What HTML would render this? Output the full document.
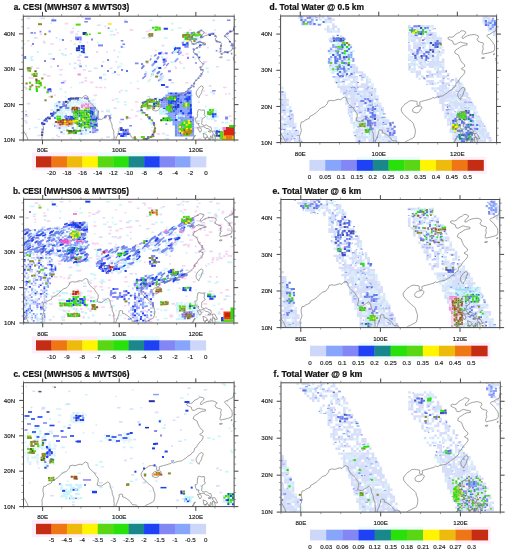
<!DOCTYPE html>
<html><head><meta charset="utf-8"><style>
html,body{margin:0;padding:0;background:#fff;}
svg{display:block;}
.lb{font-family:"Liberation Sans",sans-serif;font-size:6.2px;fill:#1a1a1a;stroke:#1a1a1a;stroke-width:0.15px;}
.tt{font-family:"Liberation Sans",sans-serif;font-size:8.6px;font-weight:bold;fill:#111;}
</style></head><body>
<svg width="509" height="550" viewBox="0 0 509 550">
<defs><filter id="bl" x="-5%" y="-5%" width="110%" height="110%"><feGaussianBlur stdDeviation="0.75"/></filter><filter id="tb" x="-1%" y="-1%" width="102%" height="102%"><feGaussianBlur stdDeviation="0.2"/></filter></defs>
<rect width="509" height="550" fill="#fff"/>
<clipPath id="clipa"><rect x="23.3" y="16.2" width="210.9" height="123.8"/></clipPath>
<g clip-path="url(#clipa)">
<g filter="url(#bl)">
<path d="M77.4 16.2h1.8v1.6h-1.8zM64.7 22.8h3.6v1.6h-3.6zM129.6 29.1h3.6v1.6h-3.6zM188.9 29.2h2.7v1.6h-2.7zM70.3 30.8h3.6v1.6h-3.6zM145.8 30.7h3.6v1.6h-3.6zM228.4 30.6h1.8v1.6h-1.8zM116.8 32.1h1.8v1.6h-1.8zM203.2 32.3h3.6v1.6h-3.6zM39.6 33.6h2.7v1.6h-2.7zM226.9 35.3h1.8v1.6h-1.8zM26.9 40.0h2.7v1.6h-2.7zM43.1 40.4h1.8v1.6h-1.8zM50.3 43.2h3.6v1.6h-3.6zM30.5 44.8h1.8v1.6h-1.8zM185.3 53.2h3.6v1.6h-3.6zM181.5 54.5h2.7v1.6h-2.7zM186.9 56.2h1.8v1.6h-1.8zM203.2 61.1h3.6v1.6h-3.6zM79.3 62.6h1.8v1.6h-1.8zM179.8 62.7h2.7v1.6h-2.7zM30.3 65.9h2.7v1.6h-2.7zM116.9 66.0h2.7v1.6h-2.7zM59.3 69.0h3.6v1.6h-3.6zM82.9 69.1h2.7v1.6h-2.7zM77.1 73.6h1.8v1.6h-1.8zM143.7 73.9h3.6v1.6h-3.6zM46.9 75.3h3.6v1.6h-3.6zM28.6 76.8h2.7v1.6h-2.7zM30.6 77.2h3.6v1.6h-3.6zM84.4 77.1h2.7v1.6h-2.7zM84.5 80.1h2.7v1.6h-2.7zM89.9 81.6h3.6v1.6h-3.6zM185.1 82.0h3.6v1.6h-3.6zM95.3 86.4h2.7v1.6h-2.7zM98.8 86.7h3.6v1.6h-3.6zM223.0 86.7h3.6v1.6h-3.6zM25.0 88.1h2.7v1.6h-2.7zM136.8 88.0h2.7v1.6h-2.7zM120.6 89.6h1.8v1.6h-1.8zM225.0 93.2h1.8v1.6h-1.8zM93.5 94.6h3.6v1.6h-3.6zM205.2 94.4h2.7v1.6h-2.7zM48.3 96.0h2.7v1.6h-2.7zM111.7 99.5h2.7v1.6h-2.7zM162.1 99.3h1.8v1.6h-1.8zM66.3 100.9h3.6v1.6h-3.6zM134.8 101.2h3.6v1.6h-3.6zM131.3 109.2h1.8v1.6h-1.8zM145.5 108.8h3.6v1.6h-3.6zM61.2 112.1h3.6v1.6h-3.6zM25.0 115.6h3.6v1.6h-3.6zM66.5 115.6h1.8v1.6h-1.8zM135.0 115.3h2.7v1.6h-2.7zM228.7 115.3h2.7v1.6h-2.7zM127.7 117.1h3.6v1.6h-3.6zM185.1 117.2h3.6v1.6h-3.6zM140.3 118.5h1.8v1.6h-1.8zM178.2 120.2h1.8v1.6h-1.8zM230.2 120.0h1.8v1.6h-1.8zM91.5 121.6h3.6v1.6h-3.6zM86.3 126.6h1.8v1.6h-1.8zM188.9 126.7h2.7v1.6h-2.7zM151.0 130.0h1.8v1.6h-1.8zM214.2 131.5h3.6v1.6h-3.6zM25.3 132.8h1.8v1.6h-1.8zM73.7 133.2h2.7v1.6h-2.7zM156.5 133.1h3.6v1.6h-3.6zM162.1 132.8h2.7v1.6h-2.7zM57.6 136.0h2.7v1.6h-2.7zM113.1 136.4h3.6v1.6h-3.6zM69.9 137.6h1.8v1.6h-1.8zM100.5 137.7h2.7v1.6h-2.7z" fill="#fad2f0"/>
<path d="M81.1 16.3h2.7v1.6h-2.7zM26.7 17.6h3.6v1.6h-3.6zM41.5 17.6h3.6v1.6h-3.6zM52.2 17.8h1.8v1.6h-1.8zM124.0 19.4h2.7v1.6h-2.7zM212.4 19.6h2.7v1.6h-2.7zM107.7 22.8h3.6v1.6h-3.6zM96.9 24.4h3.6v1.6h-3.6zM104.4 25.6h1.8v1.6h-1.8zM26.9 27.4h2.7v1.6h-2.7zM115.0 29.0h1.8v1.6h-1.8zM149.5 29.2h1.8v1.6h-1.8zM77.4 30.7h1.8v1.6h-1.8zM70.2 32.1h2.7v1.6h-2.7zM212.3 32.1h2.7v1.6h-2.7zM75.4 33.6h2.7v1.6h-2.7zM113.1 34.0h2.7v1.6h-2.7zM34.0 37.1h3.6v1.6h-3.6zM55.7 37.1h1.8v1.6h-1.8zM147.6 36.9h3.6v1.6h-3.6zM69.9 40.2h1.8v1.6h-1.8zM43.0 41.9h2.7v1.6h-2.7zM78.9 41.6h2.7v1.6h-2.7zM86.5 41.7h1.8v1.6h-1.8zM161.7 44.8h2.7v1.6h-2.7zM207.0 46.8h1.8v1.6h-1.8zM64.8 48.1h1.8v1.6h-1.8zM113.5 49.6h1.8v1.6h-1.8zM154.8 49.7h1.8v1.6h-1.8zM106.0 51.2h1.8v1.6h-1.8zM61.0 52.9h2.7v1.6h-2.7zM70.1 52.9h1.8v1.6h-1.8zM160.3 53.0h3.6v1.6h-3.6zM78.9 54.6h2.7v1.6h-2.7zM77.1 56.4h2.7v1.6h-2.7zM198.0 56.0h2.7v1.6h-2.7zM50.1 57.9h3.6v1.6h-3.6zM77.2 59.6h3.6v1.6h-3.6zM107.7 59.6h1.8v1.6h-1.8zM226.6 59.5h3.6v1.6h-3.6zM102.5 61.0h1.8v1.6h-1.8zM115.3 61.2h1.8v1.6h-1.8zM73.7 62.4h2.7v1.6h-2.7zM145.8 62.4h2.7v1.6h-2.7zM163.5 62.6h1.8v1.6h-1.8zM142.3 64.2h1.8v1.6h-1.8zM50.3 66.0h1.8v1.6h-1.8zM216.0 66.0h2.7v1.6h-2.7zM35.9 67.5h3.6v1.6h-3.6zM73.5 67.4h2.7v1.6h-2.7zM93.7 67.4h2.7v1.6h-2.7zM109.6 67.5h2.7v1.6h-2.7zM88.0 70.4h3.6v1.6h-3.6zM43.0 73.7h3.6v1.6h-3.6zM59.4 73.9h2.7v1.6h-2.7zM158.5 75.4h3.6v1.6h-3.6zM161.7 75.2h2.7v1.6h-2.7zM162.0 76.8h1.8v1.6h-1.8zM104.4 78.7h1.8v1.6h-1.8zM62.7 80.3h3.6v1.6h-3.6zM81.1 81.6h2.7v1.6h-2.7zM170.7 81.9h3.6v1.6h-3.6zM208.8 85.1h2.7v1.6h-2.7zM23.2 86.4h3.6v1.6h-3.6zM104.2 86.7h1.8v1.6h-1.8zM187.2 88.2h3.6v1.6h-3.6zM203.3 90.0h1.8v1.6h-1.8zM118.7 91.3h1.8v1.6h-1.8zM212.4 92.8h2.7v1.6h-2.7zM228.4 93.0h1.8v1.6h-1.8zM53.9 94.6h1.8v1.6h-1.8zM177.9 94.7h1.8v1.6h-1.8zM189.1 94.6h3.6v1.6h-3.6zM147.3 96.0h2.7v1.6h-2.7zM232.0 98.0h2.7v1.6h-2.7zM198.0 101.2h1.8v1.6h-1.8zM26.7 102.8h3.6v1.6h-3.6zM172.9 104.1h1.8v1.6h-1.8zM113.4 107.4h3.6v1.6h-3.6zM50.3 109.2h2.7v1.6h-2.7zM24.9 110.6h1.8v1.6h-1.8zM100.9 110.6h2.7v1.6h-2.7zM106.3 110.7h3.6v1.6h-3.6zM136.5 110.6h3.6v1.6h-3.6zM167.2 110.4h1.8v1.6h-1.8zM57.3 112.4h3.6v1.6h-3.6zM226.6 117.0h1.8v1.6h-1.8zM108.0 118.7h2.7v1.6h-2.7zM89.9 120.3h3.6v1.6h-3.6zM196.2 120.2h3.6v1.6h-3.6zM214.0 120.0h2.7v1.6h-2.7zM25.0 121.9h2.7v1.6h-2.7zM118.9 121.6h2.7v1.6h-2.7zM221.3 121.7h2.7v1.6h-2.7zM150.9 123.4h1.8v1.6h-1.8zM57.6 125.1h3.6v1.6h-3.6zM181.9 126.4h2.7v1.6h-2.7zM194.5 126.8h3.6v1.6h-3.6zM28.7 128.1h1.8v1.6h-1.8zM214.2 129.8h1.8v1.6h-1.8zM118.5 132.8h3.6v1.6h-3.6zM37.5 134.7h2.7v1.6h-2.7zM55.9 134.6h1.8v1.6h-1.8zM106.3 136.3h3.6v1.6h-3.6zM165.4 137.9h3.6v1.6h-3.6zM197.8 138.0h3.6v1.6h-3.6z" fill="#dcdcfa"/>
<path d="M158.1 16.2h3.6v1.6h-3.6zM39.5 17.7h2.7v1.6h-2.7zM149.1 19.5h3.6v1.6h-3.6zM50.3 22.6h1.8v1.6h-1.8zM171.0 22.8h2.7v1.6h-2.7zM99.0 24.3h1.8v1.6h-1.8zM72.0 27.5h2.7v1.6h-2.7zM178.0 27.2h3.6v1.6h-3.6zM171.0 29.1h2.7v1.6h-2.7zM214.0 29.1h1.8v1.6h-1.8zM109.8 30.5h3.6v1.6h-3.6zM183.5 32.0h3.6v1.6h-3.6zM109.9 34.0h2.7v1.6h-2.7zM142.0 37.1h3.6v1.6h-3.6zM163.9 37.2h3.6v1.6h-3.6zM198.0 37.2h2.7v1.6h-2.7zM59.1 38.7h2.7v1.6h-2.7zM97.1 41.9h1.8v1.6h-1.8zM23.1 43.2h2.7v1.6h-2.7zM73.6 43.6h2.7v1.6h-2.7zM122.4 46.5h2.7v1.6h-2.7zM77.4 49.6h3.6v1.6h-3.6zM118.6 51.4h1.8v1.6h-1.8zM48.3 53.2h3.6v1.6h-3.6zM84.5 53.2h1.8v1.6h-1.8zM62.7 54.4h3.6v1.6h-3.6zM30.5 56.1h2.7v1.6h-2.7zM30.3 57.8h1.8v1.6h-1.8zM194.4 57.8h1.8v1.6h-1.8zM30.4 59.5h3.6v1.6h-3.6zM156.3 60.8h1.8v1.6h-1.8zM120.6 62.8h1.8v1.6h-1.8zM77.5 64.2h3.6v1.6h-3.6zM118.6 65.6h2.7v1.6h-2.7zM174.3 65.8h1.8v1.6h-1.8zM95.5 67.6h2.7v1.6h-2.7zM117.1 67.2h1.8v1.6h-1.8zM205.2 67.6h3.6v1.6h-3.6zM151.3 70.5h3.6v1.6h-3.6zM111.7 72.4h2.7v1.6h-2.7zM102.7 73.8h3.6v1.6h-3.6zM116.7 74.0h3.6v1.6h-3.6zM100.5 78.8h1.8v1.6h-1.8zM136.7 80.4h1.8v1.6h-1.8zM79.0 82.0h1.8v1.6h-1.8zM129.7 82.0h1.8v1.6h-1.8zM70.2 86.7h1.8v1.6h-1.8zM59.3 88.3h2.7v1.6h-2.7zM124.3 89.9h3.6v1.6h-3.6zM167.1 89.8h1.8v1.6h-1.8zM64.6 91.3h1.8v1.6h-1.8zM210.3 91.5h3.6v1.6h-3.6zM64.8 96.2h1.8v1.6h-1.8zM81.0 97.7h1.8v1.6h-1.8zM114.9 97.9h3.6v1.6h-3.6zM156.7 97.6h2.7v1.6h-2.7zM91.5 99.5h3.6v1.6h-3.6zM116.7 101.2h2.7v1.6h-2.7zM123.9 101.2h2.7v1.6h-2.7zM149.1 101.1h2.7v1.6h-2.7zM55.5 102.7h1.8v1.6h-1.8zM62.9 102.8h1.8v1.6h-1.8zM177.9 102.5h2.7v1.6h-2.7zM124.0 104.0h2.7v1.6h-2.7zM185.5 105.8h2.7v1.6h-2.7zM205.0 106.0h1.8v1.6h-1.8zM106.0 109.2h3.6v1.6h-3.6zM163.6 109.2h2.7v1.6h-2.7zM187.0 109.0h3.6v1.6h-3.6zM73.5 112.3h1.8v1.6h-1.8zM90.0 112.0h2.7v1.6h-2.7zM176.3 112.4h1.8v1.6h-1.8zM50.4 114.0h2.7v1.6h-2.7zM89.8 114.0h3.6v1.6h-3.6zM109.7 113.8h2.7v1.6h-2.7zM167.2 113.6h3.6v1.6h-3.6zM53.7 115.5h3.6v1.6h-3.6zM199.7 117.1h2.7v1.6h-2.7zM37.7 118.4h2.7v1.6h-2.7zM126.0 118.5h1.8v1.6h-1.8zM23.4 120.1h3.6v1.6h-3.6zM149.5 122.0h2.7v1.6h-2.7zM224.9 121.8h3.6v1.6h-3.6zM51.9 123.4h3.6v1.6h-3.6zM61.1 123.4h2.7v1.6h-2.7zM187.3 125.0h1.8v1.6h-1.8zM34.1 126.7h3.6v1.6h-3.6zM151.3 126.4h1.8v1.6h-1.8zM232.0 126.5h3.6v1.6h-3.6zM93.4 128.3h3.6v1.6h-3.6zM203.4 131.6h3.6v1.6h-3.6zM165.5 134.5h3.6v1.6h-3.6zM187.0 134.5h3.6v1.6h-3.6zM147.6 136.3h3.6v1.6h-3.6zM212.1 136.4h3.6v1.6h-3.6zM52.2 137.6h1.8v1.6h-1.8zM78.9 137.8h1.8v1.6h-1.8zM111.3 138.0h1.8v1.6h-1.8z" fill="#c8f5fa"/>
<path d="M226.9 19.5h3.6v1.6h-3.6zM84.3 20.9h3.6v1.6h-3.6zM124.3 21.1h3.6v1.6h-3.6zM107.7 27.3h1.8v1.6h-1.8zM39.6 30.8h1.8v1.6h-1.8zM30.5 32.1h2.7v1.6h-2.7zM34.0 32.2h1.8v1.6h-1.8zM147.7 33.9h2.7v1.6h-2.7zM120.7 40.0h2.7v1.6h-2.7zM122.4 43.5h2.7v1.6h-2.7zM192.6 48.3h1.8v1.6h-1.8zM215.7 49.9h1.8v1.6h-1.8zM194.3 53.2h1.8v1.6h-1.8zM84.6 56.3h3.6v1.6h-3.6zM192.4 56.4h1.8v1.6h-1.8zM134.9 62.6h3.6v1.6h-3.6zM79.3 65.6h2.7v1.6h-2.7zM26.7 67.2h3.6v1.6h-3.6zM151.2 73.6h2.7v1.6h-2.7zM60.9 81.9h3.6v1.6h-3.6zM48.3 88.0h2.7v1.6h-2.7zM212.1 90.0h3.6v1.6h-3.6zM77.2 99.5h3.6v1.6h-3.6zM181.8 110.8h2.7v1.6h-2.7zM142.1 112.0h3.6v1.6h-3.6zM25.3 114.0h1.8v1.6h-1.8zM88.3 115.4h2.7v1.6h-2.7zM120.4 118.7h3.6v1.6h-3.6zM70.3 121.8h2.7v1.6h-2.7zM165.5 123.2h1.8v1.6h-1.8zM129.3 124.9h2.7v1.6h-2.7zM80.8 129.9h2.7v1.6h-2.7zM127.8 133.1h2.7v1.6h-2.7zM226.6 134.8h2.7v1.6h-2.7zM185.4 137.8h1.8v1.6h-1.8z" fill="#8287f5"/>
<path d="M145.4 100.5h1.8v1.5h-1.8z" fill="#87a5fa"/>
<path d="M146.2 100.5h1.8v1.5h-1.8z" fill="#8287f5"/>
<path d="M148.7 98.4h1.8v1.5h-1.8z" fill="#8287f5"/>
<path d="M151.3 99.2h1.8v1.5h-1.8z" fill="#8287f5"/>
<path d="M158.4 100.4h1.8v1.5h-1.8z" fill="#8287f5"/>
<path d="M158.8 98.9h1.8v1.5h-1.8z" fill="#1e41f5"/>
<path d="M161.6 98.2h1.8v1.5h-1.8z" fill="#1e41f5"/>
<path d="M164.7 97.7h1.8v1.5h-1.8z" fill="#8287f5"/>
<path d="M166.4 98.2h1.8v1.5h-1.8z" fill="#8287f5"/>
<path d="M167.9 96.6h1.8v1.5h-1.8z" fill="#8287f5"/>
<path d="M167.6 97.2h1.8v1.5h-1.8z" fill="#8287f5"/>
<path d="M171.3 95.0h1.8v1.5h-1.8z" fill="#8287f5"/>
<path d="M172.0 96.2h1.8v1.5h-1.8z" fill="#87a5fa"/>
<path d="M172.9 96.6h1.8v1.5h-1.8z" fill="#8287f5"/>
<path d="M174.5 94.8h1.8v1.5h-1.8z" fill="#1e41f5"/>
<path d="M175.4 95.2h1.8v1.5h-1.8z" fill="#8287f5"/>
<path d="M178.5 93.1h1.8v1.5h-1.8z" fill="#8287f5"/>
<path d="M180.8 92.7h1.8v1.5h-1.8z" fill="#8287f5"/>
<path d="M182.2 92.4h1.8v1.5h-1.8z" fill="#8287f5"/>
<path d="M187.9 87.9h1.8v1.5h-1.8z" fill="#8287f5"/>
<path d="M189.7 86.7h1.8v1.5h-1.8z" fill="#8287f5"/>
<path d="M190.8 84.7h1.8v1.5h-1.8z" fill="#8287f5"/>
<path d="M192.9 85.9h1.8v1.5h-1.8z" fill="#8287f5"/>
<path d="M193.4 83.0h1.8v1.5h-1.8z" fill="#8287f5"/>
<path d="M193.2 82.5h1.8v1.5h-1.8z" fill="#8287f5"/>
<path d="M195.1 79.6h1.8v1.5h-1.8z" fill="#8287f5"/>
<path d="M197.8 77.5h1.8v1.5h-1.8z" fill="#8287f5"/>
<path d="M199.6 75.4h1.8v1.5h-1.8z" fill="#8287f5"/>
<path d="M200.6 73.8h1.8v1.5h-1.8z" fill="#87a5fa"/>
<path d="M200.5 73.0h1.8v1.5h-1.8z" fill="#8287f5"/>
<path d="M201.6 69.1h1.8v1.5h-1.8z" fill="#8287f5"/>
<path d="M200.0 69.1h1.8v1.5h-1.8z" fill="#8287f5"/>
<path d="M199.6 66.5h1.8v1.5h-1.8z" fill="#8287f5"/>
<path d="M202.6 62.8h1.8v1.5h-1.8z" fill="#87a5fa"/>
<path d="M198.4 56.8h1.8v1.5h-1.8z" fill="#1e41f5"/>
<path d="M196.0 54.3h1.8v1.5h-1.8z" fill="#87a5fa"/>
<path d="M195.7 53.6h1.8v1.5h-1.8z" fill="#8287f5"/>
<path d="M193.0 49.1h1.8v1.5h-1.8z" fill="#8287f5"/>
<path d="M196.2 47.2h1.8v1.5h-1.8z" fill="#8287f5"/>
<path d="M198.9 46.2h1.8v1.5h-1.8z" fill="#8287f5"/>
<path d="M199.1 44.6h1.8v1.5h-1.8z" fill="#1e41f5"/>
<path d="M199.7 44.5h1.8v1.5h-1.8z" fill="#1e41f5"/>
<path d="M203.7 43.8h1.8v1.5h-1.8z" fill="#8287f5"/>
<path d="M202.3 42.6h1.8v1.5h-1.8z" fill="#8287f5"/>
<path d="M200.3 41.6h1.8v1.5h-1.8z" fill="#87a5fa"/>
<path d="M198.9 40.8h1.8v1.5h-1.8z" fill="#8287f5"/>
<path d="M197.7 41.9h1.8v1.5h-1.8z" fill="#87a5fa"/>
<path d="M196.7 41.6h1.8v1.5h-1.8z" fill="#8287f5"/>
<path d="M194.8 42.9h1.8v1.5h-1.8z" fill="#8287f5"/>
<path d="M192.9 43.5h1.8v1.5h-1.8z" fill="#8287f5"/>
<path d="M191.5 43.1h1.8v1.5h-1.8z" fill="#87a5fa"/>
<path d="M189.2 40.1h1.8v1.5h-1.8z" fill="#8287f5"/>
<path d="M189.2 39.6h1.8v1.5h-1.8z" fill="#8287f5"/>
<path d="M187.5 35.4h1.8v1.5h-1.8z" fill="#1e41f5"/>
<path d="M187.5 35.1h1.8v1.5h-1.8z" fill="#8287f5"/>
<path d="M188.7 36.6h1.8v1.5h-1.8z" fill="#1e41f5"/>
<path d="M191.7 34.6h1.8v1.5h-1.8z" fill="#8287f5"/>
<path d="M192.5 36.1h1.8v1.5h-1.8z" fill="#87a5fa"/>
<path d="M197.2 31.0h1.8v1.5h-1.8z" fill="#87a5fa"/>
<path d="M197.1 31.7h1.8v1.5h-1.8z" fill="#87a5fa"/>
<path d="M198.5 30.7h1.8v1.5h-1.8z" fill="#87a5fa"/>
<path d="M198.5 31.3h1.8v1.5h-1.8z" fill="#8287f5"/>
<path d="M200.4 29.6h1.8v1.5h-1.8z" fill="#8287f5"/>
<path d="M200.5 35.5h1.8v1.5h-1.8z" fill="#8287f5"/>
<path d="M200.5 34.9h1.8v1.5h-1.8z" fill="#8287f5"/>
<path d="M200.1 36.4h1.8v1.5h-1.8z" fill="#1e41f5"/>
<path d="M200.2 36.5h1.8v1.5h-1.8z" fill="#8287f5"/>
<path d="M201.6 36.3h1.8v1.5h-1.8z" fill="#8287f5"/>
<path d="M208.2 33.6h1.8v1.5h-1.8z" fill="#8287f5"/>
<path d="M210.5 32.8h1.8v1.5h-1.8z" fill="#8287f5"/>
<path d="M209.8 33.5h1.8v1.5h-1.8z" fill="#8287f5"/>
<path d="M212.3 33.2h1.8v1.5h-1.8z" fill="#1e41f5"/>
<path d="M214.2 35.4h1.8v1.5h-1.8z" fill="#8287f5"/>
<path d="M215.5 39.9h1.8v1.5h-1.8z" fill="#87a5fa"/>
<path d="M215.8 40.7h1.8v1.5h-1.8z" fill="#8287f5"/>
<path d="M216.8 41.0h1.8v1.5h-1.8z" fill="#8287f5"/>
<path d="M219.0 41.6h1.8v1.5h-1.8z" fill="#87a5fa"/>
<path d="M220.2 44.9h1.8v1.5h-1.8z" fill="#1e41f5"/>
<path d="M220.1 44.8h1.8v1.5h-1.8z" fill="#8287f5"/>
<path d="M219.4 47.9h1.8v1.5h-1.8z" fill="#8287f5"/>
<path d="M219.8 50.5h1.8v1.5h-1.8z" fill="#8287f5"/>
<path d="M220.8 53.5h1.8v1.5h-1.8z" fill="#8287f5"/>
<path d="M224.1 51.0h1.8v1.5h-1.8z" fill="#8287f5"/>
<path d="M225.8 51.3h1.8v1.5h-1.8z" fill="#8287f5"/>
<path d="M226.8 51.8h1.8v1.5h-1.8z" fill="#1e41f5"/>
<path d="M232.2 47.7h1.8v1.5h-1.8z" fill="#87a5fa"/>
<path d="M232.1 45.1h1.8v1.5h-1.8z" fill="#8287f5"/>
<path d="M230.4 44.7h1.8v1.5h-1.8z" fill="#8287f5"/>
<path d="M232.1 43.3h1.8v1.5h-1.8z" fill="#87a5fa"/>
<path d="M231.4 43.7h1.8v1.5h-1.8z" fill="#8287f5"/>
<path d="M228.9 40.9h1.8v1.5h-1.8z" fill="#1e41f5"/>
<path d="M224.5 35.7h1.8v1.5h-1.8z" fill="#8287f5"/>
<path d="M223.9 35.5h1.8v1.5h-1.8z" fill="#87a5fa"/>
<path d="M226.4 32.9h1.8v1.5h-1.8z" fill="#1e41f5"/>
<path d="M227.0 32.6h1.8v1.5h-1.8z" fill="#8287f5"/>
<path d="M229.9 30.5h1.8v1.5h-1.8z" fill="#8287f5"/>
<path d="M229.4 30.7h1.8v1.5h-1.8z" fill="#1e41f5"/>
<path d="M233.2 29.3h1.8v1.5h-1.8z" fill="#1e41f5"/>
<path d="M233.1 28.3h1.8v1.5h-1.8z" fill="#1e41f5"/>
<path d="M233.8 27.4h1.8v1.5h-1.8z" fill="#87a5fa"/>
<path d="M40.9 134.1h2.2v1.8h-2.2z" fill="#2832a0"/>
<path d="M41.2 131.5h2.2v1.8h-2.2z" fill="#2832a0"/>
<path d="M41.4 128.6h2.2v1.8h-2.2z" fill="#8287f5"/>
<path d="M41.4 122.9h2.2v1.8h-2.2z" fill="#1e41f5"/>
<path d="M41.1 122.1h2.2v1.8h-2.2z" fill="#1e41f5"/>
<path d="M44.1 119.5h2.2v1.8h-2.2z" fill="#2832a0"/>
<path d="M45.7 117.3h2.2v1.8h-2.2z" fill="#8287f5"/>
<path d="M45.1 118.1h2.2v1.8h-2.2z" fill="#1e41f5"/>
<path d="M47.0 116.6h2.2v1.8h-2.2z" fill="#1e41f5"/>
<path d="M51.1 113.4h2.2v1.8h-2.2z" fill="#8287f5"/>
<path d="M53.0 112.8h2.2v1.8h-2.2z" fill="#1e41f5"/>
<path d="M53.4 110.9h2.2v1.8h-2.2z" fill="#1e41f5"/>
<path d="M56.1 109.2h2.2v1.8h-2.2z" fill="#2832a0"/>
<path d="M60.2 107.3h2.2v1.8h-2.2z" fill="#8287f5"/>
<path d="M61.8 106.0h2.2v1.8h-2.2z" fill="#1e41f5"/>
<path d="M64.2 104.8h2.2v1.8h-2.2z" fill="#8287f5"/>
<path d="M65.1 104.6h2.2v1.8h-2.2z" fill="#2832a0"/>
<path d="M65.7 103.4h2.2v1.8h-2.2z" fill="#1e41f5"/>
<path d="M67.2 102.4h2.2v1.8h-2.2z" fill="#8287f5"/>
<path d="M67.8 101.2h2.2v1.8h-2.2z" fill="#1e41f5"/>
<path d="M68.7 100.0h2.2v1.8h-2.2z" fill="#2832a0"/>
<path d="M69.1 98.8h2.2v1.8h-2.2z" fill="#8287f5"/>
<path d="M70.2 98.0h2.2v1.8h-2.2z" fill="#8287f5"/>
<path d="M86.4 97.8h2.2v1.8h-2.2z" fill="#8287f5"/>
<path d="M88.2 100.5h2.2v1.8h-2.2z" fill="#8287f5"/>
<path d="M90.3 103.8h2.2v1.8h-2.2z" fill="#8287f5"/>
<path d="M93.5 106.0h2.2v1.8h-2.2z" fill="#8287f5"/>
<path d="M96.8 110.6h2.2v1.8h-2.2z" fill="#8287f5"/>
<path d="M96.6 111.7h2.2v1.8h-2.2z" fill="#8287f5"/>
<path d="M96.5 114.3h2.2v1.8h-2.2z" fill="#87a5fa"/>
<path d="M96.6 115.9h2.2v1.8h-2.2z" fill="#8287f5"/>
<path d="M97.0 118.3h2.2v1.8h-2.2z" fill="#8287f5"/>
<path d="M104.0 116.6h2.2v1.8h-2.2z" fill="#8287f5"/>
<path d="M104.2 115.8h2.2v1.8h-2.2z" fill="#8287f5"/>
<path d="M104.8 115.0h2.2v1.8h-2.2z" fill="#87a5fa"/>
<path d="M108.6 115.1h2.2v1.8h-2.2z" fill="#8287f5"/>
<path d="M108.9 116.9h2.2v1.8h-2.2z" fill="#87a5fa"/>
<path d="M109.1 117.1h2.2v1.8h-2.2z" fill="#8287f5"/>
<path d="M142.8 138.3h2.2v1.8h-2.2z" fill="#8c8c28"/>
<path d="M143.7 139.5h2.2v1.8h-2.2z" fill="#8c8c28"/>
<path d="M145.3 138.0h2.2v1.8h-2.2z" fill="#1e41f5"/>
<path d="M145.5 137.9h2.2v1.8h-2.2z" fill="#1e41f5"/>
<path d="M147.0 137.1h2.2v1.8h-2.2z" fill="#1e41f5"/>
<path d="M147.1 136.3h2.2v1.8h-2.2z" fill="#1e41f5"/>
<path d="M147.1 136.9h2.2v1.8h-2.2z" fill="#8c8c28"/>
<path d="M149.8 136.1h2.2v1.8h-2.2z" fill="#8c8c28"/>
<path d="M150.8 135.5h2.2v1.8h-2.2z" fill="#8c8c28"/>
<path d="M152.3 135.3h2.2v1.8h-2.2z" fill="#8c8c28"/>
<path d="M151.7 133.6h2.2v1.8h-2.2z" fill="#1e41f5"/>
<path d="M152.8 131.4h2.2v1.8h-2.2z" fill="#8c8c28"/>
<path d="M153.6 130.8h2.2v1.8h-2.2z" fill="#8c8c28"/>
<path d="M153.5 129.2h2.2v1.8h-2.2z" fill="#8c8c28"/>
<path d="M153.9 127.3h2.2v1.8h-2.2z" fill="#8c8c28"/>
<path d="M153.0 124.1h2.2v1.8h-2.2z" fill="#8c8c28"/>
<path d="M152.7 122.3h2.2v1.8h-2.2z" fill="#1e41f5"/>
<path d="M150.8 119.4h2.2v1.8h-2.2z" fill="#5ad714"/>
<path d="M148.4 117.6h2.2v1.8h-2.2z" fill="#1e41f5"/>
<path d="M148.4 116.4h2.2v1.8h-2.2z" fill="#1e41f5"/>
<path d="M147.1 116.1h2.2v1.8h-2.2z" fill="#5ad714"/>
<path d="M146.0 114.0h2.2v1.8h-2.2z" fill="#8c8c28"/>
<path d="M145.0 114.0h2.2v1.8h-2.2z" fill="#8c8c28"/>
<path d="M141.4 111.8h2.2v1.8h-2.2z" fill="#5ad714"/>
<path d="M140.4 109.4h2.2v1.8h-2.2z" fill="#1e41f5"/>
<path d="M140.7 106.2h2.2v1.8h-2.2z" fill="#8c8c28"/>
<path d="M141.0 105.1h2.2v1.8h-2.2z" fill="#8c8c28"/>
<path d="M142.4 104.2h2.2v1.8h-2.2z" fill="#5ad714"/>
<path d="M141.8 101.9h2.2v1.8h-2.2z" fill="#1e41f5"/>
<path d="M142.8 101.4h2.2v1.8h-2.2z" fill="#8c8c28"/>
<path d="M144.5 100.9h2.2v1.8h-2.2z" fill="#1e41f5"/>
<path d="M146.7 100.0h2.2v1.8h-2.2z" fill="#8c8c28"/>
<path d="M146.7 99.3h2.2v1.8h-2.2z" fill="#8c8c28"/>
<path d="M148.2 99.3h2.2v1.8h-2.2z" fill="#5ad714"/>
<path d="M154.3 97.9h2.2v1.8h-2.2z" fill="#8c8c28"/>
<path d="M154.4 98.1h2.2v1.8h-2.2z" fill="#1e41f5"/>
<path d="M156.4 101.0h2.2v1.8h-2.2z" fill="#8c8c28"/>
<path d="M155.2 102.3h2.2v1.8h-2.2z" fill="#1e41f5"/>
<path d="M156.4 101.7h2.2v1.8h-2.2z" fill="#1e41f5"/>
<path d="M51.3 19.4h5.0v2.0h-5.0z" fill="#5a78e6"/>
<path d="M84.8 17.7h6.0v2.0h-6.0z" fill="#8287f5"/>
<path d="M38.0 23.2h4.0v2.0h-4.0z" fill="#8c8c28"/>
<path d="M75.7 23.6h5.0v2.0h-5.0z" fill="#5ad714"/>
<path d="M48.6 30.4h2.0v2.0h-2.0z" fill="#8287f5"/>
<path d="M44.3 33.2h2.0v2.0h-2.0z" fill="#8c8c28"/>
<path d="M82.6 32.0h4.0v3.0h-4.0z" fill="#2832a0"/>
<path d="M85.0 33.5h3.0v2.0h-3.0z" fill="#28e10a"/>
<path d="M88.9 33.5h2.0v1.5h-2.0z" fill="#5ad714"/>
<path d="M97.9 32.4h3.0v1.5h-3.0z" fill="#5ad714"/>
<path d="M91.0 38.5h2.0v2.0h-2.0z" fill="#8287f5"/>
<path d="M98.0 44.4h5.0v2.0h-5.0z" fill="#8287f5"/>
<path d="M120.7 45.9h2.0v2.0h-2.0z" fill="#8287f5"/>
<path d="M24.2 56.0h2.0v3.0h-2.0z" fill="#5a78e6"/>
<path d="M52.8 58.0h2.0v2.0h-2.0z" fill="#8287f5"/>
<path d="M77.8 73.5h3.0v2.0h-3.0z" fill="#f08cd2"/>
<path d="M99.0 76.7h3.0v2.0h-3.0z" fill="#8287f5"/>
<path d="M107.0 70.0h2.0v2.0h-2.0z" fill="#8287f5"/>
<path d="M114.0 71.0h2.0v2.0h-2.0z" fill="#8287f5"/>
<path d="M121.0 69.0h2.0v2.0h-2.0z" fill="#8287f5"/>
<path d="M126.0 70.0h2.0v2.0h-2.0z" fill="#5a78e6"/>
<path d="M59.0 49.2h2.0v1.5h-2.0z" fill="#c8f5fa"/>
<path d="M65.0 54.0h2.0v2.0h-2.0z" fill="#c8f5fa"/>
<path d="M69.0 63.0h2.0v2.0h-2.0z" fill="#c8f5fa"/>
<path d="M85.0 65.0h2.0v2.0h-2.0z" fill="#c8f5fa"/>
<path d="M44.0 60.0h2.0v2.0h-2.0z" fill="#8287f5"/>
<path d="M57.0 65.2h2.0v1.5h-2.0z" fill="#8287f5"/>
<path d="M37.0 51.0h2.0v2.0h-2.0z" fill="#c8f5fa"/>
<path d="M108.5 23.0h3.0v2.0h-3.0z" fill="#fff500"/>
<path d="M96.0 51.0h2.0v2.0h-2.0z" fill="#fad2f0"/>
<path d="M62.0 39.0h2.0v2.0h-2.0z" fill="#8287f5"/>
<path d="M32.0 43.0h2.0v2.0h-2.0z" fill="#8287f5"/>
<path d="M107.0 59.0h2.0v2.0h-2.0z" fill="#8287f5"/>
<path d="M117.0 56.0h2.0v2.0h-2.0z" fill="#c8f5fa"/>
<path d="M101.0 65.0h2.0v2.0h-2.0z" fill="#8287f5"/>
<path d="M75.0 36.6h2.2v2.0h-2.2zM77.2 36.5h2.2v2.0h-2.2zM79.4 36.6h2.2v2.0h-2.2zM75.2 38.3h2.2v2.0h-2.2zM79.5 38.5h2.2v2.0h-2.2z" fill="#8287f5"/>
<path d="M76.9 38.2h2.2v2.0h-2.2z" fill="#1e41f5"/>
<path d="M77.9 45.2h2.2v2.0h-2.2zM82.5 44.9h2.2v2.0h-2.2zM78.0 46.9h2.2v2.0h-2.2zM75.9 49.2h2.2v2.0h-2.2zM78.0 49.2h2.2v2.0h-2.2zM82.7 51.2h2.2v2.0h-2.2z" fill="#2832a0"/>
<path d="M80.6 45.1h2.2v2.0h-2.2zM75.9 47.2h2.2v2.0h-2.2zM80.7 47.2h2.2v2.0h-2.2zM82.6 47.3h2.2v2.0h-2.2zM82.5 49.1h2.2v2.0h-2.2zM80.7 50.8h2.2v2.0h-2.2z" fill="#1e41f5"/>
<path d="M80.1 49.0h2.2v2.0h-2.2zM78.3 50.9h2.2v2.0h-2.2z" fill="#c8f5fa"/>
<path d="M26.9 67.5h2.2v2.0h-2.2zM28.8 69.8h2.2v2.0h-2.2z" fill="#8c8c28"/>
<path d="M29.4 67.4h2.2v2.0h-2.2zM27.2 69.5h2.2v2.0h-2.2z" fill="#5ad714"/>
<path d="M33.3 73.1h2.2v2.0h-2.2zM33.0 75.0h2.2v2.0h-2.2zM35.2 75.1h2.2v2.0h-2.2z" fill="#8c8c28"/>
<path d="M35.6 72.8h2.2v2.0h-2.2z" fill="#5ad714"/>
<path d="M152.0 26.8h2.2v2.0h-2.2zM156.2 26.4h2.2v2.0h-2.2zM154.5 28.9h2.2v2.0h-2.2z" fill="#28e10a"/>
<path d="M154.4 26.4h2.2v2.0h-2.2zM158.4 26.7h2.2v2.0h-2.2zM156.3 28.4h2.2v2.0h-2.2zM158.7 28.6h2.2v2.0h-2.2z" fill="#5ad714"/>
<path d="M163.7 27.8h2.2v2.0h-2.2zM165.7 27.7h2.2v2.0h-2.2z" fill="#1e41f5"/>
<path d="M148.7 32.9h2.2v2.0h-2.2zM151.1 33.1h2.2v2.0h-2.2zM148.6 34.9h2.2v2.0h-2.2zM151.0 34.8h2.2v2.0h-2.2z" fill="#8c8c28"/>
<path d="M185.3 32.0h2.2v2.0h-2.2zM187.8 32.1h2.2v2.0h-2.2zM189.8 32.0h2.2v2.0h-2.2zM187.4 33.7h2.2v2.0h-2.2zM194.1 33.9h2.2v2.0h-2.2zM183.0 35.9h2.2v2.0h-2.2zM187.5 35.9h2.2v2.0h-2.2zM192.1 35.9h2.2v2.0h-2.2zM194.2 36.0h2.2v2.0h-2.2zM196.2 36.1h2.2v2.0h-2.2zM191.8 38.0h2.2v2.0h-2.2zM196.4 38.3h2.2v2.0h-2.2zM183.3 40.2h2.2v2.0h-2.2zM187.4 40.1h2.2v2.0h-2.2zM194.1 39.9h2.2v2.0h-2.2zM185.4 42.1h2.2v2.0h-2.2zM194.0 42.0h2.2v2.0h-2.2z" fill="#c8f5fa"/>
<path d="M185.3 34.1h2.2v2.0h-2.2zM185.4 35.9h2.2v2.0h-2.2zM189.5 37.7h2.2v2.0h-2.2zM194.0 38.2h2.2v2.0h-2.2zM198.7 38.1h2.2v2.0h-2.2zM189.7 39.8h2.2v2.0h-2.2zM196.6 40.0h2.2v2.0h-2.2z" fill="#e6f5fc"/>
<path d="M186.6 31.8h2.2v2.0h-2.2zM190.9 33.8h2.2v2.0h-2.2zM193.1 34.1h2.2v2.0h-2.2zM195.2 34.3h2.2v2.0h-2.2zM186.5 36.1h2.2v2.0h-2.2zM188.8 37.9h2.2v2.0h-2.2zM193.0 37.9h2.2v2.0h-2.2z" fill="#5ad714"/>
<path d="M190.8 32.0h2.2v2.0h-2.2zM190.8 37.9h2.2v2.0h-2.2zM195.0 38.3h2.2v2.0h-2.2z" fill="#8287f5"/>
<path d="M192.8 31.7h2.2v2.0h-2.2zM184.4 35.9h2.2v2.0h-2.2zM184.5 37.9h2.2v2.0h-2.2z" fill="#28e10a"/>
<path d="M182.2 34.0h2.2v2.0h-2.2zM184.4 33.9h2.2v2.0h-2.2zM186.1 33.7h2.2v2.0h-2.2zM188.4 33.9h2.2v2.0h-2.2zM182.1 35.7h2.2v2.0h-2.2zM188.3 35.8h2.2v2.0h-2.2zM190.9 36.1h2.2v2.0h-2.2zM186.3 37.8h2.2v2.0h-2.2zM193.3 40.1h2.2v2.0h-2.2z" fill="#8c8c28"/>
<path d="M186.5 40.2h2.2v2.0h-2.2z" fill="#fff500"/>
<path d="M197.5 31.9h2.2v2.0h-2.2z" fill="#8c8c28"/>
<path d="M194.9 34.2h2.2v2.0h-2.2zM197.2 34.2h2.2v2.0h-2.2zM199.2 33.7h2.2v2.0h-2.2z" fill="#5ad714"/>
<path d="M181.7 41.7h2.2v2.0h-2.2zM186.6 44.0h2.2v2.0h-2.2zM184.3 45.7h2.2v2.0h-2.2zM186.4 45.8h2.2v2.0h-2.2z" fill="#8287f5"/>
<path d="M186.3 42.2h2.2v2.0h-2.2zM182.3 43.8h2.2v2.0h-2.2zM184.2 43.8h2.2v2.0h-2.2z" fill="#1e41f5"/>
<path d="M173.8 47.0h2.2v2.0h-2.2zM176.2 47.3h2.2v2.0h-2.2zM178.5 47.3h2.2v2.0h-2.2zM174.0 48.9h2.2v2.0h-2.2zM176.5 50.9h2.2v2.0h-2.2z" fill="#1e41f5"/>
<path d="M178.1 49.3h2.2v2.0h-2.2z" fill="#8287f5"/>
<path d="M208.7 34.0h2.2v2.0h-2.2z" fill="#1e41f5"/>
<path d="M156.7 68.1L157.5 66.6" stroke="#c8f5fa" stroke-width="2.1" stroke-linecap="round" fill="none"/>
<path d="M175.2 61.4L177.6 58.8" stroke="#87a5fa" stroke-width="1.9" stroke-linecap="round" fill="none"/>
<path d="M172.3 53.0L174.1 51.7" stroke="#8287f5" stroke-width="1.7" stroke-linecap="round" fill="none"/>
<path d="M163.6 65.3L165.0 64.0" stroke="#8287f5" stroke-width="1.4" stroke-linecap="round" fill="none"/>
<path d="M163.7 62.4L166.2 61.0" stroke="#8287f5" stroke-width="1.8" stroke-linecap="round" fill="none"/>
<path d="M144.8 74.5L146.4 72.3" stroke="#87a5fa" stroke-width="1.6" stroke-linecap="round" fill="none"/>
<path d="M165.6 59.7L167.0 57.9" stroke="#fad2f0" stroke-width="1.4" stroke-linecap="round" fill="none"/>
<path d="M148.2 81.5L150.2 79.5" stroke="#c8f5fa" stroke-width="1.8" stroke-linecap="round" fill="none"/>
<path d="M159.3 54.1L161.6 52.4M160.8 74.7L162.0 73.6" stroke="#87a5fa" stroke-width="1.8" stroke-linecap="round" fill="none"/>
<path d="M173.9 53.0L175.8 50.8M160.6 80.7L162.2 79.1" stroke="#c8f5fa" stroke-width="2.0" stroke-linecap="round" fill="none"/>
<path d="M150.2 60.0L151.0 58.7" stroke="#6e82e6" stroke-width="1.3" stroke-linecap="round" fill="none"/>
<path d="M141.9 68.2L143.8 65.9" stroke="#6e82e6" stroke-width="1.9" stroke-linecap="round" fill="none"/>
<path d="M163.4 62.2L164.8 59.9M154.6 55.9L156.0 54.8" stroke="#8287f5" stroke-width="1.5" stroke-linecap="round" fill="none"/>
<path d="M173.8 47.7L175.2 45.9" stroke="#c8f5fa" stroke-width="1.4" stroke-linecap="round" fill="none"/>
<path d="M164.2 68.4L166.3 67.4" stroke="#fad2f0" stroke-width="1.6" stroke-linecap="round" fill="none"/>
<path d="M142.8 78.3L145.4 76.0M158.6 80.6L160.9 77.9" stroke="#8287f5" stroke-width="1.6" stroke-linecap="round" fill="none"/>
<path d="M150.8 76.4L153.0 74.1M152.5 73.1L155.3 71.0" stroke="#c8f5fa" stroke-width="1.6" stroke-linecap="round" fill="none"/>
<path d="M152.8 71.3L155.3 69.1M166.5 65.5L168.4 63.5" stroke="#8287f5" stroke-width="1.3" stroke-linecap="round" fill="none"/>
<path d="M152.3 65.3L154.4 63.0" stroke="#87a5fa" stroke-width="2.1" stroke-linecap="round" fill="none"/>
<path d="M159.3 79.0L160.9 77.9M175.0 52.7L177.1 51.5" stroke="#c8f5fa" stroke-width="1.5" stroke-linecap="round" fill="none"/>
<path d="M157.4 73.3L159.3 71.9" stroke="#6e82e6" stroke-width="2.1" stroke-linecap="round" fill="none"/>
<path d="M178.8 54.1L181.0 52.4" stroke="#87a5fa" stroke-width="2.0" stroke-linecap="round" fill="none"/>
<path d="M157.4 58.8L158.5 57.1" stroke="#8287f5" stroke-width="2.0" stroke-linecap="round" fill="none"/>
<path d="M158.3 52.3h3.0v2.0h-3.0z" fill="#1e41f5"/>
<path d="M164.7 52.3h3.0v2.0h-3.0z" fill="#8287f5"/>
<path d="M154.1 60.7h3.0v2.0h-3.0z" fill="#1e41f5"/>
<path d="M162.5 58.6h3.0v2.0h-3.0z" fill="#1e41f5"/>
<path d="M145.5 60.7h3.0v2.0h-3.0z" fill="#8c8c28"/>
<path d="M158.3 67.0h3.0v2.0h-3.0z" fill="#1e41f5"/>
<path d="M155.1 75.6h3.0v2.0h-3.0z" fill="#8c8c28"/>
<path d="M167.9 70.3h3.0v2.0h-3.0z" fill="#8287f5"/>
<path d="M150.0 55.0h2.0v2.0h-2.0z" fill="#c8f5fa"/>
<path d="M161.0 56.0h2.0v2.0h-2.0z" fill="#c8f5fa"/>
<path d="M170.5 61.0h3.0v2.0h-3.0z" fill="#c8f5fa"/>
<path d="M175.0 67.0h2.0v2.0h-2.0z" fill="#fad2f0"/>
<path d="M141.0 63.0h2.0v2.0h-2.0z" fill="#8287f5"/>
<path d="M145.0 71.0h2.0v2.0h-2.0z" fill="#c8f5fa"/>
<path d="M183.0 67.0h2.0v2.0h-2.0z" fill="#c8f5fa"/>
<path d="M179.0 61.0h2.0v2.0h-2.0z" fill="#fad2f0"/>
<path d="M187.0 57.0h2.0v2.0h-2.0z" fill="#8287f5"/>
<path d="M198.0 51.0h2.0v2.0h-2.0z" fill="#c8f5fa"/>
<path d="M195.0 62.2h2.0v1.5h-2.0z" fill="#8287f5"/>
<path d="M207.0 71.0h2.0v2.0h-2.0z" fill="#c8f5fa"/>
<path d="M168.5 79.0h3.0v2.0h-3.0z" fill="#8287f5"/>
<path d="M161.0 84.0h4.0v2.0h-4.0z" fill="#1e41f5"/>
<path d="M165.5 86.0h3.0v2.0h-3.0z" fill="#8287f5"/>
<path d="M73.9 97.2h2.2v2.0h-2.2zM78.0 97.1h2.2v2.0h-2.2zM67.2 99.1h2.2v2.0h-2.2zM78.4 98.8h2.2v2.0h-2.2zM80.6 99.2h2.2v2.0h-2.2zM93.4 98.9h2.2v2.0h-2.2zM56.1 100.9h2.2v2.0h-2.2zM60.5 101.1h2.2v2.0h-2.2zM71.8 100.9h2.2v2.0h-2.2zM73.6 101.0h2.2v2.0h-2.2zM78.1 101.0h2.2v2.0h-2.2zM91.5 100.9h2.2v2.0h-2.2zM60.4 103.0h2.2v2.0h-2.2zM65.1 102.8h2.2v2.0h-2.2zM67.0 103.2h2.2v2.0h-2.2zM69.3 102.9h2.2v2.0h-2.2zM71.6 103.0h2.2v2.0h-2.2zM75.8 103.2h2.2v2.0h-2.2zM80.2 103.0h2.2v2.0h-2.2zM84.7 102.9h2.2v2.0h-2.2zM93.5 102.8h2.2v2.0h-2.2zM58.6 105.2h2.2v2.0h-2.2zM93.6 105.1h2.2v2.0h-2.2zM54.2 106.9h2.2v2.0h-2.2zM58.5 107.0h2.2v2.0h-2.2zM62.9 107.1h2.2v2.0h-2.2zM69.3 107.0h2.2v2.0h-2.2zM73.7 106.8h2.2v2.0h-2.2zM85.0 107.0h2.2v2.0h-2.2zM95.6 106.9h2.2v2.0h-2.2zM54.1 109.2h2.2v2.0h-2.2zM56.0 108.9h2.2v2.0h-2.2zM62.7 108.9h2.2v2.0h-2.2zM86.8 109.2h2.2v2.0h-2.2zM91.4 109.2h2.2v2.0h-2.2zM63.0 111.0h2.2v2.0h-2.2zM67.3 111.1h2.2v2.0h-2.2zM78.4 111.2h2.2v2.0h-2.2zM91.4 111.2h2.2v2.0h-2.2zM56.4 113.0h2.2v2.0h-2.2zM58.3 113.0h2.2v2.0h-2.2zM69.2 112.9h2.2v2.0h-2.2zM76.2 113.2h2.2v2.0h-2.2zM78.4 112.8h2.2v2.0h-2.2zM87.0 112.8h2.2v2.0h-2.2zM89.4 112.9h2.2v2.0h-2.2zM67.4 115.1h2.2v2.0h-2.2zM71.5 115.1h2.2v2.0h-2.2zM75.9 115.1h2.2v2.0h-2.2zM89.3 115.2h2.2v2.0h-2.2zM56.2 117.2h2.2v2.0h-2.2zM73.6 116.8h2.2v2.0h-2.2zM80.2 116.8h2.2v2.0h-2.2zM93.4 117.0h2.2v2.0h-2.2zM56.3 118.9h2.2v2.0h-2.2zM60.5 119.1h2.2v2.0h-2.2zM62.8 119.2h2.2v2.0h-2.2zM69.2 121.2h2.2v2.0h-2.2zM71.7 121.1h2.2v2.0h-2.2zM84.6 121.2h2.2v2.0h-2.2zM95.7 121.0h2.2v2.0h-2.2zM53.8 123.1h2.2v2.0h-2.2zM73.9 123.0h2.2v2.0h-2.2zM80.5 124.8h2.2v2.0h-2.2zM82.7 124.9h2.2v2.0h-2.2zM89.0 125.0h2.2v2.0h-2.2zM93.8 124.8h2.2v2.0h-2.2zM60.4 127.1h2.2v2.0h-2.2zM62.9 126.8h2.2v2.0h-2.2zM73.6 126.9h2.2v2.0h-2.2zM89.1 126.9h2.2v2.0h-2.2zM95.8 127.2h2.2v2.0h-2.2zM58.5 129.0h2.2v2.0h-2.2zM67.2 129.0h2.2v2.0h-2.2zM71.7 129.0h2.2v2.0h-2.2zM74.0 129.1h2.2v2.0h-2.2zM76.2 129.1h2.2v2.0h-2.2zM89.1 128.8h2.2v2.0h-2.2zM67.4 131.0h2.2v2.0h-2.2zM69.3 131.0h2.2v2.0h-2.2zM76.0 131.2h2.2v2.0h-2.2zM80.5 131.1h2.2v2.0h-2.2zM82.8 131.1h2.2v2.0h-2.2zM69.2 132.8h2.2v2.0h-2.2zM71.6 132.8h2.2v2.0h-2.2zM76.1 132.9h2.2v2.0h-2.2zM82.8 133.2h2.2v2.0h-2.2zM87.0 132.8h2.2v2.0h-2.2z" fill="#e6f5fc"/>
<path d="M75.9 97.2h2.2v2.0h-2.2zM58.2 100.9h2.2v2.0h-2.2zM62.7 101.1h2.2v2.0h-2.2zM62.7 103.1h2.2v2.0h-2.2zM82.7 102.8h2.2v2.0h-2.2zM56.0 104.8h2.2v2.0h-2.2zM62.7 105.0h2.2v2.0h-2.2zM65.1 105.2h2.2v2.0h-2.2zM65.1 107.1h2.2v2.0h-2.2zM67.2 106.9h2.2v2.0h-2.2zM78.0 107.2h2.2v2.0h-2.2zM93.8 106.9h2.2v2.0h-2.2zM58.3 108.9h2.2v2.0h-2.2zM73.7 109.1h2.2v2.0h-2.2zM75.8 109.1h2.2v2.0h-2.2zM71.4 110.8h2.2v2.0h-2.2zM73.7 111.0h2.2v2.0h-2.2zM75.9 111.0h2.2v2.0h-2.2zM82.4 111.2h2.2v2.0h-2.2zM64.9 115.0h2.2v2.0h-2.2zM78.3 115.2h2.2v2.0h-2.2zM53.9 117.1h2.2v2.0h-2.2zM64.8 117.2h2.2v2.0h-2.2zM82.6 116.9h2.2v2.0h-2.2zM91.4 116.9h2.2v2.0h-2.2zM95.7 117.1h2.2v2.0h-2.2zM58.5 118.9h2.2v2.0h-2.2zM67.1 119.2h2.2v2.0h-2.2zM89.4 119.1h2.2v2.0h-2.2zM62.9 120.8h2.2v2.0h-2.2zM65.2 121.1h2.2v2.0h-2.2zM76.2 121.2h2.2v2.0h-2.2zM82.7 121.2h2.2v2.0h-2.2zM87.2 121.0h2.2v2.0h-2.2zM60.5 122.9h2.2v2.0h-2.2zM65.2 122.9h2.2v2.0h-2.2zM80.5 122.8h2.2v2.0h-2.2zM91.6 123.0h2.2v2.0h-2.2zM95.6 123.0h2.2v2.0h-2.2zM54.2 125.1h2.2v2.0h-2.2zM67.3 124.8h2.2v2.0h-2.2zM78.3 125.1h2.2v2.0h-2.2zM95.8 125.0h2.2v2.0h-2.2zM58.4 126.9h2.2v2.0h-2.2zM71.7 126.9h2.2v2.0h-2.2zM93.8 126.8h2.2v2.0h-2.2zM84.9 129.2h2.2v2.0h-2.2zM96.0 129.2h2.2v2.0h-2.2zM60.4 131.2h2.2v2.0h-2.2zM71.8 130.9h2.2v2.0h-2.2zM73.7 131.2h2.2v2.0h-2.2zM89.3 131.1h2.2v2.0h-2.2zM80.2 132.8h2.2v2.0h-2.2z" fill="#8287f5"/>
<path d="M71.7 98.8h2.2v2.0h-2.2zM73.9 99.2h2.2v2.0h-2.2zM87.0 98.9h2.2v2.0h-2.2zM64.9 100.9h2.2v2.0h-2.2zM67.4 100.9h2.2v2.0h-2.2zM69.3 101.2h2.2v2.0h-2.2zM76.0 101.1h2.2v2.0h-2.2zM80.2 101.2h2.2v2.0h-2.2zM82.4 100.9h2.2v2.0h-2.2zM84.9 100.9h2.2v2.0h-2.2zM89.0 101.0h2.2v2.0h-2.2zM54.2 102.8h2.2v2.0h-2.2zM56.2 103.1h2.2v2.0h-2.2zM58.3 103.0h2.2v2.0h-2.2zM78.2 102.8h2.2v2.0h-2.2zM89.3 103.2h2.2v2.0h-2.2zM91.6 102.9h2.2v2.0h-2.2zM53.8 105.0h2.2v2.0h-2.2zM67.4 105.1h2.2v2.0h-2.2zM69.3 104.9h2.2v2.0h-2.2zM74.0 104.8h2.2v2.0h-2.2zM80.2 105.0h2.2v2.0h-2.2zM85.0 104.9h2.2v2.0h-2.2zM56.3 106.9h2.2v2.0h-2.2zM60.4 107.1h2.2v2.0h-2.2zM76.1 107.2h2.2v2.0h-2.2zM82.4 106.9h2.2v2.0h-2.2zM86.9 107.1h2.2v2.0h-2.2zM60.8 109.0h2.2v2.0h-2.2zM65.0 109.1h2.2v2.0h-2.2zM67.1 109.0h2.2v2.0h-2.2zM69.5 109.2h2.2v2.0h-2.2zM71.6 109.2h2.2v2.0h-2.2zM78.0 109.1h2.2v2.0h-2.2zM82.4 109.2h2.2v2.0h-2.2zM89.1 109.0h2.2v2.0h-2.2zM95.7 109.1h2.2v2.0h-2.2zM54.2 110.9h2.2v2.0h-2.2zM56.0 110.8h2.2v2.0h-2.2zM58.6 111.2h2.2v2.0h-2.2zM60.4 111.0h2.2v2.0h-2.2zM80.5 110.9h2.2v2.0h-2.2zM87.0 110.9h2.2v2.0h-2.2zM89.0 111.0h2.2v2.0h-2.2zM95.7 111.0h2.2v2.0h-2.2zM54.2 112.8h2.2v2.0h-2.2zM60.7 113.1h2.2v2.0h-2.2zM64.9 112.8h2.2v2.0h-2.2zM71.7 113.0h2.2v2.0h-2.2zM73.9 113.1h2.2v2.0h-2.2zM80.6 112.9h2.2v2.0h-2.2zM82.6 113.0h2.2v2.0h-2.2zM93.4 113.2h2.2v2.0h-2.2zM56.1 115.1h2.2v2.0h-2.2zM58.4 115.1h2.2v2.0h-2.2zM60.8 115.2h2.2v2.0h-2.2zM62.6 115.1h2.2v2.0h-2.2zM80.4 114.9h2.2v2.0h-2.2zM82.4 114.8h2.2v2.0h-2.2zM91.5 114.9h2.2v2.0h-2.2zM93.4 114.8h2.2v2.0h-2.2zM95.9 115.1h2.2v2.0h-2.2zM58.4 116.9h2.2v2.0h-2.2zM60.5 117.0h2.2v2.0h-2.2zM62.8 117.2h2.2v2.0h-2.2zM69.4 117.0h2.2v2.0h-2.2zM71.4 117.0h2.2v2.0h-2.2zM84.7 117.2h2.2v2.0h-2.2zM86.9 116.9h2.2v2.0h-2.2zM89.2 116.9h2.2v2.0h-2.2zM64.9 119.1h2.2v2.0h-2.2zM69.6 119.0h2.2v2.0h-2.2zM71.6 118.8h2.2v2.0h-2.2zM73.9 119.0h2.2v2.0h-2.2zM78.0 119.1h2.2v2.0h-2.2zM82.4 119.1h2.2v2.0h-2.2zM84.8 119.2h2.2v2.0h-2.2zM91.2 119.2h2.2v2.0h-2.2zM95.7 119.0h2.2v2.0h-2.2zM54.1 121.1h2.2v2.0h-2.2zM60.6 121.0h2.2v2.0h-2.2zM67.4 121.1h2.2v2.0h-2.2zM80.4 121.0h2.2v2.0h-2.2zM89.3 120.8h2.2v2.0h-2.2zM93.5 120.9h2.2v2.0h-2.2zM58.6 122.9h2.2v2.0h-2.2zM67.0 122.9h2.2v2.0h-2.2zM69.6 122.8h2.2v2.0h-2.2zM71.8 123.2h2.2v2.0h-2.2zM75.8 123.2h2.2v2.0h-2.2zM78.0 122.9h2.2v2.0h-2.2zM82.4 122.9h2.2v2.0h-2.2zM84.8 122.9h2.2v2.0h-2.2zM93.4 122.9h2.2v2.0h-2.2zM56.2 125.0h2.2v2.0h-2.2zM63.0 125.2h2.2v2.0h-2.2zM65.1 124.8h2.2v2.0h-2.2zM69.6 125.0h2.2v2.0h-2.2zM71.5 125.0h2.2v2.0h-2.2zM56.3 126.9h2.2v2.0h-2.2zM65.2 126.8h2.2v2.0h-2.2zM75.9 127.2h2.2v2.0h-2.2zM82.5 127.2h2.2v2.0h-2.2zM86.8 127.2h2.2v2.0h-2.2zM62.8 128.9h2.2v2.0h-2.2zM80.2 129.1h2.2v2.0h-2.2zM86.8 128.8h2.2v2.0h-2.2zM91.3 129.0h2.2v2.0h-2.2zM93.7 128.8h2.2v2.0h-2.2zM85.0 131.2h2.2v2.0h-2.2zM91.2 130.9h2.2v2.0h-2.2zM96.0 130.9h2.2v2.0h-2.2zM62.7 132.8h2.2v2.0h-2.2zM67.0 133.0h2.2v2.0h-2.2zM78.3 133.2h2.2v2.0h-2.2zM84.6 132.8h2.2v2.0h-2.2z" fill="#c8f5fa"/>
<path d="M81.1 103.1h2.0v1.8h-2.0zM83.0 103.0h2.0v1.8h-2.0zM89.0 102.8h2.0v1.8h-2.0zM85.1 104.9h2.0v1.8h-2.0zM91.2 104.7h2.0v1.8h-2.0zM82.8 106.4h2.0v1.8h-2.0z" fill="#fad2f0"/>
<path d="M85.0 103.2h2.0v1.8h-2.0zM87.2 103.2h2.0v1.8h-2.0zM81.0 104.6h2.0v1.8h-2.0zM83.0 104.8h2.0v1.8h-2.0zM87.2 104.8h2.0v1.8h-2.0zM81.0 106.4h2.0v1.8h-2.0zM85.0 106.7h2.0v1.8h-2.0zM87.1 106.5h2.0v1.8h-2.0zM89.0 106.4h2.0v1.8h-2.0zM91.2 106.8h2.0v1.8h-2.0z" fill="#f08cd2"/>
<path d="M91.2 103.0h2.0v1.8h-2.0z" fill="#c8f5fa"/>
<path d="M55.0 120.8h2.2v2.0h-2.2zM57.4 121.2h2.2v2.0h-2.2zM61.4 121.0h2.2v2.0h-2.2zM66.2 121.1h2.2v2.0h-2.2zM57.0 123.2h2.2v2.0h-2.2zM59.6 123.1h2.2v2.0h-2.2zM63.6 122.9h2.2v2.0h-2.2zM66.1 122.9h2.2v2.0h-2.2zM68.2 123.2h2.2v2.0h-2.2zM70.2 122.9h2.2v2.0h-2.2zM55.1 125.2h2.2v2.0h-2.2zM59.6 125.2h2.2v2.0h-2.2zM61.5 124.9h2.2v2.0h-2.2zM65.9 125.1h2.2v2.0h-2.2z" fill="#fad2f0"/>
<path d="M71.7 106.8h2.2v2.0h-2.2zM73.4 106.7h2.2v2.0h-2.2zM76.0 106.7h2.2v2.0h-2.2zM71.3 108.5h2.2v2.0h-2.2zM76.0 108.3h2.2v2.0h-2.2z" fill="#a0501e"/>
<path d="M74.0 108.7h2.2v2.0h-2.2z" fill="#c8230a"/>
<path d="M57.3 119.5h2.2v2.0h-2.2zM68.3 121.0h2.2v2.0h-2.2zM65.8 123.4h2.2v2.0h-2.2zM70.4 123.3h2.2v2.0h-2.2z" fill="#f0730a"/>
<path d="M59.6 119.5h2.2v2.0h-2.2zM61.9 119.1h2.2v2.0h-2.2zM63.8 119.3h2.2v2.0h-2.2zM70.3 119.0h2.2v2.0h-2.2zM57.5 121.4h2.2v2.0h-2.2zM66.3 120.9h2.2v2.0h-2.2zM72.6 121.2h2.2v2.0h-2.2zM75.0 121.5h2.2v2.0h-2.2z" fill="#a05014"/>
<path d="M65.7 118.9h2.2v2.0h-2.2zM68.2 119.0h2.2v2.0h-2.2zM55.1 121.1h2.2v2.0h-2.2zM59.6 121.1h2.2v2.0h-2.2zM61.4 121.2h2.2v2.0h-2.2zM63.5 121.4h2.2v2.0h-2.2zM70.3 121.4h2.2v2.0h-2.2zM59.2 123.5h2.2v2.0h-2.2zM61.7 123.0h2.2v2.0h-2.2zM68.2 123.0h2.2v2.0h-2.2z" fill="#a0501e"/>
<path d="M72.7 119.0h2.2v2.0h-2.2zM63.6 122.9h2.2v2.0h-2.2z" fill="#f0b900"/>
<path d="M64.0 120.4h2.2v2.0h-2.2zM72.6 120.7h2.2v2.0h-2.2z" fill="#fff500"/>
<path d="M66.2 120.8h2.2v2.0h-2.2z" fill="#f0730a"/>
<path d="M68.6 120.5h2.2v2.0h-2.2zM70.6 120.7h2.2v2.0h-2.2z" fill="#f0b900"/>
<path d="M83.9 108.0h1.8v1.7h-1.8zM87.3 113.0h1.8v1.7h-1.8zM89.0 114.8h1.8v1.7h-1.8zM81.9 118.0h1.8v1.7h-1.8zM75.0 120.1h1.8v1.7h-1.8zM76.5 119.7h1.8v1.7h-1.8zM84.0 119.7h1.8v1.7h-1.8zM90.8 121.7h1.8v1.7h-1.8zM76.6 125.2h1.8v1.7h-1.8zM85.7 124.9h1.8v1.7h-1.8z" fill="#fff500"/>
<path d="M85.5 107.9h1.8v1.7h-1.8zM74.8 109.5h1.8v1.7h-1.8zM76.6 111.5h1.8v1.7h-1.8zM80.2 111.5h1.8v1.7h-1.8zM82.0 111.5h1.8v1.7h-1.8zM90.9 111.2h1.8v1.7h-1.8zM73.1 112.9h1.8v1.7h-1.8zM80.2 113.2h1.8v1.7h-1.8zM92.9 113.2h1.8v1.7h-1.8zM87.2 114.6h1.8v1.7h-1.8zM91.0 114.8h1.8v1.7h-1.8zM76.7 116.7h1.8v1.7h-1.8zM80.3 116.5h1.8v1.7h-1.8zM82.2 116.3h1.8v1.7h-1.8zM87.4 116.3h1.8v1.7h-1.8zM89.0 116.6h1.8v1.7h-1.8zM73.2 118.2h1.8v1.7h-1.8zM87.2 120.0h1.8v1.7h-1.8zM89.0 119.7h1.8v1.7h-1.8zM92.8 119.9h1.8v1.7h-1.8zM76.5 121.8h1.8v1.7h-1.8zM82.2 121.7h1.8v1.7h-1.8zM85.8 123.3h1.8v1.7h-1.8zM91.1 123.1h1.8v1.7h-1.8zM92.6 123.2h1.8v1.7h-1.8zM92.6 125.0h1.8v1.7h-1.8zM94.4 125.1h1.8v1.7h-1.8z" fill="#28e10a"/>
<path d="M87.6 107.8h1.8v1.7h-1.8zM80.4 109.7h1.8v1.7h-1.8zM81.9 109.9h1.8v1.7h-1.8zM87.4 109.9h1.8v1.7h-1.8zM72.9 111.2h1.8v1.7h-1.8zM83.7 111.5h1.8v1.7h-1.8zM93.0 111.4h1.8v1.7h-1.8zM74.7 113.1h1.8v1.7h-1.8zM82.1 112.9h1.8v1.7h-1.8zM83.6 113.0h1.8v1.7h-1.8zM89.4 113.3h1.8v1.7h-1.8zM91.1 112.9h1.8v1.7h-1.8zM72.9 114.9h1.8v1.7h-1.8zM75.0 114.9h1.8v1.7h-1.8zM76.4 114.8h1.8v1.7h-1.8zM81.9 114.8h1.8v1.7h-1.8zM83.9 114.8h1.8v1.7h-1.8zM85.8 114.8h1.8v1.7h-1.8zM93.0 114.8h1.8v1.7h-1.8zM73.2 116.4h1.8v1.7h-1.8zM74.6 118.2h1.8v1.7h-1.8zM76.5 118.4h1.8v1.7h-1.8zM83.7 118.0h1.8v1.7h-1.8zM85.5 118.4h1.8v1.7h-1.8zM87.4 118.4h1.8v1.7h-1.8zM89.2 118.3h1.8v1.7h-1.8zM94.5 118.0h1.8v1.7h-1.8zM80.1 120.1h1.8v1.7h-1.8zM81.8 120.1h1.8v1.7h-1.8zM85.5 120.0h1.8v1.7h-1.8zM91.1 119.7h1.8v1.7h-1.8zM94.7 120.1h1.8v1.7h-1.8zM74.9 121.8h1.8v1.7h-1.8zM78.2 121.5h1.8v1.7h-1.8zM85.7 121.5h1.8v1.7h-1.8zM89.0 121.6h1.8v1.7h-1.8zM92.7 121.4h1.8v1.7h-1.8zM94.4 121.8h1.8v1.7h-1.8zM81.9 123.4h1.8v1.7h-1.8zM89.1 123.4h1.8v1.7h-1.8zM81.9 124.9h1.8v1.7h-1.8zM83.9 125.2h1.8v1.7h-1.8zM87.4 125.1h1.8v1.7h-1.8zM90.8 125.2h1.8v1.7h-1.8zM80.4 126.9h1.8v1.7h-1.8zM85.4 126.6h1.8v1.7h-1.8zM87.6 126.5h1.8v1.7h-1.8zM89.0 126.9h1.8v1.7h-1.8z" fill="#5ad714"/>
<path d="M76.7 109.9h1.8v1.7h-1.8zM78.6 109.6h1.8v1.7h-1.8zM83.9 109.6h1.8v1.7h-1.8zM89.2 109.6h1.8v1.7h-1.8zM75.0 111.2h1.8v1.7h-1.8zM78.5 111.5h1.8v1.7h-1.8zM85.7 111.5h1.8v1.7h-1.8zM78.6 112.9h1.8v1.7h-1.8zM85.8 113.3h1.8v1.7h-1.8zM80.4 114.9h1.8v1.7h-1.8zM74.8 116.7h1.8v1.7h-1.8zM83.9 116.6h1.8v1.7h-1.8zM80.4 118.3h1.8v1.7h-1.8zM91.2 118.0h1.8v1.7h-1.8zM93.0 118.2h1.8v1.7h-1.8zM78.6 119.9h1.8v1.7h-1.8zM87.4 121.6h1.8v1.7h-1.8zM76.6 123.2h1.8v1.7h-1.8zM80.0 123.5h1.8v1.7h-1.8zM83.9 123.2h1.8v1.7h-1.8zM94.5 123.2h1.8v1.7h-1.8zM80.4 125.1h1.8v1.7h-1.8z" fill="#3ca01e"/>
<path d="M85.5 109.9h1.8v1.7h-1.8zM87.5 111.3h1.8v1.7h-1.8zM89.2 111.6h1.8v1.7h-1.8zM76.6 113.0h1.8v1.7h-1.8zM78.6 114.7h1.8v1.7h-1.8zM85.6 116.7h1.8v1.7h-1.8zM91.0 116.4h1.8v1.7h-1.8zM92.7 116.6h1.8v1.7h-1.8zM83.9 121.8h1.8v1.7h-1.8zM78.2 123.1h1.8v1.7h-1.8zM87.2 123.4h1.8v1.7h-1.8zM78.6 125.2h1.8v1.7h-1.8zM89.4 125.1h1.8v1.7h-1.8zM83.9 126.9h1.8v1.7h-1.8z" fill="#19878c"/>
<path d="M64.2 116.0h1.8v1.7h-1.8zM67.6 117.9h1.8v1.7h-1.8z" fill="#8287f5"/>
<path d="M67.4 116.0h1.8v1.7h-1.8zM69.5 115.8h1.8v1.7h-1.8zM71.1 116.1h1.8v1.7h-1.8zM66.0 117.7h1.8v1.7h-1.8zM69.3 117.8h1.8v1.7h-1.8zM71.3 117.8h1.8v1.7h-1.8zM72.8 117.7h1.8v1.7h-1.8z" fill="#1e41f5"/>
<path d="M56.5 115.8h2.2v2.0h-2.2zM56.6 118.1h2.2v2.0h-2.2zM58.9 117.9h2.2v2.0h-2.2z" fill="#28e10a"/>
<path d="M58.8 115.7h2.2v2.0h-2.2z" fill="#5ad714"/>
<path d="M66.2 129.4h2.2v2.0h-2.2zM75.0 129.7h2.2v2.0h-2.2zM68.2 131.9h2.2v2.0h-2.2zM70.2 131.4h2.2v2.0h-2.2z" fill="#8c8c28"/>
<path d="M68.1 129.9h2.2v2.0h-2.2zM70.2 130.0h2.2v2.0h-2.2zM72.9 129.4h2.2v2.0h-2.2zM79.1 129.8h2.2v2.0h-2.2zM74.7 131.7h2.2v2.0h-2.2z" fill="#3c7814"/>
<path d="M77.0 129.9h2.2v2.0h-2.2zM72.7 132.0h2.2v2.0h-2.2z" fill="#28e10a"/>
<path d="M90.1 107.2h1.8v1.7h-1.8zM90.1 110.2h1.8v1.7h-1.8zM91.9 110.4h1.8v1.7h-1.8zM89.8 112.3h1.8v1.7h-1.8zM91.8 112.0h1.8v1.7h-1.8zM91.8 113.7h1.8v1.7h-1.8zM90.2 115.3h1.8v1.7h-1.8zM95.6 117.2h1.8v1.7h-1.8zM89.8 118.9h1.8v1.7h-1.8zM92.0 118.8h1.8v1.7h-1.8zM93.5 118.7h1.8v1.7h-1.8zM95.4 119.1h1.8v1.7h-1.8zM90.0 122.3h1.8v1.7h-1.8zM93.5 123.9h1.8v1.7h-1.8zM95.3 124.1h1.8v1.7h-1.8zM91.7 125.9h1.8v1.7h-1.8z" fill="#1e41f5"/>
<path d="M91.8 106.8h1.8v1.7h-1.8zM93.7 107.0h1.8v1.7h-1.8zM90.2 108.5h1.8v1.7h-1.8zM91.8 108.5h1.8v1.7h-1.8zM93.5 108.5h1.8v1.7h-1.8zM89.9 114.0h1.8v1.7h-1.8zM93.5 115.7h1.8v1.7h-1.8zM91.6 117.4h1.8v1.7h-1.8zM93.4 117.1h1.8v1.7h-1.8zM95.4 120.8h1.8v1.7h-1.8zM89.9 123.8h1.8v1.7h-1.8z" fill="#8287f5"/>
<path d="M93.5 110.3h1.8v1.7h-1.8zM93.5 113.8h1.8v1.7h-1.8zM91.8 115.7h1.8v1.7h-1.8zM95.3 115.4h1.8v1.7h-1.8zM90.0 120.7h1.8v1.7h-1.8zM92.0 122.5h1.8v1.7h-1.8zM93.6 122.3h1.8v1.7h-1.8zM95.5 122.4h1.8v1.7h-1.8zM91.8 123.9h1.8v1.7h-1.8z" fill="#87a5fa"/>
<path d="M92.0 127.1h2.2v2.0h-2.2zM93.9 126.9h2.2v2.0h-2.2zM94.3 129.3h2.2v2.0h-2.2zM96.1 129.0h2.2v2.0h-2.2zM92.1 131.2h2.2v2.0h-2.2z" fill="#8287f5"/>
<path d="M92.1 128.8h2.2v2.0h-2.2zM94.0 131.1h2.2v2.0h-2.2z" fill="#b4a0f0"/>
<path d="M50.0 112.8h2.2v2.0h-2.2zM52.2 112.6h2.2v2.0h-2.2z" fill="#1e41f5"/>
<path d="M69.8 97.5h2.2v2.0h-2.2zM72.1 97.4h2.2v2.0h-2.2zM74.7 97.4h2.2v2.0h-2.2z" fill="#2832a0"/>
<path d="M76.8 97.5h2.2v2.0h-2.2z" fill="#1e41f5"/>
<path d="M83.9 97.2h2.2v2.0h-2.2zM86.0 97.5h2.2v2.0h-2.2z" fill="#8287f5"/>
<path d="M42.8 123.0h2.5v2.0h-2.5z" fill="#1e41f5"/>
<path d="M45.5 120.2h2.5v2.0h-2.5z" fill="#8287f5"/>
<path d="M48.3 117.4h2.5v2.0h-2.5z" fill="#2832a0"/>
<path d="M51.1 114.7h2.5v2.0h-2.5z" fill="#1e41f5"/>
<path d="M53.9 111.9h2.5v2.0h-2.5z" fill="#8287f5"/>
<path d="M56.6 109.1h2.5v2.0h-2.5z" fill="#2832a0"/>
<path d="M59.4 106.3h2.5v2.0h-2.5z" fill="#1e41f5"/>
<path d="M62.2 103.6h2.5v2.0h-2.5z" fill="#8287f5"/>
<path d="M65.0 100.8h2.5v2.0h-2.5z" fill="#2832a0"/>
<path d="M67.8 98.0h2.5v2.0h-2.5z" fill="#1e41f5"/>
<path d="M35.6 80.1h2.2v2.0h-2.2zM31.2 84.2h2.2v2.0h-2.2zM35.5 85.8h2.2v2.0h-2.2z" fill="#8c8c28"/>
<path d="M38.0 80.0h2.2v2.0h-2.2zM28.8 81.8h2.2v2.0h-2.2zM39.7 81.7h2.2v2.0h-2.2zM40.0 84.3h2.2v2.0h-2.2zM38.0 85.8h2.2v2.0h-2.2z" fill="#5ad714"/>
<path d="M35.5 82.1h2.2v2.0h-2.2zM37.9 82.3h2.2v2.0h-2.2zM28.8 88.2h2.2v2.0h-2.2zM35.6 87.9h2.2v2.0h-2.2zM35.8 90.1h2.2v2.0h-2.2z" fill="#28e10a"/>
<path d="M47.3 88.7h2.2v2.0h-2.2zM49.2 88.6h2.2v2.0h-2.2z" fill="#1e41f5"/>
<path d="M46.7 90.7h2.2v2.0h-2.2zM49.5 90.3h2.2v2.0h-2.2z" fill="#8287f5"/>
<path d="M28.1 67.3h2.2v2.0h-2.2z" fill="#8c8c28"/>
<path d="M31.4 73.6h2.2v2.0h-2.2z" fill="#5ad714"/>
<path d="M35.3 78.6h2.2v2.0h-2.2z" fill="#50641e"/>
<path d="M39.1 82.5h2.2v2.0h-2.2z" fill="#8c8c28"/>
<path d="M43.7 86.5h2.2v2.0h-2.2z" fill="#5ad714"/>
<path d="M46.4 91.4h2.2v2.0h-2.2z" fill="#5ad714"/>
<path d="M50.6 95.7h2.2v2.0h-2.2z" fill="#8c8c28"/>
<path d="M34.4 70.3h2.2v2.0h-2.2z" fill="#50641e"/>
<path d="M41.2 77.4h2.2v2.0h-2.2z" fill="#8c8c28"/>
<path d="M25.4 82.5h2.2v2.0h-2.2z" fill="#8c8c28"/>
<path d="M29.3 85.7h2.2v2.0h-2.2z" fill="#8c8c28"/>
<path d="M44.4 99.3h2.2v2.0h-2.2z" fill="#8c8c28"/>
<path d="M120.1 127.1h2.2v2.0h-2.2zM120.1 128.9h2.2v2.0h-2.2zM122.1 129.1h2.2v2.0h-2.2zM124.8 129.2h2.2v2.0h-2.2zM118.3 133.0h2.2v2.0h-2.2zM122.6 133.1h2.2v2.0h-2.2zM124.4 133.1h2.2v2.0h-2.2zM126.8 133.0h2.2v2.0h-2.2zM120.2 135.0h2.2v2.0h-2.2zM122.3 135.1h2.2v2.0h-2.2z" fill="#1e41f5"/>
<path d="M126.6 128.8h2.2v2.0h-2.2zM122.5 130.9h2.2v2.0h-2.2zM124.6 131.2h2.2v2.0h-2.2zM126.9 131.2h2.2v2.0h-2.2zM120.3 133.0h2.2v2.0h-2.2z" fill="#8287f5"/>
<path d="M124.7 134.8h2.2v2.0h-2.2z" fill="#87a5fa"/>
<path d="M125.8 116.2h2.5v2.5h-2.5z" fill="#8c8c28"/>
<path d="M186.9 90.2h2.4v2.2h-2.4zM167.7 92.4h2.4v2.2h-2.4zM172.5 92.4h2.4v2.2h-2.4zM179.7 92.4h2.4v2.2h-2.4zM184.5 92.4h2.4v2.2h-2.4zM172.5 94.6h2.4v2.2h-2.4zM179.7 94.6h2.4v2.2h-2.4zM184.5 94.6h2.4v2.2h-2.4zM189.3 94.6h2.4v2.2h-2.4zM162.9 96.8h2.4v2.2h-2.4zM165.3 96.8h2.4v2.2h-2.4zM170.1 96.8h2.4v2.2h-2.4zM174.9 96.8h2.4v2.2h-2.4zM184.5 96.8h2.4v2.2h-2.4zM177.3 99.0h2.4v2.2h-2.4zM186.9 99.0h2.4v2.2h-2.4zM189.3 99.0h2.4v2.2h-2.4zM162.9 101.2h2.4v2.2h-2.4zM170.1 101.2h2.4v2.2h-2.4zM177.3 101.2h2.4v2.2h-2.4zM182.1 101.2h2.4v2.2h-2.4zM186.9 101.2h2.4v2.2h-2.4zM189.3 101.2h2.4v2.2h-2.4zM165.3 103.4h2.4v2.2h-2.4zM172.5 103.4h2.4v2.2h-2.4zM186.9 103.4h2.4v2.2h-2.4zM189.3 103.4h2.4v2.2h-2.4zM167.7 105.6h2.4v2.2h-2.4zM174.9 105.6h2.4v2.2h-2.4zM165.3 107.8h2.4v2.2h-2.4zM186.9 107.8h2.4v2.2h-2.4zM162.9 110.0h2.4v2.2h-2.4zM174.9 110.0h2.4v2.2h-2.4zM189.3 110.0h2.4v2.2h-2.4zM165.3 112.2h2.4v2.2h-2.4zM167.7 112.2h2.4v2.2h-2.4zM174.9 112.2h2.4v2.2h-2.4zM186.9 112.2h2.4v2.2h-2.4zM179.7 114.4h2.4v2.2h-2.4zM182.1 114.4h2.4v2.2h-2.4zM186.9 114.4h2.4v2.2h-2.4zM179.7 116.6h2.4v2.2h-2.4zM182.1 116.6h2.4v2.2h-2.4zM170.1 118.8h2.4v2.2h-2.4zM172.5 118.8h2.4v2.2h-2.4zM179.7 118.8h2.4v2.2h-2.4zM191.7 118.8h2.4v2.2h-2.4zM174.9 123.2h2.4v2.2h-2.4zM179.7 123.2h2.4v2.2h-2.4zM182.1 123.2h2.4v2.2h-2.4zM174.9 125.4h2.4v2.2h-2.4zM179.7 125.4h2.4v2.2h-2.4zM191.7 125.4h2.4v2.2h-2.4zM174.9 127.6h2.4v2.2h-2.4zM179.7 127.6h2.4v2.2h-2.4zM179.7 129.8h2.4v2.2h-2.4zM184.5 129.8h2.4v2.2h-2.4zM174.9 132.0h2.4v2.2h-2.4zM174.9 134.2h2.4v2.2h-2.4zM182.1 134.2h2.4v2.2h-2.4z" fill="#6e96f0"/>
<path d="M189.3 90.2h2.4v2.2h-2.4zM177.3 92.4h2.4v2.2h-2.4zM182.1 92.4h2.4v2.2h-2.4zM189.3 92.4h2.4v2.2h-2.4zM165.3 94.6h2.4v2.2h-2.4zM167.7 94.6h2.4v2.2h-2.4zM170.1 94.6h2.4v2.2h-2.4zM186.9 94.6h2.4v2.2h-2.4zM172.5 96.8h2.4v2.2h-2.4zM177.3 96.8h2.4v2.2h-2.4zM179.7 96.8h2.4v2.2h-2.4zM182.1 96.8h2.4v2.2h-2.4zM189.3 96.8h2.4v2.2h-2.4zM170.1 99.0h2.4v2.2h-2.4zM172.5 99.0h2.4v2.2h-2.4zM182.1 99.0h2.4v2.2h-2.4zM184.5 99.0h2.4v2.2h-2.4zM167.7 101.2h2.4v2.2h-2.4zM172.5 101.2h2.4v2.2h-2.4zM174.9 101.2h2.4v2.2h-2.4zM184.5 101.2h2.4v2.2h-2.4zM160.5 103.4h2.4v2.2h-2.4zM162.9 103.4h2.4v2.2h-2.4zM170.1 103.4h2.4v2.2h-2.4zM174.9 103.4h2.4v2.2h-2.4zM179.7 103.4h2.4v2.2h-2.4zM184.5 103.4h2.4v2.2h-2.4zM160.5 105.6h2.4v2.2h-2.4zM162.9 105.6h2.4v2.2h-2.4zM165.3 105.6h2.4v2.2h-2.4zM170.1 105.6h2.4v2.2h-2.4zM172.5 105.6h2.4v2.2h-2.4zM179.7 105.6h2.4v2.2h-2.4zM184.5 105.6h2.4v2.2h-2.4zM167.7 107.8h2.4v2.2h-2.4zM172.5 107.8h2.4v2.2h-2.4zM177.3 107.8h2.4v2.2h-2.4zM179.7 107.8h2.4v2.2h-2.4zM182.1 107.8h2.4v2.2h-2.4zM184.5 107.8h2.4v2.2h-2.4zM189.3 107.8h2.4v2.2h-2.4zM165.3 110.0h2.4v2.2h-2.4zM167.7 110.0h2.4v2.2h-2.4zM170.1 110.0h2.4v2.2h-2.4zM182.1 110.0h2.4v2.2h-2.4zM184.5 110.0h2.4v2.2h-2.4zM186.9 110.0h2.4v2.2h-2.4zM170.1 112.2h2.4v2.2h-2.4zM172.5 112.2h2.4v2.2h-2.4zM179.7 112.2h2.4v2.2h-2.4zM167.7 114.4h2.4v2.2h-2.4zM170.1 114.4h2.4v2.2h-2.4zM177.3 114.4h2.4v2.2h-2.4zM184.5 114.4h2.4v2.2h-2.4zM189.3 114.4h2.4v2.2h-2.4zM167.7 116.6h2.4v2.2h-2.4zM170.1 116.6h2.4v2.2h-2.4zM172.5 116.6h2.4v2.2h-2.4zM177.3 116.6h2.4v2.2h-2.4zM184.5 116.6h2.4v2.2h-2.4zM186.9 116.6h2.4v2.2h-2.4zM189.3 116.6h2.4v2.2h-2.4zM177.3 118.8h2.4v2.2h-2.4zM184.5 118.8h2.4v2.2h-2.4zM186.9 118.8h2.4v2.2h-2.4zM189.3 118.8h2.4v2.2h-2.4zM172.5 121.0h2.4v2.2h-2.4zM174.9 121.0h2.4v2.2h-2.4zM177.3 121.0h2.4v2.2h-2.4zM179.7 121.0h2.4v2.2h-2.4zM182.1 121.0h2.4v2.2h-2.4zM184.5 121.0h2.4v2.2h-2.4zM186.9 121.0h2.4v2.2h-2.4zM191.7 121.0h2.4v2.2h-2.4zM172.5 123.2h2.4v2.2h-2.4zM177.3 123.2h2.4v2.2h-2.4zM189.3 123.2h2.4v2.2h-2.4zM182.1 125.4h2.4v2.2h-2.4zM184.5 125.4h2.4v2.2h-2.4zM186.9 125.4h2.4v2.2h-2.4zM189.3 125.4h2.4v2.2h-2.4zM177.3 127.6h2.4v2.2h-2.4zM189.3 127.6h2.4v2.2h-2.4zM177.3 129.8h2.4v2.2h-2.4zM182.1 129.8h2.4v2.2h-2.4zM186.9 129.8h2.4v2.2h-2.4zM189.3 129.8h2.4v2.2h-2.4zM184.5 132.0h2.4v2.2h-2.4zM186.9 132.0h2.4v2.2h-2.4zM189.3 132.0h2.4v2.2h-2.4zM191.7 132.0h2.4v2.2h-2.4zM177.3 134.2h2.4v2.2h-2.4zM184.5 134.2h2.4v2.2h-2.4zM186.9 134.2h2.4v2.2h-2.4zM189.3 134.2h2.4v2.2h-2.4zM191.7 134.2h2.4v2.2h-2.4z" fill="#87a5fa"/>
<path d="M170.1 92.4h2.4v2.2h-2.4zM174.9 92.4h2.4v2.2h-2.4zM177.3 94.6h2.4v2.2h-2.4zM160.5 99.0h2.4v2.2h-2.4zM174.9 99.0h2.4v2.2h-2.4zM179.7 101.2h2.4v2.2h-2.4zM177.3 105.6h2.4v2.2h-2.4zM189.3 105.6h2.4v2.2h-2.4zM162.9 107.8h2.4v2.2h-2.4zM174.9 107.8h2.4v2.2h-2.4zM172.5 110.0h2.4v2.2h-2.4zM179.7 110.0h2.4v2.2h-2.4zM182.1 112.2h2.4v2.2h-2.4zM174.9 114.4h2.4v2.2h-2.4zM174.9 118.8h2.4v2.2h-2.4zM189.3 121.0h2.4v2.2h-2.4zM179.7 132.0h2.4v2.2h-2.4z" fill="#1e41f5"/>
<path d="M186.9 92.4h2.4v2.2h-2.4zM174.9 94.6h2.4v2.2h-2.4zM182.1 94.6h2.4v2.2h-2.4zM167.7 96.8h2.4v2.2h-2.4zM186.9 96.8h2.4v2.2h-2.4zM162.9 99.0h2.4v2.2h-2.4zM165.3 99.0h2.4v2.2h-2.4zM167.7 99.0h2.4v2.2h-2.4zM179.7 99.0h2.4v2.2h-2.4zM160.5 101.2h2.4v2.2h-2.4zM165.3 101.2h2.4v2.2h-2.4zM167.7 103.4h2.4v2.2h-2.4zM177.3 103.4h2.4v2.2h-2.4zM182.1 103.4h2.4v2.2h-2.4zM182.1 105.6h2.4v2.2h-2.4zM186.9 105.6h2.4v2.2h-2.4zM170.1 107.8h2.4v2.2h-2.4zM177.3 110.0h2.4v2.2h-2.4zM177.3 112.2h2.4v2.2h-2.4zM184.5 112.2h2.4v2.2h-2.4zM189.3 112.2h2.4v2.2h-2.4zM172.5 114.4h2.4v2.2h-2.4zM174.9 116.6h2.4v2.2h-2.4zM191.7 116.6h2.4v2.2h-2.4zM182.1 118.8h2.4v2.2h-2.4zM184.5 123.2h2.4v2.2h-2.4zM186.9 123.2h2.4v2.2h-2.4zM191.7 123.2h2.4v2.2h-2.4zM177.3 125.4h2.4v2.2h-2.4zM182.1 127.6h2.4v2.2h-2.4zM184.5 127.6h2.4v2.2h-2.4zM186.9 127.6h2.4v2.2h-2.4zM191.7 127.6h2.4v2.2h-2.4zM174.9 129.8h2.4v2.2h-2.4zM191.7 129.8h2.4v2.2h-2.4zM177.3 132.0h2.4v2.2h-2.4zM182.1 132.0h2.4v2.2h-2.4zM179.7 134.2h2.4v2.2h-2.4z" fill="#8287f5"/>
<path d="M172.2 96.1h2.2v2.0h-2.2zM174.5 95.7h2.2v2.0h-2.2zM172.6 98.2h2.2v2.0h-2.2zM177.1 97.7h2.2v2.0h-2.2zM168.0 99.8h2.2v2.0h-2.2zM170.5 100.1h2.2v2.0h-2.2zM172.3 100.3h2.2v2.0h-2.2zM174.3 99.9h2.2v2.0h-2.2zM170.1 102.0h2.2v2.0h-2.2zM172.3 106.2h2.2v2.0h-2.2zM176.8 106.1h2.2v2.0h-2.2zM169.9 110.2h2.2v2.0h-2.2z" fill="#1e41f5"/>
<path d="M170.4 97.8h2.2v2.0h-2.2zM174.7 97.8h2.2v2.0h-2.2zM177.0 100.3h2.2v2.0h-2.2zM167.8 102.1h2.2v2.0h-2.2zM172.2 102.0h2.2v2.0h-2.2zM174.9 102.1h2.2v2.0h-2.2zM168.2 104.3h2.2v2.0h-2.2zM174.6 103.9h2.2v2.0h-2.2zM170.2 106.0h2.2v2.0h-2.2zM174.6 108.0h2.2v2.0h-2.2zM172.6 110.2h2.2v2.0h-2.2z" fill="#3c64f0"/>
<path d="M177.1 104.0h2.2v2.0h-2.2zM174.5 106.0h2.2v2.0h-2.2zM170.5 107.9h2.2v2.0h-2.2z" fill="#2832a0"/>
<path d="M186.2 91.8h2.2v2.0h-2.2zM184.0 93.8h2.2v2.0h-2.2zM186.4 96.2h2.2v2.0h-2.2zM184.2 98.1h2.2v2.0h-2.2z" fill="#3c64f0"/>
<path d="M188.4 92.1h2.2v2.0h-2.2zM188.3 96.0h2.2v2.0h-2.2zM185.9 98.1h2.2v2.0h-2.2zM188.4 98.0h2.2v2.0h-2.2zM186.5 99.8h2.2v2.0h-2.2z" fill="#1e41f5"/>
<path d="M178.4 112.8h2.2v2.0h-2.2z" fill="#b4c8fa"/>
<path d="M175.8 115.0h2.2v2.0h-2.2zM178.3 114.7h2.2v2.0h-2.2zM180.3 114.7h2.2v2.0h-2.2zM182.8 115.3h2.2v2.0h-2.2zM176.2 116.9h2.2v2.0h-2.2zM178.2 119.1h2.2v2.0h-2.2z" fill="#c8f5fa"/>
<path d="M178.2 117.0h2.2v2.0h-2.2zM180.3 116.7h2.2v2.0h-2.2zM182.7 117.3h2.2v2.0h-2.2zM182.8 119.3h2.2v2.0h-2.2z" fill="#87a5fa"/>
<path d="M187.7 103.9h2.2v2.0h-2.2zM187.5 105.8h2.2v2.0h-2.2zM187.2 113.8h2.2v2.0h-2.2zM189.8 113.9h2.2v2.0h-2.2z" fill="#8287f5"/>
<path d="M189.4 103.9h2.2v2.0h-2.2zM189.7 108.2h2.2v2.0h-2.2zM189.7 109.9h2.2v2.0h-2.2zM187.8 112.3h2.2v2.0h-2.2zM189.9 112.0h2.2v2.0h-2.2zM189.6 116.3h2.2v2.0h-2.2z" fill="#1e41f5"/>
<path d="M167.1 96.5h2.2v2.0h-2.2zM173.8 98.6h2.2v2.0h-2.2z" fill="#fff500"/>
<path d="M169.0 96.0h2.2v2.0h-2.2zM173.7 96.4h2.2v2.0h-2.2zM166.9 98.3h2.2v2.0h-2.2zM169.0 98.5h2.2v2.0h-2.2zM171.4 98.2h2.2v2.0h-2.2z" fill="#28e10a"/>
<path d="M171.2 96.1h2.2v2.0h-2.2z" fill="#5ad714"/>
<path d="M183.1 102.9h2.2v2.0h-2.2zM187.5 104.7h2.2v2.0h-2.2z" fill="#5ad714"/>
<path d="M185.3 102.8h2.2v2.0h-2.2zM184.9 104.8h2.2v2.0h-2.2z" fill="#fff500"/>
<path d="M187.6 103.1h2.2v2.0h-2.2zM183.1 105.2h2.2v2.0h-2.2z" fill="#28e10a"/>
<path d="M168.3 104.0h2.2v2.0h-2.2zM170.4 105.9h2.2v2.0h-2.2z" fill="#8c8c28"/>
<path d="M170.2 104.2h2.2v2.0h-2.2zM166.0 105.8h2.2v2.0h-2.2zM168.3 108.2h2.2v2.0h-2.2z" fill="#28e10a"/>
<path d="M167.9 106.1h2.2v2.0h-2.2zM165.8 108.1h2.2v2.0h-2.2zM170.2 107.9h2.2v2.0h-2.2zM168.0 110.0h2.2v2.0h-2.2zM170.4 109.8h2.2v2.0h-2.2z" fill="#5ad714"/>
<path d="M162.5 117.4h2.2v2.0h-2.2zM160.2 119.3h2.2v2.0h-2.2zM166.4 119.2h2.2v2.0h-2.2z" fill="#285a14"/>
<path d="M164.5 117.4h2.2v2.0h-2.2zM166.4 117.1h2.2v2.0h-2.2zM168.5 117.5h2.2v2.0h-2.2zM162.1 119.0h2.2v2.0h-2.2zM164.5 119.3h2.2v2.0h-2.2zM169.1 119.5h2.2v2.0h-2.2z" fill="#28e10a"/>
<path d="M183.4 120.3h2.2v2.0h-2.2zM185.3 119.8h2.2v2.0h-2.2zM190.1 121.7h2.2v2.0h-2.2zM178.8 124.1h2.2v2.0h-2.2zM187.7 123.9h2.2v2.0h-2.2zM183.7 126.1h2.2v2.0h-2.2zM185.8 126.0h2.2v2.0h-2.2zM190.0 126.0h2.2v2.0h-2.2zM179.2 128.1h2.2v2.0h-2.2zM181.5 128.3h2.2v2.0h-2.2zM180.9 130.2h2.2v2.0h-2.2zM185.4 129.9h2.2v2.0h-2.2zM187.8 132.3h2.2v2.0h-2.2zM190.1 132.0h2.2v2.0h-2.2zM183.4 134.1h2.2v2.0h-2.2zM187.6 134.1h2.2v2.0h-2.2z" fill="#5ad714"/>
<path d="M187.8 119.7h2.2v2.0h-2.2zM183.2 121.7h2.2v2.0h-2.2zM188.1 122.1h2.2v2.0h-2.2zM185.4 123.8h2.2v2.0h-2.2zM178.8 126.1h2.2v2.0h-2.2zM185.9 127.9h2.2v2.0h-2.2zM189.9 128.3h2.2v2.0h-2.2zM178.8 130.2h2.2v2.0h-2.2zM183.2 130.2h2.2v2.0h-2.2zM188.0 130.1h2.2v2.0h-2.2zM181.0 131.8h2.2v2.0h-2.2zM183.3 131.7h2.2v2.0h-2.2zM185.4 131.8h2.2v2.0h-2.2z" fill="#fff500"/>
<path d="M181.3 122.1h2.2v2.0h-2.2zM185.5 121.7h2.2v2.0h-2.2zM181.3 124.2h2.2v2.0h-2.2zM183.5 124.1h2.2v2.0h-2.2zM189.8 124.2h2.2v2.0h-2.2zM188.1 125.9h2.2v2.0h-2.2zM183.1 128.1h2.2v2.0h-2.2zM188.0 127.8h2.2v2.0h-2.2zM185.6 133.9h2.2v2.0h-2.2z" fill="#28e10a"/>
<path d="M189.8 129.7h2.2v2.0h-2.2z" fill="#8c8c28"/>
<path d="M183.4 129.3h2.2v2.0h-2.2zM185.9 132.8h2.2v2.0h-2.2z" fill="#a0501e"/>
<path d="M185.5 129.1h2.2v2.0h-2.2z" fill="#f0b900"/>
<path d="M187.7 129.0h2.2v2.0h-2.2zM183.5 130.9h2.2v2.0h-2.2zM185.4 131.0h2.2v2.0h-2.2zM187.9 130.9h2.2v2.0h-2.2zM190.2 131.1h2.2v2.0h-2.2zM183.2 133.1h2.2v2.0h-2.2zM188.0 133.0h2.2v2.0h-2.2z" fill="#be8214"/>
<path d="M185.0 91.0h2.0v2.0h-2.0z" fill="#f08cd2"/>
<path d="M146.7 99.0h2.2v2.0h-2.2zM148.9 99.1h2.2v2.0h-2.2zM152.7 99.2h2.2v2.0h-2.2zM150.8 100.9h2.2v2.0h-2.2zM152.8 100.9h2.2v2.0h-2.2zM144.2 103.2h2.2v2.0h-2.2zM142.1 105.3h2.2v2.0h-2.2zM144.1 105.2h2.2v2.0h-2.2zM150.8 105.3h2.2v2.0h-2.2zM155.1 105.0h2.2v2.0h-2.2zM146.7 106.9h2.2v2.0h-2.2zM148.4 106.9h2.2v2.0h-2.2z" fill="#5ad714"/>
<path d="M150.6 99.2h2.2v2.0h-2.2zM148.6 101.0h2.2v2.0h-2.2zM155.4 101.0h2.2v2.0h-2.2zM146.1 103.1h2.2v2.0h-2.2zM146.4 105.1h2.2v2.0h-2.2zM148.7 104.8h2.2v2.0h-2.2zM157.5 105.2h2.2v2.0h-2.2zM152.9 107.3h2.2v2.0h-2.2z" fill="#8c8c28"/>
<path d="M146.3 101.2h2.2v2.0h-2.2zM157.3 100.9h2.2v2.0h-2.2zM157.3 102.9h2.2v2.0h-2.2z" fill="#28e10a"/>
<path d="M152.9 102.9h2.2v2.0h-2.2zM153.2 105.3h2.2v2.0h-2.2z" fill="#1e41f5"/>
<path d="M159.0 109.2h2.2v2.0h-2.2zM161.2 108.8h2.2v2.0h-2.2zM163.2 109.0h2.2v2.0h-2.2zM159.0 111.2h2.2v2.0h-2.2zM161.2 111.1h2.2v2.0h-2.2zM163.7 111.1h2.2v2.0h-2.2zM165.7 111.2h2.2v2.0h-2.2zM159.2 112.7h2.2v2.0h-2.2zM161.0 112.9h2.2v2.0h-2.2zM163.4 112.8h2.2v2.0h-2.2z" fill="#c8f5fa"/>
<path d="M212.6 108.1h2.2v2.0h-2.2zM210.5 110.2h2.2v2.0h-2.2zM214.7 109.8h2.2v2.0h-2.2zM212.6 111.9h2.2v2.0h-2.2zM214.7 112.2h2.2v2.0h-2.2zM208.3 113.9h2.2v2.0h-2.2zM210.4 114.2h2.2v2.0h-2.2zM212.8 114.1h2.2v2.0h-2.2zM206.1 116.0h2.2v2.0h-2.2zM210.2 115.9h2.2v2.0h-2.2zM212.5 116.1h2.2v2.0h-2.2zM214.9 116.0h2.2v2.0h-2.2zM210.4 118.2h2.2v2.0h-2.2zM212.7 118.1h2.2v2.0h-2.2z" fill="#c8f5fa"/>
<path d="M206.2 110.2h2.2v2.0h-2.2zM208.2 109.9h2.2v2.0h-2.2zM212.6 110.0h2.2v2.0h-2.2zM210.4 112.2h2.2v2.0h-2.2zM215.0 114.1h2.2v2.0h-2.2zM205.9 117.8h2.2v2.0h-2.2zM208.0 118.1h2.2v2.0h-2.2z" fill="#e6f5fc"/>
<path d="M209.1 109.1h2.2v2.0h-2.2zM207.0 111.2h2.2v2.0h-2.2zM209.3 111.3h2.2v2.0h-2.2zM207.2 113.1h2.2v2.0h-2.2z" fill="#28e10a"/>
<path d="M211.6 109.0h2.2v2.0h-2.2zM211.3 111.1h2.2v2.0h-2.2zM211.2 113.1h2.2v2.0h-2.2z" fill="#5ad714"/>
<path d="M209.1 113.2h2.2v2.0h-2.2z" fill="#8c8c28"/>
<path d="M211.8 113.3h2.2v2.0h-2.2zM214.2 113.2h2.2v2.0h-2.2zM212.1 115.5h2.2v2.0h-2.2z" fill="#1e41f5"/>
<path d="M214.5 115.2h2.2v2.0h-2.2z" fill="#87a5fa"/>
<path d="M216.6 115.6h2.2v2.0h-2.2z" fill="#c8f5fa"/>
<path d="M225.0 116.5h3.0v3.0h-3.0z" fill="#8287f5"/>
<path d="M214.1 127.2h2.2v2.0h-2.2zM218.4 129.0h2.2v2.0h-2.2zM222.8 128.8h2.2v2.0h-2.2zM216.1 131.1h2.2v2.0h-2.2zM220.6 131.0h2.2v2.0h-2.2zM222.9 133.2h2.2v2.0h-2.2zM214.2 135.0h2.2v2.0h-2.2zM216.1 135.1h2.2v2.0h-2.2zM214.0 137.0h2.2v2.0h-2.2zM216.4 136.9h2.2v2.0h-2.2zM220.4 136.9h2.2v2.0h-2.2z" fill="#c8f5fa"/>
<path d="M216.0 127.0h2.2v2.0h-2.2zM220.4 127.2h2.2v2.0h-2.2zM216.1 128.8h2.2v2.0h-2.2zM220.6 129.1h2.2v2.0h-2.2zM213.8 131.2h2.2v2.0h-2.2zM223.0 130.9h2.2v2.0h-2.2zM218.5 133.2h2.2v2.0h-2.2zM222.9 136.9h2.2v2.0h-2.2z" fill="#e6f5fc"/>
<path d="M223.5 127.0h10.5v9.0h-10.5z" fill="#dc2814"/>
<path d="M222.5 127.0h3.5v3.0h-3.5z" fill="#f08cd2"/>
<path d="M229.0 125.0h5.0v2.5h-5.0z" fill="#28e10a"/>
<path d="M222.0 135.5h12.0v4.5h-12.0z" fill="#f0b900"/>
<path d="M226.0 136.0h6.0v3.0h-6.0z" fill="#f0730a"/>
<path d="M219.5 131.0h3.5v8.0h-3.5z" fill="#5ad714"/>
<path d="M215.8 130.3h2.2v2.0h-2.2zM217.9 130.7h2.2v2.0h-2.2z" fill="#1e41f5"/>
<path d="M215.5 132.2h2.2v2.0h-2.2zM215.7 134.5h2.2v2.0h-2.2zM217.9 134.7h2.2v2.0h-2.2z" fill="#2832a0"/>
<path d="M133.7 136.2h2.2v2.0h-2.2zM142.8 137.8h2.2v2.0h-2.2z" fill="#8c8c28"/>
<path d="M140.8 135.9h2.2v2.0h-2.2zM142.7 136.1h2.2v2.0h-2.2zM133.8 137.9h2.2v2.0h-2.2z" fill="#5ad714"/>
</g>
<path d="M28.28 141.41 L28.09 140 L26.75 136.46 L25.22 133.63 L23.3 130.8 L22.53 129.39 M41.9 141.41 L41.9 138.94 L42.09 136.46 L41.71 133.63 L42.86 130.8 L43.62 127.97 L42.86 125.14 L42.86 122.31 L43.62 119.84 L45.92 119.48 L47.07 118.07 L48.99 117.36 L51.29 116.3 L51.68 114.53 L55.13 112.76 L58.19 110.64 L61.26 107.46 L63.56 105.69 L66.25 104.98 L67.4 103.57 L68.93 101.8 L69.7 99.32 L72.38 98.62 L73.92 98.97 L75.83 98.97 L77.37 98.26 L80.05 97.55 L81.97 98.26 L83.5 96.49 L85.42 95.43 L87.72 96.49 L88.1 99.32 L89.64 102.15 L91.94 104.27 L94.62 106.75 L95.77 108.87 L98.07 111.7 L98.07 114.53 L96.92 118.42 L98.84 119.13 L101.52 119.48 L103.83 117.72 L105.74 116.65 L107.66 115.24 L109.19 116.3 L109.96 118.07 L110.34 120.9 L111.88 124.08 L112.26 127.62 L113.8 131.16 L113.8 134.34 L114.18 137.17 L113.8 140 L113.41 141.41 M115.33 141.41 L115.71 140 L116.1 138.23 L116.86 136.46 L117.63 134.69 L118.4 132.22 L119.16 130.45 L118.97 128.33 L119.93 127.62 L121.46 127.62 L122.61 127.97 L122.61 130.45 L124.53 130.8 L126.83 132.22 L129.13 133.99 L130.67 135.4 L131.43 137.17 L132.97 138.23 L135.27 138.23 L136.42 138.59 L137.57 139.65 L137.76 141.41 M143.7 141.41 L144.47 140 L146.01 138.59 L147.92 137.88 L149.84 136.82 L152.14 135.76 L153.67 134.69 L154.44 132.22 L154.82 130.1 L154.82 127.27 L153.67 124.08 L152.91 121.25 L150.99 119.13 L149.07 117.72 L146.77 115.59 L144.47 113.47 L142.94 111.7 L141.4 109.58 L141.02 107.46 L141.79 105.69 L143.32 103.92 L144.86 102.15 L146.77 101.09 L149.07 99.32 L151.76 98.97 L153.67 99.32 L156.36 99.68 L156.74 101.09 L156.36 102.86 L157.13 103.57 L158.66 103.57 L159.43 102.51 L159.04 100.38 L160.96 99.68 L163.64 98.97 L166.33 98.26 L168.63 97.55 L170.93 96.85 L172.08 95.79 L173.61 96.49 L175.91 95.43 L178.6 94.72 L181.67 94.37 L183.58 92.96 L186.27 91.19 L188.19 89.42 L190.49 88.36 L191.64 86.59 L193.55 85.53 L194.32 83.76 L194.7 81.64 L196.62 80.58 L197.39 78.81 L198.92 76.69 L200.46 74.92 L201.99 73.5 L203.14 71.38 L203.14 69.61 L201.22 68.9 L199.69 67.84 L201.99 66.43 L203.14 65.37 L202.76 63.6 L200.84 62.18 L199.31 60.06 L198.16 57.58 L197 54.4 L195.09 53.34 L193.17 52.28 L193.94 49.8 L195.85 48.39 L197.77 47.33 L199.69 45.91 L202.37 44.85 L205.44 44.5 L205.44 43.08 L203.52 42.73 L201.22 42.37 L198.92 41.67 L197 42.37 L194.7 43.79 L192.4 43.79 L191.64 42.37 L191.64 40.96 L189.34 39.9 L187.04 38.84 L186.65 37.42 L188.19 36.72 L190.49 37.07 L192.79 36.01 L193.94 34.24 L195.85 33.18 L198.16 32.12 L199.69 30.7 L201.99 30.7 L204.29 32.12 L203.14 33.89 L201.99 35.3 L200.84 36.01 L200.46 37.78 L201.99 38.13 L202.76 37.07 L204.67 36.01 L207.36 34.95 L209.66 34.59 L212.34 34.24 L214.64 34.95 L216.18 35.65 L216.56 37.42 L215.03 38.84 L216.18 40.96 L218.86 42.02 L220.78 42.37 L221.55 43.79 L220.78 45.2 L220.78 46.62 L221.16 48.39 L220.4 50.51 L220.01 52.63 L220.78 53.69 L222.7 52.99 L225 52.63 L227.68 51.93 L229.98 51.22 L231.52 50.51 L232.28 48.74 L232.28 46.27 L231.9 44.14 L230.37 42.02 L228.83 39.9 L227.3 38.13 L225.76 37.07 L224.61 35.65 L225.38 34.59 L227.68 33.89 L230.37 32.12 L233.05 31.06 L233.43 29.29 L233.82 27.52 L234.2 25.75 L235.73 24.69 M152.14 107.81 L152.52 109.93 L154.44 110.64 L155.98 111 L157.89 110.29 L159.43 108.87 L160.96 106.04 L161.34 105.34 L159.81 104.27 L158.28 104.27 L156.36 104.63 L154.82 104.98 L153.29 106.04 L152.14 107.81 M196.24 94.02 L197 95.79 L198.54 97.55 L199.31 97.55 L199.31 96.14 L200.46 94.72 L201.61 92.6 L201.99 90.48 L203.14 88.36 L203.14 86.94 L201.61 85.88 L199.69 86.94 L198.54 88.36 L197 90.48 L196.24 92.25 L196.24 94.02 M198.16 109.93 L199.69 109.58 L201.61 110.29 L204.29 109.93 L204.67 112.06 L204.29 114.53 L205.44 116.65 L203.52 118.07 L201.99 119.13 L201.99 121.25 L201.61 123.73 L202.76 125.14 L204.67 125.5 L206.21 124.79 L207.74 125.85 L209.28 126.91 L210.81 126.91 L211.58 129.39 L210.81 130.8 L209.28 129.39 L208.13 128.68 L205.82 128.33 L205.06 127.27 L203.14 126.56 L201.61 126.91 L199.69 126.91 L198.54 125.14 L198.16 124.08 L199.31 123.73 L197.77 123.02 L197 123.73 L196.24 122.31 L195.47 120.55 L195.09 118.07 L196.62 118.07 L197.39 116.65 L197.39 113.47 L198.16 109.93 M197.39 127.62 L200.46 127.97 L201.61 129.74 L200.84 131.86 L199.69 132.22 L198.92 130.45 L197.39 127.62 M203.14 133.28 L205.82 134.34 L207.74 136.11 L206.21 138.23 L203.91 137.88 L203.52 135.4 L203.14 133.28 M206.97 136.82 L208.89 138.23 L208.51 141.41 L205.44 141.41 L205.06 138.59 L206.97 136.82 M212.34 131.16 L215.03 131.16 L217.71 136.11 L215.79 136.46 L214.64 135.05 L212.73 132.93 L212.34 131.16 M212.34 134.69 L214.64 135.4 L215.41 138.59 L214.26 141.41 L213.11 140 L212.34 134.69 M210.81 135.76 L211.58 137.17 L209.66 141.41 L208.51 141.41 L210.81 135.76 M208.13 131.51 L210.43 132.22 L211.58 131.16 L209.66 130.8 L208.13 131.51 M190.49 141.41 L193.17 138.23 L194.32 135.76 L195.47 135.4 L193.94 137.88 L192.02 141.41 M219.63 57.23 L221.16 56.7 L222.5 57.05 L221.16 57.94 L219.63 57.58 L219.63 57.23 M235.73 56.17 L234.2 56.52 L233.05 57.58 L233.82 59 L233.43 60.06 L234.97 60.77 L234.58 62.18 L235.35 64.66 L236.12 65.72 M231.52 52.99 L232.09 52.99 L231.71 54.4 L231.13 54.05 L231.52 52.99" fill="none" stroke="#7a7a7a" stroke-width="0.7" stroke-linejoin="round"/>
</g>
<path d="M42.47 140 V144.3 M42.47 16.2 V11.9 M119.16 140 V144.3 M119.16 16.2 V11.9 M195.85 140 V144.3 M195.85 16.2 V11.9 M23.3 140 H19 M234.2 140 H238.5 M23.3 104.63 H19 M234.2 104.63 H238.5 M23.3 69.26 H19 M234.2 69.26 H238.5 M23.3 33.89 H19 M234.2 33.89 H238.5" stroke="#444" stroke-width="1" fill="none"/>
<path d="M23.3 140 V142 M23.3 16.2 V14.2 M61.65 140 V142 M61.65 16.2 V14.2 M80.82 140 V142 M80.82 16.2 V14.2 M99.99 140 V142 M99.99 16.2 V14.2 M138.34 140 V142 M138.34 16.2 V14.2 M157.51 140 V142 M157.51 16.2 V14.2 M176.68 140 V142 M176.68 16.2 V14.2 M215.03 140 V142 M215.03 16.2 V14.2 M234.2 140 V142 M234.2 16.2 V14.2 M23.3 132.93 H21.3 M234.2 132.93 H236.2 M23.3 125.85 H21.3 M234.2 125.85 H236.2 M23.3 118.78 H21.3 M234.2 118.78 H236.2 M23.3 111.7 H21.3 M234.2 111.7 H236.2 M23.3 97.55 H21.3 M234.2 97.55 H236.2 M23.3 90.48 H21.3 M234.2 90.48 H236.2 M23.3 83.41 H21.3 M234.2 83.41 H236.2 M23.3 76.33 H21.3 M234.2 76.33 H236.2 M23.3 62.18 H21.3 M234.2 62.18 H236.2 M23.3 55.11 H21.3 M234.2 55.11 H236.2 M23.3 48.03 H21.3 M234.2 48.03 H236.2 M23.3 40.96 H21.3 M234.2 40.96 H236.2 M23.3 26.81 H21.3 M234.2 26.81 H236.2 M23.3 19.74 H21.3 M234.2 19.74 H236.2" stroke="#8a8a8a" stroke-width="0.8" fill="none"/>
<rect x="23.3" y="16.2" width="210.9" height="123.8" fill="none" stroke="#4a4a4a" stroke-width="1"/>
<rect x="32" y="152.3" width="65.82" height="18.1" fill="#fdeefa"/>
<rect x="97.82" y="152.3" width="61.82" height="18.1" fill="#ecfcfc"/>
<rect x="36" y="156.3" width="15.75" height="11.1" fill="#c42c14"/>
<rect x="51.45" y="156.3" width="15.75" height="11.1" fill="#ee7614"/>
<rect x="66.91" y="156.3" width="15.75" height="11.1" fill="#eebb0c"/>
<rect x="82.36" y="156.3" width="15.75" height="11.1" fill="#fff500"/>
<rect x="97.82" y="156.3" width="15.75" height="11.1" fill="#5ad714"/>
<rect x="113.27" y="156.3" width="15.75" height="11.1" fill="#28e10a"/>
<rect x="128.73" y="156.3" width="15.75" height="11.1" fill="#19878c"/>
<rect x="144.18" y="156.3" width="15.75" height="11.1" fill="#1e41f5"/>
<rect x="159.64" y="156.3" width="15.75" height="11.1" fill="#8287f5"/>
<rect x="175.09" y="156.3" width="15.75" height="11.1" fill="#87a5fa"/>
<rect x="190.55" y="156.3" width="15.75" height="11.1" fill="#cdd7fa"/>
<clipPath id="clipb"><rect x="23.6" y="199.3" width="210.3" height="123.7"/></clipPath>
<g clip-path="url(#clipb)">
<g filter="url(#bl)">
<path d="M84.8 199.2h1.8v1.6h-1.8zM196.5 199.4h1.8v1.6h-1.8zM128.1 201.1h3.6v1.6h-3.6zM209.2 201.1h2.7v1.6h-2.7zM34.5 202.3h3.6v1.6h-3.6zM38.0 204.3h2.7v1.6h-2.7zM144.0 204.1h1.8v1.6h-1.8zM147.9 207.3h3.6v1.6h-3.6zM115.2 209.0h1.8v1.6h-1.8zM153.3 209.0h3.6v1.6h-3.6zM183.8 209.0h2.7v1.6h-2.7zM97.2 210.5h3.6v1.6h-3.6zM194.6 210.6h2.7v1.6h-2.7zM221.6 210.7h2.7v1.6h-2.7zM43.5 212.3h1.8v1.6h-1.8zM88.4 212.0h2.7v1.6h-2.7zM124.5 212.0h1.8v1.6h-1.8zM230.6 212.1h1.8v1.6h-1.8zM92.0 213.5h3.6v1.6h-3.6zM32.8 215.5h2.7v1.6h-2.7zM146.0 215.5h2.7v1.6h-2.7zM187.3 217.1h2.7v1.6h-2.7zM210.8 217.1h1.8v1.6h-1.8zM34.3 218.6h1.8v1.6h-1.8zM46.8 220.3h3.6v1.6h-3.6zM68.7 220.2h2.7v1.6h-2.7zM119.2 220.2h2.7v1.6h-2.7zM210.7 220.0h2.7v1.6h-2.7zM34.6 221.5h1.8v1.6h-1.8zM201.7 221.7h3.6v1.6h-3.6zM151.3 223.4h3.6v1.6h-3.6zM129.6 226.3h2.7v1.6h-2.7zM67.0 228.3h3.6v1.6h-3.6zM119.2 227.9h3.6v1.6h-3.6zM190.8 228.0h2.7v1.6h-2.7zM226.9 228.2h2.7v1.6h-2.7zM45.3 229.7h3.6v1.6h-3.6zM75.8 229.8h2.7v1.6h-2.7zM79.6 229.9h1.8v1.6h-1.8zM109.8 229.6h1.8v1.6h-1.8zM115.3 229.8h3.6v1.6h-3.6zM167.8 229.9h1.8v1.6h-1.8zM203.8 229.5h1.8v1.6h-1.8zM129.7 231.5h1.8v1.6h-1.8zM180.0 231.4h3.6v1.6h-3.6zM208.9 231.3h3.6v1.6h-3.6zM30.7 233.0h2.7v1.6h-2.7zM165.7 234.6h3.6v1.6h-3.6zM169.6 234.3h1.8v1.6h-1.8zM205.2 234.5h3.6v1.6h-3.6zM117.1 237.5h3.6v1.6h-3.6zM189.3 239.2h3.6v1.6h-3.6zM174.8 240.7h1.8v1.6h-1.8zM23.8 242.6h3.6v1.6h-3.6zM68.5 242.6h2.7v1.6h-2.7zM91.8 242.4h1.8v1.6h-1.8zM171.0 242.5h2.7v1.6h-2.7zM50.7 244.2h2.7v1.6h-2.7zM115.3 243.9h1.8v1.6h-1.8zM135.0 243.9h3.6v1.6h-3.6zM149.5 244.1h3.6v1.6h-3.6zM45.3 245.5h2.7v1.6h-2.7zM55.8 245.8h2.7v1.6h-2.7zM136.9 245.9h2.7v1.6h-2.7zM154.9 245.7h2.7v1.6h-2.7zM230.5 245.7h2.7v1.6h-2.7zM70.2 247.2h3.6v1.6h-3.6zM43.2 248.7h1.8v1.6h-1.8zM112.0 250.4h1.8v1.6h-1.8zM225.1 250.7h2.7v1.6h-2.7zM54.1 251.9h3.6v1.6h-3.6zM113.6 252.2h2.7v1.6h-2.7zM122.7 252.3h1.8v1.6h-1.8zM81.0 253.5h1.8v1.6h-1.8zM36.0 255.4h3.6v1.6h-3.6zM70.3 255.3h3.6v1.6h-3.6zM95.8 255.5h3.6v1.6h-3.6zM109.8 255.3h3.6v1.6h-3.6zM169.2 255.4h1.8v1.6h-1.8zM200.2 255.2h2.7v1.6h-2.7zM32.8 257.0h2.7v1.6h-2.7zM59.5 256.9h3.6v1.6h-3.6zM70.6 256.9h1.8v1.6h-1.8zM153.0 256.7h1.8v1.6h-1.8zM63.1 258.7h1.8v1.6h-1.8zM102.7 258.6h3.6v1.6h-3.6zM57.9 260.3h3.6v1.6h-3.6zM70.5 260.0h2.7v1.6h-2.7zM109.8 259.9h1.8v1.6h-1.8zM95.4 261.6h2.7v1.6h-2.7zM111.7 261.5h1.8v1.6h-1.8zM144.0 261.5h1.8v1.6h-1.8zM210.9 261.7h2.7v1.6h-2.7zM57.6 263.2h3.6v1.6h-3.6zM108.2 263.5h1.8v1.6h-1.8zM169.2 263.1h1.8v1.6h-1.8zM41.5 264.8h2.7v1.6h-2.7zM102.7 265.1h1.8v1.6h-1.8zM181.9 264.9h3.6v1.6h-3.6zM205.3 265.1h1.8v1.6h-1.8zM27.0 266.3h2.7v1.6h-2.7zM70.6 266.4h1.8v1.6h-1.8zM23.4 268.1h3.6v1.6h-3.6zM106.5 268.1h2.7v1.6h-2.7zM77.7 269.8h3.6v1.6h-3.6zM194.4 271.4h1.8v1.6h-1.8zM174.7 272.7h3.6v1.6h-3.6zM54.1 276.2h3.6v1.6h-3.6zM59.6 276.0h2.7v1.6h-2.7zM68.4 276.1h1.8v1.6h-1.8zM124.4 276.3h2.7v1.6h-2.7zM165.6 276.3h1.8v1.6h-1.8zM209.1 275.9h2.7v1.6h-2.7zM216.0 276.1h1.8v1.6h-1.8zM63.3 277.5h1.8v1.6h-1.8zM66.9 277.6h3.6v1.6h-3.6zM183.6 277.7h2.7v1.6h-2.7zM28.8 279.4h1.8v1.6h-1.8zM38.2 279.2h2.7v1.6h-2.7zM108.1 279.3h2.7v1.6h-2.7zM147.6 279.1h2.7v1.6h-2.7zM77.4 281.1h1.8v1.6h-1.8zM88.6 281.1h1.8v1.6h-1.8zM124.2 281.0h3.6v1.6h-3.6zM192.7 281.0h2.7v1.6h-2.7zM151.5 284.1h3.6v1.6h-3.6zM158.8 284.2h2.7v1.6h-2.7zM93.6 285.7h2.7v1.6h-2.7zM95.6 285.5h1.8v1.6h-1.8zM99.4 285.9h3.6v1.6h-3.6zM189.3 285.7h1.8v1.6h-1.8zM93.8 287.3h1.8v1.6h-1.8zM108.0 287.1h1.8v1.6h-1.8zM140.6 287.4h2.7v1.6h-2.7zM178.5 287.5h2.7v1.6h-2.7zM182.2 288.9h1.8v1.6h-1.8zM225.3 289.1h3.6v1.6h-3.6zM155.0 290.5h1.8v1.6h-1.8zM144.1 292.3h3.6v1.6h-3.6zM219.9 291.9h2.7v1.6h-2.7zM124.6 293.5h3.6v1.6h-3.6zM185.6 295.5h1.8v1.6h-1.8zM27.0 296.8h3.6v1.6h-3.6zM209.1 298.6h2.7v1.6h-2.7zM74.2 301.5h1.8v1.6h-1.8zM133.6 301.8h3.6v1.6h-3.6zM203.6 303.1h3.6v1.6h-3.6zM25.6 305.1h1.8v1.6h-1.8zM124.3 304.9h1.8v1.6h-1.8zM174.9 304.7h3.6v1.6h-3.6zM101.2 306.4h3.6v1.6h-3.6zM131.4 306.7h1.8v1.6h-1.8zM136.9 308.1h1.8v1.6h-1.8zM219.9 308.3h3.6v1.6h-3.6zM142.5 309.8h3.6v1.6h-3.6zM201.9 311.3h1.8v1.6h-1.8zM232.2 311.2h2.7v1.6h-2.7zM111.8 314.7h3.6v1.6h-3.6zM169.3 314.5h3.6v1.6h-3.6zM205.3 314.5h3.6v1.6h-3.6zM169.6 315.9h3.6v1.6h-3.6zM115.2 317.9h3.6v1.6h-3.6zM124.2 317.7h1.8v1.6h-1.8zM147.8 317.5h3.6v1.6h-3.6zM61.6 319.3h3.6v1.6h-3.6zM131.5 321.0h3.6v1.6h-3.6zM149.7 320.8h2.7v1.6h-2.7z" fill="#fad2f0"/>
<path d="M50.8 201.0h2.7v1.6h-2.7zM106.4 201.0h3.6v1.6h-3.6zM210.6 200.7h2.7v1.6h-2.7zM180.2 202.7h1.8v1.6h-1.8zM198.0 202.5h2.7v1.6h-2.7zM119.1 204.0h2.7v1.6h-2.7zM182.1 204.2h1.8v1.6h-1.8zM28.9 205.7h1.8v1.6h-1.8zM30.9 205.6h3.6v1.6h-3.6zM56.1 205.5h1.8v1.6h-1.8zM79.3 207.4h1.8v1.6h-1.8zM160.5 207.1h1.8v1.6h-1.8zM218.0 208.8h1.8v1.6h-1.8zM59.5 210.6h1.8v1.6h-1.8zM75.6 210.4h1.8v1.6h-1.8zM79.2 211.9h3.6v1.6h-3.6zM181.8 212.2h2.7v1.6h-2.7zM207.4 211.9h3.6v1.6h-3.6zM32.8 213.5h3.6v1.6h-3.6zM158.5 213.7h2.7v1.6h-2.7zM232.6 213.8h2.7v1.6h-2.7zM88.5 215.3h1.8v1.6h-1.8zM183.9 215.4h1.8v1.6h-1.8zM111.6 216.8h1.8v1.6h-1.8zM216.0 216.7h1.8v1.6h-1.8zM191.2 218.3h3.6v1.6h-3.6zM128.2 219.9h3.6v1.6h-3.6zM209.0 220.1h3.6v1.6h-3.6zM93.8 221.5h1.8v1.6h-1.8zM106.6 221.5h1.8v1.6h-1.8zM111.7 221.7h1.8v1.6h-1.8zM155.0 221.7h2.7v1.6h-2.7zM160.5 221.6h2.7v1.6h-2.7zM102.9 223.5h3.6v1.6h-3.6zM113.7 223.5h3.6v1.6h-3.6zM201.7 223.3h3.6v1.6h-3.6zM56.1 226.3h3.6v1.6h-3.6zM165.9 226.7h1.8v1.6h-1.8zM48.7 228.3h3.6v1.6h-3.6zM65.1 228.3h2.7v1.6h-2.7zM218.1 229.5h3.6v1.6h-3.6zM151.5 231.4h2.7v1.6h-2.7zM160.4 231.3h3.6v1.6h-3.6zM93.7 232.9h1.8v1.6h-1.8zM126.0 234.7h2.7v1.6h-2.7zM176.4 234.6h3.6v1.6h-3.6zM180.4 234.6h1.8v1.6h-1.8zM27.3 236.1h2.7v1.6h-2.7zM36.4 236.2h2.7v1.6h-2.7zM75.8 235.9h2.7v1.6h-2.7zM48.6 237.6h3.6v1.6h-3.6zM118.9 237.7h1.8v1.6h-1.8zM145.8 237.7h2.7v1.6h-2.7zM162.4 239.2h1.8v1.6h-1.8zM47.1 241.1h2.7v1.6h-2.7zM180.2 241.0h3.6v1.6h-3.6zM32.6 244.0h2.7v1.6h-2.7zM82.9 245.9h3.6v1.6h-3.6zM86.8 245.6h1.8v1.6h-1.8zM85.0 247.3h3.6v1.6h-3.6zM34.2 248.9h1.8v1.6h-1.8zM63.4 249.0h1.8v1.6h-1.8zM41.6 250.3h3.6v1.6h-3.6zM153.0 250.7h3.6v1.6h-3.6zM154.9 250.6h3.6v1.6h-3.6zM200.2 250.4h3.6v1.6h-3.6zM210.8 250.5h1.8v1.6h-1.8zM30.6 251.9h3.6v1.6h-3.6zM163.8 252.3h2.7v1.6h-2.7zM185.6 252.1h1.8v1.6h-1.8zM194.7 251.9h2.7v1.6h-2.7zM25.3 253.6h1.8v1.6h-1.8zM75.8 253.5h3.6v1.6h-3.6zM115.6 253.9h2.7v1.6h-2.7zM133.4 253.9h3.6v1.6h-3.6zM108.0 255.1h3.6v1.6h-3.6zM36.3 256.8h1.8v1.6h-1.8zM63.3 256.9h3.6v1.6h-3.6zM148.0 257.0h3.6v1.6h-3.6zM216.0 257.0h1.8v1.6h-1.8zM100.9 258.7h2.7v1.6h-2.7zM86.5 260.3h3.6v1.6h-3.6zM138.8 260.1h2.7v1.6h-2.7zM154.8 261.6h2.7v1.6h-2.7zM228.9 261.6h3.6v1.6h-3.6zM124.2 263.1h3.6v1.6h-3.6zM207.4 263.1h2.7v1.6h-2.7zM75.8 264.8h3.6v1.6h-3.6zM119.0 265.1h3.6v1.6h-3.6zM104.7 268.0h3.6v1.6h-3.6zM124.6 268.1h1.8v1.6h-1.8zM164.2 267.9h3.6v1.6h-3.6zM25.5 269.6h3.6v1.6h-3.6zM52.2 269.5h1.8v1.6h-1.8zM75.8 269.9h3.6v1.6h-3.6zM162.4 269.7h2.7v1.6h-2.7zM108.3 271.2h2.7v1.6h-2.7zM174.8 271.5h2.7v1.6h-2.7zM47.1 273.0h3.6v1.6h-3.6zM90.1 273.1h3.6v1.6h-3.6zM160.5 272.9h2.7v1.6h-2.7zM184.0 273.0h3.6v1.6h-3.6zM68.7 274.3h3.6v1.6h-3.6zM93.6 274.3h2.7v1.6h-2.7zM146.1 274.3h3.6v1.6h-3.6zM198.4 274.3h3.6v1.6h-3.6zM93.6 277.7h2.7v1.6h-2.7zM172.8 277.5h3.6v1.6h-3.6zM90.4 279.4h1.8v1.6h-1.8zM101.0 279.3h2.7v1.6h-2.7zM163.9 279.3h1.8v1.6h-1.8zM99.4 281.1h3.6v1.6h-3.6zM102.8 281.0h2.7v1.6h-2.7zM133.5 280.8h2.7v1.6h-2.7zM207.4 280.8h3.6v1.6h-3.6zM216.2 281.0h2.7v1.6h-2.7zM83.1 282.5h2.7v1.6h-2.7zM176.8 282.3h1.8v1.6h-1.8zM214.4 282.4h2.7v1.6h-2.7zM127.8 285.6h1.8v1.6h-1.8zM182.1 287.4h2.7v1.6h-2.7zM167.4 289.1h2.7v1.6h-2.7zM194.7 289.0h1.8v1.6h-1.8zM31.0 290.7h2.7v1.6h-2.7zM45.3 290.3h2.7v1.6h-2.7zM113.5 292.3h3.6v1.6h-3.6zM153.0 292.2h1.8v1.6h-1.8zM46.8 293.7h2.7v1.6h-2.7zM54.1 295.1h3.6v1.6h-3.6zM70.3 295.4h3.6v1.6h-3.6zM210.6 295.4h3.6v1.6h-3.6zM227.0 295.4h3.6v1.6h-3.6zM92.1 296.7h2.7v1.6h-2.7zM140.4 296.9h1.8v1.6h-1.8zM23.7 298.3h2.7v1.6h-2.7zM225.0 298.5h1.8v1.6h-1.8zM92.2 300.0h2.7v1.6h-2.7zM106.3 299.9h2.7v1.6h-2.7zM165.9 300.3h1.8v1.6h-1.8zM25.4 301.9h2.7v1.6h-2.7zM90.1 301.9h1.8v1.6h-1.8zM99.4 301.6h3.6v1.6h-3.6zM104.4 301.7h2.7v1.6h-2.7zM160.2 301.5h1.8v1.6h-1.8zM86.8 303.3h1.8v1.6h-1.8zM142.5 303.3h2.7v1.6h-2.7zM165.8 303.2h1.8v1.6h-1.8zM218.2 303.1h1.8v1.6h-1.8zM65.0 305.1h3.6v1.6h-3.6zM112.0 305.1h2.7v1.6h-2.7zM133.3 305.1h3.6v1.6h-3.6zM212.7 304.7h2.7v1.6h-2.7zM156.7 308.2h2.7v1.6h-2.7zM39.6 309.7h2.7v1.6h-2.7zM61.4 309.5h2.7v1.6h-2.7zM115.2 309.9h1.8v1.6h-1.8zM160.5 309.6h1.8v1.6h-1.8zM163.8 309.6h3.6v1.6h-3.6zM189.0 309.5h1.8v1.6h-1.8zM64.8 311.1h2.7v1.6h-2.7zM153.1 311.1h2.7v1.6h-2.7zM199.8 311.4h2.7v1.6h-2.7zM217.8 311.3h2.7v1.6h-2.7zM39.9 312.7h1.8v1.6h-1.8zM189.2 312.9h3.6v1.6h-3.6zM194.4 312.9h1.8v1.6h-1.8zM118.8 314.7h3.6v1.6h-3.6zM131.7 314.6h1.8v1.6h-1.8zM190.8 316.3h2.7v1.6h-2.7zM117.4 317.7h1.8v1.6h-1.8zM164.0 317.7h3.6v1.6h-3.6zM37.9 319.5h1.8v1.6h-1.8zM216.0 320.9h3.6v1.6h-3.6z" fill="#c8f5fa"/>
<path d="M59.8 201.0h1.8v1.6h-1.8zM61.5 201.0h1.8v1.6h-1.8zM68.7 200.7h1.8v1.6h-1.8zM181.9 200.7h2.7v1.6h-2.7zM185.4 200.9h3.6v1.6h-3.6zM142.2 202.4h3.6v1.6h-3.6zM216.1 202.7h3.6v1.6h-3.6zM176.7 204.0h3.6v1.6h-3.6zM162.3 205.9h2.7v1.6h-2.7zM196.2 205.9h2.7v1.6h-2.7zM136.8 207.4h2.7v1.6h-2.7zM232.3 207.5h2.7v1.6h-2.7zM47.0 208.8h1.8v1.6h-1.8zM180.3 210.3h1.8v1.6h-1.8zM230.7 210.3h1.8v1.6h-1.8zM95.5 211.9h3.6v1.6h-3.6zM221.8 212.3h1.8v1.6h-1.8zM160.3 213.6h1.8v1.6h-1.8zM201.7 213.7h2.7v1.6h-2.7zM214.3 213.6h2.7v1.6h-2.7zM43.2 215.1h3.6v1.6h-3.6zM214.3 215.1h3.6v1.6h-3.6zM25.3 217.1h3.6v1.6h-3.6zM102.6 217.0h2.7v1.6h-2.7zM189.0 218.7h3.6v1.6h-3.6zM192.7 218.3h1.8v1.6h-1.8zM135.3 220.1h3.6v1.6h-3.6zM196.3 219.9h3.6v1.6h-3.6zM126.1 221.6h3.6v1.6h-3.6zM229.0 221.8h3.6v1.6h-3.6zM138.9 225.0h1.8v1.6h-1.8zM41.6 226.5h3.6v1.6h-3.6zM108.1 226.3h3.6v1.6h-3.6zM126.1 226.5h3.6v1.6h-3.6zM82.9 228.2h2.7v1.6h-2.7zM146.0 227.9h3.6v1.6h-3.6zM227.2 229.6h3.6v1.6h-3.6zM25.5 233.0h1.8v1.6h-1.8zM108.4 232.8h2.7v1.6h-2.7zM72.4 234.7h3.6v1.6h-3.6zM187.4 234.3h2.7v1.6h-2.7zM99.0 236.3h3.6v1.6h-3.6zM111.7 235.9h1.8v1.6h-1.8zM113.6 236.2h3.6v1.6h-3.6zM118.8 236.1h2.7v1.6h-2.7zM130.0 237.8h1.8v1.6h-1.8zM153.1 241.1h3.6v1.6h-3.6zM108.2 242.7h3.6v1.6h-3.6zM73.9 245.5h2.7v1.6h-2.7zM194.7 245.6h1.8v1.6h-1.8zM48.6 248.7h3.6v1.6h-3.6zM93.8 248.7h2.7v1.6h-2.7zM203.8 250.6h1.8v1.6h-1.8zM209.1 250.7h3.6v1.6h-3.6zM232.6 253.5h3.6v1.6h-3.6zM23.6 255.1h1.8v1.6h-1.8zM117.2 255.5h2.7v1.6h-2.7zM88.6 257.0h3.6v1.6h-3.6zM119.2 256.7h3.6v1.6h-3.6zM120.8 260.0h2.7v1.6h-2.7zM47.1 261.8h3.6v1.6h-3.6zM75.8 263.1h2.7v1.6h-2.7zM95.4 263.1h2.7v1.6h-2.7zM25.6 266.6h1.8v1.6h-1.8zM68.7 266.7h2.7v1.6h-2.7zM126.2 266.6h3.6v1.6h-3.6zM113.6 268.2h3.6v1.6h-3.6zM101.1 269.8h2.7v1.6h-2.7zM185.5 269.5h3.6v1.6h-3.6zM118.9 271.3h2.7v1.6h-2.7zM129.6 272.9h3.6v1.6h-3.6zM135.1 273.1h1.8v1.6h-1.8zM201.7 272.7h2.7v1.6h-2.7zM25.6 277.6h2.7v1.6h-2.7zM43.4 279.3h3.6v1.6h-3.6zM142.3 280.8h3.6v1.6h-3.6zM68.5 282.6h1.8v1.6h-1.8zM90.1 282.3h1.8v1.6h-1.8zM101.1 282.7h1.8v1.6h-1.8zM83.0 285.5h3.6v1.6h-3.6zM100.8 289.0h2.7v1.6h-2.7zM189.4 290.3h2.7v1.6h-2.7zM208.8 290.6h3.6v1.6h-3.6zM52.6 291.9h2.7v1.6h-2.7zM203.7 292.1h2.7v1.6h-2.7zM79.3 293.9h1.8v1.6h-1.8zM211.0 293.8h3.6v1.6h-3.6zM50.7 295.4h2.7v1.6h-2.7zM109.8 295.5h1.8v1.6h-1.8zM225.1 295.3h2.7v1.6h-2.7zM36.4 298.6h3.6v1.6h-3.6zM102.6 298.3h3.6v1.6h-3.6zM212.4 298.5h2.7v1.6h-2.7zM223.5 298.6h2.7v1.6h-2.7zM30.9 299.9h1.8v1.6h-1.8zM34.4 300.1h3.6v1.6h-3.6zM109.8 299.9h3.6v1.6h-3.6zM49.0 303.2h3.6v1.6h-3.6zM171.4 303.1h3.6v1.6h-3.6zM183.9 303.5h3.6v1.6h-3.6zM36.2 305.1h2.7v1.6h-2.7zM75.9 305.1h2.7v1.6h-2.7zM110.0 306.3h2.7v1.6h-2.7zM90.2 308.2h2.7v1.6h-2.7zM81.1 311.2h2.7v1.6h-2.7zM130.0 312.8h3.6v1.6h-3.6zM153.0 312.7h1.8v1.6h-1.8zM217.9 313.0h2.7v1.6h-2.7zM108.4 314.3h2.7v1.6h-2.7zM194.5 314.7h1.8v1.6h-1.8zM52.6 315.9h1.8v1.6h-1.8zM63.4 316.3h1.8v1.6h-1.8zM155.2 316.2h1.8v1.6h-1.8zM48.9 319.1h2.7v1.6h-2.7zM156.6 319.1h2.7v1.6h-2.7zM225.3 319.3h2.7v1.6h-2.7zM43.4 321.0h1.8v1.6h-1.8zM93.7 320.8h2.7v1.6h-2.7z" fill="#dcdcfa"/>
<path d="M150.3 281.4h1.8v1.5h-1.8z" fill="#fad2f0"/>
<path d="M160.8 281.0h1.8v1.5h-1.8z" fill="#fad2f0"/>
<path d="M168.5 280.0h1.8v1.5h-1.8z" fill="#c8f5fa"/>
<path d="M170.4 277.3h1.8v1.5h-1.8z" fill="#c8f5fa"/>
<path d="M173.9 278.3h1.8v1.5h-1.8z" fill="#f08cd2"/>
<path d="M176.9 276.6h1.8v1.5h-1.8z" fill="#fad2f0"/>
<path d="M177.7 276.2h1.8v1.5h-1.8z" fill="#f08cd2"/>
<path d="M181.5 277.2h1.8v1.5h-1.8z" fill="#f08cd2"/>
<path d="M181.2 276.5h1.8v1.5h-1.8z" fill="#fad2f0"/>
<path d="M190.7 269.9h1.8v1.5h-1.8z" fill="#fad2f0"/>
<path d="M193.3 265.4h1.8v1.5h-1.8z" fill="#fad2f0"/>
<path d="M194.1 265.5h1.8v1.5h-1.8z" fill="#f08cd2"/>
<path d="M193.7 264.7h1.8v1.5h-1.8z" fill="#f08cd2"/>
<path d="M194.7 262.4h1.8v1.5h-1.8z" fill="#fad2f0"/>
<path d="M196.6 262.1h1.8v1.5h-1.8z" fill="#fad2f0"/>
<path d="M197.8 258.8h1.8v1.5h-1.8z" fill="#c8f5fa"/>
<path d="M200.1 257.8h1.8v1.5h-1.8z" fill="#fad2f0"/>
<path d="M201.1 256.3h1.8v1.5h-1.8z" fill="#f08cd2"/>
<path d="M201.1 255.6h1.8v1.5h-1.8z" fill="#c8f5fa"/>
<path d="M201.9 253.7h1.8v1.5h-1.8z" fill="#fad2f0"/>
<path d="M202.1 251.9h1.8v1.5h-1.8z" fill="#fad2f0"/>
<path d="M201.9 252.1h1.8v1.5h-1.8z" fill="#c8f5fa"/>
<path d="M198.3 251.1h1.8v1.5h-1.8z" fill="#f08cd2"/>
<path d="M200.5 249.4h1.8v1.5h-1.8z" fill="#c8f5fa"/>
<path d="M201.5 247.5h1.8v1.5h-1.8z" fill="#c8f5fa"/>
<path d="M202.6 248.5h1.8v1.5h-1.8z" fill="#f08cd2"/>
<path d="M200.9 246.7h1.8v1.5h-1.8z" fill="#f08cd2"/>
<path d="M200.8 245.0h1.8v1.5h-1.8z" fill="#c8f5fa"/>
<path d="M201.3 245.0h1.8v1.5h-1.8z" fill="#f08cd2"/>
<path d="M198.8 242.1h1.8v1.5h-1.8z" fill="#f08cd2"/>
<path d="M197.5 241.2h1.8v1.5h-1.8z" fill="#fad2f0"/>
<path d="M196.5 236.4h1.8v1.5h-1.8z" fill="#fad2f0"/>
<path d="M195.0 236.9h1.8v1.5h-1.8z" fill="#fad2f0"/>
<path d="M191.1 234.8h1.8v1.5h-1.8z" fill="#c8f5fa"/>
<path d="M192.1 233.5h1.8v1.5h-1.8z" fill="#fad2f0"/>
<path d="M192.2 232.0h1.8v1.5h-1.8z" fill="#fad2f0"/>
<path d="M193.5 230.7h1.8v1.5h-1.8z" fill="#f08cd2"/>
<path d="M199.6 228.7h1.8v1.5h-1.8z" fill="#f08cd2"/>
<path d="M198.7 228.3h1.8v1.5h-1.8z" fill="#fad2f0"/>
<path d="M204.7 226.2h1.8v1.5h-1.8z" fill="#f08cd2"/>
<path d="M203.0 226.1h1.8v1.5h-1.8z" fill="#c8f5fa"/>
<path d="M200.7 224.0h1.8v1.5h-1.8z" fill="#fad2f0"/>
<path d="M200.8 224.3h1.8v1.5h-1.8z" fill="#fad2f0"/>
<path d="M198.9 224.8h1.8v1.5h-1.8z" fill="#fad2f0"/>
<path d="M197.0 224.9h1.8v1.5h-1.8z" fill="#fad2f0"/>
<path d="M197.8 224.2h1.8v1.5h-1.8z" fill="#fad2f0"/>
<path d="M197.4 225.1h1.8v1.5h-1.8z" fill="#c8f5fa"/>
<path d="M193.3 226.7h1.8v1.5h-1.8z" fill="#f08cd2"/>
<path d="M192.0 226.9h1.8v1.5h-1.8z" fill="#f08cd2"/>
<path d="M191.0 224.8h1.8v1.5h-1.8z" fill="#fad2f0"/>
<path d="M190.6 225.2h1.8v1.5h-1.8z" fill="#fad2f0"/>
<path d="M191.2 224.8h1.8v1.5h-1.8z" fill="#fad2f0"/>
<path d="M187.3 222.6h1.8v1.5h-1.8z" fill="#fad2f0"/>
<path d="M186.0 220.1h1.8v1.5h-1.8z" fill="#f08cd2"/>
<path d="M186.5 219.1h1.8v1.5h-1.8z" fill="#fad2f0"/>
<path d="M186.7 218.5h1.8v1.5h-1.8z" fill="#f08cd2"/>
<path d="M187.2 218.3h1.8v1.5h-1.8z" fill="#c8f5fa"/>
<path d="M188.6 219.1h1.8v1.5h-1.8z" fill="#f08cd2"/>
<path d="M190.5 218.9h1.8v1.5h-1.8z" fill="#fad2f0"/>
<path d="M190.7 218.5h1.8v1.5h-1.8z" fill="#fad2f0"/>
<path d="M193.9 215.4h1.8v1.5h-1.8z" fill="#fad2f0"/>
<path d="M196.8 214.5h1.8v1.5h-1.8z" fill="#f08cd2"/>
<path d="M199.3 220.8h1.8v1.5h-1.8z" fill="#fad2f0"/>
<path d="M199.6 220.6h1.8v1.5h-1.8z" fill="#fad2f0"/>
<path d="M200.2 221.1h1.8v1.5h-1.8z" fill="#fad2f0"/>
<path d="M204.2 218.8h1.8v1.5h-1.8z" fill="#fad2f0"/>
<path d="M204.6 218.2h1.8v1.5h-1.8z" fill="#fad2f0"/>
<path d="M207.9 216.7h1.8v1.5h-1.8z" fill="#f08cd2"/>
<path d="M212.3 216.8h1.8v1.5h-1.8z" fill="#fad2f0"/>
<path d="M214.9 216.9h1.8v1.5h-1.8z" fill="#fad2f0"/>
<path d="M213.9 222.6h1.8v1.5h-1.8z" fill="#fad2f0"/>
<path d="M214.0 221.8h1.8v1.5h-1.8z" fill="#fad2f0"/>
<path d="M218.4 224.8h1.8v1.5h-1.8z" fill="#f08cd2"/>
<path d="M220.5 223.8h1.8v1.5h-1.8z" fill="#fad2f0"/>
<path d="M219.5 224.4h1.8v1.5h-1.8z" fill="#fad2f0"/>
<path d="M220.4 227.0h1.8v1.5h-1.8z" fill="#fad2f0"/>
<path d="M219.6 227.9h1.8v1.5h-1.8z" fill="#f08cd2"/>
<path d="M220.7 230.6h1.8v1.5h-1.8z" fill="#fad2f0"/>
<path d="M219.0 232.3h1.8v1.5h-1.8z" fill="#fad2f0"/>
<path d="M223.7 235.3h1.8v1.5h-1.8z" fill="#fad2f0"/>
<path d="M225.4 235.4h1.8v1.5h-1.8z" fill="#fad2f0"/>
<path d="M225.8 234.3h1.8v1.5h-1.8z" fill="#fad2f0"/>
<path d="M227.2 233.7h1.8v1.5h-1.8z" fill="#fad2f0"/>
<path d="M228.8 233.1h1.8v1.5h-1.8z" fill="#c8f5fa"/>
<path d="M229.1 233.2h1.8v1.5h-1.8z" fill="#fad2f0"/>
<path d="M229.0 233.1h1.8v1.5h-1.8z" fill="#fad2f0"/>
<path d="M230.5 230.7h1.8v1.5h-1.8z" fill="#fad2f0"/>
<path d="M228.4 224.4h1.8v1.5h-1.8z" fill="#f08cd2"/>
<path d="M228.8 222.8h1.8v1.5h-1.8z" fill="#f08cd2"/>
<path d="M227.0 222.7h1.8v1.5h-1.8z" fill="#c8f5fa"/>
<path d="M224.4 219.1h1.8v1.5h-1.8z" fill="#c8f5fa"/>
<path d="M229.1 213.8h1.8v1.5h-1.8z" fill="#fad2f0"/>
<path d="M230.7 214.5h1.8v1.5h-1.8z" fill="#fad2f0"/>
<path d="M231.5 212.9h1.8v1.5h-1.8z" fill="#f08cd2"/>
<path d="M232.9 211.9h1.8v1.5h-1.8z" fill="#f08cd2"/>
<path d="M66.2 222.0h2.0v1.8h-2.0zM75.8 221.8h2.0v1.8h-2.0zM68.1 224.0h2.0v1.8h-2.0zM80.0 223.9h2.0v1.8h-2.0zM85.9 223.9h2.0v1.8h-2.0zM80.1 225.7h2.0v1.8h-2.0zM81.9 225.6h2.0v1.8h-2.0zM51.9 227.6h2.0v1.8h-2.0zM58.0 227.4h2.0v1.8h-2.0zM74.0 227.3h2.0v1.8h-2.0zM76.2 227.6h2.0v1.8h-2.0zM47.9 229.4h2.0v1.8h-2.0zM58.1 229.1h2.0v1.8h-2.0zM64.1 229.1h2.0v1.8h-2.0zM70.0 229.2h2.0v1.8h-2.0zM76.1 229.2h2.0v1.8h-2.0zM82.1 229.4h2.0v1.8h-2.0zM24.1 230.9h2.0v1.8h-2.0zM68.0 230.8h2.0v1.8h-2.0zM27.9 232.7h2.0v1.8h-2.0zM28.1 234.7h2.0v1.8h-2.0zM24.0 236.2h2.0v1.8h-2.0zM36.0 236.5h2.0v1.8h-2.0zM50.1 236.5h2.0v1.8h-2.0zM52.1 236.6h2.0v1.8h-2.0zM65.9 236.4h2.0v1.8h-2.0zM67.9 236.6h2.0v1.8h-2.0zM70.1 236.4h2.0v1.8h-2.0zM80.0 236.5h2.0v1.8h-2.0zM23.9 238.3h2.0v1.8h-2.0zM27.8 238.1h2.0v1.8h-2.0zM33.8 238.1h2.0v1.8h-2.0zM38.0 238.0h2.0v1.8h-2.0zM51.9 238.1h2.0v1.8h-2.0zM26.2 240.1h2.0v1.8h-2.0zM27.8 239.9h2.0v1.8h-2.0zM80.1 240.2h2.0v1.8h-2.0zM27.9 241.7h2.0v1.8h-2.0zM30.0 241.6h2.0v1.8h-2.0zM34.2 241.6h2.0v1.8h-2.0zM47.9 241.7h2.0v1.8h-2.0zM58.0 241.9h2.0v1.8h-2.0zM85.9 241.9h2.0v1.8h-2.0zM28.1 243.6h2.0v1.8h-2.0zM45.9 243.6h2.0v1.8h-2.0zM66.1 243.7h2.0v1.8h-2.0zM29.9 245.5h2.0v1.8h-2.0zM51.8 245.4h2.0v1.8h-2.0zM56.1 245.4h2.0v1.8h-2.0zM58.0 245.3h2.0v1.8h-2.0zM82.2 245.4h2.0v1.8h-2.0zM83.9 245.5h2.0v1.8h-2.0zM21.8 247.1h2.0v1.8h-2.0zM24.0 247.3h2.0v1.8h-2.0zM31.9 247.2h2.0v1.8h-2.0zM40.1 249.1h2.0v1.8h-2.0zM61.9 248.8h2.0v1.8h-2.0zM70.1 248.8h2.0v1.8h-2.0zM81.9 248.8h2.0v1.8h-2.0zM37.9 250.7h2.0v1.8h-2.0zM42.1 250.7h2.0v1.8h-2.0zM48.0 250.9h2.0v1.8h-2.0zM68.2 250.9h2.0v1.8h-2.0zM78.0 250.8h2.0v1.8h-2.0zM82.0 250.8h2.0v1.8h-2.0zM51.9 252.7h2.0v1.8h-2.0zM54.0 252.7h2.0v1.8h-2.0zM55.9 252.5h2.0v1.8h-2.0zM64.0 252.8h2.0v1.8h-2.0zM68.0 252.7h2.0v1.8h-2.0zM77.8 252.7h2.0v1.8h-2.0zM55.9 254.4h2.0v1.8h-2.0zM76.0 254.6h2.0v1.8h-2.0zM84.0 256.0h2.0v1.8h-2.0zM64.1 258.2h2.0v1.8h-2.0zM83.9 258.0h2.0v1.8h-2.0zM67.9 259.7h2.0v1.8h-2.0zM70.2 259.9h2.0v1.8h-2.0z" fill="#c8d2fa"/>
<path d="M71.9 221.9h2.0v1.8h-2.0zM86.2 222.2h2.0v1.8h-2.0zM70.1 223.8h2.0v1.8h-2.0zM84.1 223.9h2.0v1.8h-2.0zM64.0 225.5h2.0v1.8h-2.0zM71.9 225.7h2.0v1.8h-2.0zM64.0 227.5h2.0v1.8h-2.0zM81.9 227.4h2.0v1.8h-2.0zM83.9 227.5h2.0v1.8h-2.0zM32.0 229.3h2.0v1.8h-2.0zM42.1 229.1h2.0v1.8h-2.0zM55.9 229.2h2.0v1.8h-2.0zM73.9 229.3h2.0v1.8h-2.0zM22.1 230.9h2.0v1.8h-2.0zM34.1 230.9h2.0v1.8h-2.0zM36.1 231.1h2.0v1.8h-2.0zM38.0 231.1h2.0v1.8h-2.0zM45.9 231.2h2.0v1.8h-2.0zM42.0 232.7h2.0v1.8h-2.0zM56.2 232.9h2.0v1.8h-2.0zM59.9 232.9h2.0v1.8h-2.0zM62.0 232.9h2.0v1.8h-2.0zM84.2 232.7h2.0v1.8h-2.0zM40.1 234.4h2.0v1.8h-2.0zM44.1 234.5h2.0v1.8h-2.0zM47.9 234.7h2.0v1.8h-2.0zM57.8 234.5h2.0v1.8h-2.0zM66.0 234.5h2.0v1.8h-2.0zM21.8 236.5h2.0v1.8h-2.0zM55.8 236.5h2.0v1.8h-2.0zM58.0 236.2h2.0v1.8h-2.0zM78.0 236.3h2.0v1.8h-2.0zM84.1 236.5h2.0v1.8h-2.0zM21.8 238.1h2.0v1.8h-2.0zM26.0 238.4h2.0v1.8h-2.0zM53.8 238.1h2.0v1.8h-2.0zM74.0 238.2h2.0v1.8h-2.0zM84.0 238.0h2.0v1.8h-2.0zM23.9 239.9h2.0v1.8h-2.0zM47.9 240.1h2.0v1.8h-2.0zM49.9 240.0h2.0v1.8h-2.0zM85.8 239.9h2.0v1.8h-2.0zM25.8 241.7h2.0v1.8h-2.0zM37.8 241.7h2.0v1.8h-2.0zM52.2 241.9h2.0v1.8h-2.0zM62.1 241.7h2.0v1.8h-2.0zM63.9 241.6h2.0v1.8h-2.0zM68.0 241.6h2.0v1.8h-2.0zM38.1 243.5h2.0v1.8h-2.0zM44.1 243.5h2.0v1.8h-2.0zM60.0 243.5h2.0v1.8h-2.0zM64.1 243.6h2.0v1.8h-2.0zM43.9 245.3h2.0v1.8h-2.0zM65.9 245.5h2.0v1.8h-2.0zM46.1 247.2h2.0v1.8h-2.0zM56.1 247.2h2.0v1.8h-2.0zM63.8 247.2h2.0v1.8h-2.0zM78.1 247.1h2.0v1.8h-2.0zM82.1 247.2h2.0v1.8h-2.0zM30.1 249.0h2.0v1.8h-2.0zM31.8 249.2h2.0v1.8h-2.0zM37.9 248.9h2.0v1.8h-2.0zM47.8 249.1h2.0v1.8h-2.0zM58.1 249.0h2.0v1.8h-2.0zM66.2 249.2h2.0v1.8h-2.0zM67.8 249.0h2.0v1.8h-2.0zM27.9 250.7h2.0v1.8h-2.0zM43.9 250.7h2.0v1.8h-2.0zM60.0 250.9h2.0v1.8h-2.0zM73.9 250.7h2.0v1.8h-2.0zM76.0 250.9h2.0v1.8h-2.0zM76.0 252.6h2.0v1.8h-2.0zM54.1 254.3h2.0v1.8h-2.0zM58.0 254.5h2.0v1.8h-2.0zM66.2 254.5h2.0v1.8h-2.0zM81.9 254.4h2.0v1.8h-2.0zM59.8 256.2h2.0v1.8h-2.0zM64.0 256.2h2.0v1.8h-2.0zM69.9 258.1h2.0v1.8h-2.0zM72.0 258.2h2.0v1.8h-2.0zM75.8 257.8h2.0v1.8h-2.0zM81.8 257.9h2.0v1.8h-2.0zM86.2 258.0h2.0v1.8h-2.0zM66.0 259.6h2.0v1.8h-2.0zM86.2 259.9h2.0v1.8h-2.0z" fill="#c8f5fa"/>
<path d="M76.0 223.8h2.0v1.8h-2.0zM78.0 225.7h2.0v1.8h-2.0zM84.0 225.8h2.0v1.8h-2.0zM86.1 225.7h2.0v1.8h-2.0zM54.1 227.5h2.0v1.8h-2.0zM68.0 227.6h2.0v1.8h-2.0zM78.0 227.6h2.0v1.8h-2.0zM43.8 229.3h2.0v1.8h-2.0zM83.9 229.1h2.0v1.8h-2.0zM41.9 230.9h2.0v1.8h-2.0zM49.8 231.0h2.0v1.8h-2.0zM56.1 231.1h2.0v1.8h-2.0zM66.0 231.0h2.0v1.8h-2.0zM74.1 231.0h2.0v1.8h-2.0zM86.2 231.0h2.0v1.8h-2.0zM30.0 232.7h2.0v1.8h-2.0zM44.0 232.6h2.0v1.8h-2.0zM75.9 232.8h2.0v1.8h-2.0zM34.2 234.5h2.0v1.8h-2.0zM52.0 234.6h2.0v1.8h-2.0zM54.0 234.6h2.0v1.8h-2.0zM59.8 234.5h2.0v1.8h-2.0zM70.0 234.8h2.0v1.8h-2.0zM78.0 234.6h2.0v1.8h-2.0zM44.1 236.5h2.0v1.8h-2.0zM61.9 236.5h2.0v1.8h-2.0zM76.0 236.3h2.0v1.8h-2.0zM57.8 238.1h2.0v1.8h-2.0zM80.0 238.4h2.0v1.8h-2.0zM30.0 239.8h2.0v1.8h-2.0zM40.2 240.1h2.0v1.8h-2.0zM61.9 240.2h2.0v1.8h-2.0zM70.1 240.0h2.0v1.8h-2.0zM83.9 240.1h2.0v1.8h-2.0zM23.8 241.6h2.0v1.8h-2.0zM39.9 241.6h2.0v1.8h-2.0zM56.2 241.9h2.0v1.8h-2.0zM65.9 241.9h2.0v1.8h-2.0zM80.2 241.7h2.0v1.8h-2.0zM82.1 241.7h2.0v1.8h-2.0zM41.9 243.7h2.0v1.8h-2.0zM50.0 243.5h2.0v1.8h-2.0zM56.0 243.6h2.0v1.8h-2.0zM73.9 243.7h2.0v1.8h-2.0zM78.0 243.6h2.0v1.8h-2.0zM21.9 245.2h2.0v1.8h-2.0zM26.0 245.2h2.0v1.8h-2.0zM47.8 245.5h2.0v1.8h-2.0zM53.9 245.3h2.0v1.8h-2.0zM74.0 245.2h2.0v1.8h-2.0zM77.9 245.5h2.0v1.8h-2.0zM26.2 247.4h2.0v1.8h-2.0zM70.0 247.3h2.0v1.8h-2.0zM76.1 247.0h2.0v1.8h-2.0zM33.8 248.9h2.0v1.8h-2.0zM36.1 249.1h2.0v1.8h-2.0zM49.9 248.9h2.0v1.8h-2.0zM56.2 248.9h2.0v1.8h-2.0zM33.9 250.6h2.0v1.8h-2.0zM51.9 250.7h2.0v1.8h-2.0zM79.8 250.7h2.0v1.8h-2.0zM50.1 252.8h2.0v1.8h-2.0zM81.8 252.5h2.0v1.8h-2.0zM65.9 256.3h2.0v1.8h-2.0zM72.2 256.4h2.0v1.8h-2.0zM79.8 260.0h2.0v1.8h-2.0zM82.1 259.7h2.0v1.8h-2.0z" fill="#87a5fa"/>
<path d="M66.2 225.5h2.0v1.8h-2.0zM56.1 227.6h2.0v1.8h-2.0zM85.9 227.3h2.0v1.8h-2.0zM24.1 229.1h2.0v1.8h-2.0zM27.9 229.2h2.0v1.8h-2.0zM34.0 229.1h2.0v1.8h-2.0zM77.8 229.2h2.0v1.8h-2.0zM80.0 229.3h2.0v1.8h-2.0zM26.1 230.9h2.0v1.8h-2.0zM36.0 232.9h2.0v1.8h-2.0zM58.2 232.9h2.0v1.8h-2.0zM78.0 232.8h2.0v1.8h-2.0zM80.1 232.6h2.0v1.8h-2.0zM37.9 234.7h2.0v1.8h-2.0zM80.1 234.7h2.0v1.8h-2.0zM81.9 234.5h2.0v1.8h-2.0zM32.1 236.3h2.0v1.8h-2.0zM81.9 236.6h2.0v1.8h-2.0zM30.2 238.4h2.0v1.8h-2.0zM64.1 238.3h2.0v1.8h-2.0zM65.8 238.3h2.0v1.8h-2.0zM60.1 240.0h2.0v1.8h-2.0zM60.0 241.6h2.0v1.8h-2.0zM74.2 241.8h2.0v1.8h-2.0zM48.2 243.8h2.0v1.8h-2.0zM31.8 245.5h2.0v1.8h-2.0zM40.0 245.5h2.0v1.8h-2.0zM41.9 245.5h2.0v1.8h-2.0zM51.8 247.3h2.0v1.8h-2.0zM61.9 247.0h2.0v1.8h-2.0zM80.0 247.3h2.0v1.8h-2.0zM42.1 249.0h2.0v1.8h-2.0zM44.1 248.9h2.0v1.8h-2.0zM52.2 249.1h2.0v1.8h-2.0zM71.9 249.0h2.0v1.8h-2.0zM29.9 251.0h2.0v1.8h-2.0zM39.9 250.7h2.0v1.8h-2.0zM66.1 250.9h2.0v1.8h-2.0zM48.1 252.8h2.0v1.8h-2.0zM72.0 252.7h2.0v1.8h-2.0zM74.0 252.6h2.0v1.8h-2.0zM80.1 252.5h2.0v1.8h-2.0zM69.9 254.6h2.0v1.8h-2.0zM84.0 254.3h2.0v1.8h-2.0zM69.8 256.0h2.0v1.8h-2.0zM80.0 256.3h2.0v1.8h-2.0zM86.0 256.1h2.0v1.8h-2.0zM74.0 258.1h2.0v1.8h-2.0z" fill="#8287f5"/>
<path d="M67.9 225.6h2.0v1.8h-2.0zM61.8 227.2h2.0v1.8h-2.0zM37.9 229.1h2.0v1.8h-2.0zM54.1 230.9h2.0v1.8h-2.0zM22.1 232.7h2.0v1.8h-2.0zM24.1 233.0h2.0v1.8h-2.0zM26.0 232.9h2.0v1.8h-2.0zM32.0 232.9h2.0v1.8h-2.0zM34.0 232.9h2.0v1.8h-2.0zM39.9 232.8h2.0v1.8h-2.0zM63.9 232.7h2.0v1.8h-2.0zM29.9 234.6h2.0v1.8h-2.0zM31.9 234.7h2.0v1.8h-2.0zM36.1 234.6h2.0v1.8h-2.0zM42.1 234.4h2.0v1.8h-2.0zM72.1 234.8h2.0v1.8h-2.0zM28.1 236.2h2.0v1.8h-2.0zM34.1 236.2h2.0v1.8h-2.0zM86.2 236.4h2.0v1.8h-2.0zM31.9 238.3h2.0v1.8h-2.0zM44.1 238.3h2.0v1.8h-2.0zM22.0 240.2h2.0v1.8h-2.0zM53.8 239.9h2.0v1.8h-2.0zM65.8 239.9h2.0v1.8h-2.0zM21.9 243.6h2.0v1.8h-2.0zM32.1 243.6h2.0v1.8h-2.0zM33.8 243.6h2.0v1.8h-2.0zM75.9 243.7h2.0v1.8h-2.0zM36.2 245.4h2.0v1.8h-2.0zM63.9 245.4h2.0v1.8h-2.0zM69.8 245.5h2.0v1.8h-2.0zM72.2 245.3h2.0v1.8h-2.0zM34.1 247.2h2.0v1.8h-2.0zM40.0 247.4h2.0v1.8h-2.0zM73.9 247.3h2.0v1.8h-2.0zM85.9 247.3h2.0v1.8h-2.0zM21.9 249.1h2.0v1.8h-2.0zM79.9 249.1h2.0v1.8h-2.0zM22.1 250.8h2.0v1.8h-2.0zM45.8 250.8h2.0v1.8h-2.0zM71.9 250.8h2.0v1.8h-2.0zM62.0 254.4h2.0v1.8h-2.0zM78.0 256.4h2.0v1.8h-2.0zM81.9 256.3h2.0v1.8h-2.0zM68.0 258.1h2.0v1.8h-2.0zM72.2 259.9h2.0v1.8h-2.0z" fill="#dce6fa"/>
<path d="M72.5 239.8L74.2 238.5M37.7 252.1L40.5 249.7M43.5 250.4L46.0 248.8M29.0 241.3L32.2 239.7M81.3 222.9L84.1 222.2M58.9 233.3L61.7 231.0" stroke="#6e82e6" stroke-width="1.7" stroke-linecap="round" fill="none"/>
<path d="M31.3 239.0L33.1 237.8M78.8 227.4L80.6 226.4" stroke="#8287f5" stroke-width="1.4" stroke-linecap="round" fill="none"/>
<path d="M75.0 244.1L77.2 242.4M60.9 229.0L62.8 228.0M69.5 237.9L71.5 237.7" stroke="#87a5fa" stroke-width="1.4" stroke-linecap="round" fill="none"/>
<path d="M77.2 245.3L80.0 243.9M41.1 253.3L43.2 251.4" stroke="#3c5ad2" stroke-width="1.7" stroke-linecap="round" fill="none"/>
<path d="M64.8 224.3L67.1 223.8M59.5 240.8L61.2 239.4M46.9 241.4L49.8 239.9M75.5 236.9L76.8 235.9M77.0 239.7L79.7 239.2" stroke="#1e41f5" stroke-width="1.6" stroke-linecap="round" fill="none"/>
<path d="M78.1 237.4L80.2 235.5M68.7 253.2L72.1 252.7M61.8 260.4L64.2 258.4M73.7 240.3L77.2 238.6" stroke="#87a5fa" stroke-width="1.9" stroke-linecap="round" fill="none"/>
<path d="M61.8 233.5L63.5 232.2M28.3 235.7L29.9 234.3M83.1 224.1L85.0 222.5M64.6 261.2L67.0 259.3" stroke="#6e82e6" stroke-width="1.8" stroke-linecap="round" fill="none"/>
<path d="M80.5 249.7L82.3 249.1M84.1 249.6L86.6 247.5M59.5 256.1L60.9 255.6" stroke="#6e82e6" stroke-width="2.1" stroke-linecap="round" fill="none"/>
<path d="M25.1 247.1L27.7 245.6M85.0 231.3L87.2 230.6M86.1 247.1L89.0 244.6" stroke="#87a5fa" stroke-width="1.7" stroke-linecap="round" fill="none"/>
<path d="M76.4 262.5L80.2 261.4M81.2 234.5L83.4 233.5M52.0 232.2L53.6 230.6M76.7 254.8L78.4 254.1" stroke="#1e41f5" stroke-width="1.3" stroke-linecap="round" fill="none"/>
<path d="M67.5 254.2L69.8 252.8M24.9 234.5L27.6 232.5M36.8 235.4L39.6 235.1M32.0 241.0L33.2 239.9M69.0 236.7L71.0 235.6" stroke="#1e41f5" stroke-width="1.8" stroke-linecap="round" fill="none"/>
<path d="M41.6 240.8L43.1 240.2M76.8 231.6L79.0 230.3" stroke="#8287f5" stroke-width="1.8" stroke-linecap="round" fill="none"/>
<path d="M23.9 230.3L25.9 229.4M47.3 229.2L50.5 228.4M71.2 254.5L73.5 253.5M73.6 251.4L77.1 250.9M70.4 223.6L73.5 221.4" stroke="#8287f5" stroke-width="1.9" stroke-linecap="round" fill="none"/>
<path d="M38.3 231.5L41.5 230.9M86.2 255.4L88.4 254.7M31.3 249.9L34.5 249.3M77.9 230.9L79.9 230.6M29.8 249.9L32.6 249.2M66.7 258.7L68.9 257.1M55.7 233.5L59.2 232.9M37.5 244.1L40.1 241.9" stroke="#6e82e6" stroke-width="1.4" stroke-linecap="round" fill="none"/>
<path d="M78.5 226.0L81.8 224.7" stroke="#1e41f5" stroke-width="2.1" stroke-linecap="round" fill="none"/>
<path d="M40.4 249.4L44.2 248.0M74.5 227.8L76.3 226.7M35.4 248.7L39.1 247.2M51.7 240.5L54.3 239.7M50.3 235.5L52.2 234.4M29.3 237.9L31.0 236.4M64.6 254.4L66.7 253.8M23.0 243.8L24.6 243.0M68.2 237.2L70.2 235.6M70.7 258.2L73.3 255.9" stroke="#6e82e6" stroke-width="1.9" stroke-linecap="round" fill="none"/>
<path d="M85.4 261.4L87.7 259.7M35.6 241.7L37.7 240.7M22.4 250.4L25.7 250.0M41.1 229.7L42.5 229.0M57.2 243.3L60.3 241.2M71.7 224.0L73.3 223.2M62.4 230.9L63.8 230.1" stroke="#87a5fa" stroke-width="1.8" stroke-linecap="round" fill="none"/>
<path d="M67.9 248.5L70.5 247.0M71.0 259.7L73.7 257.9M57.0 237.8L59.2 237.5M48.8 239.3L50.8 237.6" stroke="#87a5fa" stroke-width="1.5" stroke-linecap="round" fill="none"/>
<path d="M74.8 235.3L77.7 233.3M80.0 250.8L81.7 249.6M40.2 234.9L43.1 232.9M70.4 252.0L73.2 249.2" stroke="#3c5ad2" stroke-width="1.9" stroke-linecap="round" fill="none"/>
<path d="M65.4 246.0L68.9 245.0M73.5 252.3L76.1 250.5M46.9 241.7L48.2 240.8M79.6 224.6L82.2 224.1" stroke="#8287f5" stroke-width="1.6" stroke-linecap="round" fill="none"/>
<path d="M71.5 237.3L73.9 236.7M78.3 259.1L80.0 258.4" stroke="#3c5ad2" stroke-width="2.0" stroke-linecap="round" fill="none"/>
<path d="M42.8 235.7L45.8 234.9M72.5 250.7L74.3 249.6M83.1 239.5L85.2 238.2M81.2 253.6L85.0 252.3" stroke="#1e41f5" stroke-width="1.5" stroke-linecap="round" fill="none"/>
<path d="M55.8 245.3L57.3 243.8M64.6 236.1L66.2 235.8" stroke="#87a5fa" stroke-width="1.3" stroke-linecap="round" fill="none"/>
<path d="M35.5 252.2L37.3 251.1M66.2 241.6L68.0 241.2M51.7 241.0L54.1 238.6M26.3 229.6L28.3 229.0" stroke="#8287f5" stroke-width="1.7" stroke-linecap="round" fill="none"/>
<path d="M73.9 262.5L76.4 261.4M83.7 260.3L86.0 258.8" stroke="#1e41f5" stroke-width="1.9" stroke-linecap="round" fill="none"/>
<path d="M28.3 231.0L30.8 230.5M78.4 249.0L81.5 247.9M82.3 261.0L83.6 260.2M37.4 242.2L40.5 241.5M27.6 247.5L30.4 245.1M85.8 242.5L87.6 241.3M22.0 250.5L24.4 249.5M84.3 235.8L85.9 234.9" stroke="#6e82e6" stroke-width="1.5" stroke-linecap="round" fill="none"/>
<path d="M27.8 249.5L30.3 247.2M24.0 245.1L26.6 243.0" stroke="#1e41f5" stroke-width="1.4" stroke-linecap="round" fill="none"/>
<path d="M38.8 245.1L40.7 243.8M63.9 227.1L67.3 225.9M36.3 237.9L38.1 237.7" stroke="#8287f5" stroke-width="2.1" stroke-linecap="round" fill="none"/>
<path d="M82.0 229.2L84.0 228.2M49.8 233.3L51.9 231.4M43.5 246.9L45.2 245.8M47.6 253.4L49.5 251.6" stroke="#1e41f5" stroke-width="1.7" stroke-linecap="round" fill="none"/>
<path d="M83.4 230.2L87.1 229.5M58.0 251.3L60.2 250.6M60.4 245.0L62.8 244.3M20.4 245.1L23.8 243.7" stroke="#1e41f5" stroke-width="2.0" stroke-linecap="round" fill="none"/>
<path d="M78.2 238.3L80.4 237.4M77.9 248.0L81.5 247.2M31.7 238.7L34.3 237.2" stroke="#3c5ad2" stroke-width="1.4" stroke-linecap="round" fill="none"/>
<path d="M52.5 245.6L54.4 245.1M42.1 249.7L43.7 248.7" stroke="#3c5ad2" stroke-width="1.5" stroke-linecap="round" fill="none"/>
<path d="M55.3 232.5L58.6 231.7M69.8 233.9L71.8 233.4M71.2 235.0L74.9 234.0" stroke="#6e82e6" stroke-width="1.3" stroke-linecap="round" fill="none"/>
<path d="M79.9 261.9L82.1 260.5M83.0 228.5L84.7 227.5M53.7 234.7L56.2 232.4M83.7 234.6L85.2 233.3M48.2 238.2L49.8 237.3" stroke="#6e82e6" stroke-width="2.0" stroke-linecap="round" fill="none"/>
<path d="M70.4 245.4L71.8 244.6M78.5 229.3L80.9 227.6" stroke="#87a5fa" stroke-width="2.0" stroke-linecap="round" fill="none"/>
<path d="M23.0 250.1L26.2 249.6M84.8 255.3L88.0 254.9M71.3 233.3L73.9 232.2M63.3 256.6L67.1 256.2" stroke="#8287f5" stroke-width="1.5" stroke-linecap="round" fill="none"/>
<path d="M76.5 229.7L79.8 228.5M63.1 251.4L65.6 250.9M67.8 261.1L71.2 259.6M71.4 227.1L74.1 225.9M45.8 252.1L48.1 251.8" stroke="#8287f5" stroke-width="2.0" stroke-linecap="round" fill="none"/>
<path d="M76.8 243.1L78.4 242.6" stroke="#3c5ad2" stroke-width="2.1" stroke-linecap="round" fill="none"/>
<path d="M71.6 258.0L74.9 257.4M50.4 251.2L52.1 250.7M25.5 242.8L28.7 240.4" stroke="#3c5ad2" stroke-width="1.8" stroke-linecap="round" fill="none"/>
<path d="M25.7 244.2L29.6 243.7M59.2 255.6L61.9 254.6" stroke="#87a5fa" stroke-width="2.1" stroke-linecap="round" fill="none"/>
<path d="M78.9 246.7L81.7 244.4M63.1 256.9L65.3 255.5M27.5 251.8L30.1 251.4M81.5 252.4L84.9 251.7" stroke="#87a5fa" stroke-width="1.6" stroke-linecap="round" fill="none"/>
<path d="M37.0 233.1L38.8 232.3M75.4 237.4L78.1 236.6M55.5 241.4L57.0 240.8" stroke="#8287f5" stroke-width="1.3" stroke-linecap="round" fill="none"/>
<path d="M35.3 242.6L36.7 241.6M85.4 254.7L87.0 253.6" stroke="#3c5ad2" stroke-width="1.6" stroke-linecap="round" fill="none"/>
<path d="M23.6 252.2h1.8v1.7h-1.8zM29.4 252.1h1.8v1.7h-1.8zM29.2 255.4h1.8v1.7h-1.8zM38.0 257.3h1.8v1.7h-1.8zM45.2 257.0h1.8v1.7h-1.8zM49.1 257.0h1.8v1.7h-1.8zM27.3 258.7h1.8v1.7h-1.8zM50.9 258.8h1.8v1.7h-1.8zM22.0 260.6h1.8v1.7h-1.8zM29.0 260.4h1.8v1.7h-1.8zM32.9 262.1h1.8v1.7h-1.8zM23.7 263.9h1.8v1.7h-1.8zM25.5 265.5h1.8v1.7h-1.8zM41.7 265.6h1.8v1.7h-1.8zM54.4 265.4h1.8v1.7h-1.8zM22.1 267.2h1.8v1.7h-1.8zM29.1 269.1h1.8v1.7h-1.8zM31.1 268.9h1.8v1.7h-1.8zM49.1 268.8h1.8v1.7h-1.8zM38.4 270.9h1.8v1.7h-1.8zM50.7 270.8h1.8v1.7h-1.8zM52.4 270.9h1.8v1.7h-1.8zM43.7 272.4h1.8v1.7h-1.8zM49.0 274.2h1.8v1.7h-1.8zM21.8 277.5h1.8v1.7h-1.8zM47.1 277.7h1.8v1.7h-1.8zM22.0 279.2h1.8v1.7h-1.8zM33.0 280.8h1.8v1.7h-1.8zM34.6 282.4h1.8v1.7h-1.8zM41.9 282.5h1.8v1.7h-1.8zM25.4 284.2h1.8v1.7h-1.8zM47.0 284.5h1.8v1.7h-1.8zM43.4 286.1h1.8v1.7h-1.8zM47.3 286.2h1.8v1.7h-1.8zM23.8 287.7h1.8v1.7h-1.8zM25.6 287.9h1.8v1.7h-1.8zM31.2 287.7h1.8v1.7h-1.8zM31.1 289.3h1.8v1.7h-1.8zM45.4 289.4h1.8v1.7h-1.8zM36.2 291.1h1.8v1.7h-1.8zM42.0 292.9h1.8v1.7h-1.8zM29.1 294.3h1.8v1.7h-1.8zM45.4 296.1h1.8v1.7h-1.8zM23.9 298.0h1.8v1.7h-1.8zM38.2 297.9h1.8v1.7h-1.8zM31.1 299.6h1.8v1.7h-1.8zM34.5 301.2h1.8v1.7h-1.8zM25.6 303.1h1.8v1.7h-1.8zM36.2 302.8h1.8v1.7h-1.8zM22.1 304.8h1.8v1.7h-1.8zM29.2 304.5h1.8v1.7h-1.8zM29.1 306.3h1.8v1.7h-1.8zM41.7 308.1h1.8v1.7h-1.8zM27.5 309.7h1.8v1.7h-1.8zM43.6 309.6h1.8v1.7h-1.8zM25.6 311.6h1.8v1.7h-1.8zM29.1 311.5h1.8v1.7h-1.8zM43.5 313.1h1.8v1.7h-1.8zM34.7 314.8h1.8v1.7h-1.8zM31.2 316.7h1.8v1.7h-1.8zM34.6 316.8h1.8v1.7h-1.8zM43.8 316.5h1.8v1.7h-1.8zM25.7 321.9h1.8v1.7h-1.8zM40.1 321.7h1.8v1.7h-1.8z" fill="#87a5fa"/>
<path d="M25.5 252.0h1.8v1.7h-1.8zM29.4 253.6h1.8v1.7h-1.8zM45.3 253.7h1.8v1.7h-1.8zM48.9 253.8h1.8v1.7h-1.8zM23.6 255.3h1.8v1.7h-1.8zM36.5 256.9h1.8v1.7h-1.8zM41.8 257.2h1.8v1.7h-1.8zM23.9 260.4h1.8v1.7h-1.8zM48.9 260.6h1.8v1.7h-1.8zM27.5 263.8h1.8v1.7h-1.8zM31.1 263.8h1.8v1.7h-1.8zM47.1 263.9h1.8v1.7h-1.8zM38.3 265.6h1.8v1.7h-1.8zM29.4 267.2h1.8v1.7h-1.8zM38.1 267.1h1.8v1.7h-1.8zM43.8 267.2h1.8v1.7h-1.8zM45.5 267.3h1.8v1.7h-1.8zM50.6 267.4h1.8v1.7h-1.8zM22.0 269.0h1.8v1.7h-1.8zM52.5 268.8h1.8v1.7h-1.8zM36.5 270.6h1.8v1.7h-1.8zM25.6 272.4h1.8v1.7h-1.8zM38.1 272.3h1.8v1.7h-1.8zM49.1 272.4h1.8v1.7h-1.8zM43.7 274.2h1.8v1.7h-1.8zM23.8 275.9h1.8v1.7h-1.8zM38.1 275.7h1.8v1.7h-1.8zM39.9 275.9h1.8v1.7h-1.8zM40.2 277.6h1.8v1.7h-1.8zM48.9 277.5h1.8v1.7h-1.8zM34.8 279.2h1.8v1.7h-1.8zM36.3 279.0h1.8v1.7h-1.8zM39.8 279.1h1.8v1.7h-1.8zM47.0 279.2h1.8v1.7h-1.8zM47.2 281.1h1.8v1.7h-1.8zM25.8 282.8h1.8v1.7h-1.8zM30.9 282.8h1.8v1.7h-1.8zM49.2 282.6h1.8v1.7h-1.8zM38.1 286.1h1.8v1.7h-1.8zM21.8 287.6h1.8v1.7h-1.8zM43.4 291.2h1.8v1.7h-1.8zM45.6 292.9h1.8v1.7h-1.8zM23.7 296.3h1.8v1.7h-1.8zM30.8 296.3h1.8v1.7h-1.8zM25.6 299.5h1.8v1.7h-1.8zM32.7 301.2h1.8v1.7h-1.8zM41.6 301.4h1.8v1.7h-1.8zM38.3 303.1h1.8v1.7h-1.8zM23.6 304.6h1.8v1.7h-1.8zM36.3 304.6h1.8v1.7h-1.8zM36.5 306.6h1.8v1.7h-1.8zM41.6 306.6h1.8v1.7h-1.8zM27.3 308.2h1.8v1.7h-1.8zM29.2 308.0h1.8v1.7h-1.8zM40.2 308.1h1.8v1.7h-1.8zM22.0 309.9h1.8v1.7h-1.8zM25.8 313.0h1.8v1.7h-1.8zM32.9 313.0h1.8v1.7h-1.8zM40.1 313.1h1.8v1.7h-1.8zM25.8 315.0h1.8v1.7h-1.8zM43.5 315.1h1.8v1.7h-1.8zM23.9 316.8h1.8v1.7h-1.8zM22.0 318.2h1.8v1.7h-1.8zM23.7 318.3h1.8v1.7h-1.8zM32.8 320.0h1.8v1.7h-1.8zM23.6 321.7h1.8v1.7h-1.8z" fill="#8287f5"/>
<path d="M30.8 252.0h1.8v1.7h-1.8zM23.9 253.8h1.8v1.7h-1.8zM27.5 253.7h1.8v1.7h-1.8zM32.7 253.7h1.8v1.7h-1.8zM36.3 253.5h1.8v1.7h-1.8zM40.2 253.5h1.8v1.7h-1.8zM47.0 253.7h1.8v1.7h-1.8zM41.8 255.3h1.8v1.7h-1.8zM30.9 257.0h1.8v1.7h-1.8zM32.9 257.1h1.8v1.7h-1.8zM47.3 257.0h1.8v1.7h-1.8zM21.9 258.9h1.8v1.7h-1.8zM34.5 258.9h1.8v1.7h-1.8zM40.1 258.9h1.8v1.7h-1.8zM30.9 260.5h1.8v1.7h-1.8zM50.9 260.6h1.8v1.7h-1.8zM29.1 262.3h1.8v1.7h-1.8zM36.5 262.3h1.8v1.7h-1.8zM39.8 262.1h1.8v1.7h-1.8zM49.1 262.1h1.8v1.7h-1.8zM29.3 263.9h1.8v1.7h-1.8zM34.6 263.9h1.8v1.7h-1.8zM36.5 264.0h1.8v1.7h-1.8zM52.6 263.7h1.8v1.7h-1.8zM24.0 267.5h1.8v1.7h-1.8zM27.3 268.8h1.8v1.7h-1.8zM23.9 270.7h1.8v1.7h-1.8zM29.3 270.8h1.8v1.7h-1.8zM31.1 270.8h1.8v1.7h-1.8zM34.6 272.6h1.8v1.7h-1.8zM41.7 272.4h1.8v1.7h-1.8zM50.8 272.4h1.8v1.7h-1.8zM52.6 272.4h1.8v1.7h-1.8zM23.9 274.3h1.8v1.7h-1.8zM36.5 274.2h1.8v1.7h-1.8zM50.9 274.1h1.8v1.7h-1.8zM27.6 275.7h1.8v1.7h-1.8zM43.7 275.7h1.8v1.7h-1.8zM27.3 277.6h1.8v1.7h-1.8zM32.8 277.4h1.8v1.7h-1.8zM34.5 277.3h1.8v1.7h-1.8zM32.6 279.3h1.8v1.7h-1.8zM23.7 281.0h1.8v1.7h-1.8zM45.3 280.7h1.8v1.7h-1.8zM22.2 282.8h1.8v1.7h-1.8zM29.1 282.6h1.8v1.7h-1.8zM47.0 282.6h1.8v1.7h-1.8zM32.6 284.5h1.8v1.7h-1.8zM34.7 284.4h1.8v1.7h-1.8zM38.2 284.1h1.8v1.7h-1.8zM27.5 286.1h1.8v1.7h-1.8zM45.4 285.8h1.8v1.7h-1.8zM25.5 289.3h1.8v1.7h-1.8zM34.5 289.2h1.8v1.7h-1.8zM40.2 289.2h1.8v1.7h-1.8zM41.9 289.5h1.8v1.7h-1.8zM43.5 289.4h1.8v1.7h-1.8zM24.0 291.1h1.8v1.7h-1.8zM27.6 291.2h1.8v1.7h-1.8zM32.8 291.1h1.8v1.7h-1.8zM41.8 291.0h1.8v1.7h-1.8zM23.7 292.8h1.8v1.7h-1.8zM30.9 292.7h1.8v1.7h-1.8zM36.2 292.6h1.8v1.7h-1.8zM38.4 292.9h1.8v1.7h-1.8zM23.8 294.6h1.8v1.7h-1.8zM34.6 294.3h1.8v1.7h-1.8zM39.8 294.6h1.8v1.7h-1.8zM43.6 294.3h1.8v1.7h-1.8zM45.5 294.4h1.8v1.7h-1.8zM25.6 296.0h1.8v1.7h-1.8zM39.9 296.2h1.8v1.7h-1.8zM43.4 296.1h1.8v1.7h-1.8zM27.4 298.1h1.8v1.7h-1.8zM43.5 298.0h1.8v1.7h-1.8zM29.1 299.6h1.8v1.7h-1.8zM32.9 299.7h1.8v1.7h-1.8zM36.5 299.5h1.8v1.7h-1.8zM43.8 299.6h1.8v1.7h-1.8zM45.4 299.7h1.8v1.7h-1.8zM21.9 301.4h1.8v1.7h-1.8zM25.6 301.1h1.8v1.7h-1.8zM43.8 301.2h1.8v1.7h-1.8zM23.7 303.0h1.8v1.7h-1.8zM27.4 302.8h1.8v1.7h-1.8zM30.9 302.9h1.8v1.7h-1.8zM32.9 303.1h1.8v1.7h-1.8zM34.8 303.1h1.8v1.7h-1.8zM39.8 302.9h1.8v1.7h-1.8zM41.6 302.8h1.8v1.7h-1.8zM45.4 302.9h1.8v1.7h-1.8zM39.9 304.8h1.8v1.7h-1.8zM43.5 304.7h1.8v1.7h-1.8zM22.0 306.3h1.8v1.7h-1.8zM24.0 306.2h1.8v1.7h-1.8zM45.3 306.6h1.8v1.7h-1.8zM43.7 308.2h1.8v1.7h-1.8zM23.9 313.0h1.8v1.7h-1.8zM27.5 313.1h1.8v1.7h-1.8zM36.2 313.3h1.8v1.7h-1.8zM31.1 314.9h1.8v1.7h-1.8zM25.6 316.8h1.8v1.7h-1.8zM27.3 316.5h1.8v1.7h-1.8zM41.9 316.7h1.8v1.7h-1.8zM31.0 318.5h1.8v1.7h-1.8zM36.3 318.2h1.8v1.7h-1.8zM39.8 318.2h1.8v1.7h-1.8zM41.8 318.4h1.8v1.7h-1.8zM43.6 318.3h1.8v1.7h-1.8zM43.5 319.9h1.8v1.7h-1.8zM22.1 321.7h1.8v1.7h-1.8zM27.3 321.8h1.8v1.7h-1.8zM36.4 321.8h1.8v1.7h-1.8z" fill="#c8d2fa"/>
<path d="M22.1 253.7h1.8v1.7h-1.8zM40.1 257.1h1.8v1.7h-1.8zM23.9 258.9h1.8v1.7h-1.8zM38.1 262.3h1.8v1.7h-1.8zM40.1 263.9h1.8v1.7h-1.8zM49.1 263.9h1.8v1.7h-1.8zM50.7 263.9h1.8v1.7h-1.8zM29.4 265.8h1.8v1.7h-1.8zM50.9 265.5h1.8v1.7h-1.8zM54.5 267.3h1.8v1.7h-1.8zM23.8 269.1h1.8v1.7h-1.8zM50.7 268.8h1.8v1.7h-1.8zM54.5 269.1h1.8v1.7h-1.8zM45.4 274.2h1.8v1.7h-1.8zM51.0 275.6h1.8v1.7h-1.8zM25.5 280.8h1.8v1.7h-1.8zM27.3 281.0h1.8v1.7h-1.8zM45.4 282.8h1.8v1.7h-1.8zM39.9 284.4h1.8v1.7h-1.8zM29.1 286.0h1.8v1.7h-1.8zM43.5 287.5h1.8v1.7h-1.8zM34.6 292.6h1.8v1.7h-1.8zM40.1 293.0h1.8v1.7h-1.8zM39.9 306.6h1.8v1.7h-1.8zM25.6 309.8h1.8v1.7h-1.8zM30.8 309.7h1.8v1.7h-1.8zM23.7 311.4h1.8v1.7h-1.8zM22.2 314.8h1.8v1.7h-1.8zM22.1 316.5h1.8v1.7h-1.8z" fill="#1e41f5"/>
<path d="M45.3 255.5h1.8v1.7h-1.8zM38.2 258.9h1.8v1.7h-1.8zM47.1 258.9h1.8v1.7h-1.8zM41.9 260.4h1.8v1.7h-1.8zM23.6 262.1h1.8v1.7h-1.8zM27.5 267.2h1.8v1.7h-1.8zM34.7 268.9h1.8v1.7h-1.8zM41.9 270.8h1.8v1.7h-1.8zM27.3 274.1h1.8v1.7h-1.8zM34.4 274.3h1.8v1.7h-1.8zM30.9 275.7h1.8v1.7h-1.8zM34.8 276.0h1.8v1.7h-1.8zM45.4 275.9h1.8v1.7h-1.8zM38.2 277.4h1.8v1.7h-1.8zM42.0 277.4h1.8v1.7h-1.8zM34.4 280.7h1.8v1.7h-1.8zM22.0 285.8h1.8v1.7h-1.8zM32.7 287.7h1.8v1.7h-1.8zM32.8 289.6h1.8v1.7h-1.8zM27.5 294.5h1.8v1.7h-1.8zM32.9 294.4h1.8v1.7h-1.8zM34.6 297.8h1.8v1.7h-1.8zM27.4 299.5h1.8v1.7h-1.8zM29.2 301.5h1.8v1.7h-1.8zM27.6 306.4h1.8v1.7h-1.8zM32.8 306.6h1.8v1.7h-1.8zM25.5 308.0h1.8v1.7h-1.8zM36.3 308.1h1.8v1.7h-1.8zM23.7 309.6h1.8v1.7h-1.8zM29.1 310.0h1.8v1.7h-1.8zM31.2 313.1h1.8v1.7h-1.8zM34.6 313.3h1.8v1.7h-1.8zM41.9 314.9h1.8v1.7h-1.8zM29.4 316.7h1.8v1.7h-1.8zM36.5 316.5h1.8v1.7h-1.8zM38.1 318.1h1.8v1.7h-1.8zM27.4 320.0h1.8v1.7h-1.8zM36.4 319.8h1.8v1.7h-1.8zM38.3 321.5h1.8v1.7h-1.8zM41.8 321.6h1.8v1.7h-1.8z" fill="#c8f5fa"/>
<path d="M72.0 230.6h2.2v2.0h-2.2zM74.3 230.7h2.2v2.0h-2.2zM69.8 232.8h2.2v2.0h-2.2zM76.8 232.6h2.2v2.0h-2.2zM74.4 234.5h2.2v2.0h-2.2zM76.4 234.6h2.2v2.0h-2.2zM76.8 236.5h2.2v2.0h-2.2z" fill="#5ad714"/>
<path d="M76.4 230.4h2.2v2.0h-2.2zM74.2 232.6h2.2v2.0h-2.2zM72.1 234.7h2.2v2.0h-2.2zM78.7 234.3h2.2v2.0h-2.2z" fill="#c8f028"/>
<path d="M72.2 232.5h2.2v2.0h-2.2zM78.5 232.5h2.2v2.0h-2.2zM70.2 234.2h2.2v2.0h-2.2zM72.0 236.8h2.2v2.0h-2.2zM74.7 236.6h2.2v2.0h-2.2z" fill="#fff500"/>
<path d="M60.0 239.5h2.2v2.0h-2.2zM62.2 239.6h2.2v2.0h-2.2zM64.2 239.6h2.2v2.0h-2.2zM66.8 239.6h2.2v2.0h-2.2zM62.3 241.8h2.2v2.0h-2.2zM64.5 241.6h2.2v2.0h-2.2zM66.7 241.7h2.2v2.0h-2.2z" fill="#f050c8"/>
<path d="M68.6 239.6h2.2v2.0h-2.2zM68.7 241.8h2.2v2.0h-2.2z" fill="#f08cd2"/>
<path d="M76.0 240.6h2.2v2.0h-2.2zM78.3 240.4h2.2v2.0h-2.2zM80.1 240.5h2.2v2.0h-2.2zM78.0 242.5h2.2v2.0h-2.2zM80.3 242.4h2.2v2.0h-2.2z" fill="#f050c8"/>
<path d="M82.5 240.7h2.2v2.0h-2.2z" fill="#f08cd2"/>
<path d="M75.4 241.9h2.2v2.0h-2.2zM77.9 241.9h2.2v2.0h-2.2zM73.2 244.0h2.2v2.0h-2.2zM79.9 245.9h2.2v2.0h-2.2z" fill="#87a5fa"/>
<path d="M79.5 242.2h2.2v2.0h-2.2zM77.4 244.0h2.2v2.0h-2.2zM79.9 243.8h2.2v2.0h-2.2zM73.3 246.1h2.2v2.0h-2.2zM77.5 245.9h2.2v2.0h-2.2z" fill="#c8f5fa"/>
<path d="M70.5 222.2h2.2v2.0h-2.2zM76.6 222.0h2.2v2.0h-2.2zM79.1 223.9h2.2v2.0h-2.2zM72.2 225.8h2.2v2.0h-2.2z" fill="#8287f5"/>
<path d="M72.5 222.3h2.2v2.0h-2.2zM77.1 226.0h2.2v2.0h-2.2zM79.0 226.3h2.2v2.0h-2.2z" fill="#2832a0"/>
<path d="M74.4 222.2h2.2v2.0h-2.2zM78.8 222.0h2.2v2.0h-2.2zM67.9 224.1h2.2v2.0h-2.2zM70.2 223.9h2.2v2.0h-2.2zM72.5 223.9h2.2v2.0h-2.2zM74.4 223.8h2.2v2.0h-2.2zM76.6 224.3h2.2v2.0h-2.2zM81.3 223.8h2.2v2.0h-2.2zM74.8 225.8h2.2v2.0h-2.2z" fill="#1e41f5"/>
<path d="M74.9 256.7h2.2v2.0h-2.2zM79.1 256.3h2.2v2.0h-2.2zM77.2 258.7h2.2v2.0h-2.2z" fill="#28e10a"/>
<path d="M77.2 256.6h2.2v2.0h-2.2zM79.5 258.4h2.2v2.0h-2.2z" fill="#f08cd2"/>
<path d="M75.0 258.2h2.2v2.0h-2.2z" fill="#c8230a"/>
<path d="M71.3 246.8h2.2v2.0h-2.2zM66.8 249.2h2.2v2.0h-2.2zM69.0 248.9h2.2v2.0h-2.2zM69.2 251.1h2.2v2.0h-2.2z" fill="#19878c"/>
<path d="M73.3 246.9h2.2v2.0h-2.2zM71.3 248.9h2.2v2.0h-2.2zM71.2 251.2h2.2v2.0h-2.2z" fill="#1e41f5"/>
<path d="M75.7 248.7h2.2v2.0h-2.2z" fill="#28e10a"/>
<path d="M26.2 254.2h2.2v2.0h-2.2z" fill="#5ad714"/>
<path d="M28.6 254.8h2.2v2.0h-2.2z" fill="#28e10a"/>
<path d="M29.4 260.2h2.2v2.0h-2.2zM31.7 260.3h2.2v2.0h-2.2z" fill="#8c8c28"/>
<path d="M34.0 264.6h2.2v2.0h-2.2z" fill="#8c8c28"/>
<path d="M38.4 270.7h2.2v2.0h-2.2z" fill="#8c8c28"/>
<path d="M40.3 268.8h2.2v2.0h-2.2z" fill="#28e10a"/>
<path d="M42.1 268.7h2.2v2.0h-2.2z" fill="#5ad714"/>
<path d="M42.5 276.7h2.2v2.0h-2.2zM44.2 276.7h2.2v2.0h-2.2z" fill="#8c8c28"/>
<path d="M45.2 282.3h2.2v2.0h-2.2z" fill="#5ad714"/>
<path d="M31.1 274.7h2.2v2.0h-2.2zM33.5 274.5h2.2v2.0h-2.2z" fill="#8c8c28"/>
<path d="M27.3 268.8h2.2v2.0h-2.2z" fill="#8c8c28"/>
<path d="M38.2 259.6h2.2v2.0h-2.2z" fill="#8c8c28"/>
<path d="M50.3 273.4h2.2v2.0h-2.2zM52.5 273.5h2.2v2.0h-2.2z" fill="#8c8c28"/>
<path d="M28.4 280.5h2.2v2.0h-2.2z" fill="#5ad714"/>
<path d="M38.5 206.6h3.0v2.0h-3.0z" fill="#5ad714"/>
<path d="M51.8 203.4h4.0v2.0h-4.0z" fill="#1e41f5"/>
<path d="M85.3 200.7h5.0v2.0h-5.0z" fill="#1e41f5"/>
<path d="M73.0 213.0h4.0v2.0h-4.0z" fill="#f08cd2"/>
<path d="M29.0 211.0h2.0v2.0h-2.0z" fill="#8287f5"/>
<path d="M59.0 217.0h2.0v2.0h-2.0z" fill="#c8f5fa"/>
<path d="M44.0 219.0h2.0v2.0h-2.0z" fill="#c8f5fa"/>
<path d="M93.5 225.0h3.0v2.0h-3.0z" fill="#fad2f0"/>
<path d="M23.0 235.0h2.0v2.0h-2.0z" fill="#fad2f0"/>
<path d="M113.8 246.1h2.2v2.0h-2.2zM122.4 246.1h2.2v2.0h-2.2zM129.2 247.9h2.2v2.0h-2.2zM96.0 249.8h2.2v2.0h-2.2zM122.2 250.2h2.2v2.0h-2.2zM133.5 250.2h2.2v2.0h-2.2zM137.8 250.2h2.2v2.0h-2.2zM109.0 252.1h2.2v2.0h-2.2zM111.4 252.1h2.2v2.0h-2.2zM133.4 251.9h2.2v2.0h-2.2zM137.9 252.0h2.2v2.0h-2.2zM133.4 254.2h2.2v2.0h-2.2zM98.4 255.8h2.2v2.0h-2.2zM107.2 256.2h2.2v2.0h-2.2zM133.4 256.1h2.2v2.0h-2.2zM96.1 258.0h2.2v2.0h-2.2zM98.1 257.9h2.2v2.0h-2.2zM106.8 257.9h2.2v2.0h-2.2zM122.6 259.8h2.2v2.0h-2.2zM124.6 259.8h2.2v2.0h-2.2zM102.6 262.0h2.2v2.0h-2.2zM120.2 262.0h2.2v2.0h-2.2zM124.8 262.2h2.2v2.0h-2.2zM128.9 262.0h2.2v2.0h-2.2zM98.1 264.0h2.2v2.0h-2.2zM102.8 264.1h2.2v2.0h-2.2zM113.8 263.9h2.2v2.0h-2.2zM127.0 263.9h2.2v2.0h-2.2zM126.9 266.2h2.2v2.0h-2.2zM111.2 269.8h2.2v2.0h-2.2zM120.0 270.0h2.2v2.0h-2.2z" fill="#dce6fa"/>
<path d="M118.1 246.2h2.2v2.0h-2.2zM113.8 248.1h2.2v2.0h-2.2zM120.0 247.8h2.2v2.0h-2.2zM122.2 248.1h2.2v2.0h-2.2zM124.6 247.9h2.2v2.0h-2.2zM126.6 248.0h2.2v2.0h-2.2zM100.2 250.2h2.2v2.0h-2.2zM111.2 249.9h2.2v2.0h-2.2zM113.4 250.2h2.2v2.0h-2.2zM124.6 250.0h2.2v2.0h-2.2zM96.2 252.0h2.2v2.0h-2.2zM100.6 252.2h2.2v2.0h-2.2zM95.8 253.9h2.2v2.0h-2.2zM100.4 254.2h2.2v2.0h-2.2zM118.1 253.9h2.2v2.0h-2.2zM120.0 254.0h2.2v2.0h-2.2zM131.3 254.2h2.2v2.0h-2.2zM137.9 254.0h2.2v2.0h-2.2zM109.4 255.8h2.2v2.0h-2.2zM118.0 256.0h2.2v2.0h-2.2zM120.0 256.1h2.2v2.0h-2.2zM118.0 257.8h2.2v2.0h-2.2zM124.6 258.1h2.2v2.0h-2.2zM127.0 258.0h2.2v2.0h-2.2zM135.8 258.1h2.2v2.0h-2.2zM98.1 260.1h2.2v2.0h-2.2zM111.4 260.1h2.2v2.0h-2.2zM117.9 260.2h2.2v2.0h-2.2zM135.6 260.2h2.2v2.0h-2.2zM100.2 262.0h2.2v2.0h-2.2zM122.4 262.2h2.2v2.0h-2.2zM127.0 262.2h2.2v2.0h-2.2zM129.2 263.9h2.2v2.0h-2.2zM131.4 264.2h2.2v2.0h-2.2zM100.3 266.1h2.2v2.0h-2.2zM102.4 266.1h2.2v2.0h-2.2zM111.6 265.8h2.2v2.0h-2.2zM100.2 268.1h2.2v2.0h-2.2zM118.0 268.2h2.2v2.0h-2.2zM107.1 270.0h2.2v2.0h-2.2zM115.7 269.9h2.2v2.0h-2.2z" fill="#c8f5fa"/>
<path d="M133.0 249.5L135.1 248.8M133.1 259.5L136.1 258.8M101.0 261.0L102.2 259.7M98.0 250.0L100.8 249.5" stroke="#6e82e6" stroke-width="1.8" stroke-linecap="round" fill="none"/>
<path d="M122.1 247.2L123.9 246.1" stroke="#6e82e6" stroke-width="2.1" stroke-linecap="round" fill="none"/>
<path d="M114.9 267.1L118.8 266.3" stroke="#c8f5fa" stroke-width="1.5" stroke-linecap="round" fill="none"/>
<path d="M104.2 268.8L106.9 268.2M114.0 268.8L116.8 268.1M119.4 256.4L121.1 254.7M97.9 262.2L101.3 260.6" stroke="#1e41f5" stroke-width="1.7" stroke-linecap="round" fill="none"/>
<path d="M118.9 268.1L122.5 267.1" stroke="#87a5fa" stroke-width="2.0" stroke-linecap="round" fill="none"/>
<path d="M117.0 262.4L118.8 260.8M116.4 248.1L118.6 247.3" stroke="#8287f5" stroke-width="1.5" stroke-linecap="round" fill="none"/>
<path d="M96.7 263.9L98.7 262.0M131.7 251.2L134.9 250.2M130.6 264.2L133.6 262.5" stroke="#6e82e6" stroke-width="1.6" stroke-linecap="round" fill="none"/>
<path d="M122.4 263.5L124.5 261.2M132.5 260.1L136.2 258.7" stroke="#c8f5fa" stroke-width="1.3" stroke-linecap="round" fill="none"/>
<path d="M101.7 258.3L105.0 256.8M96.7 266.2L100.5 265.2" stroke="#87a5fa" stroke-width="1.7" stroke-linecap="round" fill="none"/>
<path d="M120.9 260.0L124.2 259.1" stroke="#87a5fa" stroke-width="1.8" stroke-linecap="round" fill="none"/>
<path d="M126.6 254.1L128.9 252.8" stroke="#87a5fa" stroke-width="1.5" stroke-linecap="round" fill="none"/>
<path d="M137.1 259.0L139.7 256.4M103.3 263.8L104.9 263.2" stroke="#1e41f5" stroke-width="2.1" stroke-linecap="round" fill="none"/>
<path d="M104.9 266.5L108.3 265.9M128.5 249.7L130.9 249.0M107.3 268.2L109.2 267.0M104.1 252.3L105.9 251.7M108.3 268.9L111.7 267.1" stroke="#8287f5" stroke-width="1.7" stroke-linecap="round" fill="none"/>
<path d="M115.3 251.9L117.8 249.4M122.1 249.3L124.7 246.9M133.1 255.5L136.3 253.7" stroke="#6e82e6" stroke-width="1.7" stroke-linecap="round" fill="none"/>
<path d="M123.3 249.6L125.9 247.7M135.7 258.7L137.9 257.1M99.1 265.4L100.7 264.4" stroke="#c8f5fa" stroke-width="1.6" stroke-linecap="round" fill="none"/>
<path d="M99.7 266.9L103.5 265.9" stroke="#6e82e6" stroke-width="1.4" stroke-linecap="round" fill="none"/>
<path d="M131.3 263.4L133.2 262.4M98.4 262.0L102.2 261.2" stroke="#6e82e6" stroke-width="1.5" stroke-linecap="round" fill="none"/>
<path d="M123.6 266.2L125.0 265.4M124.1 255.5L127.3 253.7M99.2 268.3L101.5 266.5M125.8 259.6L129.7 258.8" stroke="#1e41f5" stroke-width="1.6" stroke-linecap="round" fill="none"/>
<path d="M125.1 252.2L127.7 251.4M136.0 252.9L139.5 251.9M99.6 267.3L101.2 266.0" stroke="#1e41f5" stroke-width="1.8" stroke-linecap="round" fill="none"/>
<path d="M107.3 266.5L109.4 265.4" stroke="#6e82e6" stroke-width="1.9" stroke-linecap="round" fill="none"/>
<path d="M99.1 263.8L101.2 263.1M107.4 259.1L109.9 257.6M108.5 252.2L111.5 249.8" stroke="#8287f5" stroke-width="2.0" stroke-linecap="round" fill="none"/>
<path d="M104.7 253.0L107.2 250.3M125.0 260.1L126.9 258.5" stroke="#8287f5" stroke-width="1.8" stroke-linecap="round" fill="none"/>
<path d="M111.9 252.9L114.3 251.4M102.8 251.6L106.3 249.8M115.0 266.2L117.4 264.4M136.6 256.7L137.8 255.4" stroke="#8287f5" stroke-width="1.3" stroke-linecap="round" fill="none"/>
<path d="M126.6 249.9L129.1 248.9M102.0 271.1L103.6 269.5" stroke="#87a5fa" stroke-width="1.9" stroke-linecap="round" fill="none"/>
<path d="M137.0 255.4L139.2 253.5M116.3 257.5L119.0 255.3" stroke="#8287f5" stroke-width="1.4" stroke-linecap="round" fill="none"/>
<path d="M106.2 273.1L109.0 270.4M113.5 270.1L116.8 268.8" stroke="#1e41f5" stroke-width="1.5" stroke-linecap="round" fill="none"/>
<path d="M130.5 251.7L133.1 248.8" stroke="#87a5fa" stroke-width="1.4" stroke-linecap="round" fill="none"/>
<path d="M124.0 248.6L126.9 247.2M109.6 251.4L112.5 249.2M128.3 263.9L130.6 263.4" stroke="#8287f5" stroke-width="1.9" stroke-linecap="round" fill="none"/>
<path d="M118.6 254.3L119.8 253.1" stroke="#c8f5fa" stroke-width="2.1" stroke-linecap="round" fill="none"/>
<path d="M127.3 258.1L130.1 255.8M106.1 256.4L108.3 255.1" stroke="#1e41f5" stroke-width="2.0" stroke-linecap="round" fill="none"/>
<path d="M114.6 263.6L116.9 262.4" stroke="#6e82e6" stroke-width="1.3" stroke-linecap="round" fill="none"/>
<path d="M99.1 261.5L101.4 260.9" stroke="#8287f5" stroke-width="2.1" stroke-linecap="round" fill="none"/>
<path d="M115.2 262.5L117.7 260.1" stroke="#c8f5fa" stroke-width="1.9" stroke-linecap="round" fill="none"/>
<path d="M101.3 264.0L103.7 263.5" stroke="#1e41f5" stroke-width="1.9" stroke-linecap="round" fill="none"/>
<path d="M135.6 251.9L138.2 250.0" stroke="#87a5fa" stroke-width="1.6" stroke-linecap="round" fill="none"/>
<path d="M101.7 254.2L104.0 252.0" stroke="#f08cd2" stroke-width="1.7" stroke-linecap="round" fill="none"/>
<path d="M124.9 262.7L126.6 261.3" stroke="#c8f5fa" stroke-width="1.7" stroke-linecap="round" fill="none"/>
<path d="M102.9 251.1h2.2v2.0h-2.2z" fill="#c8230a"/>
<path d="M105.3 251.0h2.2v2.0h-2.2z" fill="#f08cd2"/>
<path d="M117.4 252.5h2.2v2.0h-2.2zM119.8 252.5h2.2v2.0h-2.2z" fill="#19878c"/>
<path d="M122.1 252.6h2.2v2.0h-2.2zM117.4 254.0h2.2v2.0h-2.2z" fill="#5ad714"/>
<path d="M124.1 252.4h2.2v2.0h-2.2zM119.6 254.0h2.2v2.0h-2.2z" fill="#28e10a"/>
<path d="M100.8 265.3h2.2v2.0h-2.2zM103.4 265.4h2.2v2.0h-2.2zM105.6 265.6h2.2v2.0h-2.2zM107.8 265.5h2.2v2.0h-2.2zM100.9 267.6h2.2v2.0h-2.2z" fill="#2832a0"/>
<path d="M105.2 267.5h2.2v2.0h-2.2z" fill="#1e41f5"/>
<path d="M109.3 266.1h2.2v2.0h-2.2zM111.9 266.2h2.2v2.0h-2.2zM109.7 268.5h2.2v2.0h-2.2z" fill="#c8230a"/>
<path d="M189.8 217.9h2.2v2.0h-2.2zM180.9 222.0h2.2v2.0h-2.2zM170.0 228.2h2.2v2.0h-2.2zM178.6 230.1h2.2v2.0h-2.2zM167.6 231.8h2.2v2.0h-2.2zM174.2 231.8h2.2v2.0h-2.2zM180.8 231.9h2.2v2.0h-2.2zM156.7 234.0h2.2v2.0h-2.2zM160.9 234.1h2.2v2.0h-2.2zM172.2 233.8h2.2v2.0h-2.2zM158.9 238.1h2.2v2.0h-2.2zM174.0 240.1h2.2v2.0h-2.2zM176.5 240.1h2.2v2.0h-2.2zM150.0 242.0h2.2v2.0h-2.2zM152.0 241.8h2.2v2.0h-2.2zM165.2 241.8h2.2v2.0h-2.2zM149.9 243.9h2.2v2.0h-2.2zM154.6 244.0h2.2v2.0h-2.2zM143.5 248.0h2.2v2.0h-2.2zM147.7 247.9h2.2v2.0h-2.2zM154.4 250.2h2.2v2.0h-2.2zM159.0 250.0h2.2v2.0h-2.2zM165.5 250.1h2.2v2.0h-2.2zM169.9 249.8h2.2v2.0h-2.2zM158.6 252.1h2.2v2.0h-2.2zM165.3 254.0h2.2v2.0h-2.2z" fill="#dce6fa"/>
<path d="M187.5 220.0h2.2v2.0h-2.2zM189.6 222.1h2.2v2.0h-2.2zM187.6 224.2h2.2v2.0h-2.2zM183.2 226.0h2.2v2.0h-2.2zM189.4 225.8h2.2v2.0h-2.2zM169.9 234.2h2.2v2.0h-2.2zM176.5 233.8h2.2v2.0h-2.2zM152.3 238.1h2.2v2.0h-2.2zM154.2 237.9h2.2v2.0h-2.2zM160.8 238.1h2.2v2.0h-2.2zM147.6 239.8h2.2v2.0h-2.2zM158.8 239.8h2.2v2.0h-2.2zM167.5 242.0h2.2v2.0h-2.2zM143.5 243.9h2.2v2.0h-2.2zM165.2 244.2h2.2v2.0h-2.2zM134.4 246.0h2.2v2.0h-2.2zM154.3 246.1h2.2v2.0h-2.2zM156.7 245.8h2.2v2.0h-2.2zM165.4 245.8h2.2v2.0h-2.2zM139.0 248.0h2.2v2.0h-2.2zM141.1 248.2h2.2v2.0h-2.2zM150.1 248.1h2.2v2.0h-2.2zM158.6 248.0h2.2v2.0h-2.2zM172.2 248.2h2.2v2.0h-2.2zM143.5 250.0h2.2v2.0h-2.2z" fill="#c8f5fa"/>
<path d="M175.6 239.6L178.3 237.5" stroke="#1e41f5" stroke-width="1.9" stroke-linecap="round" fill="none"/>
<path d="M167.1 232.3L168.9 231.3M191.3 219.5L192.8 218.0M172.6 230.3L174.9 228.7" stroke="#8287f5" stroke-width="2.0" stroke-linecap="round" fill="none"/>
<path d="M164.5 240.4L166.4 239.5M164.1 253.2L166.7 252.3" stroke="#c8f5fa" stroke-width="1.9" stroke-linecap="round" fill="none"/>
<path d="M181.3 231.9L183.6 230.3M136.2 250.9L138.7 249.7" stroke="#6e82e6" stroke-width="1.6" stroke-linecap="round" fill="none"/>
<path d="M187.6 226.1L190.4 225.5" stroke="#87a5fa" stroke-width="1.5" stroke-linecap="round" fill="none"/>
<path d="M188.9 219.8L190.4 219.0M170.4 244.4L172.2 242.9M142.7 248.3L144.8 246.0M179.3 226.7L182.3 225.4M158.6 245.4L160.1 244.2" stroke="#8287f5" stroke-width="1.4" stroke-linecap="round" fill="none"/>
<path d="M171.3 248.7L172.8 248.1M169.4 234.7L172.0 232.6M146.7 244.4L149.8 241.9M174.3 238.6L177.1 237.8M178.2 225.8L181.2 223.4M190.3 221.1L193.7 220.1" stroke="#8287f5" stroke-width="1.7" stroke-linecap="round" fill="none"/>
<path d="M179.3 225.3L182.1 223.2M168.7 241.0L171.8 238.6M191.5 226.0L193.6 225.5" stroke="#8287f5" stroke-width="1.5" stroke-linecap="round" fill="none"/>
<path d="M132.7 247.5L134.5 247.1" stroke="#1e41f5" stroke-width="1.6" stroke-linecap="round" fill="none"/>
<path d="M164.2 232.0L166.6 230.2" stroke="#f08cd2" stroke-width="2.1" stroke-linecap="round" fill="none"/>
<path d="M181.8 231.1L184.1 229.7M183.8 224.0L187.1 223.3" stroke="#6e82e6" stroke-width="1.4" stroke-linecap="round" fill="none"/>
<path d="M149.6 241.1L151.6 238.8M181.9 222.5L183.5 221.8M166.6 232.8L169.0 231.4" stroke="#6e82e6" stroke-width="1.9" stroke-linecap="round" fill="none"/>
<path d="M144.7 246.4L147.2 244.3" stroke="#1e41f5" stroke-width="1.3" stroke-linecap="round" fill="none"/>
<path d="M152.4 238.4L155.2 236.5" stroke="#6e82e6" stroke-width="2.0" stroke-linecap="round" fill="none"/>
<path d="M164.7 250.5L167.1 248.3" stroke="#87a5fa" stroke-width="2.0" stroke-linecap="round" fill="none"/>
<path d="M171.3 231.8L172.9 230.7M140.0 244.0L142.0 243.0" stroke="#87a5fa" stroke-width="1.8" stroke-linecap="round" fill="none"/>
<path d="M181.9 228.0L184.5 227.5" stroke="#1e41f5" stroke-width="1.8" stroke-linecap="round" fill="none"/>
<path d="M168.7 239.5L171.4 238.9M168.3 245.7L172.1 244.9" stroke="#1e41f5" stroke-width="1.5" stroke-linecap="round" fill="none"/>
<path d="M171.2 251.3L172.6 250.5" stroke="#87a5fa" stroke-width="1.7" stroke-linecap="round" fill="none"/>
<path d="M180.3 229.6L182.8 227.5M162.5 250.6L165.3 249.6" stroke="#87a5fa" stroke-width="2.1" stroke-linecap="round" fill="none"/>
<path d="M165.6 232.8L167.6 232.2M157.1 250.3L158.7 249.1M146.2 246.3L147.9 245.0" stroke="#8287f5" stroke-width="1.9" stroke-linecap="round" fill="none"/>
<path d="M172.2 227.7L174.8 226.6" stroke="#1e41f5" stroke-width="1.4" stroke-linecap="round" fill="none"/>
<path d="M145.0 245.4L146.6 244.1M169.8 246.3L171.4 245.9" stroke="#6e82e6" stroke-width="1.3" stroke-linecap="round" fill="none"/>
<path d="M175.0 245.8L176.6 244.3" stroke="#c8f5fa" stroke-width="1.5" stroke-linecap="round" fill="none"/>
<path d="M190.3 226.8L192.7 224.9M157.8 243.3L160.5 240.5M174.6 228.9L176.1 228.3M135.0 253.8L137.3 251.2M172.2 228.8L174.5 227.9" stroke="#6e82e6" stroke-width="1.8" stroke-linecap="round" fill="none"/>
<path d="M173.2 244.4L175.6 242.2" stroke="#f08cd2" stroke-width="1.5" stroke-linecap="round" fill="none"/>
<path d="M182.7 225.0L186.3 224.4" stroke="#87a5fa" stroke-width="1.4" stroke-linecap="round" fill="none"/>
<path d="M162.1 251.9L163.8 251.0M182.2 221.5L184.4 220.0" stroke="#6e82e6" stroke-width="2.1" stroke-linecap="round" fill="none"/>
<path d="M162.3 252.0L165.6 249.7" stroke="#8287f5" stroke-width="1.8" stroke-linecap="round" fill="none"/>
<path d="M179.9 232.0L183.4 231.2" stroke="#f08cd2" stroke-width="2.0" stroke-linecap="round" fill="none"/>
<path d="M169.4 248.9L171.7 246.5M169.4 230.0L171.8 228.5M132.8 248.1L135.5 245.6M155.0 245.4L158.1 243.2" stroke="#6e82e6" stroke-width="1.5" stroke-linecap="round" fill="none"/>
<path d="M162.7 241.6L165.7 240.9M192.4 223.7L194.1 222.3" stroke="#87a5fa" stroke-width="1.6" stroke-linecap="round" fill="none"/>
<path d="M174.0 243.9L176.6 243.0" stroke="#c8f5fa" stroke-width="1.6" stroke-linecap="round" fill="none"/>
<path d="M177.2 239.3L179.6 237.8" stroke="#1e41f5" stroke-width="2.0" stroke-linecap="round" fill="none"/>
<path d="M165.4 232.9L167.2 232.1M147.6 247.0L149.1 245.7" stroke="#87a5fa" stroke-width="1.9" stroke-linecap="round" fill="none"/>
<path d="M153.0 244.9L155.4 243.9M173.8 227.4L176.0 226.4" stroke="#c8f5fa" stroke-width="1.4" stroke-linecap="round" fill="none"/>
<path d="M157.0 241.4L159.6 239.8M165.1 249.4L167.9 248.3M158.7 235.2L161.0 233.1M152.8 250.7L155.4 250.0M160.8 240.0L163.8 237.5M155.2 238.3L157.2 237.5M184.6 221.6L186.9 219.0" stroke="#8287f5" stroke-width="1.6" stroke-linecap="round" fill="none"/>
<path d="M155.5 240.7L157.7 238.4" stroke="#1e41f5" stroke-width="2.1" stroke-linecap="round" fill="none"/>
<path d="M169.1 231.5L172.4 230.7" stroke="#c8f5fa" stroke-width="1.3" stroke-linecap="round" fill="none"/>
<path d="M182.9 216.1h2.2v2.0h-2.2zM185.4 216.0h2.2v2.0h-2.2zM181.1 218.2h2.2v2.0h-2.2zM189.8 217.7h2.2v2.0h-2.2zM183.2 220.2h2.2v2.0h-2.2zM189.8 220.2h2.2v2.0h-2.2z" fill="#5ad714"/>
<path d="M187.5 215.7h2.2v2.0h-2.2zM187.3 218.1h2.2v2.0h-2.2zM181.2 220.0h2.2v2.0h-2.2zM185.1 220.2h2.2v2.0h-2.2z" fill="#28e10a"/>
<path d="M185.6 217.9h2.2v2.0h-2.2zM183.4 221.8h2.2v2.0h-2.2zM187.6 222.1h2.2v2.0h-2.2z" fill="#8c8c28"/>
<path d="M187.7 220.1h2.2v2.0h-2.2zM185.3 221.9h2.2v2.0h-2.2z" fill="#fff500"/>
<path d="M151.0 209.4h2.2v2.0h-2.2zM155.6 209.4h2.2v2.0h-2.2zM148.9 211.4h2.2v2.0h-2.2zM155.4 211.7h2.2v2.0h-2.2z" fill="#8c8c28"/>
<path d="M151.5 211.6h2.2v2.0h-2.2z" fill="#c8230a"/>
<path d="M153.1 211.6h2.2v2.0h-2.2zM155.8 213.5h2.2v2.0h-2.2z" fill="#f0730a"/>
<path d="M149.2 213.6h2.2v2.0h-2.2z" fill="#28e10a"/>
<path d="M143.3 240.1h2.2v2.0h-2.2z" fill="#28e10a"/>
<path d="M145.5 240.1h2.2v2.0h-2.2z" fill="#1e41f5"/>
<path d="M143.1 242.0h2.2v2.0h-2.2z" fill="#8c8c28"/>
<path d="M151.1 254.9h2.2v2.0h-2.2zM153.1 254.9h2.2v2.0h-2.2zM151.2 258.9h2.2v2.0h-2.2zM155.4 260.8h2.2v2.0h-2.2zM157.9 260.9h2.2v2.0h-2.2zM149.0 262.8h2.2v2.0h-2.2zM151.1 263.1h2.2v2.0h-2.2z" fill="#8287f5"/>
<path d="M148.8 257.1h2.2v2.0h-2.2zM151.2 257.0h2.2v2.0h-2.2z" fill="#8c8c28"/>
<path d="M155.6 256.9h2.2v2.0h-2.2zM153.6 258.9h2.2v2.0h-2.2zM148.9 260.8h2.2v2.0h-2.2zM153.4 260.8h2.2v2.0h-2.2zM151.2 265.0h2.2v2.0h-2.2zM153.6 264.8h2.2v2.0h-2.2z" fill="#1e41f5"/>
<path d="M152.9 259.1h2.2v2.0h-2.2zM152.6 261.4h2.2v2.0h-2.2zM155.0 261.6h2.2v2.0h-2.2z" fill="#8c8c28"/>
<path d="M181.3 268.1h2.2v2.0h-2.2zM170.2 269.8h2.2v2.0h-2.2zM174.9 271.9h2.2v2.0h-2.2zM144.2 278.0h2.2v2.0h-2.2zM146.0 278.1h2.2v2.0h-2.2zM157.1 278.0h2.2v2.0h-2.2zM159.6 278.2h2.2v2.0h-2.2zM135.2 280.0h2.2v2.0h-2.2zM139.8 280.1h2.2v2.0h-2.2zM155.0 280.2h2.2v2.0h-2.2zM163.6 280.2h2.2v2.0h-2.2zM165.8 280.0h2.2v2.0h-2.2zM135.0 282.1h2.2v2.0h-2.2zM146.3 284.2h2.2v2.0h-2.2zM154.9 283.8h2.2v2.0h-2.2zM146.3 286.2h2.2v2.0h-2.2z" fill="#dce6fa"/>
<path d="M177.0 270.1h2.2v2.0h-2.2zM157.1 272.1h2.2v2.0h-2.2zM159.2 271.8h2.2v2.0h-2.2zM168.3 272.1h2.2v2.0h-2.2zM159.4 273.8h2.2v2.0h-2.2zM181.3 273.8h2.2v2.0h-2.2zM150.5 276.0h2.2v2.0h-2.2zM142.0 278.2h2.2v2.0h-2.2zM170.3 278.0h2.2v2.0h-2.2zM148.2 279.9h2.2v2.0h-2.2zM159.3 279.8h2.2v2.0h-2.2zM139.4 284.2h2.2v2.0h-2.2zM139.8 285.9h2.2v2.0h-2.2z" fill="#c8f5fa"/>
<path d="M176.5 274.9L178.5 273.5M182.8 274.8L185.0 274.1" stroke="#87a5fa" stroke-width="1.7" stroke-linecap="round" fill="none"/>
<path d="M164.6 282.9L168.1 281.2M180.5 271.4L182.3 270.4" stroke="#6e82e6" stroke-width="2.0" stroke-linecap="round" fill="none"/>
<path d="M179.6 276.5L182.1 275.8" stroke="#8287f5" stroke-width="1.4" stroke-linecap="round" fill="none"/>
<path d="M171.9 274.8L173.2 273.8" stroke="#1e41f5" stroke-width="1.3" stroke-linecap="round" fill="none"/>
<path d="M147.5 278.0L149.5 276.9M145.0 285.6L147.3 284.8M172.2 277.6L173.6 277.0" stroke="#8287f5" stroke-width="2.0" stroke-linecap="round" fill="none"/>
<path d="M176.1 280.2L179.4 279.6M183.5 275.5L186.0 273.8" stroke="#8287f5" stroke-width="1.9" stroke-linecap="round" fill="none"/>
<path d="M161.5 275.5L164.6 273.2M172.2 275.8L174.4 273.3M138.6 280.7L142.0 279.3" stroke="#6e82e6" stroke-width="1.6" stroke-linecap="round" fill="none"/>
<path d="M142.3 289.3L145.0 287.2" stroke="#8287f5" stroke-width="1.6" stroke-linecap="round" fill="none"/>
<path d="M136.6 285.6L137.9 284.6M175.9 278.8L177.2 278.0" stroke="#28e10a" stroke-width="1.5" stroke-linecap="round" fill="none"/>
<path d="M178.9 275.4L182.3 273.6" stroke="#87a5fa" stroke-width="2.0" stroke-linecap="round" fill="none"/>
<path d="M141.1 287.6L143.4 285.7M181.4 275.2L184.1 274.2M164.5 279.5L168.1 278.1" stroke="#1e41f5" stroke-width="1.6" stroke-linecap="round" fill="none"/>
<path d="M170.0 278.9L173.3 277.5M134.2 284.0L137.0 283.0" stroke="#8287f5" stroke-width="1.5" stroke-linecap="round" fill="none"/>
<path d="M162.9 282.1L164.3 281.2" stroke="#1e41f5" stroke-width="1.4" stroke-linecap="round" fill="none"/>
<path d="M171.1 278.3L173.1 276.0" stroke="#87a5fa" stroke-width="1.6" stroke-linecap="round" fill="none"/>
<path d="M155.3 278.3L156.8 276.6M173.4 279.9L175.4 278.0" stroke="#1e41f5" stroke-width="2.0" stroke-linecap="round" fill="none"/>
<path d="M160.1 278.4L162.3 276.5M149.4 276.0L153.2 274.6" stroke="#87a5fa" stroke-width="1.3" stroke-linecap="round" fill="none"/>
<path d="M150.3 278.7L152.7 278.0M152.8 280.0L156.5 278.8" stroke="#6e82e6" stroke-width="1.9" stroke-linecap="round" fill="none"/>
<path d="M173.3 281.6L175.9 278.8" stroke="#1e41f5" stroke-width="1.7" stroke-linecap="round" fill="none"/>
<path d="M169.3 281.1L170.9 280.1" stroke="#6e82e6" stroke-width="1.5" stroke-linecap="round" fill="none"/>
<path d="M145.8 283.3L147.5 282.6M165.7 278.5L167.2 277.4" stroke="#c8f5fa" stroke-width="1.9" stroke-linecap="round" fill="none"/>
<path d="M141.9 286.8L145.3 285.5M185.9 275.8L187.2 274.9M158.3 274.7L161.0 272.3" stroke="#8287f5" stroke-width="1.7" stroke-linecap="round" fill="none"/>
<path d="M141.4 283.4L144.2 282.0" stroke="#6e82e6" stroke-width="1.3" stroke-linecap="round" fill="none"/>
<path d="M171.7 277.5L174.8 276.4" stroke="#c8f5fa" stroke-width="1.5" stroke-linecap="round" fill="none"/>
<path d="M134.6 285.3L138.2 284.4" stroke="#8287f5" stroke-width="1.8" stroke-linecap="round" fill="none"/>
<path d="M176.3 274.8L177.8 273.7" stroke="#1e41f5" stroke-width="1.9" stroke-linecap="round" fill="none"/>
<path d="M160.9 279.8L163.5 279.1" stroke="#87a5fa" stroke-width="1.4" stroke-linecap="round" fill="none"/>
<path d="M143.6 282.0L145.3 281.3M168.1 271.4L171.1 270.1M143.7 279.9L144.8 278.8" stroke="#6e82e6" stroke-width="1.4" stroke-linecap="round" fill="none"/>
<path d="M136.9 287.6L138.4 286.9" stroke="#28e10a" stroke-width="1.9" stroke-linecap="round" fill="none"/>
<path d="M145.0 286.6L147.4 285.7" stroke="#6e82e6" stroke-width="1.7" stroke-linecap="round" fill="none"/>
<path d="M182.4 277.1L184.3 276.5" stroke="#8287f5" stroke-width="1.3" stroke-linecap="round" fill="none"/>
<path d="M174.4 275.4L176.0 274.8M141.1 284.0L142.6 282.4M167.1 276.4L168.1 275.4" stroke="#6e82e6" stroke-width="2.1" stroke-linecap="round" fill="none"/>
<path d="M152.9 283.4L154.7 282.9" stroke="#6e82e6" stroke-width="1.8" stroke-linecap="round" fill="none"/>
<path d="M161.8 279.8L165.3 278.6" stroke="#28e10a" stroke-width="1.7" stroke-linecap="round" fill="none"/>
<path d="M159.6 274.1L161.2 273.5" stroke="#87a5fa" stroke-width="1.5" stroke-linecap="round" fill="none"/>
<path d="M170.1 269.2h2.2v2.0h-2.2zM168.1 271.3h2.2v2.0h-2.2zM170.2 271.1h2.2v2.0h-2.2z" fill="#1e41f5"/>
<path d="M172.1 268.8h2.2v2.0h-2.2zM172.2 271.3h2.2v2.0h-2.2zM176.8 271.0h2.2v2.0h-2.2zM172.6 272.8h2.2v2.0h-2.2z" fill="#8c8c28"/>
<path d="M174.8 271.1h2.2v2.0h-2.2zM170.3 273.1h2.2v2.0h-2.2zM174.7 273.0h2.2v2.0h-2.2z" fill="#28e10a"/>
<path d="M182.8 243.9h2.2v2.0h-2.2zM185.0 243.5h2.2v2.0h-2.2zM187.6 243.9h2.2v2.0h-2.2zM187.4 245.6h2.2v2.0h-2.2z" fill="#fad2f0"/>
<path d="M91.9 242.5h2.2v2.0h-2.2zM94.2 242.8h2.2v2.0h-2.2zM96.6 242.4h2.2v2.0h-2.2z" fill="#fad2f0"/>
<path d="M218.6 252.7h2.2v2.0h-2.2zM225.3 253.1h2.2v2.0h-2.2zM223.2 255.2h2.2v2.0h-2.2zM227.4 254.7h2.2v2.0h-2.2zM229.9 254.9h2.2v2.0h-2.2zM212.3 257.0h2.2v2.0h-2.2zM218.5 257.2h2.2v2.0h-2.2zM220.5 257.2h2.2v2.0h-2.2zM211.7 259.1h2.2v2.0h-2.2zM216.2 258.8h2.2v2.0h-2.2z" fill="#fad2f0"/>
<path d="M218.6 255.2h2.2v2.0h-2.2zM227.3 261.2h2.2v2.0h-2.2z" fill="#c8f5fa"/>
<path d="M108.8 262.0h2.2v2.0h-2.2zM126.5 263.8h2.2v2.0h-2.2zM104.7 266.0h2.2v2.0h-2.2zM122.0 267.7h2.2v2.0h-2.2zM117.4 272.3h2.2v2.0h-2.2z" fill="#c8f5fa"/>
<path d="M110.8 262.2h2.2v2.0h-2.2zM106.6 265.7h2.2v2.0h-2.2zM113.0 266.2h2.2v2.0h-2.2zM115.6 265.8h2.2v2.0h-2.2zM99.9 268.0h2.2v2.0h-2.2zM104.6 270.1h2.2v2.0h-2.2zM106.9 272.0h2.2v2.0h-2.2z" fill="#8287f5"/>
<path d="M117.9 262.1h2.2v2.0h-2.2zM102.0 266.3h2.2v2.0h-2.2zM110.9 271.8h2.2v2.0h-2.2z" fill="#fad2f0"/>
<path d="M115.3 268.0h2.2v2.0h-2.2zM117.8 268.1h2.2v2.0h-2.2zM102.1 270.1h2.2v2.0h-2.2zM108.7 269.9h2.2v2.0h-2.2zM124.5 270.0h2.2v2.0h-2.2z" fill="#1e41f5"/>
<path d="M56.1 290.1h2.4v2.2h-2.4zM58.6 290.0h2.4v2.2h-2.4zM73.0 290.0h2.4v2.2h-2.4zM87.1 290.0h2.4v2.2h-2.4zM60.8 292.1h2.4v2.2h-2.4zM63.2 292.0h2.4v2.2h-2.4zM65.7 292.0h2.4v2.2h-2.4zM72.7 292.1h2.4v2.2h-2.4zM80.2 292.2h2.4v2.2h-2.4zM77.6 296.7h2.4v2.2h-2.4zM61.0 298.6h2.4v2.2h-2.4zM63.1 298.9h2.4v2.2h-2.4zM94.5 299.0h2.4v2.2h-2.4zM75.4 301.0h2.4v2.2h-2.4zM94.5 301.0h2.4v2.2h-2.4zM68.1 303.1h2.4v2.2h-2.4zM70.3 303.0h2.4v2.2h-2.4zM77.8 303.4h2.4v2.2h-2.4zM70.5 305.5h2.4v2.2h-2.4zM72.6 307.8h2.4v2.2h-2.4zM87.3 307.7h2.4v2.2h-2.4zM75.2 309.8h2.4v2.2h-2.4zM84.7 312.0h2.4v2.2h-2.4zM92.0 314.3h2.4v2.2h-2.4zM60.9 316.2h2.4v2.2h-2.4zM87.4 316.5h2.4v2.2h-2.4z" fill="#c8f5fa"/>
<path d="M89.6 290.2h2.4v2.2h-2.4zM58.6 294.5h2.4v2.2h-2.4zM72.8 294.4h2.4v2.2h-2.4zM89.8 296.5h2.4v2.2h-2.4zM58.4 299.0h2.4v2.2h-2.4zM75.2 299.0h2.4v2.2h-2.4zM80.0 298.8h2.4v2.2h-2.4zM87.0 298.8h2.4v2.2h-2.4zM82.3 303.2h2.4v2.2h-2.4zM68.1 305.4h2.4v2.2h-2.4zM84.8 305.2h2.4v2.2h-2.4zM75.4 307.8h2.4v2.2h-2.4zM80.1 307.7h2.4v2.2h-2.4zM63.2 309.9h2.4v2.2h-2.4zM67.8 309.8h2.4v2.2h-2.4zM89.4 309.9h2.4v2.2h-2.4zM82.5 316.2h2.4v2.2h-2.4z" fill="#fad2f0"/>
<path d="M77.5 292.2h2.4v2.2h-2.4zM55.9 294.3h2.4v2.2h-2.4zM79.9 294.4h2.4v2.2h-2.4zM87.3 294.6h2.4v2.2h-2.4zM68.1 299.0h2.4v2.2h-2.4zM84.7 298.6h2.4v2.2h-2.4zM58.4 301.2h2.4v2.2h-2.4zM60.6 305.2h2.4v2.2h-2.4zM72.9 305.6h2.4v2.2h-2.4zM58.4 307.6h2.4v2.2h-2.4zM65.8 309.8h2.4v2.2h-2.4zM77.4 309.7h2.4v2.2h-2.4zM94.3 309.6h2.4v2.2h-2.4zM63.3 314.3h2.4v2.2h-2.4z" fill="#e6f5fc"/>
<path d="M76.6 288.8h2.2v2.0h-2.2zM76.7 290.9h2.2v2.0h-2.2zM78.9 291.1h2.2v2.0h-2.2zM69.9 292.9h2.2v2.0h-2.2zM72.1 292.9h2.2v2.0h-2.2zM76.6 293.1h2.2v2.0h-2.2zM78.8 293.0h2.2v2.0h-2.2zM74.4 294.8h2.2v2.0h-2.2zM78.8 294.8h2.2v2.0h-2.2z" fill="#fad2f0"/>
<path d="M72.4 290.6h2.2v2.0h-2.2z" fill="#a0501e"/>
<path d="M74.9 290.9h2.2v2.0h-2.2zM76.7 290.8h2.2v2.0h-2.2zM72.2 293.0h2.2v2.0h-2.2zM74.7 292.9h2.2v2.0h-2.2z" fill="#c8230a"/>
<path d="M77.2 292.6h2.2v2.0h-2.2z" fill="#f0730a"/>
<path d="M72.5 295.9h2.2v2.0h-2.2zM76.9 295.8h2.2v2.0h-2.2zM83.3 296.1h2.2v2.0h-2.2zM68.5 298.2h2.2v2.0h-2.2zM75.1 297.9h2.2v2.0h-2.2zM72.9 300.0h2.2v2.0h-2.2zM79.3 299.8h2.2v2.0h-2.2zM83.4 299.8h2.2v2.0h-2.2zM92.6 300.2h2.2v2.0h-2.2zM68.2 302.2h2.2v2.0h-2.2zM72.7 302.1h2.2v2.0h-2.2zM74.8 302.2h2.2v2.0h-2.2zM79.1 304.2h2.2v2.0h-2.2zM85.6 304.3h2.2v2.0h-2.2z" fill="#28e10a"/>
<path d="M74.8 296.2h2.2v2.0h-2.2zM74.6 299.9h2.2v2.0h-2.2zM83.4 301.8h2.2v2.0h-2.2zM75.0 304.0h2.2v2.0h-2.2zM76.8 303.7h2.2v2.0h-2.2z" fill="#5ad714"/>
<path d="M72.6 297.9h2.2v2.0h-2.2zM79.3 298.0h2.2v2.0h-2.2zM81.3 298.0h2.2v2.0h-2.2zM66.1 300.1h2.2v2.0h-2.2zM68.1 300.0h2.2v2.0h-2.2zM70.7 299.7h2.2v2.0h-2.2zM81.7 299.8h2.2v2.0h-2.2zM81.6 301.9h2.2v2.0h-2.2zM72.4 304.1h2.2v2.0h-2.2zM83.7 303.7h2.2v2.0h-2.2z" fill="#1e41f5"/>
<path d="M83.7 298.0h2.2v2.0h-2.2zM90.0 300.1h2.2v2.0h-2.2zM77.3 302.2h2.2v2.0h-2.2z" fill="#8287f5"/>
<path d="M77.0 300.0h2.2v2.0h-2.2zM79.4 301.8h2.2v2.0h-2.2z" fill="#19878c"/>
<path d="M59.1 302.3h2.2v2.0h-2.2zM61.5 302.4h2.2v2.0h-2.2zM65.7 302.4h2.2v2.0h-2.2zM70.1 302.6h2.2v2.0h-2.2zM66.1 304.3h2.2v2.0h-2.2zM67.8 304.4h2.2v2.0h-2.2z" fill="#28e10a"/>
<path d="M63.6 302.6h2.2v2.0h-2.2zM59.5 304.4h2.2v2.0h-2.2zM63.7 304.2h2.2v2.0h-2.2z" fill="#8c8c28"/>
<path d="M68.2 302.8h2.2v2.0h-2.2zM61.1 304.5h2.2v2.0h-2.2zM70.4 304.8h2.2v2.0h-2.2z" fill="#5ad714"/>
<path d="M91.4 304.0h2.2v2.0h-2.2zM93.4 304.1h2.2v2.0h-2.2zM93.6 306.0h2.2v2.0h-2.2zM91.5 307.9h2.2v2.0h-2.2zM94.0 308.0h2.2v2.0h-2.2z" fill="#8c8c28"/>
<path d="M91.7 305.8h2.2v2.0h-2.2zM96.0 306.3h2.2v2.0h-2.2z" fill="#a0501e"/>
<path d="M66.8 313.1h2.2v2.0h-2.2zM69.3 313.2h2.2v2.0h-2.2zM77.9 313.2h2.2v2.0h-2.2zM69.0 315.0h2.2v2.0h-2.2zM71.3 314.9h2.2v2.0h-2.2zM76.0 315.0h2.2v2.0h-2.2z" fill="#28e10a"/>
<path d="M71.3 313.3h2.2v2.0h-2.2zM73.4 312.8h2.2v2.0h-2.2zM75.8 312.8h2.2v2.0h-2.2zM67.3 315.1h2.2v2.0h-2.2zM73.4 315.3h2.2v2.0h-2.2zM78.1 314.9h2.2v2.0h-2.2z" fill="#8c8c28"/>
<path d="M112.5 288.0h2.2v2.0h-2.2zM125.2 290.3h2.2v2.0h-2.2zM127.4 292.1h2.2v2.0h-2.2zM120.8 295.7h2.2v2.0h-2.2zM123.4 298.2h2.2v2.0h-2.2z" fill="#1e41f5"/>
<path d="M114.6 288.1h2.2v2.0h-2.2zM116.3 287.9h2.2v2.0h-2.2zM110.2 290.1h2.2v2.0h-2.2zM123.2 290.3h2.2v2.0h-2.2zM109.9 291.9h2.2v2.0h-2.2zM112.1 292.3h2.2v2.0h-2.2zM114.1 291.8h2.2v2.0h-2.2zM119.0 292.1h2.2v2.0h-2.2zM109.8 293.7h2.2v2.0h-2.2zM118.8 294.2h2.2v2.0h-2.2zM123.3 294.1h2.2v2.0h-2.2zM125.2 294.0h2.2v2.0h-2.2zM112.2 296.1h2.2v2.0h-2.2zM114.4 296.1h2.2v2.0h-2.2zM116.8 296.2h2.2v2.0h-2.2zM118.8 295.9h2.2v2.0h-2.2zM123.1 295.7h2.2v2.0h-2.2zM116.4 297.7h2.2v2.0h-2.2z" fill="#8287f5"/>
<path d="M124.5 300.4h3.0v2.0h-3.0z" fill="#8c8c28"/>
<path d="M144.6 275.0h2.2v2.0h-2.2zM140.4 277.1h2.2v2.0h-2.2zM138.3 278.9h2.2v2.0h-2.2zM142.7 279.0h2.2v2.0h-2.2zM160.1 279.2h2.2v2.0h-2.2zM162.1 279.2h2.2v2.0h-2.2zM145.0 281.3h2.2v2.0h-2.2zM151.4 280.8h2.2v2.0h-2.2zM147.1 283.2h2.2v2.0h-2.2zM149.0 282.9h2.2v2.0h-2.2zM158.1 283.2h2.2v2.0h-2.2zM147.0 284.8h2.2v2.0h-2.2z" fill="#8287f5"/>
<path d="M142.4 277.2h2.2v2.0h-2.2zM135.9 280.7h2.2v2.0h-2.2zM142.6 280.8h2.2v2.0h-2.2zM156.0 280.7h2.2v2.0h-2.2zM155.7 283.2h2.2v2.0h-2.2zM142.8 285.0h2.2v2.0h-2.2z" fill="#28e10a"/>
<path d="M151.6 276.9h2.2v2.0h-2.2zM135.9 278.7h2.2v2.0h-2.2zM140.2 279.0h2.2v2.0h-2.2zM144.6 278.9h2.2v2.0h-2.2zM153.8 278.8h2.2v2.0h-2.2zM157.8 279.0h2.2v2.0h-2.2zM142.7 282.8h2.2v2.0h-2.2zM144.9 283.3h2.2v2.0h-2.2zM151.5 283.0h2.2v2.0h-2.2zM149.0 285.1h2.2v2.0h-2.2z" fill="#1e41f5"/>
<path d="M134.1 283.8h2.0v1.8h-2.0zM138.1 287.4h2.0v1.8h-2.0zM140.2 287.5h2.0v1.8h-2.0zM140.2 289.4h2.0v1.8h-2.0zM142.2 291.0h2.0v1.8h-2.0zM149.8 290.9h2.0v1.8h-2.0zM138.1 292.7h2.0v1.8h-2.0zM144.1 292.6h2.0v1.8h-2.0zM152.0 293.0h2.0v1.8h-2.0zM134.0 294.7h2.0v1.8h-2.0zM138.0 294.6h2.0v1.8h-2.0zM152.2 294.6h2.0v1.8h-2.0zM146.2 296.6h2.0v1.8h-2.0zM134.1 298.1h2.0v1.8h-2.0zM139.9 298.0h2.0v1.8h-2.0zM140.2 300.1h2.0v1.8h-2.0zM151.9 302.0h2.0v1.8h-2.0zM134.1 303.8h2.0v1.8h-2.0zM139.8 303.6h2.0v1.8h-2.0zM152.0 303.8h2.0v1.8h-2.0zM134.0 305.4h2.0v1.8h-2.0zM145.8 305.2h2.0v1.8h-2.0zM152.1 305.4h2.0v1.8h-2.0zM142.0 307.1h2.0v1.8h-2.0zM150.2 310.9h2.0v1.8h-2.0zM132.2 312.4h2.0v1.8h-2.0zM136.1 312.7h2.0v1.8h-2.0zM132.1 314.2h2.0v1.8h-2.0zM150.1 314.4h2.0v1.8h-2.0zM132.1 316.4h2.0v1.8h-2.0zM147.8 319.8h2.0v1.8h-2.0z" fill="#8287f5"/>
<path d="M135.9 283.9h2.0v1.8h-2.0zM137.8 283.7h2.0v1.8h-2.0zM134.0 285.8h2.0v1.8h-2.0zM138.1 285.5h2.0v1.8h-2.0zM142.2 285.4h2.0v1.8h-2.0zM131.9 287.6h2.0v1.8h-2.0zM144.0 287.6h2.0v1.8h-2.0zM137.9 289.0h2.0v1.8h-2.0zM138.2 290.8h2.0v1.8h-2.0zM140.1 293.0h2.0v1.8h-2.0zM148.2 292.7h2.0v1.8h-2.0zM150.1 293.0h2.0v1.8h-2.0zM131.9 294.5h2.0v1.8h-2.0zM148.2 294.5h2.0v1.8h-2.0zM137.8 296.6h2.0v1.8h-2.0zM151.9 296.2h2.0v1.8h-2.0zM138.0 298.0h2.0v1.8h-2.0zM148.1 298.2h2.0v1.8h-2.0zM136.1 300.0h2.0v1.8h-2.0zM142.2 299.9h2.0v1.8h-2.0zM150.2 300.1h2.0v1.8h-2.0zM136.1 301.7h2.0v1.8h-2.0zM137.9 301.6h2.0v1.8h-2.0zM144.2 301.7h2.0v1.8h-2.0zM147.8 302.0h2.0v1.8h-2.0zM127.8 303.8h2.0v1.8h-2.0zM136.0 303.6h2.0v1.8h-2.0zM138.2 305.4h2.0v1.8h-2.0zM130.2 307.0h2.0v1.8h-2.0zM150.1 307.1h2.0v1.8h-2.0zM151.8 307.0h2.0v1.8h-2.0zM130.1 309.1h2.0v1.8h-2.0zM136.0 309.0h2.0v1.8h-2.0zM128.0 310.6h2.0v1.8h-2.0zM142.1 311.0h2.0v1.8h-2.0zM146.2 311.0h2.0v1.8h-2.0zM137.8 312.8h2.0v1.8h-2.0zM130.2 314.4h2.0v1.8h-2.0zM142.0 314.3h2.0v1.8h-2.0zM134.2 316.3h2.0v1.8h-2.0zM136.2 316.3h2.0v1.8h-2.0zM133.8 317.9h2.0v1.8h-2.0zM136.2 318.0h2.0v1.8h-2.0zM144.1 318.1h2.0v1.8h-2.0zM138.2 319.9h2.0v1.8h-2.0z" fill="#c8d2fa"/>
<path d="M139.8 283.6h2.0v1.8h-2.0zM136.2 287.5h2.0v1.8h-2.0zM129.8 294.8h2.0v1.8h-2.0zM145.8 294.8h2.0v1.8h-2.0zM134.1 296.4h2.0v1.8h-2.0zM143.8 296.2h2.0v1.8h-2.0zM150.0 298.3h2.0v1.8h-2.0zM138.2 300.2h2.0v1.8h-2.0zM132.1 305.6h2.0v1.8h-2.0zM134.1 309.1h2.0v1.8h-2.0zM134.0 310.7h2.0v1.8h-2.0zM142.0 312.4h2.0v1.8h-2.0zM134.0 314.5h2.0v1.8h-2.0zM143.9 314.5h2.0v1.8h-2.0zM140.1 316.0h2.0v1.8h-2.0zM139.8 318.1h2.0v1.8h-2.0zM136.2 319.8h2.0v1.8h-2.0zM142.2 319.7h2.0v1.8h-2.0z" fill="#1e41f5"/>
<path d="M146.1 285.6h2.0v1.8h-2.0zM145.8 287.6h2.0v1.8h-2.0zM136.2 289.3h2.0v1.8h-2.0zM150.2 289.0h2.0v1.8h-2.0zM140.2 290.8h2.0v1.8h-2.0zM134.0 292.7h2.0v1.8h-2.0zM135.9 296.4h2.0v1.8h-2.0zM127.9 298.0h2.0v1.8h-2.0zM142.2 298.2h2.0v1.8h-2.0zM128.1 302.0h2.0v1.8h-2.0zM133.9 301.7h2.0v1.8h-2.0zM142.1 301.6h2.0v1.8h-2.0zM141.8 303.4h2.0v1.8h-2.0zM149.8 303.5h2.0v1.8h-2.0zM136.0 305.6h2.0v1.8h-2.0zM141.8 305.6h2.0v1.8h-2.0zM144.1 305.6h2.0v1.8h-2.0zM132.2 307.4h2.0v1.8h-2.0zM136.0 307.2h2.0v1.8h-2.0zM137.8 307.1h2.0v1.8h-2.0zM131.9 309.1h2.0v1.8h-2.0zM147.8 308.9h2.0v1.8h-2.0zM140.2 310.8h2.0v1.8h-2.0zM138.0 314.2h2.0v1.8h-2.0zM146.2 314.3h2.0v1.8h-2.0zM146.2 316.3h2.0v1.8h-2.0zM127.8 318.2h2.0v1.8h-2.0zM129.9 317.8h2.0v1.8h-2.0zM133.9 319.9h2.0v1.8h-2.0zM144.1 319.8h2.0v1.8h-2.0z" fill="#87a5fa"/>
<path d="M155.7 288.5h2.2v2.0h-2.2zM158.0 288.5h2.2v2.0h-2.2zM160.0 290.3h2.2v2.0h-2.2z" fill="#8c8c28"/>
<path d="M159.6 288.5h2.2v2.0h-2.2zM155.3 290.6h2.2v2.0h-2.2zM157.5 290.4h2.2v2.0h-2.2z" fill="#a0501e"/>
<path d="M160.0 301.2h2.2v2.0h-2.2z" fill="#28e10a"/>
<path d="M161.9 301.5h2.2v2.0h-2.2zM164.5 301.1h2.2v2.0h-2.2zM166.6 301.5h2.2v2.0h-2.2zM160.2 303.5h2.2v2.0h-2.2zM162.2 303.2h2.2v2.0h-2.2zM164.5 303.3h2.2v2.0h-2.2zM166.3 303.0h2.2v2.0h-2.2z" fill="#8c8c28"/>
<path d="M176.0 302.2h2.2v2.0h-2.2zM180.6 301.8h2.2v2.0h-2.2zM189.4 301.8h2.2v2.0h-2.2zM176.1 304.0h2.2v2.0h-2.2zM178.0 304.2h2.2v2.0h-2.2zM180.6 303.8h2.2v2.0h-2.2zM189.3 304.1h2.2v2.0h-2.2zM195.8 303.8h2.2v2.0h-2.2zM176.2 306.2h2.2v2.0h-2.2zM178.3 306.2h2.2v2.0h-2.2zM184.6 305.9h2.2v2.0h-2.2zM187.0 305.8h2.2v2.0h-2.2zM191.6 306.0h2.2v2.0h-2.2zM176.0 308.1h2.2v2.0h-2.2zM178.3 308.0h2.2v2.0h-2.2zM186.9 308.0h2.2v2.0h-2.2zM191.2 308.0h2.2v2.0h-2.2zM195.8 307.8h2.2v2.0h-2.2zM176.2 309.9h2.2v2.0h-2.2zM178.4 310.0h2.2v2.0h-2.2zM180.3 310.1h2.2v2.0h-2.2zM182.5 310.2h2.2v2.0h-2.2zM191.6 310.0h2.2v2.0h-2.2zM193.8 309.8h2.2v2.0h-2.2zM182.4 312.0h2.2v2.0h-2.2zM195.9 311.9h2.2v2.0h-2.2zM178.4 314.2h2.2v2.0h-2.2zM182.6 313.9h2.2v2.0h-2.2zM195.9 313.9h2.2v2.0h-2.2zM180.4 316.1h2.2v2.0h-2.2zM182.5 315.8h2.2v2.0h-2.2zM184.7 316.0h2.2v2.0h-2.2zM187.1 316.0h2.2v2.0h-2.2zM189.4 316.0h2.2v2.0h-2.2zM196.0 316.1h2.2v2.0h-2.2zM175.9 318.2h2.2v2.0h-2.2zM178.0 317.9h2.2v2.0h-2.2zM180.4 318.2h2.2v2.0h-2.2zM182.7 318.0h2.2v2.0h-2.2zM189.0 317.8h2.2v2.0h-2.2z" fill="#c8f5fa"/>
<path d="M178.1 302.1h2.2v2.0h-2.2zM184.7 302.2h2.2v2.0h-2.2zM187.1 302.2h2.2v2.0h-2.2zM191.6 301.9h2.2v2.0h-2.2zM196.0 301.9h2.2v2.0h-2.2zM184.7 304.1h2.2v2.0h-2.2zM186.9 303.9h2.2v2.0h-2.2zM193.6 305.9h2.2v2.0h-2.2zM195.7 305.9h2.2v2.0h-2.2zM184.9 309.9h2.2v2.0h-2.2zM189.0 309.9h2.2v2.0h-2.2zM196.0 310.2h2.2v2.0h-2.2zM176.2 311.8h2.2v2.0h-2.2zM184.8 312.2h2.2v2.0h-2.2zM193.7 311.9h2.2v2.0h-2.2zM180.3 313.8h2.2v2.0h-2.2zM193.8 314.1h2.2v2.0h-2.2zM178.4 316.1h2.2v2.0h-2.2zM184.6 318.1h2.2v2.0h-2.2zM193.8 317.8h2.2v2.0h-2.2z" fill="#e6f5fc"/>
<path d="M178.8 305.3h2.2v2.0h-2.2zM181.5 305.4h2.2v2.0h-2.2zM183.5 305.5h2.2v2.0h-2.2zM179.3 307.3h2.2v2.0h-2.2zM181.5 309.5h2.2v2.0h-2.2z" fill="#5ad714"/>
<path d="M181.0 307.8h2.2v2.0h-2.2zM183.3 307.6h2.2v2.0h-2.2zM179.0 309.5h2.2v2.0h-2.2zM183.4 309.2h2.2v2.0h-2.2z" fill="#8c8c28"/>
<path d="M183.4 311.3h2.2v2.0h-2.2zM188.3 311.3h2.2v2.0h-2.2zM181.5 313.4h2.2v2.0h-2.2zM192.7 313.3h2.2v2.0h-2.2zM183.8 315.5h2.2v2.0h-2.2zM186.1 315.3h2.2v2.0h-2.2zM192.4 315.2h2.2v2.0h-2.2z" fill="#8c64c8"/>
<path d="M185.9 311.5h2.2v2.0h-2.2zM190.3 311.3h2.2v2.0h-2.2zM183.5 313.5h2.2v2.0h-2.2zM185.8 313.2h2.2v2.0h-2.2zM188.3 313.3h2.2v2.0h-2.2zM190.3 313.1h2.2v2.0h-2.2zM181.7 315.5h2.2v2.0h-2.2zM183.9 317.2h2.2v2.0h-2.2zM188.3 317.1h2.2v2.0h-2.2z" fill="#8287f5"/>
<path d="M188.0 315.3h2.2v2.0h-2.2zM190.6 315.2h2.2v2.0h-2.2z" fill="#1e41f5"/>
<path d="M185.1 313.2h2.2v2.0h-2.2zM187.0 317.2h2.2v2.0h-2.2z" fill="#a0501e"/>
<path d="M187.5 313.4h2.2v2.0h-2.2zM185.0 315.2h2.2v2.0h-2.2zM187.3 315.2h2.2v2.0h-2.2zM189.6 315.5h2.2v2.0h-2.2z" fill="#8c8c28"/>
<path d="M189.2 313.4h2.2v2.0h-2.2z" fill="#967828"/>
<path d="M189.0 303.2h2.2v2.0h-2.2zM193.2 304.7h2.2v2.0h-2.2zM188.9 307.3h2.2v2.0h-2.2z" fill="#5ad714"/>
<path d="M188.9 305.2h2.2v2.0h-2.2zM193.3 307.0h2.2v2.0h-2.2z" fill="#1e41f5"/>
<path d="M190.9 304.9h2.2v2.0h-2.2z" fill="#28e10a"/>
<path d="M182.6 287.1h2.2v2.0h-2.2zM189.3 287.0h2.2v2.0h-2.2zM182.3 289.0h2.2v2.0h-2.2zM184.5 289.2h2.2v2.0h-2.2zM189.0 289.0h2.2v2.0h-2.2z" fill="#1e41f5"/>
<path d="M184.4 286.9h2.2v2.0h-2.2zM186.9 286.8h2.2v2.0h-2.2z" fill="#28e10a"/>
<path d="M207.1 293.5h2.2v2.0h-2.2zM209.1 293.6h2.2v2.0h-2.2zM211.5 295.8h2.2v2.0h-2.2z" fill="#28e10a"/>
<path d="M211.4 293.6h2.2v2.0h-2.2z" fill="#c8f5fa"/>
<path d="M207.1 295.3h2.2v2.0h-2.2zM209.1 295.4h2.2v2.0h-2.2zM213.6 295.5h2.2v2.0h-2.2zM209.4 297.7h2.2v2.0h-2.2zM211.2 297.7h2.2v2.0h-2.2z" fill="#1e41f5"/>
<path d="M223.5 311.5h8.5v8.0h-8.5z" fill="#e6410a"/>
<path d="M225.0 313.0h5.0v4.0h-5.0z" fill="#c8230a"/>
<path d="M221.0 319.5h12.5v2.5h-12.5z" fill="#5ad714"/>
<path d="M230.5 307.5h4.0v12.0h-4.0z" fill="#28e10a"/>
<path d="M221.0 317.0h2.5v4.0h-2.5z" fill="#1e41f5"/>
</g>
<path d="M28.57 324.41 L28.38 323 L27.04 319.47 L25.51 316.64 L23.6 313.81 L22.84 312.4 M42.14 324.41 L42.14 321.94 L42.34 319.47 L41.95 316.64 L43.1 313.81 L43.87 310.98 L43.1 308.16 L43.1 305.33 L43.87 302.85 L46.16 302.5 L47.31 301.09 L49.22 300.38 L51.51 299.32 L51.89 297.55 L55.34 295.79 L58.4 293.67 L61.45 290.48 L63.75 288.72 L66.42 288.01 L67.57 286.6 L69.1 284.83 L69.87 282.36 L72.54 281.65 L74.07 282 L75.98 282 L77.51 281.3 L80.19 280.59 L82.1 281.3 L83.63 279.53 L85.54 278.47 L87.84 279.53 L88.22 282.36 L89.75 285.18 L92.04 287.3 L94.72 289.78 L95.87 291.9 L98.16 294.73 L98.16 297.55 L97.01 301.44 L98.93 302.15 L101.6 302.5 L103.9 300.73 L105.81 299.67 L107.72 298.26 L109.25 299.32 L110.01 301.09 L110.4 303.91 L111.93 307.1 L112.31 310.63 L113.84 314.16 L113.84 317.35 L114.22 320.17 L113.84 323 L113.46 324.41 M115.37 324.41 L115.75 323 L116.13 321.23 L116.9 319.47 L117.66 317.7 L118.43 315.22 L119.19 313.46 L119 311.34 L119.96 310.63 L121.49 310.63 L122.63 310.98 L122.63 313.46 L124.54 313.81 L126.84 315.22 L129.13 316.99 L130.66 318.41 L131.43 320.17 L132.96 321.23 L135.25 321.23 L136.4 321.59 L137.54 322.65 L137.74 324.41 M143.66 324.41 L144.43 323 L145.96 321.59 L147.87 320.88 L149.78 319.82 L152.07 318.76 L153.6 317.7 L154.37 315.22 L154.75 313.1 L154.75 310.28 L153.6 307.1 L152.84 304.27 L150.93 302.15 L149.02 300.73 L146.72 298.61 L144.43 296.49 L142.9 294.73 L141.37 292.61 L140.99 290.48 L141.75 288.72 L143.28 286.95 L144.81 285.18 L146.72 284.12 L149.02 282.36 L151.69 282 L153.6 282.36 L156.28 282.71 L156.66 284.12 L156.28 285.89 L157.04 286.6 L158.57 286.6 L159.34 285.54 L158.96 283.42 L160.87 282.71 L163.55 282 L166.22 281.3 L168.52 280.59 L170.81 279.88 L171.96 278.82 L173.49 279.53 L175.78 278.47 L178.46 277.76 L181.52 277.41 L183.43 275.99 L186.1 274.23 L188.02 272.46 L190.31 271.4 L191.46 269.63 L193.37 268.57 L194.13 266.8 L194.52 264.68 L196.43 263.62 L197.19 261.86 L198.72 259.74 L200.25 257.97 L201.78 256.56 L202.93 254.43 L202.93 252.67 L201.02 251.96 L199.49 250.9 L201.78 249.49 L202.93 248.43 L202.55 246.66 L200.63 245.25 L199.1 243.13 L197.96 240.65 L196.81 237.47 L194.9 236.41 L192.99 235.35 L193.75 232.88 L195.66 231.46 L197.58 230.4 L199.49 228.99 L202.16 227.93 L205.22 227.57 L205.22 226.16 L203.31 225.81 L201.02 225.45 L198.72 224.75 L196.81 225.45 L194.52 226.87 L192.22 226.87 L191.46 225.45 L191.46 224.04 L189.16 222.98 L186.87 221.92 L186.49 220.51 L188.02 219.8 L190.31 220.15 L192.6 219.09 L193.75 217.32 L195.66 216.26 L197.96 215.2 L199.49 213.79 L201.78 213.79 L204.08 215.2 L202.93 216.97 L201.78 218.39 L200.63 219.09 L200.25 220.86 L201.78 221.21 L202.55 220.15 L204.46 219.09 L207.13 218.03 L209.43 217.68 L212.11 217.32 L214.4 218.03 L215.93 218.74 L216.31 220.51 L214.78 221.92 L215.93 224.04 L218.61 225.1 L220.52 225.45 L221.28 226.87 L220.52 228.28 L220.52 229.69 L220.9 231.46 L220.13 233.58 L219.75 235.7 L220.52 236.76 L222.43 236.06 L224.72 235.7 L227.4 235 L229.69 234.29 L231.22 233.58 L231.99 231.82 L231.99 229.34 L231.61 227.22 L230.08 225.1 L228.55 222.98 L227.02 221.21 L225.49 220.15 L224.34 218.74 L225.11 217.68 L227.4 216.97 L230.08 215.2 L232.75 214.14 L233.14 212.38 L233.52 210.61 L233.9 208.84 L235.43 207.78 M152.07 290.84 L152.46 292.96 L154.37 293.67 L155.9 294.02 L157.81 293.31 L159.34 291.9 L160.87 289.07 L161.25 288.36 L159.72 287.3 L158.19 287.3 L156.28 287.66 L154.75 288.01 L153.22 289.07 L152.07 290.84 M196.05 277.05 L196.81 278.82 L198.34 280.59 L199.1 280.59 L199.1 279.17 L200.25 277.76 L201.4 275.64 L201.78 273.52 L202.93 271.4 L202.93 269.99 L201.4 268.93 L199.49 269.99 L198.34 271.4 L196.81 273.52 L196.05 275.29 L196.05 277.05 M197.96 292.96 L199.49 292.61 L201.4 293.31 L204.08 292.96 L204.46 295.08 L204.08 297.55 L205.22 299.67 L203.31 301.09 L201.78 302.15 L201.78 304.27 L201.4 306.74 L202.55 308.16 L204.46 308.51 L205.99 307.8 L207.52 308.86 L209.05 309.92 L210.58 309.92 L211.34 312.4 L210.58 313.81 L209.05 312.4 L207.9 311.69 L205.61 311.34 L204.84 310.28 L202.93 309.57 L201.4 309.92 L199.49 309.92 L198.34 308.16 L197.96 307.1 L199.1 306.74 L197.58 306.04 L196.81 306.74 L196.05 305.33 L195.28 303.56 L194.9 301.09 L196.43 301.09 L197.19 299.67 L197.19 296.49 L197.96 292.96 M197.19 310.63 L200.25 310.98 L201.4 312.75 L200.63 314.87 L199.49 315.22 L198.72 313.46 L197.19 310.63 M202.93 316.28 L205.61 317.35 L207.52 319.11 L205.99 321.23 L203.69 320.88 L203.31 318.41 L202.93 316.28 M206.75 319.82 L208.66 321.23 L208.28 324.41 L205.22 324.41 L204.84 321.59 L206.75 319.82 M212.11 314.16 L214.78 314.16 L217.46 319.11 L215.55 319.47 L214.4 318.05 L212.49 315.93 L212.11 314.16 M212.11 317.7 L214.4 318.41 L215.16 321.59 L214.02 324.41 L212.87 323 L212.11 317.7 M210.58 318.76 L211.34 320.17 L209.43 324.41 L208.28 324.41 L210.58 318.76 M207.9 314.52 L210.19 315.22 L211.34 314.16 L209.43 313.81 L207.9 314.52 M190.31 324.41 L192.99 321.23 L194.13 318.76 L195.28 318.41 L193.75 320.88 L191.84 324.41 M219.37 240.3 L220.9 239.77 L222.24 240.12 L220.9 241 L219.37 240.65 L219.37 240.3 M235.43 239.24 L233.9 239.59 L232.75 240.65 L233.52 242.06 L233.14 243.13 L234.66 243.83 L234.28 245.25 L235.05 247.72 L235.81 248.78 M231.22 236.06 L231.8 236.06 L231.41 237.47 L230.84 237.12 L231.22 236.06" fill="none" stroke="#7a7a7a" stroke-width="0.7" stroke-linejoin="round"/>
</g>
<path d="M42.72 323 V327.3 M42.72 199.3 V195 M119.19 323 V327.3 M119.19 199.3 V195 M195.66 323 V327.3 M195.66 199.3 V195 M23.6 323 H19.3 M233.9 323 H238.2 M23.6 287.66 H19.3 M233.9 287.66 H238.2 M23.6 252.31 H19.3 M233.9 252.31 H238.2 M23.6 216.97 H19.3 M233.9 216.97 H238.2" stroke="#444" stroke-width="1" fill="none"/>
<path d="M23.6 323 V325 M23.6 199.3 V197.3 M61.84 323 V325 M61.84 199.3 V197.3 M80.95 323 V325 M80.95 199.3 V197.3 M100.07 323 V325 M100.07 199.3 V197.3 M138.31 323 V325 M138.31 199.3 V197.3 M157.43 323 V325 M157.43 199.3 V197.3 M176.55 323 V325 M176.55 199.3 V197.3 M214.78 323 V325 M214.78 199.3 V197.3 M233.9 323 V325 M233.9 199.3 V197.3 M23.6 315.93 H21.6 M233.9 315.93 H235.9 M23.6 308.86 H21.6 M233.9 308.86 H235.9 M23.6 301.79 H21.6 M233.9 301.79 H235.9 M23.6 294.73 H21.6 M233.9 294.73 H235.9 M23.6 280.59 H21.6 M233.9 280.59 H235.9 M23.6 273.52 H21.6 M233.9 273.52 H235.9 M23.6 266.45 H21.6 M233.9 266.45 H235.9 M23.6 259.38 H21.6 M233.9 259.38 H235.9 M23.6 245.25 H21.6 M233.9 245.25 H235.9 M23.6 238.18 H21.6 M233.9 238.18 H235.9 M23.6 231.11 H21.6 M233.9 231.11 H235.9 M23.6 224.04 H21.6 M233.9 224.04 H235.9 M23.6 209.9 H21.6 M233.9 209.9 H235.9 M23.6 202.83 H21.6 M233.9 202.83 H235.9" stroke="#8a8a8a" stroke-width="0.8" fill="none"/>
<rect x="23.6" y="199.3" width="210.3" height="123.7" fill="none" stroke="#4a4a4a" stroke-width="1"/>
<rect x="32" y="336.3" width="65.75" height="17.2" fill="#fdeefa"/>
<rect x="97.75" y="336.3" width="61.75" height="17.2" fill="#ecfcfc"/>
<rect x="36" y="340.3" width="15.74" height="10.2" fill="#c42c14"/>
<rect x="51.44" y="340.3" width="15.74" height="10.2" fill="#ee7614"/>
<rect x="66.87" y="340.3" width="15.74" height="10.2" fill="#eebb0c"/>
<rect x="82.31" y="340.3" width="15.74" height="10.2" fill="#fff500"/>
<rect x="97.75" y="340.3" width="15.74" height="10.2" fill="#5ad714"/>
<rect x="113.18" y="340.3" width="15.74" height="10.2" fill="#28e10a"/>
<rect x="128.62" y="340.3" width="15.74" height="10.2" fill="#19878c"/>
<rect x="144.05" y="340.3" width="15.74" height="10.2" fill="#1e41f5"/>
<rect x="159.49" y="340.3" width="15.74" height="10.2" fill="#8287f5"/>
<rect x="174.93" y="340.3" width="15.74" height="10.2" fill="#87a5fa"/>
<rect x="190.36" y="340.3" width="15.74" height="10.2" fill="#cdd7fa"/>
<clipPath id="clipc"><rect x="23.5" y="382.7" width="210.6" height="123.9"/></clipPath>
<g clip-path="url(#clipc)">
<g filter="url(#bl)">
<path d="M221.4 382.8h3.6v1.6h-3.6zM223.5 384.3h2.7v1.6h-2.7zM25.3 385.8h1.8v1.6h-1.8zM131.7 389.2h1.8v1.6h-1.8zM84.9 394.0h2.7v1.6h-2.7zM187.2 393.7h1.8v1.6h-1.8zM115.2 395.7h1.8v1.6h-1.8zM198.3 395.3h1.8v1.6h-1.8zM179.9 397.2h3.6v1.6h-3.6zM216.1 402.1h1.8v1.6h-1.8zM65.1 403.6h3.6v1.6h-3.6zM140.5 406.9h1.8v1.6h-1.8zM56.1 408.2h2.7v1.6h-2.7zM57.7 414.6h3.6v1.6h-3.6zM23.5 418.0h3.6v1.6h-3.6zM48.9 418.1h1.8v1.6h-1.8zM158.3 419.6h3.6v1.6h-3.6zM95.4 424.3h1.8v1.6h-1.8zM63.2 425.8h2.7v1.6h-2.7zM34.3 427.7h1.8v1.6h-1.8zM36.0 427.5h3.6v1.6h-3.6zM162.3 427.3h3.6v1.6h-3.6zM228.6 427.6h1.8v1.6h-1.8zM34.5 430.6h1.8v1.6h-1.8zM82.7 432.2h1.8v1.6h-1.8zM92.0 432.2h1.8v1.6h-1.8zM124.5 434.1h3.6v1.6h-3.6zM71.9 435.3h2.7v1.6h-2.7zM217.8 435.6h2.7v1.6h-2.7zM104.3 437.2h2.7v1.6h-2.7zM207.2 437.3h3.6v1.6h-3.6zM129.7 438.9h2.7v1.6h-2.7zM183.7 438.9h2.7v1.6h-2.7zM212.4 438.6h2.7v1.6h-2.7zM99.2 440.4h3.6v1.6h-3.6zM54.0 445.1h2.7v1.6h-2.7zM61.3 446.6h3.6v1.6h-3.6zM122.7 446.6h2.7v1.6h-2.7zM129.7 446.7h3.6v1.6h-3.6zM230.4 449.7h1.8v1.6h-1.8zM23.3 451.7h2.7v1.6h-2.7zM64.9 451.5h1.8v1.6h-1.8zM163.7 451.7h1.8v1.6h-1.8zM230.6 451.5h3.6v1.6h-3.6zM99.1 461.1h3.6v1.6h-3.6zM142.3 462.9h1.8v1.6h-1.8zM189.1 462.5h3.6v1.6h-3.6zM95.3 464.3h2.7v1.6h-2.7zM100.7 465.9h3.6v1.6h-3.6zM38.0 467.3h1.8v1.6h-1.8zM45.0 467.3h3.6v1.6h-3.6zM225.0 470.8h3.6v1.6h-3.6zM61.1 472.2h3.6v1.6h-3.6zM77.3 472.5h3.6v1.6h-3.6zM135.0 478.8h2.7v1.6h-2.7zM66.7 480.5h1.8v1.6h-1.8zM129.8 480.5h3.6v1.6h-3.6zM143.9 480.4h2.7v1.6h-2.7zM155.0 480.2h2.7v1.6h-2.7zM28.7 482.0h1.8v1.6h-1.8zM199.7 484.9h2.7v1.6h-2.7zM99.1 486.7h3.6v1.6h-3.6zM109.9 486.5h3.6v1.6h-3.6zM90.3 489.7h1.8v1.6h-1.8zM149.5 490.0h1.8v1.6h-1.8zM72.0 501.3h2.7v1.6h-2.7z" fill="#c8f5fa"/>
<path d="M52.3 386.0h1.8v1.6h-1.8zM187.2 387.5h3.6v1.6h-3.6zM203.6 389.0h3.6v1.6h-3.6zM32.4 390.5h2.7v1.6h-2.7zM37.7 390.5h2.7v1.6h-2.7zM68.4 390.6h1.8v1.6h-1.8zM226.7 400.4h1.8v1.6h-1.8zM66.6 403.3h3.6v1.6h-3.6zM30.6 406.7h1.8v1.6h-1.8zM41.6 406.7h3.6v1.6h-3.6zM117.0 406.9h3.6v1.6h-3.6zM41.3 408.2h3.6v1.6h-3.6zM59.4 408.2h1.8v1.6h-1.8zM129.7 408.2h3.6v1.6h-3.6zM154.7 411.6h3.6v1.6h-3.6zM183.8 413.2h2.7v1.6h-2.7zM176.5 416.4h2.7v1.6h-2.7zM172.7 419.5h2.7v1.6h-2.7zM57.9 421.0h1.8v1.6h-1.8zM119.0 421.1h3.6v1.6h-3.6zM137.1 421.1h2.7v1.6h-2.7zM68.6 424.3h2.7v1.6h-2.7zM163.9 424.2h1.8v1.6h-1.8zM180.0 429.2h1.8v1.6h-1.8zM48.6 430.7h2.7v1.6h-2.7zM230.7 430.5h1.8v1.6h-1.8zM133.5 438.7h2.7v1.6h-2.7zM178.1 440.5h3.6v1.6h-3.6zM115.3 441.9h1.8v1.6h-1.8zM171.2 445.3h1.8v1.6h-1.8zM27.1 448.5h2.7v1.6h-2.7zM129.9 457.7h2.7v1.6h-2.7zM124.1 459.6h2.7v1.6h-2.7zM191.0 459.6h3.6v1.6h-3.6zM216.2 467.6h2.7v1.6h-2.7zM219.8 469.3h1.8v1.6h-1.8zM93.9 472.3h2.7v1.6h-2.7zM131.3 474.1h2.7v1.6h-2.7zM99.0 481.9h3.6v1.6h-3.6zM142.4 482.0h3.6v1.6h-3.6zM216.0 485.1h3.6v1.6h-3.6zM219.5 491.7h2.7v1.6h-2.7zM50.3 494.9h3.6v1.6h-3.6zM187.3 496.2h2.7v1.6h-2.7zM176.3 499.6h2.7v1.6h-2.7zM72.0 504.1h2.7v1.6h-2.7z" fill="#dcdcfa"/>
<path d="M38.5 390.9h3.0v1.5h-3.0z" fill="#555"/>
<path d="M54.0 386.6h2.0v1.5h-2.0z" fill="#888"/>
<path d="M39.0 429.8h2.4v2.2h-2.4zM31.6 432.0h2.4v2.2h-2.4zM38.8 432.4h2.4v2.2h-2.4zM50.6 432.1h2.4v2.2h-2.4zM36.6 434.5h2.4v2.2h-2.4zM43.5 434.6h2.4v2.2h-2.4zM21.8 436.4h2.4v2.2h-2.4zM41.3 436.5h2.4v2.2h-2.4zM36.4 438.6h2.4v2.2h-2.4zM29.2 443.2h2.4v2.2h-2.4zM48.3 443.2h2.4v2.2h-2.4zM21.9 445.3h2.4v2.2h-2.4zM38.9 445.6h2.4v2.2h-2.4zM41.2 445.6h2.4v2.2h-2.4zM48.6 445.3h2.4v2.2h-2.4zM31.5 447.7h2.4v2.2h-2.4zM33.9 447.4h2.4v2.2h-2.4zM41.0 447.4h2.4v2.2h-2.4zM48.4 447.4h2.4v2.2h-2.4zM53.3 447.4h2.4v2.2h-2.4zM22.0 451.8h2.4v2.2h-2.4zM43.8 451.9h2.4v2.2h-2.4zM36.3 454.1h2.4v2.2h-2.4zM46.1 454.3h2.4v2.2h-2.4zM48.6 454.0h2.4v2.2h-2.4zM53.3 454.2h2.4v2.2h-2.4zM26.6 456.4h2.4v2.2h-2.4zM31.4 456.4h2.4v2.2h-2.4zM34.1 456.3h2.4v2.2h-2.4zM45.9 456.4h2.4v2.2h-2.4zM26.6 458.4h2.4v2.2h-2.4zM43.6 458.6h2.4v2.2h-2.4zM48.5 458.6h2.4v2.2h-2.4zM50.6 458.6h2.4v2.2h-2.4zM36.2 461.0h2.4v2.2h-2.4zM43.8 460.8h2.4v2.2h-2.4zM48.5 460.6h2.4v2.2h-2.4zM29.0 462.8h2.4v2.2h-2.4zM46.2 462.9h2.4v2.2h-2.4z" fill="#c8f5fa"/>
<path d="M50.9 429.9h2.4v2.2h-2.4zM26.9 432.1h2.4v2.2h-2.4zM33.8 432.0h2.4v2.2h-2.4zM46.0 432.3h2.4v2.2h-2.4zM22.2 434.3h2.4v2.2h-2.4zM24.2 434.6h2.4v2.2h-2.4zM34.1 434.5h2.4v2.2h-2.4zM24.4 436.4h2.4v2.2h-2.4zM43.7 436.6h2.4v2.2h-2.4zM53.2 436.4h2.4v2.2h-2.4zM22.1 438.6h2.4v2.2h-2.4zM33.8 438.7h2.4v2.2h-2.4zM43.6 438.7h2.4v2.2h-2.4zM21.8 441.2h2.4v2.2h-2.4zM24.2 441.2h2.4v2.2h-2.4zM29.0 440.8h2.4v2.2h-2.4zM31.7 441.2h2.4v2.2h-2.4zM34.2 441.1h2.4v2.2h-2.4zM36.3 441.1h2.4v2.2h-2.4zM43.8 440.8h2.4v2.2h-2.4zM48.4 440.8h2.4v2.2h-2.4zM34.0 443.3h2.4v2.2h-2.4zM43.4 443.1h2.4v2.2h-2.4zM53.2 443.2h2.4v2.2h-2.4zM26.6 445.2h2.4v2.2h-2.4zM45.8 445.2h2.4v2.2h-2.4zM22.1 447.8h2.4v2.2h-2.4zM26.9 447.6h2.4v2.2h-2.4zM36.3 447.7h2.4v2.2h-2.4zM43.4 447.6h2.4v2.2h-2.4zM46.1 447.5h2.4v2.2h-2.4zM51.0 447.8h2.4v2.2h-2.4zM29.2 449.7h2.4v2.2h-2.4zM31.5 449.8h2.4v2.2h-2.4zM33.8 449.6h2.4v2.2h-2.4zM48.2 449.7h2.4v2.2h-2.4zM24.2 452.1h2.4v2.2h-2.4zM31.6 452.2h2.4v2.2h-2.4zM41.3 452.1h2.4v2.2h-2.4zM46.1 452.1h2.4v2.2h-2.4zM53.4 451.8h2.4v2.2h-2.4zM24.2 454.4h2.4v2.2h-2.4zM27.0 454.0h2.4v2.2h-2.4zM41.1 454.1h2.4v2.2h-2.4zM50.7 454.2h2.4v2.2h-2.4zM36.6 456.6h2.4v2.2h-2.4zM41.4 456.6h2.4v2.2h-2.4zM36.2 458.6h2.4v2.2h-2.4zM22.1 460.9h2.4v2.2h-2.4zM26.9 460.7h2.4v2.2h-2.4zM29.3 461.0h2.4v2.2h-2.4zM41.3 460.9h2.4v2.2h-2.4zM50.8 460.7h2.4v2.2h-2.4zM21.9 462.8h2.4v2.2h-2.4zM36.6 462.9h2.4v2.2h-2.4zM43.4 463.2h2.4v2.2h-2.4zM53.0 462.8h2.4v2.2h-2.4z" fill="#e6f5fc"/>
<path d="M72.3 412.0h2.4v2.2h-2.4zM77.0 412.2h2.4v2.2h-2.4zM72.5 421.0h2.4v2.2h-2.4zM79.4 420.6h2.4v2.2h-2.4z" fill="#c8f5fa"/>
<path d="M75.0 411.8h2.4v2.2h-2.4zM82.0 412.1h2.4v2.2h-2.4zM70.0 414.4h2.4v2.2h-2.4zM72.4 414.4h2.4v2.2h-2.4zM74.9 414.3h2.4v2.2h-2.4zM79.7 414.4h2.4v2.2h-2.4zM84.6 414.1h2.4v2.2h-2.4zM70.2 416.5h2.4v2.2h-2.4zM74.7 416.6h2.4v2.2h-2.4zM77.2 416.5h2.4v2.2h-2.4zM81.8 416.6h2.4v2.2h-2.4zM70.0 418.6h2.4v2.2h-2.4zM72.6 418.7h2.4v2.2h-2.4zM77.3 418.5h2.4v2.2h-2.4zM79.6 418.4h2.4v2.2h-2.4zM82.1 418.6h2.4v2.2h-2.4zM69.8 420.6h2.4v2.2h-2.4zM74.6 421.0h2.4v2.2h-2.4zM77.2 420.8h2.4v2.2h-2.4zM82.1 420.6h2.4v2.2h-2.4z" fill="#e6f5fc"/>
<path d="M75.3 414.8h2.2v2.0h-2.2zM75.3 419.3h2.2v2.0h-2.2z" fill="#2832a0"/>
<path d="M77.6 415.3h2.2v2.0h-2.2zM79.3 415.1h2.2v2.0h-2.2zM75.2 417.0h2.2v2.0h-2.2zM77.3 416.9h2.2v2.0h-2.2zM79.6 419.0h2.2v2.0h-2.2zM81.9 419.1h2.2v2.0h-2.2z" fill="#1e41f5"/>
<path d="M81.6 414.7h2.2v2.0h-2.2zM72.9 416.7h2.2v2.0h-2.2zM82.1 416.9h2.2v2.0h-2.2zM77.5 418.8h2.2v2.0h-2.2z" fill="#87a5fa"/>
<path d="M24.5 415.2h5.0v1.6h-5.0z" fill="#1e41f5"/>
<path d="M31.0 418.2h4.0v1.6h-4.0z" fill="#1e41f5"/>
<path d="M37.5 416.2h5.0v1.6h-5.0z" fill="#1e41f5"/>
<path d="M27.0 423.2h4.0v1.6h-4.0z" fill="#8287f5"/>
<path d="M34.5 425.2h5.0v1.6h-5.0z" fill="#1e41f5"/>
<path d="M43.0 422.2h4.0v1.6h-4.0z" fill="#8287f5"/>
<path d="M49.5 424.7h5.0v1.6h-5.0z" fill="#1e41f5"/>
<path d="M24.5 429.2h3.0v1.6h-3.0z" fill="#8287f5"/>
<path d="M32.0 431.2h4.0v1.6h-4.0z" fill="#1e41f5"/>
<path d="M44.5 433.2h5.0v1.6h-5.0z" fill="#1e41f5"/>
<path d="M53.0 435.2h6.0v1.6h-6.0z" fill="#8287f5"/>
<path d="M61.0 436.2h6.0v1.6h-6.0z" fill="#8287f5"/>
<path d="M70.0 435.2h4.0v1.6h-4.0z" fill="#1e41f5"/>
<path d="M43.5 439.2h3.0v1.6h-3.0z" fill="#1e41f5"/>
<path d="M56.0 440.2h4.0v1.6h-4.0z" fill="#1e41f5"/>
<path d="M75.5 440.7h5.0v1.6h-5.0z" fill="#1e41f5"/>
<path d="M60.5 430.2h3.0v1.6h-3.0z" fill="#1e41f5"/>
<path d="M67.5 427.2h3.0v1.6h-3.0z" fill="#1e41f5"/>
<path d="M28.0 411.2h4.0v1.6h-4.0z" fill="#1e41f5"/>
<path d="M46.5 411.2h3.0v1.6h-3.0z" fill="#1e41f5"/>
<path d="M36.5 436.2h3.0v1.6h-3.0z" fill="#1e41f5"/>
<path d="M27.0 435.4h2.2v2.0h-2.2zM29.2 435.5h2.2v2.0h-2.2z" fill="#5ad714"/>
<path d="M27.2 437.1h2.2v2.0h-2.2zM29.6 437.1h2.2v2.0h-2.2z" fill="#8c8c28"/>
<path d="M33.6 440.6h2.2v2.0h-2.2z" fill="#50641e"/>
<path d="M36.2 440.8h2.2v2.0h-2.2zM34.2 442.9h2.2v2.0h-2.2zM35.9 442.9h2.2v2.0h-2.2z" fill="#8c8c28"/>
<path d="M41.7 439.5h2.2v2.0h-2.2zM41.6 443.9h2.2v2.0h-2.2z" fill="#8c8c28"/>
<path d="M41.9 442.0h2.2v2.0h-2.2z" fill="#19878c"/>
<path d="M27.1 448.0h2.2v2.0h-2.2zM31.6 448.3h2.2v2.0h-2.2zM29.4 450.2h2.2v2.0h-2.2zM33.8 450.3h2.2v2.0h-2.2zM27.4 451.7h2.2v2.0h-2.2z" fill="#5ad714"/>
<path d="M29.7 447.9h2.2v2.0h-2.2zM31.4 450.1h2.2v2.0h-2.2z" fill="#50641e"/>
<path d="M29.3 451.8h2.2v2.0h-2.2zM31.5 452.1h2.2v2.0h-2.2z" fill="#8c8c28"/>
<path d="M40.6 456.7h2.2v2.0h-2.2zM42.7 459.1h2.2v2.0h-2.2z" fill="#8c8c28"/>
<path d="M43.0 457.2h2.2v2.0h-2.2zM40.6 459.0h2.2v2.0h-2.2z" fill="#50641e"/>
<path d="M50.2 458.3h2.2v2.0h-2.2zM52.0 458.7h2.2v2.0h-2.2z" fill="#19878c"/>
<path d="M49.8 460.2h2.2v2.0h-2.2z" fill="#1e41f5"/>
<path d="M46.4 447.2h2.2v2.0h-2.2zM46.5 453.0h2.2v2.0h-2.2zM46.4 454.9h2.2v2.0h-2.2z" fill="#8287f5"/>
<path d="M48.6 448.8h2.2v2.0h-2.2zM46.5 451.2h2.2v2.0h-2.2zM50.4 451.0h2.2v2.0h-2.2z" fill="#1e41f5"/>
<path d="M77.0 440.5h4.0v2.0h-4.0z" fill="#1e41f5"/>
<path d="M123.4 432.2h2.4v2.2h-2.4zM128.1 432.2h2.4v2.2h-2.4zM103.9 434.0h2.4v2.2h-2.4zM108.8 434.4h2.4v2.2h-2.4zM111.4 434.4h2.4v2.2h-2.4zM115.8 434.4h2.4v2.2h-2.4zM118.3 434.4h2.4v2.2h-2.4zM108.6 436.5h2.4v2.2h-2.4zM118.6 436.4h2.4v2.2h-2.4zM120.9 436.3h2.4v2.2h-2.4zM123.1 436.4h2.4v2.2h-2.4zM125.6 436.4h2.4v2.2h-2.4zM128.0 436.3h2.4v2.2h-2.4zM106.2 438.4h2.4v2.2h-2.4zM108.9 438.4h2.4v2.2h-2.4zM111.4 438.4h2.4v2.2h-2.4zM113.7 438.7h2.4v2.2h-2.4zM118.2 438.8h2.4v2.2h-2.4zM121.0 438.5h2.4v2.2h-2.4zM123.2 438.8h2.4v2.2h-2.4zM125.5 438.8h2.4v2.2h-2.4zM128.0 438.6h2.4v2.2h-2.4zM111.4 440.6h2.4v2.2h-2.4zM115.8 440.6h2.4v2.2h-2.4zM123.1 441.0h2.4v2.2h-2.4zM128.0 440.6h2.4v2.2h-2.4z" fill="#e6f5fc"/>
<path d="M106.0 435.2h4.0v1.6h-4.0z" fill="#1e41f5"/>
<path d="M111.5 436.2h5.0v1.6h-5.0z" fill="#1e41f5"/>
<path d="M118.0 434.2h4.0v1.6h-4.0z" fill="#8287f5"/>
<path d="M122.5 437.2h5.0v1.6h-5.0z" fill="#1e41f5"/>
<path d="M108.5 439.2h3.0v1.6h-3.0z" fill="#1e41f5"/>
<path d="M116.0 440.2h4.0v1.6h-4.0z" fill="#1e41f5"/>
<path d="M126.5 433.2h3.0v1.6h-3.0z" fill="#1e41f5"/>
<path d="M148.8 400.2h6.0v2.0h-6.0z" fill="#2832a0"/>
<path d="M153.0 393.8h6.0v1.5h-6.0z" fill="#87a5fa"/>
<path d="M184.5 401.0h5.0v2.0h-5.0z" fill="#1e41f5"/>
<path d="M185.4 409.7h3.0v2.0h-3.0z" fill="#1e41f5"/>
<path d="M129.7 432.0h3.0v2.0h-3.0z" fill="#1e41f5"/>
<path d="M138.7 423.6h2.0v2.0h-2.0z" fill="#1e41f5"/>
<path d="M145.0 426.9h4.0v1.5h-4.0z" fill="#2832a0"/>
<path d="M158.8 420.4h2.0v2.0h-2.0z" fill="#1e41f5"/>
<path d="M154.1 430.0h3.0v2.0h-3.0z" fill="#8287f5"/>
<path d="M160.0 434.6h2.0v2.0h-2.0z" fill="#8287f5"/>
<path d="M155.1 442.7h3.0v2.0h-3.0z" fill="#1e41f5"/>
<path d="M153.0 443.0h3.0v2.0h-3.0z" fill="#1e41f5"/>
<path d="M152.0 447.4h3.0v2.0h-3.0z" fill="#1e41f5"/>
<path d="M164.7 450.5h3.0v2.0h-3.0z" fill="#1e41f5"/>
<path d="M162.0 455.9h2.0v2.0h-2.0z" fill="#1e41f5"/>
<path d="M171.1 460.2h3.0v1.5h-3.0z" fill="#87a5fa"/>
<path d="M153.5 464.3h2.0v2.0h-2.0z" fill="#1e41f5"/>
<path d="M143.0 467.5h2.0v2.0h-2.0z" fill="#1e41f5"/>
<path d="M134.4 470.7h2.0v2.0h-2.0z" fill="#1e41f5"/>
<path d="M143.8 473.5h2.5v3.0h-2.5z" fill="#8c8c28"/>
<path d="M167.9 472.4h3.0v2.0h-3.0z" fill="#8c8c28"/>
<path d="M160.5 486.9h6.0v1.5h-6.0z" fill="#1e41f5"/>
<path d="M190.7 486.6h2.0v2.0h-2.0z" fill="#1e41f5"/>
<path d="M127.5 483.4h2.0v2.0h-2.0z" fill="#8c8c28"/>
<path d="M155.6 471.9h2.2v2.0h-2.2zM158.1 472.1h2.2v2.0h-2.2z" fill="#8c8c28"/>
<path d="M153.3 473.6h2.2v2.0h-2.2zM155.6 473.7h2.2v2.0h-2.2zM157.9 473.6h2.2v2.0h-2.2z" fill="#f0730a"/>
<path d="M160.1 473.6h2.2v2.0h-2.2z" fill="#a0501e"/>
<path d="M180.3 490.5h2.2v2.0h-2.2zM180.5 492.2h2.2v2.0h-2.2z" fill="#2832a0"/>
<path d="M182.9 490.5h2.2v2.0h-2.2z" fill="#8c8c28"/>
<path d="M182.9 492.7h2.2v2.0h-2.2z" fill="#19878c"/>
<path d="M184.3 498.0h2.2v2.0h-2.2zM184.0 500.1h2.2v2.0h-2.2z" fill="#87a5fa"/>
<path d="M186.0 498.3h2.2v2.0h-2.2zM188.2 497.8h2.2v2.0h-2.2zM186.1 500.2h2.2v2.0h-2.2zM188.2 500.1h2.2v2.0h-2.2z" fill="#1e41f5"/>
<path d="M184.5 495.8h2.4v2.2h-2.4zM186.6 496.1h2.4v2.2h-2.4zM189.2 496.2h2.4v2.2h-2.4zM191.5 495.9h2.4v2.2h-2.4zM182.1 498.1h2.4v2.2h-2.4zM186.8 498.2h2.4v2.2h-2.4zM189.4 498.1h2.4v2.2h-2.4zM184.6 500.3h2.4v2.2h-2.4zM189.2 500.5h2.4v2.2h-2.4z" fill="#c8f5fa"/>
<path d="M227.4 493.0h2.2v2.0h-2.2zM231.8 493.2h2.2v2.0h-2.2zM229.7 495.0h2.2v2.0h-2.2zM233.8 494.7h2.2v2.0h-2.2zM232.1 496.9h2.2v2.0h-2.2zM225.5 499.2h2.2v2.0h-2.2zM227.1 499.0h2.2v2.0h-2.2zM234.3 498.9h2.2v2.0h-2.2zM234.3 501.0h2.2v2.0h-2.2zM227.3 503.1h2.2v2.0h-2.2zM232.0 503.3h2.2v2.0h-2.2z" fill="#1e41f5"/>
<path d="M229.5 493.1h2.2v2.0h-2.2zM225.0 494.9h2.2v2.0h-2.2zM227.5 494.8h2.2v2.0h-2.2zM232.0 495.2h2.2v2.0h-2.2zM229.8 499.0h2.2v2.0h-2.2zM227.2 501.2h2.2v2.0h-2.2zM229.8 501.2h2.2v2.0h-2.2z" fill="#28e10a"/>
<path d="M222.7 495.0h2.2v2.0h-2.2zM229.8 496.9h2.2v2.0h-2.2zM233.8 497.0h2.2v2.0h-2.2zM222.9 499.1h2.2v2.0h-2.2zM222.7 501.1h2.2v2.0h-2.2zM225.2 501.3h2.2v2.0h-2.2zM231.9 501.1h2.2v2.0h-2.2zM229.6 502.8h2.2v2.0h-2.2z" fill="#c8f5fa"/>
<path d="M223.3 496.8h2.2v2.0h-2.2zM227.5 497.0h2.2v2.0h-2.2zM231.7 499.0h2.2v2.0h-2.2z" fill="#5ad714"/>
<path d="M30.2 440.9h2.2v2.0h-2.2zM32.2 440.7h2.2v2.0h-2.2zM30.5 442.9h2.2v2.0h-2.2zM30.3 444.9h2.2v2.0h-2.2zM32.4 444.9h2.2v2.0h-2.2z" fill="#8c8c28"/>
<path d="M36.7 443.2h2.2v2.0h-2.2zM37.1 445.2h2.2v2.0h-2.2z" fill="#5ad714"/>
<path d="M32.7 452.0h2.2v2.0h-2.2z" fill="#8c8c28"/>
<path d="M41.6 452.9h2.2v2.0h-2.2zM43.9 453.1h2.2v2.0h-2.2zM41.8 455.0h2.2v2.0h-2.2zM43.6 454.9h2.2v2.0h-2.2z" fill="#8c8c28"/>
<path d="M49.6 459.4h2.2v2.0h-2.2zM51.5 459.6h2.2v2.0h-2.2zM49.2 461.4h2.2v2.0h-2.2z" fill="#8c8c28"/>
<path d="M51.9 461.3h2.2v2.0h-2.2z" fill="#5ad714"/>
<path d="M48.0 476.9h2.2v2.0h-2.2zM52.2 476.8h2.2v2.0h-2.2zM48.3 479.2h2.2v2.0h-2.2zM52.5 478.9h2.2v2.0h-2.2z" fill="#8c8c28"/>
<path d="M50.4 477.0h2.2v2.0h-2.2zM50.2 479.2h2.2v2.0h-2.2z" fill="#5ad714"/>
<path d="M45.9 445.9h2.2v2.0h-2.2zM48.5 449.8h2.2v2.0h-2.2zM46.1 452.2h2.2v2.0h-2.2zM50.6 452.2h2.2v2.0h-2.2zM46.1 456.1h2.2v2.0h-2.2z" fill="#1e41f5"/>
<path d="M48.6 452.1h2.2v2.0h-2.2zM48.7 453.9h2.2v2.0h-2.2z" fill="#8287f5"/>
<path d="M44.2 461.1h2.2v2.0h-2.2zM46.4 464.9h2.2v2.0h-2.2z" fill="#8287f5"/>
<path d="M44.3 466.7h2.2v2.0h-2.2z" fill="#1e41f5"/>
<path d="M70.7 475.8h2.2v2.0h-2.2zM73.4 475.8h2.2v2.0h-2.2zM75.1 475.8h2.2v2.0h-2.2zM73.5 477.5h2.2v2.0h-2.2zM75.5 477.8h2.2v2.0h-2.2z" fill="#a0501e"/>
<path d="M62.0 489.8h5.0v2.0h-5.0z" fill="#1e41f5"/>
<path d="M70.0 488.7h8.0v2.0h-8.0z" fill="#1e41f5"/>
<path d="M92.0 490.8h5.0v2.5h-5.0z" fill="#1e41f5"/>
<path d="M83.0 479.2h8.0v1.5h-8.0z" fill="#8287f5"/>
<path d="M69.0 497.6h8.0v1.5h-8.0z" fill="#8287f5"/>
<path d="M84.0 484.0h2.0v2.0h-2.0z" fill="#8287f5"/>
<path d="M126.0 483.4h3.0v2.5h-3.0z" fill="#8c8c28"/>
<path d="M59.0 483.0h2.0v2.0h-2.0z" fill="#8287f5"/>
<path d="M60.2 483.8h2.4v2.2h-2.4zM65.3 483.9h2.4v2.2h-2.4zM67.5 484.1h2.4v2.2h-2.4zM69.8 483.8h2.4v2.2h-2.4zM74.9 483.8h2.4v2.2h-2.4zM77.2 484.2h2.4v2.2h-2.4zM79.6 484.2h2.4v2.2h-2.4zM60.5 486.4h2.4v2.2h-2.4zM70.1 486.2h2.4v2.2h-2.4zM72.6 486.4h2.4v2.2h-2.4zM77.4 486.1h2.4v2.2h-2.4zM79.4 486.2h2.4v2.2h-2.4zM60.2 488.2h2.4v2.2h-2.4zM65.0 488.6h2.4v2.2h-2.4zM70.2 488.3h2.4v2.2h-2.4zM74.6 488.5h2.4v2.2h-2.4zM77.3 488.5h2.4v2.2h-2.4zM65.2 490.7h2.4v2.2h-2.4zM67.8 490.5h2.4v2.2h-2.4zM69.8 490.4h2.4v2.2h-2.4zM62.7 492.7h2.4v2.2h-2.4zM65.4 492.9h2.4v2.2h-2.4zM67.4 492.8h2.4v2.2h-2.4zM75.0 493.0h2.4v2.2h-2.4zM77.3 492.8h2.4v2.2h-2.4zM60.4 495.2h2.4v2.2h-2.4zM62.8 494.8h2.4v2.2h-2.4zM65.3 495.2h2.4v2.2h-2.4zM70.1 494.9h2.4v2.2h-2.4zM65.1 497.4h2.4v2.2h-2.4zM69.8 497.1h2.4v2.2h-2.4zM72.4 497.0h2.4v2.2h-2.4zM77.1 497.4h2.4v2.2h-2.4zM79.8 497.0h2.4v2.2h-2.4z" fill="#c8f5fa"/>
</g>
<path d="M28.48 508.02 L28.29 506.6 L26.95 503.06 L25.41 500.23 L23.5 497.4 L22.73 495.98 M42.07 508.02 L42.07 505.54 L42.26 503.06 L41.88 500.23 L43.03 497.4 L43.79 494.56 L43.03 491.73 L43.03 488.9 L43.79 486.42 L46.09 486.07 L47.24 484.65 L49.15 483.94 L51.45 482.88 L51.84 481.11 L55.28 479.34 L58.34 477.22 L61.41 474.03 L63.71 472.26 L66.39 471.55 L67.53 470.14 L69.07 468.37 L69.83 465.89 L72.51 465.18 L74.04 465.54 L75.96 465.54 L77.49 464.83 L80.17 464.12 L82.09 464.83 L83.62 463.06 L85.53 462 L87.83 463.06 L88.21 465.89 L89.74 468.72 L92.04 470.85 L94.72 473.32 L95.87 475.45 L98.17 478.28 L98.17 481.11 L97.02 485.01 L98.93 485.71 L101.61 486.07 L103.91 484.3 L105.83 483.24 L107.74 481.82 L109.27 482.88 L110.04 484.65 L110.42 487.48 L111.95 490.67 L112.33 494.21 L113.87 497.75 L113.87 500.94 L114.25 503.77 L113.87 506.6 L113.48 508.02 M115.4 508.02 L115.78 506.6 L116.16 504.83 L116.93 503.06 L117.7 501.29 L118.46 498.81 L119.23 497.04 L119.04 494.92 L119.99 494.21 L121.52 494.21 L122.67 494.56 L122.67 497.04 L124.59 497.4 L126.89 498.81 L129.18 500.58 L130.71 502 L131.48 503.77 L133.01 504.83 L135.31 504.83 L136.46 505.18 L137.61 506.25 L137.8 508.02 M143.73 508.02 L144.5 506.6 L146.03 505.18 L147.95 504.48 L149.86 503.41 L152.16 502.35 L153.69 501.29 L154.45 498.81 L154.84 496.69 L154.84 493.86 L153.69 490.67 L152.92 487.84 L151.01 485.71 L149.09 484.3 L146.8 482.17 L144.5 480.05 L142.97 478.28 L141.44 476.16 L141.05 474.03 L141.82 472.26 L143.35 470.49 L144.88 468.72 L146.8 467.66 L149.09 465.89 L151.77 465.54 L153.69 465.89 L156.37 466.24 L156.75 467.66 L156.37 469.43 L157.14 470.14 L158.67 470.14 L159.43 469.08 L159.05 466.95 L160.96 466.24 L163.64 465.54 L166.33 464.83 L168.62 464.12 L170.92 463.41 L172.07 462.35 L173.6 463.06 L175.9 462 L178.58 461.29 L181.64 460.93 L183.56 459.52 L186.24 457.75 L188.15 455.98 L190.45 454.92 L191.6 453.15 L193.51 452.08 L194.28 450.31 L194.66 448.19 L196.57 447.13 L197.34 445.36 L198.87 443.23 L200.4 441.46 L201.94 440.05 L203.08 437.92 L203.08 436.15 L201.17 435.45 L199.64 434.38 L201.94 432.97 L203.08 431.91 L202.7 430.14 L200.79 428.72 L199.26 426.6 L198.11 424.12 L196.96 420.93 L195.04 419.87 L193.13 418.81 L193.89 416.33 L195.81 414.91 L197.72 413.85 L199.64 412.44 L202.32 411.37 L205.38 411.02 L205.38 409.6 L203.47 409.25 L201.17 408.9 L198.87 408.19 L196.96 408.9 L194.66 410.31 L192.36 410.31 L191.6 408.9 L191.6 407.48 L189.3 406.42 L187 405.36 L186.62 403.94 L188.15 403.23 L190.45 403.59 L192.75 402.52 L193.89 400.75 L195.81 399.69 L198.11 398.63 L199.64 397.21 L201.94 397.21 L204.23 398.63 L203.08 400.4 L201.94 401.82 L200.79 402.52 L200.4 404.29 L201.94 404.65 L202.7 403.59 L204.62 402.52 L207.3 401.46 L209.59 401.11 L212.27 400.75 L214.57 401.46 L216.1 402.17 L216.49 403.94 L214.95 405.36 L216.1 407.48 L218.78 408.54 L220.7 408.9 L221.46 410.31 L220.7 411.73 L220.7 413.14 L221.08 414.91 L220.32 417.04 L219.93 419.16 L220.7 420.22 L222.61 419.52 L224.91 419.16 L227.59 418.45 L229.89 417.75 L231.42 417.04 L232.19 415.27 L232.19 412.79 L231.8 410.67 L230.27 408.54 L228.74 406.42 L227.21 404.65 L225.68 403.59 L224.53 402.17 L225.29 401.11 L227.59 400.4 L230.27 398.63 L232.95 397.57 L233.33 395.8 L233.72 394.03 L234.1 392.26 L235.63 391.2 M152.16 474.39 L152.54 476.51 L154.45 477.22 L155.99 477.57 L157.9 476.86 L159.43 475.45 L160.96 472.62 L161.35 471.91 L159.82 470.85 L158.28 470.85 L156.37 471.2 L154.84 471.55 L153.31 472.62 L152.16 474.39 M196.19 460.58 L196.96 462.35 L198.49 464.12 L199.26 464.12 L199.26 462.7 L200.4 461.29 L201.55 459.16 L201.94 457.04 L203.08 454.92 L203.08 453.5 L201.55 452.44 L199.64 453.5 L198.49 454.92 L196.96 457.04 L196.19 458.81 L196.19 460.58 M198.11 476.51 L199.64 476.16 L201.55 476.86 L204.23 476.51 L204.62 478.63 L204.23 481.11 L205.38 483.24 L203.47 484.65 L201.94 485.71 L201.94 487.84 L201.55 490.32 L202.7 491.73 L204.62 492.09 L206.15 491.38 L207.68 492.44 L209.21 493.5 L210.74 493.5 L211.51 495.98 L210.74 497.4 L209.21 495.98 L208.06 495.27 L205.76 494.92 L205 493.86 L203.08 493.15 L201.55 493.5 L199.64 493.5 L198.49 491.73 L198.11 490.67 L199.26 490.32 L197.72 489.61 L196.96 490.32 L196.19 488.9 L195.43 487.13 L195.04 484.65 L196.57 484.65 L197.34 483.24 L197.34 480.05 L198.11 476.51 M197.34 494.21 L200.4 494.56 L201.55 496.33 L200.79 498.46 L199.64 498.81 L198.87 497.04 L197.34 494.21 M203.08 499.87 L205.76 500.94 L207.68 502.71 L206.15 504.83 L203.85 504.48 L203.47 502 L203.08 499.87 M206.91 503.41 L208.83 504.83 L208.45 508.02 L205.38 508.02 L205 505.18 L206.91 503.41 M212.27 497.75 L214.95 497.75 L217.63 502.71 L215.72 503.06 L214.57 501.64 L212.66 499.52 L212.27 497.75 M212.27 501.29 L214.57 502 L215.34 505.18 L214.19 508.02 L213.04 506.6 L212.27 501.29 M210.74 502.35 L211.51 503.77 L209.59 508.02 L208.45 508.02 L210.74 502.35 M208.06 498.1 L210.36 498.81 L211.51 497.75 L209.59 497.4 L208.06 498.1 M190.45 508.02 L193.13 504.83 L194.28 502.35 L195.43 502 L193.89 504.48 L191.98 508.02 M219.55 423.76 L221.08 423.23 L222.42 423.59 L221.08 424.47 L219.55 424.12 L219.55 423.76 M235.63 422.7 L234.1 423.06 L232.95 424.12 L233.72 425.53 L233.33 426.6 L234.87 427.3 L234.48 428.72 L235.25 431.2 L236.01 432.26 M231.42 419.52 L231.99 419.52 L231.61 420.93 L231.04 420.58 L231.42 419.52" fill="none" stroke="#7a7a7a" stroke-width="0.7" stroke-linejoin="round"/>
</g>
<path d="M42.65 506.6 V510.9 M42.65 382.7 V378.4 M119.23 506.6 V510.9 M119.23 382.7 V378.4 M195.81 506.6 V510.9 M195.81 382.7 V378.4 M23.5 506.6 H19.2 M234.1 506.6 H238.4 M23.5 471.2 H19.2 M234.1 471.2 H238.4 M23.5 435.8 H19.2 M234.1 435.8 H238.4 M23.5 400.4 H19.2 M234.1 400.4 H238.4" stroke="#444" stroke-width="1" fill="none"/>
<path d="M23.5 506.6 V508.6 M23.5 382.7 V380.7 M61.79 506.6 V508.6 M61.79 382.7 V380.7 M80.94 506.6 V508.6 M80.94 382.7 V380.7 M100.08 506.6 V508.6 M100.08 382.7 V380.7 M138.37 506.6 V508.6 M138.37 382.7 V380.7 M157.52 506.6 V508.6 M157.52 382.7 V380.7 M176.66 506.6 V508.6 M176.66 382.7 V380.7 M214.95 506.6 V508.6 M214.95 382.7 V380.7 M234.1 506.6 V508.6 M234.1 382.7 V380.7 M23.5 499.52 H21.5 M234.1 499.52 H236.1 M23.5 492.44 H21.5 M234.1 492.44 H236.1 M23.5 485.36 H21.5 M234.1 485.36 H236.1 M23.5 478.28 H21.5 M234.1 478.28 H236.1 M23.5 464.12 H21.5 M234.1 464.12 H236.1 M23.5 457.04 H21.5 M234.1 457.04 H236.1 M23.5 449.96 H21.5 M234.1 449.96 H236.1 M23.5 442.88 H21.5 M234.1 442.88 H236.1 M23.5 428.72 H21.5 M234.1 428.72 H236.1 M23.5 421.64 H21.5 M234.1 421.64 H236.1 M23.5 414.56 H21.5 M234.1 414.56 H236.1 M23.5 407.48 H21.5 M234.1 407.48 H236.1 M23.5 393.32 H21.5 M234.1 393.32 H236.1 M23.5 386.24 H21.5 M234.1 386.24 H236.1" stroke="#8a8a8a" stroke-width="0.8" fill="none"/>
<rect x="23.5" y="382.7" width="210.6" height="123.9" fill="none" stroke="#4a4a4a" stroke-width="1"/>
<rect x="32" y="519.8" width="65.75" height="17.4" fill="#fdeefa"/>
<rect x="97.75" y="519.8" width="61.75" height="17.4" fill="#ecfcfc"/>
<rect x="36" y="523.8" width="15.74" height="10.4" fill="#c42c14"/>
<rect x="51.44" y="523.8" width="15.74" height="10.4" fill="#ee7614"/>
<rect x="66.87" y="523.8" width="15.74" height="10.4" fill="#eebb0c"/>
<rect x="82.31" y="523.8" width="15.74" height="10.4" fill="#fff500"/>
<rect x="97.75" y="523.8" width="15.74" height="10.4" fill="#5ad714"/>
<rect x="113.18" y="523.8" width="15.74" height="10.4" fill="#28e10a"/>
<rect x="128.62" y="523.8" width="15.74" height="10.4" fill="#19878c"/>
<rect x="144.05" y="523.8" width="15.74" height="10.4" fill="#1e41f5"/>
<rect x="159.49" y="523.8" width="15.74" height="10.4" fill="#8287f5"/>
<rect x="174.93" y="523.8" width="15.74" height="10.4" fill="#87a5fa"/>
<rect x="190.36" y="523.8" width="15.74" height="10.4" fill="#cdd7fa"/>
<clipPath id="clipd"><rect x="280.6" y="16" width="216" height="126.6"/></clipPath>
<g clip-path="url(#clipd)">
<g filter="url(#bl)">
<path d="M298.3 16.0h2.6v2.4h-2.6zM300.9 16.0h2.6v2.4h-2.6zM308.7 16.0h2.6v2.4h-2.6zM311.3 16.0h2.6v2.4h-2.6zM313.9 16.0h2.6v2.4h-2.6zM321.7 16.0h2.6v2.4h-2.6zM326.9 16.0h2.6v2.4h-2.6zM300.9 18.4h2.6v2.4h-2.6zM303.5 18.4h2.6v2.4h-2.6zM319.1 18.4h2.6v2.4h-2.6zM324.3 18.4h2.6v2.4h-2.6zM326.9 18.4h2.6v2.4h-2.6zM329.5 18.4h2.6v2.4h-2.6zM332.1 18.4h2.6v2.4h-2.6zM300.9 20.8h2.6v2.4h-2.6zM311.3 20.8h2.6v2.4h-2.6zM324.3 20.8h2.6v2.4h-2.6zM329.5 20.8h2.6v2.4h-2.6zM300.9 23.2h2.6v2.4h-2.6zM303.5 23.2h2.6v2.4h-2.6zM311.3 23.2h2.6v2.4h-2.6zM313.9 23.2h2.6v2.4h-2.6zM319.1 23.2h2.6v2.4h-2.6zM332.1 23.2h2.6v2.4h-2.6zM326.9 25.6h2.6v2.4h-2.6zM332.1 25.6h2.6v2.4h-2.6zM334.7 25.6h2.6v2.4h-2.6zM326.9 28.0h2.6v2.4h-2.6zM332.1 28.0h2.6v2.4h-2.6zM337.3 28.0h2.6v2.4h-2.6zM326.9 30.4h2.6v2.4h-2.6zM329.5 30.4h2.6v2.4h-2.6zM337.3 30.4h2.6v2.4h-2.6zM332.1 35.2h2.6v2.4h-2.6zM339.9 35.2h2.6v2.4h-2.6zM329.5 37.6h2.6v2.4h-2.6zM337.3 37.6h2.6v2.4h-2.6zM329.5 40.0h2.6v2.4h-2.6zM339.9 40.0h2.6v2.4h-2.6zM337.3 42.4h2.6v2.4h-2.6zM342.5 42.4h2.6v2.4h-2.6zM332.1 44.8h2.6v2.4h-2.6zM334.7 44.8h2.6v2.4h-2.6zM337.3 44.8h2.6v2.4h-2.6zM329.5 47.2h2.6v2.4h-2.6zM334.7 47.2h2.6v2.4h-2.6zM337.3 47.2h2.6v2.4h-2.6zM342.5 47.2h2.6v2.4h-2.6zM329.5 49.6h2.6v2.4h-2.6zM332.1 49.6h2.6v2.4h-2.6zM337.3 49.6h2.6v2.4h-2.6zM339.9 49.6h2.6v2.4h-2.6zM334.7 52.0h2.6v2.4h-2.6zM342.5 54.4h2.6v2.4h-2.6zM347.7 54.4h2.6v2.4h-2.6zM329.5 56.8h2.6v2.4h-2.6zM334.7 56.8h2.6v2.4h-2.6zM339.9 56.8h2.6v2.4h-2.6zM342.5 56.8h2.6v2.4h-2.6zM347.7 56.8h2.6v2.4h-2.6zM329.5 59.2h2.6v2.4h-2.6zM342.5 59.2h2.6v2.4h-2.6zM345.1 59.2h2.6v2.4h-2.6zM337.3 61.6h2.6v2.4h-2.6zM329.5 64.0h2.6v2.4h-2.6zM334.7 64.0h2.6v2.4h-2.6zM347.7 64.0h2.6v2.4h-2.6zM350.3 64.0h2.6v2.4h-2.6zM352.9 64.0h2.6v2.4h-2.6zM329.5 66.4h2.6v2.4h-2.6zM332.1 66.4h2.6v2.4h-2.6zM342.5 66.4h2.6v2.4h-2.6zM350.3 66.4h2.6v2.4h-2.6zM352.9 66.4h2.6v2.4h-2.6zM355.5 66.4h2.6v2.4h-2.6zM334.7 68.8h2.6v2.4h-2.6zM337.3 68.8h2.6v2.4h-2.6zM352.9 68.8h2.6v2.4h-2.6zM355.5 68.8h2.6v2.4h-2.6zM332.1 71.2h2.6v2.4h-2.6zM337.3 71.2h2.6v2.4h-2.6zM342.5 71.2h2.6v2.4h-2.6zM350.3 71.2h2.6v2.4h-2.6zM352.9 71.2h2.6v2.4h-2.6zM355.5 71.2h2.6v2.4h-2.6zM358.1 71.2h2.6v2.4h-2.6zM360.7 71.2h2.6v2.4h-2.6zM342.5 73.6h2.6v2.4h-2.6zM350.3 73.6h2.6v2.4h-2.6zM360.7 73.6h2.6v2.4h-2.6zM363.3 73.6h2.6v2.4h-2.6zM334.7 76.0h2.6v2.4h-2.6zM337.3 76.0h2.6v2.4h-2.6zM339.9 76.0h2.6v2.4h-2.6zM347.7 76.0h2.6v2.4h-2.6zM350.3 76.0h2.6v2.4h-2.6zM352.9 76.0h2.6v2.4h-2.6zM355.5 76.0h2.6v2.4h-2.6zM360.7 76.0h2.6v2.4h-2.6zM337.3 78.4h2.6v2.4h-2.6zM342.5 78.4h2.6v2.4h-2.6zM345.1 78.4h2.6v2.4h-2.6zM352.9 78.4h2.6v2.4h-2.6zM360.7 78.4h2.6v2.4h-2.6zM365.9 78.4h2.6v2.4h-2.6zM334.7 80.8h2.6v2.4h-2.6zM337.3 80.8h2.6v2.4h-2.6zM339.9 80.8h2.6v2.4h-2.6zM342.5 80.8h2.6v2.4h-2.6zM350.3 80.8h2.6v2.4h-2.6zM352.9 80.8h2.6v2.4h-2.6zM355.5 80.8h2.6v2.4h-2.6zM365.9 80.8h2.6v2.4h-2.6zM368.5 80.8h2.6v2.4h-2.6zM355.5 83.2h2.6v2.4h-2.6zM360.7 83.2h2.6v2.4h-2.6zM363.3 83.2h2.6v2.4h-2.6zM365.9 83.2h2.6v2.4h-2.6zM337.3 85.6h2.6v2.4h-2.6zM339.9 85.6h2.6v2.4h-2.6zM342.5 85.6h2.6v2.4h-2.6zM345.1 85.6h2.6v2.4h-2.6zM347.7 85.6h2.6v2.4h-2.6zM350.3 85.6h2.6v2.4h-2.6zM355.5 85.6h2.6v2.4h-2.6zM358.1 85.6h2.6v2.4h-2.6zM360.7 85.6h2.6v2.4h-2.6zM363.3 85.6h2.6v2.4h-2.6zM365.9 85.6h2.6v2.4h-2.6zM368.5 85.6h2.6v2.4h-2.6zM339.9 88.0h2.6v2.4h-2.6zM342.5 88.0h2.6v2.4h-2.6zM345.1 88.0h2.6v2.4h-2.6zM350.3 88.0h2.6v2.4h-2.6zM352.9 88.0h2.6v2.4h-2.6zM355.5 88.0h2.6v2.4h-2.6zM363.3 88.0h2.6v2.4h-2.6zM365.9 88.0h2.6v2.4h-2.6zM373.7 88.0h2.6v2.4h-2.6zM342.5 90.4h2.6v2.4h-2.6zM345.1 90.4h2.6v2.4h-2.6zM347.7 90.4h2.6v2.4h-2.6zM350.3 90.4h2.6v2.4h-2.6zM352.9 90.4h2.6v2.4h-2.6zM358.1 90.4h2.6v2.4h-2.6zM360.7 90.4h2.6v2.4h-2.6zM363.3 90.4h2.6v2.4h-2.6zM365.9 90.4h2.6v2.4h-2.6zM368.5 90.4h2.6v2.4h-2.6zM371.1 90.4h2.6v2.4h-2.6zM373.7 90.4h2.6v2.4h-2.6zM342.5 92.8h2.6v2.4h-2.6zM345.1 92.8h2.6v2.4h-2.6zM347.7 92.8h2.6v2.4h-2.6zM350.3 92.8h2.6v2.4h-2.6zM352.9 92.8h2.6v2.4h-2.6zM355.5 92.8h2.6v2.4h-2.6zM358.1 92.8h2.6v2.4h-2.6zM363.3 92.8h2.6v2.4h-2.6zM368.5 92.8h2.6v2.4h-2.6zM371.1 92.8h2.6v2.4h-2.6zM345.1 95.2h2.6v2.4h-2.6zM350.3 95.2h2.6v2.4h-2.6zM352.9 95.2h2.6v2.4h-2.6zM360.7 95.2h2.6v2.4h-2.6zM363.3 95.2h2.6v2.4h-2.6zM365.9 95.2h2.6v2.4h-2.6zM368.5 95.2h2.6v2.4h-2.6zM373.7 95.2h2.6v2.4h-2.6zM345.1 97.6h2.6v2.4h-2.6zM347.7 97.6h2.6v2.4h-2.6zM350.3 97.6h2.6v2.4h-2.6zM352.9 97.6h2.6v2.4h-2.6zM355.5 97.6h2.6v2.4h-2.6zM360.7 97.6h2.6v2.4h-2.6zM363.3 97.6h2.6v2.4h-2.6zM368.5 97.6h2.6v2.4h-2.6zM371.1 97.6h2.6v2.4h-2.6zM373.7 97.6h2.6v2.4h-2.6zM376.3 97.6h2.6v2.4h-2.6zM350.3 100.0h2.6v2.4h-2.6zM352.9 100.0h2.6v2.4h-2.6zM355.5 100.0h2.6v2.4h-2.6zM358.1 100.0h2.6v2.4h-2.6zM360.7 100.0h2.6v2.4h-2.6zM365.9 100.0h2.6v2.4h-2.6zM368.5 100.0h2.6v2.4h-2.6zM371.1 100.0h2.6v2.4h-2.6zM345.1 102.4h2.6v2.4h-2.6zM350.3 102.4h2.6v2.4h-2.6zM352.9 102.4h2.6v2.4h-2.6zM358.1 102.4h2.6v2.4h-2.6zM360.7 102.4h2.6v2.4h-2.6zM363.3 102.4h2.6v2.4h-2.6zM368.5 102.4h2.6v2.4h-2.6zM373.7 102.4h2.6v2.4h-2.6zM347.7 104.8h2.6v2.4h-2.6zM350.3 104.8h2.6v2.4h-2.6zM352.9 104.8h2.6v2.4h-2.6zM358.1 104.8h2.6v2.4h-2.6zM360.7 104.8h2.6v2.4h-2.6zM365.9 104.8h2.6v2.4h-2.6zM368.5 104.8h2.6v2.4h-2.6zM376.3 104.8h2.6v2.4h-2.6zM378.9 104.8h2.6v2.4h-2.6zM347.7 107.2h2.6v2.4h-2.6zM350.3 107.2h2.6v2.4h-2.6zM352.9 107.2h2.6v2.4h-2.6zM358.1 107.2h2.6v2.4h-2.6zM363.3 107.2h2.6v2.4h-2.6zM365.9 107.2h2.6v2.4h-2.6zM368.5 107.2h2.6v2.4h-2.6zM371.1 107.2h2.6v2.4h-2.6zM373.7 107.2h2.6v2.4h-2.6zM378.9 107.2h2.6v2.4h-2.6zM381.5 107.2h2.6v2.4h-2.6zM347.7 109.6h2.6v2.4h-2.6zM350.3 109.6h2.6v2.4h-2.6zM352.9 109.6h2.6v2.4h-2.6zM355.5 109.6h2.6v2.4h-2.6zM358.1 109.6h2.6v2.4h-2.6zM360.7 109.6h2.6v2.4h-2.6zM368.5 109.6h2.6v2.4h-2.6zM373.7 109.6h2.6v2.4h-2.6zM376.3 109.6h2.6v2.4h-2.6zM381.5 109.6h2.6v2.4h-2.6zM347.7 112.0h2.6v2.4h-2.6zM358.1 112.0h2.6v2.4h-2.6zM363.3 112.0h2.6v2.4h-2.6zM371.1 112.0h2.6v2.4h-2.6zM373.7 112.0h2.6v2.4h-2.6zM360.7 114.4h2.6v2.4h-2.6zM365.9 114.4h2.6v2.4h-2.6zM376.3 114.4h2.6v2.4h-2.6zM350.3 116.8h2.6v2.4h-2.6zM355.5 116.8h2.6v2.4h-2.6zM358.1 116.8h2.6v2.4h-2.6zM360.7 116.8h2.6v2.4h-2.6zM363.3 116.8h2.6v2.4h-2.6zM365.9 116.8h2.6v2.4h-2.6zM371.1 116.8h2.6v2.4h-2.6zM376.3 116.8h2.6v2.4h-2.6zM378.9 116.8h2.6v2.4h-2.6zM381.5 116.8h2.6v2.4h-2.6zM350.3 119.2h2.6v2.4h-2.6zM355.5 119.2h2.6v2.4h-2.6zM360.7 119.2h2.6v2.4h-2.6zM363.3 119.2h2.6v2.4h-2.6zM365.9 119.2h2.6v2.4h-2.6zM368.5 119.2h2.6v2.4h-2.6zM371.1 119.2h2.6v2.4h-2.6zM376.3 119.2h2.6v2.4h-2.6zM381.5 119.2h2.6v2.4h-2.6zM384.1 119.2h2.6v2.4h-2.6zM386.7 119.2h2.6v2.4h-2.6zM352.9 121.6h2.6v2.4h-2.6zM358.1 121.6h2.6v2.4h-2.6zM360.7 121.6h2.6v2.4h-2.6zM363.3 121.6h2.6v2.4h-2.6zM368.5 121.6h2.6v2.4h-2.6zM371.1 121.6h2.6v2.4h-2.6zM373.7 121.6h2.6v2.4h-2.6zM376.3 121.6h2.6v2.4h-2.6zM378.9 121.6h2.6v2.4h-2.6zM381.5 121.6h2.6v2.4h-2.6zM384.1 121.6h2.6v2.4h-2.6zM386.7 121.6h2.6v2.4h-2.6zM358.1 124.0h2.6v2.4h-2.6zM360.7 124.0h2.6v2.4h-2.6zM363.3 124.0h2.6v2.4h-2.6zM365.9 124.0h2.6v2.4h-2.6zM371.1 124.0h2.6v2.4h-2.6zM373.7 124.0h2.6v2.4h-2.6zM376.3 124.0h2.6v2.4h-2.6zM378.9 124.0h2.6v2.4h-2.6zM358.1 126.4h2.6v2.4h-2.6zM365.9 126.4h2.6v2.4h-2.6zM376.3 126.4h2.6v2.4h-2.6zM381.5 126.4h2.6v2.4h-2.6zM386.7 126.4h2.6v2.4h-2.6zM389.3 126.4h2.6v2.4h-2.6zM355.5 128.8h2.6v2.4h-2.6zM358.1 128.8h2.6v2.4h-2.6zM360.7 128.8h2.6v2.4h-2.6zM365.9 128.8h2.6v2.4h-2.6zM368.5 128.8h2.6v2.4h-2.6zM373.7 128.8h2.6v2.4h-2.6zM378.9 128.8h2.6v2.4h-2.6zM381.5 128.8h2.6v2.4h-2.6zM384.1 128.8h2.6v2.4h-2.6zM386.7 128.8h2.6v2.4h-2.6zM389.3 128.8h2.6v2.4h-2.6zM391.9 128.8h2.6v2.4h-2.6zM352.9 131.2h2.6v2.4h-2.6zM355.5 131.2h2.6v2.4h-2.6zM358.1 131.2h2.6v2.4h-2.6zM363.3 131.2h2.6v2.4h-2.6zM368.5 131.2h2.6v2.4h-2.6zM371.1 131.2h2.6v2.4h-2.6zM373.7 131.2h2.6v2.4h-2.6zM381.5 131.2h2.6v2.4h-2.6zM384.1 131.2h2.6v2.4h-2.6zM389.3 131.2h2.6v2.4h-2.6zM391.9 131.2h2.6v2.4h-2.6zM355.5 133.6h2.6v2.4h-2.6zM360.7 133.6h2.6v2.4h-2.6zM371.1 133.6h2.6v2.4h-2.6zM373.7 133.6h2.6v2.4h-2.6zM378.9 133.6h2.6v2.4h-2.6zM384.1 133.6h2.6v2.4h-2.6zM386.7 133.6h2.6v2.4h-2.6zM389.3 133.6h2.6v2.4h-2.6zM391.9 133.6h2.6v2.4h-2.6zM355.5 136.0h2.6v2.4h-2.6zM358.1 136.0h2.6v2.4h-2.6zM360.7 136.0h2.6v2.4h-2.6zM363.3 136.0h2.6v2.4h-2.6zM365.9 136.0h2.6v2.4h-2.6zM371.1 136.0h2.6v2.4h-2.6zM373.7 136.0h2.6v2.4h-2.6zM376.3 136.0h2.6v2.4h-2.6zM378.9 136.0h2.6v2.4h-2.6zM384.1 136.0h2.6v2.4h-2.6zM386.7 136.0h2.6v2.4h-2.6zM389.3 136.0h2.6v2.4h-2.6zM391.9 136.0h2.6v2.4h-2.6zM394.5 136.0h2.6v2.4h-2.6zM358.1 138.4h2.6v2.4h-2.6zM363.3 138.4h2.6v2.4h-2.6zM368.5 138.4h2.6v2.4h-2.6zM371.1 138.4h2.6v2.4h-2.6zM373.7 138.4h2.6v2.4h-2.6zM381.5 138.4h2.6v2.4h-2.6zM389.3 138.4h2.6v2.4h-2.6zM394.5 138.4h2.6v2.4h-2.6zM355.5 140.8h2.6v2.4h-2.6zM358.1 140.8h2.6v2.4h-2.6zM360.7 140.8h2.6v2.4h-2.6zM368.5 140.8h2.6v2.4h-2.6zM371.1 140.8h2.6v2.4h-2.6zM373.7 140.8h2.6v2.4h-2.6zM378.9 140.8h2.6v2.4h-2.6zM384.1 140.8h2.6v2.4h-2.6zM389.3 140.8h2.6v2.4h-2.6zM394.5 140.8h2.6v2.4h-2.6z" fill="#d7defa"/>
<path d="M319.1 16.0h2.6v2.4h-2.6zM308.7 18.4h2.6v2.4h-2.6zM311.3 18.4h2.6v2.4h-2.6zM308.7 20.8h2.6v2.4h-2.6zM326.9 20.8h2.6v2.4h-2.6zM306.1 23.2h2.6v2.4h-2.6zM308.7 23.2h2.6v2.4h-2.6zM316.5 23.2h2.6v2.4h-2.6zM324.3 28.0h2.6v2.4h-2.6zM329.5 28.0h2.6v2.4h-2.6zM332.1 30.4h2.6v2.4h-2.6zM334.7 30.4h2.6v2.4h-2.6zM334.7 40.0h2.6v2.4h-2.6zM339.9 47.2h2.6v2.4h-2.6zM345.1 47.2h2.6v2.4h-2.6zM334.7 49.6h2.6v2.4h-2.6zM329.5 52.0h2.6v2.4h-2.6zM339.9 52.0h2.6v2.4h-2.6zM334.7 54.4h2.6v2.4h-2.6zM339.9 54.4h2.6v2.4h-2.6zM339.9 59.2h2.6v2.4h-2.6zM345.1 61.6h2.6v2.4h-2.6zM347.7 61.6h2.6v2.4h-2.6zM332.1 64.0h2.6v2.4h-2.6zM342.5 64.0h2.6v2.4h-2.6zM339.9 66.4h2.6v2.4h-2.6zM345.1 66.4h2.6v2.4h-2.6zM329.5 68.8h2.6v2.4h-2.6zM332.1 68.8h2.6v2.4h-2.6zM345.1 68.8h2.6v2.4h-2.6zM350.3 68.8h2.6v2.4h-2.6zM339.9 71.2h2.6v2.4h-2.6zM345.1 71.2h2.6v2.4h-2.6zM345.1 73.6h2.6v2.4h-2.6zM352.9 73.6h2.6v2.4h-2.6zM345.1 76.0h2.6v2.4h-2.6zM363.3 76.0h2.6v2.4h-2.6zM365.9 76.0h2.6v2.4h-2.6zM334.7 78.4h2.6v2.4h-2.6zM347.7 78.4h2.6v2.4h-2.6zM355.5 78.4h2.6v2.4h-2.6zM368.5 78.4h2.6v2.4h-2.6zM337.3 83.2h2.6v2.4h-2.6zM342.5 83.2h2.6v2.4h-2.6zM347.7 83.2h2.6v2.4h-2.6zM350.3 83.2h2.6v2.4h-2.6zM371.1 83.2h2.6v2.4h-2.6zM352.9 85.6h2.6v2.4h-2.6zM371.1 85.6h2.6v2.4h-2.6zM347.7 88.0h2.6v2.4h-2.6zM368.5 88.0h2.6v2.4h-2.6zM371.1 88.0h2.6v2.4h-2.6zM339.9 90.4h2.6v2.4h-2.6zM355.5 90.4h2.6v2.4h-2.6zM360.7 92.8h2.6v2.4h-2.6zM365.9 92.8h2.6v2.4h-2.6zM373.7 92.8h2.6v2.4h-2.6zM355.5 95.2h2.6v2.4h-2.6zM358.1 95.2h2.6v2.4h-2.6zM371.1 95.2h2.6v2.4h-2.6zM376.3 95.2h2.6v2.4h-2.6zM358.1 97.6h2.6v2.4h-2.6zM365.9 97.6h2.6v2.4h-2.6zM345.1 100.0h2.6v2.4h-2.6zM347.7 100.0h2.6v2.4h-2.6zM363.3 100.0h2.6v2.4h-2.6zM376.3 100.0h2.6v2.4h-2.6zM365.9 102.4h2.6v2.4h-2.6zM371.1 102.4h2.6v2.4h-2.6zM376.3 102.4h2.6v2.4h-2.6zM378.9 102.4h2.6v2.4h-2.6zM373.7 104.8h2.6v2.4h-2.6zM360.7 107.2h2.6v2.4h-2.6zM376.3 107.2h2.6v2.4h-2.6zM363.3 109.6h2.6v2.4h-2.6zM365.9 109.6h2.6v2.4h-2.6zM371.1 109.6h2.6v2.4h-2.6zM378.9 109.6h2.6v2.4h-2.6zM350.3 112.0h2.6v2.4h-2.6zM355.5 112.0h2.6v2.4h-2.6zM360.7 112.0h2.6v2.4h-2.6zM368.5 112.0h2.6v2.4h-2.6zM378.9 112.0h2.6v2.4h-2.6zM381.5 112.0h2.6v2.4h-2.6zM350.3 114.4h2.6v2.4h-2.6zM363.3 114.4h2.6v2.4h-2.6zM371.1 114.4h2.6v2.4h-2.6zM378.9 114.4h2.6v2.4h-2.6zM368.5 116.8h2.6v2.4h-2.6zM373.7 116.8h2.6v2.4h-2.6zM384.1 116.8h2.6v2.4h-2.6zM358.1 119.2h2.6v2.4h-2.6zM378.9 119.2h2.6v2.4h-2.6zM350.3 121.6h2.6v2.4h-2.6zM355.5 121.6h2.6v2.4h-2.6zM365.9 121.6h2.6v2.4h-2.6zM352.9 124.0h2.6v2.4h-2.6zM355.5 124.0h2.6v2.4h-2.6zM368.5 124.0h2.6v2.4h-2.6zM381.5 124.0h2.6v2.4h-2.6zM389.3 124.0h2.6v2.4h-2.6zM352.9 126.4h2.6v2.4h-2.6zM360.7 126.4h2.6v2.4h-2.6zM363.3 126.4h2.6v2.4h-2.6zM371.1 126.4h2.6v2.4h-2.6zM373.7 126.4h2.6v2.4h-2.6zM378.9 126.4h2.6v2.4h-2.6zM384.1 126.4h2.6v2.4h-2.6zM363.3 128.8h2.6v2.4h-2.6zM371.1 128.8h2.6v2.4h-2.6zM365.9 131.2h2.6v2.4h-2.6zM376.3 131.2h2.6v2.4h-2.6zM358.1 133.6h2.6v2.4h-2.6zM363.3 133.6h2.6v2.4h-2.6zM368.5 133.6h2.6v2.4h-2.6zM376.3 133.6h2.6v2.4h-2.6zM368.5 136.0h2.6v2.4h-2.6zM381.5 136.0h2.6v2.4h-2.6zM355.5 138.4h2.6v2.4h-2.6zM360.7 138.4h2.6v2.4h-2.6zM376.3 138.4h2.6v2.4h-2.6zM378.9 138.4h2.6v2.4h-2.6zM384.1 138.4h2.6v2.4h-2.6zM386.7 138.4h2.6v2.4h-2.6zM391.9 138.4h2.6v2.4h-2.6zM363.3 140.8h2.6v2.4h-2.6zM376.3 140.8h2.6v2.4h-2.6zM381.5 140.8h2.6v2.4h-2.6zM386.7 140.8h2.6v2.4h-2.6zM391.9 140.8h2.6v2.4h-2.6zM397.1 140.8h2.6v2.4h-2.6z" fill="#d7eefa"/>
<path d="M408.0 24.9h2.6v2.4h-2.6zM413.2 24.9h2.6v2.4h-2.6zM415.8 24.9h2.6v2.4h-2.6zM418.4 24.9h2.6v2.4h-2.6zM421.0 24.9h2.6v2.4h-2.6zM423.6 24.9h2.6v2.4h-2.6zM426.2 24.9h2.6v2.4h-2.6zM428.8 24.9h2.6v2.4h-2.6zM415.8 27.3h2.6v2.4h-2.6zM418.4 27.3h2.6v2.4h-2.6zM423.6 27.3h2.6v2.4h-2.6zM410.6 29.7h2.6v2.4h-2.6zM415.8 29.7h2.6v2.4h-2.6zM418.4 29.7h2.6v2.4h-2.6zM421.0 29.7h2.6v2.4h-2.6zM408.0 32.1h2.6v2.4h-2.6zM418.4 32.1h2.6v2.4h-2.6zM426.2 32.1h2.6v2.4h-2.6zM428.8 32.1h2.6v2.4h-2.6zM431.4 32.1h2.6v2.4h-2.6zM408.0 34.5h2.6v2.4h-2.6zM410.6 34.5h2.6v2.4h-2.6zM413.2 34.5h2.6v2.4h-2.6zM415.8 34.5h2.6v2.4h-2.6zM421.0 34.5h2.6v2.4h-2.6zM426.2 34.5h2.6v2.4h-2.6zM434.0 34.5h2.6v2.4h-2.6zM410.6 36.9h2.6v2.4h-2.6zM415.8 36.9h2.6v2.4h-2.6zM418.4 36.9h2.6v2.4h-2.6zM423.6 36.9h2.6v2.4h-2.6zM428.8 36.9h2.6v2.4h-2.6zM434.0 36.9h2.6v2.4h-2.6zM439.2 36.9h2.6v2.4h-2.6zM410.6 39.3h2.6v2.4h-2.6zM413.2 39.3h2.6v2.4h-2.6zM418.4 39.3h2.6v2.4h-2.6zM436.6 39.3h2.6v2.4h-2.6zM439.2 39.3h2.6v2.4h-2.6zM418.4 41.7h2.6v2.4h-2.6zM421.0 41.7h2.6v2.4h-2.6zM423.6 41.7h2.6v2.4h-2.6zM426.2 41.7h2.6v2.4h-2.6zM428.8 41.7h2.6v2.4h-2.6zM431.4 41.7h2.6v2.4h-2.6zM434.0 41.7h2.6v2.4h-2.6zM436.6 41.7h2.6v2.4h-2.6zM439.2 41.7h2.6v2.4h-2.6zM415.8 44.1h2.6v2.4h-2.6zM418.4 44.1h2.6v2.4h-2.6zM421.0 44.1h2.6v2.4h-2.6zM423.6 44.1h2.6v2.4h-2.6zM428.8 44.1h2.6v2.4h-2.6zM408.0 46.5h2.6v2.4h-2.6zM415.8 46.5h2.6v2.4h-2.6zM434.0 46.5h2.6v2.4h-2.6zM439.2 46.5h2.6v2.4h-2.6zM408.0 48.9h2.6v2.4h-2.6zM410.6 48.9h2.6v2.4h-2.6zM426.2 48.9h2.6v2.4h-2.6zM428.8 48.9h2.6v2.4h-2.6zM441.8 48.9h2.6v2.4h-2.6zM410.6 51.3h2.6v2.4h-2.6zM413.2 51.3h2.6v2.4h-2.6zM418.4 51.3h2.6v2.4h-2.6zM421.0 51.3h2.6v2.4h-2.6zM426.2 51.3h2.6v2.4h-2.6zM436.6 51.3h2.6v2.4h-2.6zM439.2 51.3h2.6v2.4h-2.6zM413.2 53.7h2.6v2.4h-2.6zM428.8 53.7h2.6v2.4h-2.6zM408.0 56.1h2.6v2.4h-2.6zM410.6 56.1h2.6v2.4h-2.6zM418.4 56.1h2.6v2.4h-2.6zM426.2 56.1h2.6v2.4h-2.6zM415.8 58.5h2.6v2.4h-2.6zM421.0 58.5h2.6v2.4h-2.6zM431.4 58.5h2.6v2.4h-2.6zM434.0 58.5h2.6v2.4h-2.6zM441.8 58.5h2.6v2.4h-2.6zM418.4 60.9h2.6v2.4h-2.6zM423.6 60.9h2.6v2.4h-2.6zM428.8 60.9h2.6v2.4h-2.6zM431.4 60.9h2.6v2.4h-2.6zM434.0 60.9h2.6v2.4h-2.6zM436.6 60.9h2.6v2.4h-2.6zM439.2 60.9h2.6v2.4h-2.6zM441.8 60.9h2.6v2.4h-2.6zM408.0 63.3h2.6v2.4h-2.6zM413.2 63.3h2.6v2.4h-2.6zM421.0 63.3h2.6v2.4h-2.6zM426.2 63.3h2.6v2.4h-2.6zM428.8 63.3h2.6v2.4h-2.6zM431.4 63.3h2.6v2.4h-2.6zM434.0 63.3h2.6v2.4h-2.6zM436.6 63.3h2.6v2.4h-2.6zM418.4 65.7h2.6v2.4h-2.6zM421.0 65.7h2.6v2.4h-2.6zM423.6 65.7h2.6v2.4h-2.6zM428.8 65.7h2.6v2.4h-2.6zM431.4 65.7h2.6v2.4h-2.6zM434.0 65.7h2.6v2.4h-2.6zM436.6 65.7h2.6v2.4h-2.6zM439.2 65.7h2.6v2.4h-2.6zM441.8 65.7h2.6v2.4h-2.6zM408.0 68.1h2.6v2.4h-2.6zM413.2 68.1h2.6v2.4h-2.6zM436.6 68.1h2.6v2.4h-2.6zM441.8 68.1h2.6v2.4h-2.6zM410.6 70.5h2.6v2.4h-2.6zM415.8 70.5h2.6v2.4h-2.6zM418.4 70.5h2.6v2.4h-2.6zM426.2 70.5h2.6v2.4h-2.6zM428.8 70.5h2.6v2.4h-2.6zM436.6 70.5h2.6v2.4h-2.6zM439.2 70.5h2.6v2.4h-2.6zM441.8 70.5h2.6v2.4h-2.6zM444.4 70.5h2.6v2.4h-2.6zM415.8 72.9h2.6v2.4h-2.6zM418.4 72.9h2.6v2.4h-2.6zM428.8 72.9h2.6v2.4h-2.6zM434.0 72.9h2.6v2.4h-2.6zM436.6 72.9h2.6v2.4h-2.6zM439.2 72.9h2.6v2.4h-2.6zM447.0 72.9h2.6v2.4h-2.6zM415.8 75.3h2.6v2.4h-2.6zM421.0 75.3h2.6v2.4h-2.6zM426.2 75.3h2.6v2.4h-2.6zM428.8 75.3h2.6v2.4h-2.6zM431.4 75.3h2.6v2.4h-2.6zM436.6 75.3h2.6v2.4h-2.6zM441.8 75.3h2.6v2.4h-2.6zM444.4 75.3h2.6v2.4h-2.6zM423.6 77.7h2.6v2.4h-2.6zM441.8 77.7h2.6v2.4h-2.6zM447.0 77.7h2.6v2.4h-2.6zM454.8 77.7h2.6v2.4h-2.6zM426.2 80.1h2.6v2.4h-2.6zM428.8 80.1h2.6v2.4h-2.6zM431.4 80.1h2.6v2.4h-2.6zM439.2 80.1h2.6v2.4h-2.6zM441.8 80.1h2.6v2.4h-2.6zM449.6 80.1h2.6v2.4h-2.6zM454.8 80.1h2.6v2.4h-2.6zM457.4 80.1h2.6v2.4h-2.6zM428.8 82.5h2.6v2.4h-2.6zM431.4 82.5h2.6v2.4h-2.6zM441.8 82.5h2.6v2.4h-2.6zM444.4 82.5h2.6v2.4h-2.6zM447.0 82.5h2.6v2.4h-2.6zM457.4 82.5h2.6v2.4h-2.6zM460.0 82.5h2.6v2.4h-2.6zM439.2 84.9h2.6v2.4h-2.6zM441.8 84.9h2.6v2.4h-2.6zM444.4 84.9h2.6v2.4h-2.6zM452.2 84.9h2.6v2.4h-2.6zM454.8 84.9h2.6v2.4h-2.6zM431.4 87.3h2.6v2.4h-2.6zM436.6 87.3h2.6v2.4h-2.6zM439.2 87.3h2.6v2.4h-2.6zM441.8 87.3h2.6v2.4h-2.6zM444.4 87.3h2.6v2.4h-2.6zM452.2 87.3h2.6v2.4h-2.6zM462.6 87.3h2.6v2.4h-2.6zM434.0 89.7h2.6v2.4h-2.6zM439.2 89.7h2.6v2.4h-2.6zM441.8 89.7h2.6v2.4h-2.6zM447.0 89.7h2.6v2.4h-2.6zM449.6 89.7h2.6v2.4h-2.6zM454.8 89.7h2.6v2.4h-2.6zM457.4 89.7h2.6v2.4h-2.6zM460.0 89.7h2.6v2.4h-2.6zM436.6 92.1h2.6v2.4h-2.6zM441.8 92.1h2.6v2.4h-2.6zM444.4 92.1h2.6v2.4h-2.6zM447.0 92.1h2.6v2.4h-2.6zM449.6 92.1h2.6v2.4h-2.6zM465.2 92.1h2.6v2.4h-2.6zM436.6 94.5h2.6v2.4h-2.6zM439.2 94.5h2.6v2.4h-2.6zM441.8 94.5h2.6v2.4h-2.6zM444.4 94.5h2.6v2.4h-2.6zM447.0 94.5h2.6v2.4h-2.6zM449.6 94.5h2.6v2.4h-2.6zM452.2 94.5h2.6v2.4h-2.6zM454.8 94.5h2.6v2.4h-2.6zM457.4 94.5h2.6v2.4h-2.6zM460.0 94.5h2.6v2.4h-2.6zM462.6 94.5h2.6v2.4h-2.6zM465.2 94.5h2.6v2.4h-2.6zM439.2 96.9h2.6v2.4h-2.6zM441.8 96.9h2.6v2.4h-2.6zM444.4 96.9h2.6v2.4h-2.6zM447.0 96.9h2.6v2.4h-2.6zM452.2 96.9h2.6v2.4h-2.6zM460.0 96.9h2.6v2.4h-2.6zM467.8 96.9h2.6v2.4h-2.6zM439.2 99.3h2.6v2.4h-2.6zM441.8 99.3h2.6v2.4h-2.6zM444.4 99.3h2.6v2.4h-2.6zM447.0 99.3h2.6v2.4h-2.6zM449.6 99.3h2.6v2.4h-2.6zM454.8 99.3h2.6v2.4h-2.6zM460.0 99.3h2.6v2.4h-2.6zM465.2 99.3h2.6v2.4h-2.6zM439.2 101.7h2.6v2.4h-2.6zM441.8 101.7h2.6v2.4h-2.6zM449.6 101.7h2.6v2.4h-2.6zM452.2 101.7h2.6v2.4h-2.6zM454.8 101.7h2.6v2.4h-2.6zM457.4 101.7h2.6v2.4h-2.6zM462.6 101.7h2.6v2.4h-2.6zM465.2 101.7h2.6v2.4h-2.6zM467.8 101.7h2.6v2.4h-2.6zM470.4 101.7h2.6v2.4h-2.6zM441.8 104.1h2.6v2.4h-2.6zM444.4 104.1h2.6v2.4h-2.6zM447.0 104.1h2.6v2.4h-2.6zM452.2 104.1h2.6v2.4h-2.6zM454.8 104.1h2.6v2.4h-2.6zM457.4 104.1h2.6v2.4h-2.6zM460.0 104.1h2.6v2.4h-2.6zM462.6 104.1h2.6v2.4h-2.6zM467.8 104.1h2.6v2.4h-2.6zM470.4 104.1h2.6v2.4h-2.6zM441.8 106.5h2.6v2.4h-2.6zM449.6 106.5h2.6v2.4h-2.6zM454.8 106.5h2.6v2.4h-2.6zM460.0 106.5h2.6v2.4h-2.6zM465.2 106.5h2.6v2.4h-2.6zM470.4 106.5h2.6v2.4h-2.6zM473.0 106.5h2.6v2.4h-2.6zM441.8 108.9h2.6v2.4h-2.6zM447.0 108.9h2.6v2.4h-2.6zM449.6 108.9h2.6v2.4h-2.6zM457.4 108.9h2.6v2.4h-2.6zM462.6 108.9h2.6v2.4h-2.6zM465.2 108.9h2.6v2.4h-2.6zM467.8 108.9h2.6v2.4h-2.6zM444.4 111.3h2.6v2.4h-2.6zM447.0 111.3h2.6v2.4h-2.6zM457.4 111.3h2.6v2.4h-2.6zM460.0 111.3h2.6v2.4h-2.6zM465.2 111.3h2.6v2.4h-2.6zM473.0 111.3h2.6v2.4h-2.6zM444.4 113.7h2.6v2.4h-2.6zM447.0 113.7h2.6v2.4h-2.6zM449.6 113.7h2.6v2.4h-2.6zM452.2 113.7h2.6v2.4h-2.6zM454.8 113.7h2.6v2.4h-2.6zM457.4 113.7h2.6v2.4h-2.6zM460.0 113.7h2.6v2.4h-2.6zM462.6 113.7h2.6v2.4h-2.6zM465.2 113.7h2.6v2.4h-2.6zM470.4 113.7h2.6v2.4h-2.6zM473.0 113.7h2.6v2.4h-2.6zM444.4 116.1h2.6v2.4h-2.6zM449.6 116.1h2.6v2.4h-2.6zM452.2 116.1h2.6v2.4h-2.6zM460.0 116.1h2.6v2.4h-2.6zM462.6 116.1h2.6v2.4h-2.6zM465.2 116.1h2.6v2.4h-2.6zM467.8 116.1h2.6v2.4h-2.6zM470.4 116.1h2.6v2.4h-2.6zM473.0 116.1h2.6v2.4h-2.6zM475.6 116.1h2.6v2.4h-2.6zM447.0 118.5h2.6v2.4h-2.6zM449.6 118.5h2.6v2.4h-2.6zM452.2 118.5h2.6v2.4h-2.6zM454.8 118.5h2.6v2.4h-2.6zM460.0 118.5h2.6v2.4h-2.6zM465.2 118.5h2.6v2.4h-2.6zM467.8 118.5h2.6v2.4h-2.6zM478.2 118.5h2.6v2.4h-2.6zM449.6 120.9h2.6v2.4h-2.6zM452.2 120.9h2.6v2.4h-2.6zM454.8 120.9h2.6v2.4h-2.6zM457.4 120.9h2.6v2.4h-2.6zM462.6 120.9h2.6v2.4h-2.6zM467.8 120.9h2.6v2.4h-2.6zM470.4 120.9h2.6v2.4h-2.6zM473.0 120.9h2.6v2.4h-2.6zM478.2 120.9h2.6v2.4h-2.6zM447.0 123.3h2.6v2.4h-2.6zM452.2 123.3h2.6v2.4h-2.6zM454.8 123.3h2.6v2.4h-2.6zM457.4 123.3h2.6v2.4h-2.6zM460.0 123.3h2.6v2.4h-2.6zM467.8 123.3h2.6v2.4h-2.6zM470.4 123.3h2.6v2.4h-2.6zM473.0 123.3h2.6v2.4h-2.6zM478.2 123.3h2.6v2.4h-2.6zM452.2 125.7h2.6v2.4h-2.6zM454.8 125.7h2.6v2.4h-2.6zM457.4 125.7h2.6v2.4h-2.6zM462.6 125.7h2.6v2.4h-2.6zM467.8 125.7h2.6v2.4h-2.6zM470.4 125.7h2.6v2.4h-2.6zM475.6 125.7h2.6v2.4h-2.6zM449.6 128.1h2.6v2.4h-2.6zM452.2 128.1h2.6v2.4h-2.6zM454.8 128.1h2.6v2.4h-2.6zM457.4 128.1h2.6v2.4h-2.6zM460.0 128.1h2.6v2.4h-2.6zM462.6 128.1h2.6v2.4h-2.6zM465.2 128.1h2.6v2.4h-2.6zM475.6 128.1h2.6v2.4h-2.6zM478.2 128.1h2.6v2.4h-2.6zM480.8 128.1h2.6v2.4h-2.6zM483.4 128.1h2.6v2.4h-2.6zM449.6 130.5h2.6v2.4h-2.6zM452.2 130.5h2.6v2.4h-2.6zM454.8 130.5h2.6v2.4h-2.6zM457.4 130.5h2.6v2.4h-2.6zM460.0 130.5h2.6v2.4h-2.6zM462.6 130.5h2.6v2.4h-2.6zM465.2 130.5h2.6v2.4h-2.6zM467.8 130.5h2.6v2.4h-2.6zM473.0 130.5h2.6v2.4h-2.6zM475.6 130.5h2.6v2.4h-2.6zM480.8 130.5h2.6v2.4h-2.6zM483.4 130.5h2.6v2.4h-2.6zM454.8 132.9h2.6v2.4h-2.6zM457.4 132.9h2.6v2.4h-2.6zM460.0 132.9h2.6v2.4h-2.6zM462.6 132.9h2.6v2.4h-2.6zM465.2 132.9h2.6v2.4h-2.6zM467.8 132.9h2.6v2.4h-2.6zM470.4 132.9h2.6v2.4h-2.6zM480.8 132.9h2.6v2.4h-2.6zM483.4 132.9h2.6v2.4h-2.6zM486.0 132.9h2.6v2.4h-2.6zM457.4 135.3h2.6v2.4h-2.6zM460.0 135.3h2.6v2.4h-2.6zM465.2 135.3h2.6v2.4h-2.6zM470.4 135.3h2.6v2.4h-2.6zM473.0 135.3h2.6v2.4h-2.6zM475.6 135.3h2.6v2.4h-2.6zM478.2 135.3h2.6v2.4h-2.6zM480.8 135.3h2.6v2.4h-2.6zM483.4 135.3h2.6v2.4h-2.6zM486.0 135.3h2.6v2.4h-2.6zM452.2 137.7h2.6v2.4h-2.6zM454.8 137.7h2.6v2.4h-2.6zM465.2 137.7h2.6v2.4h-2.6zM467.8 137.7h2.6v2.4h-2.6zM470.4 137.7h2.6v2.4h-2.6zM473.0 137.7h2.6v2.4h-2.6zM475.6 137.7h2.6v2.4h-2.6zM478.2 137.7h2.6v2.4h-2.6zM483.4 137.7h2.6v2.4h-2.6zM457.4 140.1h2.6v2.4h-2.6zM460.0 140.1h2.6v2.4h-2.6zM462.6 140.1h2.6v2.4h-2.6zM465.2 140.1h2.6v2.4h-2.6zM473.0 140.1h2.6v2.4h-2.6zM478.2 140.1h2.6v2.4h-2.6zM480.8 140.1h2.6v2.4h-2.6zM483.4 140.1h2.6v2.4h-2.6zM488.6 140.1h2.6v2.4h-2.6z" fill="#d7defa"/>
<path d="M431.4 24.9h2.6v2.4h-2.6zM413.2 29.7h2.6v2.4h-2.6zM428.8 29.7h2.6v2.4h-2.6zM413.2 32.1h2.6v2.4h-2.6zM421.0 32.1h2.6v2.4h-2.6zM434.0 32.1h2.6v2.4h-2.6zM431.4 34.5h2.6v2.4h-2.6zM436.6 36.9h2.6v2.4h-2.6zM426.2 39.3h2.6v2.4h-2.6zM428.8 39.3h2.6v2.4h-2.6zM431.4 39.3h2.6v2.4h-2.6zM434.0 39.3h2.6v2.4h-2.6zM415.8 41.7h2.6v2.4h-2.6zM413.2 46.5h2.6v2.4h-2.6zM418.4 46.5h2.6v2.4h-2.6zM415.8 48.9h2.6v2.4h-2.6zM423.6 48.9h2.6v2.4h-2.6zM436.6 48.9h2.6v2.4h-2.6zM441.8 51.3h2.6v2.4h-2.6zM415.8 53.7h2.6v2.4h-2.6zM423.6 53.7h2.6v2.4h-2.6zM428.8 56.1h2.6v2.4h-2.6zM434.0 56.1h2.6v2.4h-2.6zM436.6 56.1h2.6v2.4h-2.6zM410.6 58.5h2.6v2.4h-2.6zM413.2 58.5h2.6v2.4h-2.6zM418.4 58.5h2.6v2.4h-2.6zM410.6 60.9h2.6v2.4h-2.6zM421.0 60.9h2.6v2.4h-2.6zM410.6 63.3h2.6v2.4h-2.6zM423.6 63.3h2.6v2.4h-2.6zM439.2 63.3h2.6v2.4h-2.6zM441.8 63.3h2.6v2.4h-2.6zM408.0 65.7h2.6v2.4h-2.6zM410.6 68.1h2.6v2.4h-2.6zM434.0 68.1h2.6v2.4h-2.6zM413.2 70.5h2.6v2.4h-2.6zM431.4 72.9h2.6v2.4h-2.6zM439.2 75.3h2.6v2.4h-2.6zM418.4 77.7h2.6v2.4h-2.6zM434.0 82.5h2.6v2.4h-2.6zM434.0 87.3h2.6v2.4h-2.6zM447.0 87.3h2.6v2.4h-2.6zM457.4 87.3h2.6v2.4h-2.6zM460.0 87.3h2.6v2.4h-2.6zM444.4 89.7h2.6v2.4h-2.6zM462.6 89.7h2.6v2.4h-2.6zM439.2 92.1h2.6v2.4h-2.6zM452.2 92.1h2.6v2.4h-2.6zM457.4 92.1h2.6v2.4h-2.6zM460.0 92.1h2.6v2.4h-2.6zM462.6 92.1h2.6v2.4h-2.6zM449.6 96.9h2.6v2.4h-2.6zM454.8 96.9h2.6v2.4h-2.6zM457.4 96.9h2.6v2.4h-2.6zM462.6 99.3h2.6v2.4h-2.6zM460.0 101.7h2.6v2.4h-2.6zM449.6 104.1h2.6v2.4h-2.6zM465.2 104.1h2.6v2.4h-2.6zM452.2 106.5h2.6v2.4h-2.6zM462.6 106.5h2.6v2.4h-2.6zM467.8 106.5h2.6v2.4h-2.6zM452.2 108.9h2.6v2.4h-2.6zM449.6 111.3h2.6v2.4h-2.6zM454.8 111.3h2.6v2.4h-2.6zM462.6 111.3h2.6v2.4h-2.6zM467.8 111.3h2.6v2.4h-2.6zM475.6 111.3h2.6v2.4h-2.6zM467.8 113.7h2.6v2.4h-2.6zM457.4 118.5h2.6v2.4h-2.6zM470.4 118.5h2.6v2.4h-2.6zM475.6 118.5h2.6v2.4h-2.6zM447.0 120.9h2.6v2.4h-2.6zM475.6 120.9h2.6v2.4h-2.6zM449.6 123.3h2.6v2.4h-2.6zM462.6 123.3h2.6v2.4h-2.6zM475.6 123.3h2.6v2.4h-2.6zM480.8 123.3h2.6v2.4h-2.6zM473.0 125.7h2.6v2.4h-2.6zM478.2 125.7h2.6v2.4h-2.6zM480.8 125.7h2.6v2.4h-2.6zM467.8 128.1h2.6v2.4h-2.6zM470.4 128.1h2.6v2.4h-2.6zM470.4 130.5h2.6v2.4h-2.6zM478.2 130.5h2.6v2.4h-2.6zM452.2 132.9h2.6v2.4h-2.6zM473.0 132.9h2.6v2.4h-2.6zM478.2 132.9h2.6v2.4h-2.6zM452.2 135.3h2.6v2.4h-2.6zM462.6 135.3h2.6v2.4h-2.6zM467.8 135.3h2.6v2.4h-2.6zM462.6 137.7h2.6v2.4h-2.6zM480.8 137.7h2.6v2.4h-2.6zM488.6 137.7h2.6v2.4h-2.6zM454.8 140.1h2.6v2.4h-2.6zM467.8 140.1h2.6v2.4h-2.6zM470.4 140.1h2.6v2.4h-2.6z" fill="#d7eefa"/>
<path d="M278.4 84.4h2.6v2.4h-2.6zM278.4 86.8h2.6v2.4h-2.6zM278.4 89.2h2.6v2.4h-2.6zM278.4 91.6h2.6v2.4h-2.6zM281.0 91.6h2.6v2.4h-2.6zM278.4 94.0h2.6v2.4h-2.6zM281.0 94.0h2.6v2.4h-2.6zM283.6 94.0h2.6v2.4h-2.6zM278.4 96.4h2.6v2.4h-2.6zM283.6 96.4h2.6v2.4h-2.6zM281.0 98.8h2.6v2.4h-2.6zM283.6 98.8h2.6v2.4h-2.6zM286.2 98.8h2.6v2.4h-2.6zM281.0 101.2h2.6v2.4h-2.6zM283.6 101.2h2.6v2.4h-2.6zM281.0 103.6h2.6v2.4h-2.6zM283.6 103.6h2.6v2.4h-2.6zM286.2 103.6h2.6v2.4h-2.6zM281.0 106.0h2.6v2.4h-2.6zM283.6 106.0h2.6v2.4h-2.6zM281.0 108.4h2.6v2.4h-2.6zM283.6 108.4h2.6v2.4h-2.6zM281.0 110.8h2.6v2.4h-2.6zM283.6 110.8h2.6v2.4h-2.6zM288.8 110.8h2.6v2.4h-2.6zM283.6 113.2h2.6v2.4h-2.6zM288.8 113.2h2.6v2.4h-2.6zM291.4 113.2h2.6v2.4h-2.6zM278.4 115.6h2.6v2.4h-2.6zM281.0 115.6h2.6v2.4h-2.6zM286.2 115.6h2.6v2.4h-2.6zM288.8 115.6h2.6v2.4h-2.6zM291.4 115.6h2.6v2.4h-2.6zM278.4 118.0h2.6v2.4h-2.6zM281.0 118.0h2.6v2.4h-2.6zM283.6 118.0h2.6v2.4h-2.6zM288.8 118.0h2.6v2.4h-2.6zM291.4 118.0h2.6v2.4h-2.6zM286.2 120.4h2.6v2.4h-2.6zM288.8 120.4h2.6v2.4h-2.6zM291.4 120.4h2.6v2.4h-2.6zM278.4 122.8h2.6v2.4h-2.6zM281.0 122.8h2.6v2.4h-2.6zM283.6 122.8h2.6v2.4h-2.6zM286.2 122.8h2.6v2.4h-2.6zM288.8 122.8h2.6v2.4h-2.6zM291.4 122.8h2.6v2.4h-2.6zM278.4 125.2h2.6v2.4h-2.6zM281.0 125.2h2.6v2.4h-2.6zM288.8 125.2h2.6v2.4h-2.6zM291.4 125.2h2.6v2.4h-2.6zM294.0 125.2h2.6v2.4h-2.6zM278.4 127.6h2.6v2.4h-2.6zM281.0 127.6h2.6v2.4h-2.6zM283.6 127.6h2.6v2.4h-2.6zM283.6 130.0h2.6v2.4h-2.6zM288.8 130.0h2.6v2.4h-2.6zM294.0 130.0h2.6v2.4h-2.6zM296.6 130.0h2.6v2.4h-2.6zM278.4 132.4h2.6v2.4h-2.6zM281.0 132.4h2.6v2.4h-2.6zM283.6 132.4h2.6v2.4h-2.6zM286.2 132.4h2.6v2.4h-2.6zM288.8 132.4h2.6v2.4h-2.6zM291.4 132.4h2.6v2.4h-2.6zM294.0 132.4h2.6v2.4h-2.6zM296.6 132.4h2.6v2.4h-2.6zM278.4 134.8h2.6v2.4h-2.6zM283.6 134.8h2.6v2.4h-2.6zM286.2 134.8h2.6v2.4h-2.6zM288.8 134.8h2.6v2.4h-2.6zM291.4 134.8h2.6v2.4h-2.6zM294.0 134.8h2.6v2.4h-2.6zM278.4 137.2h2.6v2.4h-2.6zM281.0 137.2h2.6v2.4h-2.6zM283.6 137.2h2.6v2.4h-2.6zM286.2 137.2h2.6v2.4h-2.6zM288.8 137.2h2.6v2.4h-2.6zM291.4 137.2h2.6v2.4h-2.6zM296.6 137.2h2.6v2.4h-2.6zM278.4 139.6h2.6v2.4h-2.6zM281.0 139.6h2.6v2.4h-2.6zM286.2 139.6h2.6v2.4h-2.6zM288.8 139.6h2.6v2.4h-2.6zM294.0 139.6h2.6v2.4h-2.6zM296.6 139.6h2.6v2.4h-2.6zM299.2 139.6h2.6v2.4h-2.6z" fill="#d7defa"/>
<path d="M281.0 86.8h2.6v2.4h-2.6zM283.6 91.6h2.6v2.4h-2.6zM281.0 96.4h2.6v2.4h-2.6zM278.4 98.8h2.6v2.4h-2.6zM286.2 101.2h2.6v2.4h-2.6zM288.8 106.0h2.6v2.4h-2.6zM286.2 108.4h2.6v2.4h-2.6zM288.8 108.4h2.6v2.4h-2.6zM286.2 110.8h2.6v2.4h-2.6zM278.4 113.2h2.6v2.4h-2.6zM286.2 118.0h2.6v2.4h-2.6zM278.4 120.4h2.6v2.4h-2.6zM283.6 120.4h2.6v2.4h-2.6zM294.0 122.8h2.6v2.4h-2.6zM283.6 125.2h2.6v2.4h-2.6zM286.2 125.2h2.6v2.4h-2.6zM291.4 127.6h2.6v2.4h-2.6zM278.4 130.0h2.6v2.4h-2.6zM286.2 130.0h2.6v2.4h-2.6zM291.4 130.0h2.6v2.4h-2.6zM281.0 134.8h2.6v2.4h-2.6zM296.6 134.8h2.6v2.4h-2.6z" fill="#d7eefa"/>
<path d="M482.6 14.7h2.6v2.4h-2.6zM482.6 21.9h2.6v2.4h-2.6zM487.8 21.9h2.6v2.4h-2.6zM487.8 24.3h2.6v2.4h-2.6zM490.4 24.3h2.6v2.4h-2.6zM490.4 29.1h2.6v2.4h-2.6z" fill="#d7eefa"/>
<path d="M485.2 14.7h2.6v2.4h-2.6zM490.4 14.7h2.6v2.4h-2.6zM493.0 14.7h2.6v2.4h-2.6zM482.6 17.1h2.6v2.4h-2.6zM485.2 17.1h2.6v2.4h-2.6zM487.8 17.1h2.6v2.4h-2.6zM482.6 19.5h2.6v2.4h-2.6zM487.8 19.5h2.6v2.4h-2.6zM490.4 19.5h2.6v2.4h-2.6zM493.0 19.5h2.6v2.4h-2.6zM485.2 21.9h2.6v2.4h-2.6zM490.4 21.9h2.6v2.4h-2.6zM495.6 21.9h2.6v2.4h-2.6zM493.0 24.3h2.6v2.4h-2.6zM487.8 26.7h2.6v2.4h-2.6zM490.4 26.7h2.6v2.4h-2.6zM493.0 26.7h2.6v2.4h-2.6zM495.6 26.7h2.6v2.4h-2.6zM487.8 29.1h2.6v2.4h-2.6zM493.0 29.1h2.6v2.4h-2.6zM493.0 31.5h2.6v2.4h-2.6zM495.6 31.5h2.6v2.4h-2.6zM493.0 33.9h2.6v2.4h-2.6zM495.6 33.9h2.6v2.4h-2.6zM495.6 36.3h2.6v2.4h-2.6z" fill="#d7defa"/>
<path d="M299.9 16.0h2.1v1.2h-2.1zM299.8 17.4h2.8v1.2h-2.8zM333.6 39.7h1.4v1.2h-1.4zM336.1 62.8h1.4v1.2h-1.4zM338.8 63.9h1.4v1.2h-1.4zM329.5 65.3h1.4v1.2h-1.4zM341.7 65.3h1.4v1.2h-1.4zM340.5 74.8h2.1v1.2h-2.1zM345.8 75.0h1.4v1.2h-1.4zM359.0 75.0h2.8v1.2h-2.8zM332.4 76.2h2.8v1.2h-2.8zM341.9 80.9h2.8v1.2h-2.8zM352.8 86.7h2.8v1.2h-2.8zM354.2 90.7h2.8v1.2h-2.8zM360.1 95.4h1.4v1.2h-1.4zM369.9 100.1h2.8v1.2h-2.8zM371.6 103.6h1.4v1.2h-1.4zM368.3 104.4h2.8v1.2h-2.8zM369.7 104.9h2.8v1.2h-2.8zM357.2 106.1h1.4v1.2h-1.4zM374.5 105.7h2.1v1.2h-2.1zM349.1 106.9h2.8v1.2h-2.8zM364.5 109.7h1.4v1.2h-1.4zM381.0 109.3h1.4v1.2h-1.4zM358.9 111.7h2.8v1.2h-2.8zM381.3 116.7h2.1v1.2h-2.1zM382.5 116.7h2.8v1.2h-2.8zM365.3 119.0h2.8v1.2h-2.8zM377.2 119.4h1.4v1.2h-1.4zM357.1 126.3h2.1v1.2h-2.1zM386.4 127.9h2.8v1.2h-2.8zM361.5 132.5h1.4v1.2h-1.4zM392.2 132.5h1.4v1.2h-1.4zM376.6 137.1h1.4v1.2h-1.4z" fill="#87a5fa"/>
<path d="M315.5 17.0h2.1v1.2h-2.1zM318.4 17.2h1.4v1.2h-1.4zM331.9 38.5h2.8v1.2h-2.8zM329.3 40.3h1.4v1.2h-1.4zM344.9 54.7h2.1v1.2h-2.1zM343.7 58.0h2.8v1.2h-2.8zM334.9 66.2h2.1v1.2h-2.1zM335.1 68.7h1.4v1.2h-1.4zM353.5 72.3h1.4v1.2h-1.4zM341.6 73.3h2.1v1.2h-2.1zM361.5 76.8h2.8v1.2h-2.8zM352.0 86.5h1.4v1.2h-1.4zM365.7 88.2h2.8v1.2h-2.8zM346.1 90.1h1.4v1.2h-1.4zM349.2 90.6h1.4v1.2h-1.4zM344.5 92.0h2.1v1.2h-2.1zM343.1 92.8h2.1v1.2h-2.1zM368.7 92.4h2.8v1.2h-2.8zM354.3 103.2h2.1v1.2h-2.1zM371.2 104.5h1.4v1.2h-1.4zM356.1 106.1h2.1v1.2h-2.1zM350.6 111.6h1.4v1.2h-1.4zM349.0 115.3h1.4v1.2h-1.4zM363.3 115.8h2.8v1.2h-2.8zM387.9 128.6h1.4v1.2h-1.4zM390.7 128.7h1.4v1.2h-1.4zM365.9 131.3h1.4v1.2h-1.4zM368.8 133.3h1.4v1.2h-1.4zM387.8 140.7h2.8v1.2h-2.8z" fill="#aab4f5"/>
<path d="M329.6 17.4h2.1v1.2h-2.1zM328.2 18.1h2.1v1.2h-2.1zM311.0 20.6h1.4v1.2h-1.4zM310.0 23.0h1.4v1.2h-1.4zM331.0 41.0h2.1v1.2h-2.1zM344.8 46.2h1.4v1.2h-1.4zM333.7 56.9h1.4v1.2h-1.4zM339.5 56.9h1.4v1.2h-1.4zM339.4 61.7h1.4v1.2h-1.4zM336.7 70.0h1.4v1.2h-1.4zM346.2 70.3h1.4v1.2h-1.4zM348.7 75.1h2.1v1.2h-2.1zM350.6 87.0h1.4v1.2h-1.4zM357.0 87.0h1.4v1.2h-1.4zM367.4 86.8h1.4v1.2h-1.4zM354.3 88.4h2.1v1.2h-2.1zM371.5 87.8h1.4v1.2h-1.4zM357.2 93.6h2.1v1.2h-2.1zM375.6 99.0h2.1v1.2h-2.1zM371.2 101.3h1.4v1.2h-1.4zM376.7 104.6h1.4v1.2h-1.4zM353.3 106.9h1.4v1.2h-1.4zM369.9 108.6h2.1v1.2h-2.1zM372.9 110.8h1.4v1.2h-1.4zM382.8 113.3h2.8v1.2h-2.8zM375.2 116.9h1.4v1.2h-1.4zM371.7 118.1h2.8v1.2h-2.8zM363.2 123.0h2.8v1.2h-2.8zM367.2 122.7h2.1v1.2h-2.1zM371.5 124.3h1.4v1.2h-1.4zM382.3 123.8h1.4v1.2h-1.4zM384.2 123.8h2.8v1.2h-2.8zM366.7 130.2h2.8v1.2h-2.8zM374.4 139.8h1.4v1.2h-1.4zM357.5 140.6h2.1v1.2h-2.1z" fill="#9aa6f0"/>
<path d="M308.0 21.7h1.4v1.2h-1.4zM328.0 38.6h2.1v1.2h-2.1zM332.0 64.9h1.4v1.2h-1.4zM354.4 68.8h1.4v1.2h-1.4zM330.4 72.3h2.8v1.2h-2.8zM368.5 80.7h1.4v1.2h-1.4zM344.7 98.7h2.1v1.2h-2.1zM364.1 114.6h1.4v1.2h-1.4zM372.9 117.2h2.8v1.2h-2.8zM382.8 119.0h1.4v1.2h-1.4zM386.4 124.8h1.4v1.2h-1.4zM371.0 128.9h1.4v1.2h-1.4zM377.0 129.1h1.4v1.2h-1.4zM354.6 129.6h1.4v1.2h-1.4z" fill="#c8f5fa"/>
<path d="M317.9 24.2h2.8v1.2h-2.8zM336.7 34.8h2.1v1.2h-2.1zM332.4 37.3h2.1v1.2h-2.1zM343.6 62.7h2.1v1.2h-2.1zM337.7 74.7h1.4v1.2h-1.4zM336.0 82.0h1.4v1.2h-1.4zM357.5 81.9h1.4v1.2h-1.4zM368.4 99.7h1.4v1.2h-1.4zM371.4 109.7h2.1v1.2h-2.1zM361.6 120.3h2.1v1.2h-2.1zM382.8 121.9h1.4v1.2h-1.4zM354.4 135.1h1.4v1.2h-1.4z" fill="#5a78e6"/>
<path d="M371.0 94.4h1.4v1.2h-1.4zM358.9 140.6h1.4v1.2h-1.4z" fill="#4650b4"/>
<path d="M413.7 26.4h1.4v1.2h-1.4zM419.5 32.1h1.4v1.2h-1.4zM422.0 42.6h2.8v1.2h-2.8zM413.2 52.8h1.4v1.2h-1.4zM424.7 52.1h2.1v1.2h-2.1zM416.3 58.7h1.4v1.2h-1.4zM420.3 61.9h1.4v1.2h-1.4zM411.2 63.5h2.1v1.2h-2.1zM411.2 64.8h1.4v1.2h-1.4zM420.5 68.0h2.8v1.2h-2.8zM436.2 71.5h2.1v1.2h-2.1zM447.0 75.1h2.1v1.2h-2.1zM442.8 77.7h2.1v1.2h-2.1zM437.3 82.3h1.4v1.2h-1.4zM458.4 82.4h1.4v1.2h-1.4zM426.3 83.8h1.4v1.2h-1.4zM455.8 90.7h2.1v1.2h-2.1zM461.3 93.5h2.8v1.2h-2.8zM459.5 94.2h2.8v1.2h-2.8zM472.2 105.2h1.4v1.2h-1.4zM446.2 109.8h1.4v1.2h-1.4zM465.8 110.1h1.4v1.2h-1.4zM454.4 111.1h1.4v1.2h-1.4zM469.4 113.7h1.4v1.2h-1.4zM478.0 116.4h2.1v1.2h-2.1zM458.7 122.9h2.8v1.2h-2.8zM454.2 124.7h2.1v1.2h-2.1zM461.6 129.2h1.4v1.2h-1.4zM473.6 130.4h2.8v1.2h-2.8zM464.0 133.9h2.1v1.2h-2.1zM477.0 141.1h1.4v1.2h-1.4z" fill="#aab4f5"/>
<path d="M408.3 27.1h2.8v1.2h-2.8zM434.4 28.1h1.4v1.2h-1.4zM416.5 29.6h2.1v1.2h-2.1zM429.1 29.7h1.4v1.2h-1.4zM426.1 33.3h2.8v1.2h-2.8zM408.1 42.0h1.4v1.2h-1.4zM438.6 51.1h1.4v1.2h-1.4zM413.4 60.1h2.1v1.2h-2.1zM427.4 60.9h1.4v1.2h-1.4zM419.6 63.3h1.4v1.2h-1.4zM409.2 66.6h1.4v1.2h-1.4zM426.6 76.4h1.4v1.2h-1.4zM451.1 79.2h2.8v1.2h-2.8zM431.7 83.4h1.4v1.2h-1.4zM437.5 96.8h2.1v1.2h-2.1zM464.1 101.6h2.8v1.2h-2.8zM467.9 101.5h2.1v1.2h-2.1zM447.2 104.1h1.4v1.2h-1.4zM448.7 105.3h2.1v1.2h-2.1zM445.5 109.0h2.8v1.2h-2.8zM447.1 108.8h2.1v1.2h-2.1zM459.5 115.0h1.4v1.2h-1.4zM455.4 116.9h1.4v1.2h-1.4zM472.5 117.0h2.1v1.2h-2.1zM452.7 126.7h2.8v1.2h-2.8zM453.9 127.1h1.4v1.2h-1.4zM464.3 128.4h2.1v1.2h-2.1zM462.8 133.1h2.1v1.2h-2.1zM472.7 132.5h2.8v1.2h-2.8zM458.7 134.0h2.8v1.2h-2.8zM454.5 135.5h2.8v1.2h-2.8zM471.3 139.2h2.1v1.2h-2.1z" fill="#9aa6f0"/>
<path d="M417.7 28.8h2.1v1.2h-2.1zM430.3 33.7h2.1v1.2h-2.1zM428.7 34.6h2.8v1.2h-2.8zM416.6 52.8h1.4v1.2h-1.4zM427.9 53.5h1.4v1.2h-1.4zM419.2 59.9h1.4v1.2h-1.4zM450.0 123.2h2.8v1.2h-2.8z" fill="#5a78e6"/>
<path d="M410.9 30.8h2.8v1.2h-2.8zM419.5 33.0h2.1v1.2h-2.1zM438.5 35.4h1.4v1.2h-1.4zM408.3 37.0h2.1v1.2h-2.1zM441.5 46.3h2.1v1.2h-2.1zM435.0 58.3h1.4v1.2h-1.4zM439.9 87.4h1.4v1.2h-1.4zM452.8 88.3h1.4v1.2h-1.4zM461.4 100.5h2.1v1.2h-2.1zM474.9 113.9h1.4v1.2h-1.4zM444.2 116.1h1.4v1.2h-1.4zM469.9 121.7h1.4v1.2h-1.4zM460.1 125.5h1.4v1.2h-1.4zM479.6 129.2h1.4v1.2h-1.4zM463.9 130.9h2.8v1.2h-2.8zM483.6 135.4h2.8v1.2h-2.8zM454.3 136.5h2.8v1.2h-2.8z" fill="#c8f5fa"/>
<path d="M418.2 31.9h2.8v1.2h-2.8zM432.9 35.3h1.4v1.2h-1.4zM419.6 37.1h2.1v1.2h-2.1zM423.8 39.0h1.4v1.2h-1.4zM436.4 44.4h2.8v1.2h-2.8zM413.8 46.8h2.8v1.2h-2.8zM415.0 47.5h1.4v1.2h-1.4zM422.4 47.3h2.1v1.2h-2.1zM420.8 50.2h1.4v1.2h-1.4zM431.5 74.3h1.4v1.2h-1.4zM426.0 75.0h2.8v1.2h-2.8zM441.7 82.4h2.1v1.2h-2.1zM448.5 84.8h1.4v1.2h-1.4zM448.2 99.1h1.4v1.2h-1.4zM453.9 101.7h2.1v1.2h-2.1zM470.0 101.7h2.1v1.2h-2.1zM460.0 107.7h2.8v1.2h-2.8zM463.7 107.4h2.8v1.2h-2.8zM468.2 107.5h1.4v1.2h-1.4zM448.3 108.9h1.4v1.2h-1.4zM451.8 108.7h1.4v1.2h-1.4zM457.3 111.5h2.8v1.2h-2.8zM446.9 112.7h2.1v1.2h-2.1zM459.7 114.1h1.4v1.2h-1.4zM464.0 116.0h2.8v1.2h-2.8zM454.4 120.6h1.4v1.2h-1.4zM480.6 121.1h1.4v1.2h-1.4zM472.4 121.9h1.4v1.2h-1.4zM479.2 125.4h1.4v1.2h-1.4zM482.6 125.6h2.8v1.2h-2.8zM467.1 127.9h2.1v1.2h-2.1zM454.3 131.9h1.4v1.2h-1.4zM489.2 137.3h1.4v1.2h-1.4z" fill="#87a5fa"/>
<path d="M414.7 34.5h2.8v1.2h-2.8zM421.8 39.5h2.1v1.2h-2.1zM445.5 70.4h1.4v1.2h-1.4zM423.4 77.5h1.4v1.2h-1.4zM446.9 106.5h1.4v1.2h-1.4z" fill="#4650b4"/>
<path d="M281.4 91.2h2.1v1.2h-2.1zM289.5 110.4h2.8v1.2h-2.8zM288.5 115.8h1.4v1.2h-1.4zM289.6 118.2h1.4v1.2h-1.4zM295.5 129.7h1.4v1.2h-1.4z" fill="#5a78e6"/>
<path d="M281.1 99.1h1.4v1.2h-1.4zM283.7 124.1h2.8v1.2h-2.8zM296.6 134.9h2.8v1.2h-2.8zM291.4 135.6h1.4v1.2h-1.4zM290.7 138.5h1.4v1.2h-1.4zM285.4 139.5h1.4v1.2h-1.4z" fill="#9aa6f0"/>
<path d="M279.6 102.4h2.1v1.2h-2.1zM281.4 104.4h2.1v1.2h-2.1zM282.4 109.7h2.8v1.2h-2.8zM291.1 114.3h1.4v1.2h-1.4zM292.7 127.2h2.8v1.2h-2.8zM281.0 128.8h1.4v1.2h-1.4zM282.7 128.9h2.8v1.2h-2.8zM287.0 133.3h1.4v1.2h-1.4zM285.6 138.5h2.8v1.2h-2.8zM293.6 138.0h2.1v1.2h-2.1zM301.2 140.9h1.4v1.2h-1.4z" fill="#87a5fa"/>
<path d="M290.8 117.7h1.4v1.2h-1.4zM278.8 122.5h2.1v1.2h-2.1zM279.6 140.4h1.4v1.2h-1.4zM285.5 140.4h2.1v1.2h-2.1z" fill="#aab4f5"/>
<path d="M282.3 136.1h2.1v1.2h-2.1zM295.5 139.7h2.1v1.2h-2.1z" fill="#c8f5fa"/>
<path d="M280.2 138.1h1.4v1.2h-1.4z" fill="#4650b4"/>
<path d="M415.8 25.0h2.6v2.4h-2.6zM421.0 25.0h2.6v2.4h-2.6zM423.6 27.4h2.6v2.4h-2.6zM431.4 27.4h2.6v2.4h-2.6zM413.2 29.8h2.6v2.4h-2.6zM415.8 29.8h2.6v2.4h-2.6zM415.8 32.2h2.6v2.4h-2.6zM426.2 32.2h2.6v2.4h-2.6zM431.4 34.6h2.6v2.4h-2.6zM434.0 34.6h2.6v2.4h-2.6zM413.2 37.0h2.6v2.4h-2.6zM418.4 37.0h2.6v2.4h-2.6zM426.2 37.0h2.6v2.4h-2.6zM431.4 37.0h2.6v2.4h-2.6zM436.6 37.0h2.6v2.4h-2.6zM410.6 39.4h2.6v2.4h-2.6zM418.4 39.4h2.6v2.4h-2.6zM434.0 39.4h2.6v2.4h-2.6zM436.6 39.4h2.6v2.4h-2.6zM413.2 41.8h2.6v2.4h-2.6zM428.8 41.8h2.6v2.4h-2.6zM431.4 41.8h2.6v2.4h-2.6zM434.0 41.8h2.6v2.4h-2.6zM436.6 41.8h2.6v2.4h-2.6zM439.2 41.8h2.6v2.4h-2.6zM408.0 44.2h2.6v2.4h-2.6zM413.2 44.2h2.6v2.4h-2.6zM415.8 44.2h2.6v2.4h-2.6zM418.4 44.2h2.6v2.4h-2.6zM436.6 44.2h2.6v2.4h-2.6zM408.0 46.6h2.6v2.4h-2.6zM413.2 46.6h2.6v2.4h-2.6zM415.8 46.6h2.6v2.4h-2.6zM418.4 46.6h2.6v2.4h-2.6zM428.8 46.6h2.6v2.4h-2.6zM410.6 49.0h2.6v2.4h-2.6zM415.8 49.0h2.6v2.4h-2.6zM415.8 51.4h2.6v2.4h-2.6zM421.0 51.4h2.6v2.4h-2.6zM428.8 51.4h2.6v2.4h-2.6zM434.0 51.4h2.6v2.4h-2.6zM413.2 53.8h2.6v2.4h-2.6zM431.4 53.8h2.6v2.4h-2.6zM436.6 53.8h2.6v2.4h-2.6zM418.4 56.2h2.6v2.4h-2.6zM431.4 56.2h2.6v2.4h-2.6zM436.6 56.2h2.6v2.4h-2.6zM408.0 58.6h2.6v2.4h-2.6zM413.2 58.6h2.6v2.4h-2.6zM436.6 58.6h2.6v2.4h-2.6zM418.4 61.0h2.6v2.4h-2.6zM434.0 61.0h2.6v2.4h-2.6zM408.0 63.4h2.6v2.4h-2.6zM413.2 63.4h2.6v2.4h-2.6zM426.2 63.4h2.6v2.4h-2.6zM439.2 63.4h2.6v2.4h-2.6zM418.4 65.8h2.6v2.4h-2.6zM421.0 65.8h2.6v2.4h-2.6z" fill="#d7defa"/>
<path d="M423.6 25.0h2.6v2.4h-2.6zM426.2 25.0h2.6v2.4h-2.6zM428.8 25.0h2.6v2.4h-2.6zM408.0 27.4h2.6v2.4h-2.6zM415.8 27.4h2.6v2.4h-2.6zM418.4 27.4h2.6v2.4h-2.6zM421.0 27.4h2.6v2.4h-2.6zM426.2 27.4h2.6v2.4h-2.6zM418.4 29.8h2.6v2.4h-2.6zM426.2 29.8h2.6v2.4h-2.6zM410.6 32.2h2.6v2.4h-2.6zM421.0 32.2h2.6v2.4h-2.6zM408.0 34.6h2.6v2.4h-2.6zM408.0 37.0h2.6v2.4h-2.6zM410.6 37.0h2.6v2.4h-2.6zM408.0 39.4h2.6v2.4h-2.6zM426.2 39.4h2.6v2.4h-2.6zM415.8 41.8h2.6v2.4h-2.6zM426.2 41.8h2.6v2.4h-2.6zM423.6 44.2h2.6v2.4h-2.6zM439.2 44.2h2.6v2.4h-2.6zM431.4 46.6h2.6v2.4h-2.6zM426.2 49.0h2.6v2.4h-2.6zM428.8 49.0h2.6v2.4h-2.6zM434.0 49.0h2.6v2.4h-2.6zM410.6 51.4h2.6v2.4h-2.6zM408.0 53.8h2.6v2.4h-2.6zM415.8 53.8h2.6v2.4h-2.6zM439.2 53.8h2.6v2.4h-2.6zM408.0 56.2h2.6v2.4h-2.6zM415.8 56.2h2.6v2.4h-2.6zM428.8 56.2h2.6v2.4h-2.6zM418.4 58.6h2.6v2.4h-2.6zM421.0 58.6h2.6v2.4h-2.6zM423.6 58.6h2.6v2.4h-2.6zM434.0 58.6h2.6v2.4h-2.6zM413.2 61.0h2.6v2.4h-2.6zM410.6 63.4h2.6v2.4h-2.6zM415.8 63.4h2.6v2.4h-2.6zM423.6 63.4h2.6v2.4h-2.6zM413.2 65.8h2.6v2.4h-2.6zM434.0 65.8h2.6v2.4h-2.6zM436.6 65.8h2.6v2.4h-2.6z" fill="#d7eefa"/>
<path d="M458.2 84.0h2.6v2.4h-2.6zM458.2 86.4h2.6v2.4h-2.6zM460.8 86.4h2.6v2.4h-2.6zM450.4 88.8h2.6v2.4h-2.6zM455.6 88.8h2.6v2.4h-2.6zM460.8 88.8h2.6v2.4h-2.6zM463.4 88.8h2.6v2.4h-2.6zM453.0 91.2h2.6v2.4h-2.6zM463.4 91.2h2.6v2.4h-2.6zM440.0 93.6h2.6v2.4h-2.6zM445.2 93.6h2.6v2.4h-2.6zM447.8 93.6h2.6v2.4h-2.6zM453.0 93.6h2.6v2.4h-2.6zM455.6 93.6h2.6v2.4h-2.6zM460.8 93.6h2.6v2.4h-2.6zM466.0 93.6h2.6v2.4h-2.6zM450.4 96.0h2.6v2.4h-2.6zM466.0 96.0h2.6v2.4h-2.6zM442.6 98.4h2.6v2.4h-2.6zM458.2 98.4h2.6v2.4h-2.6zM460.8 98.4h2.6v2.4h-2.6zM463.4 98.4h2.6v2.4h-2.6zM468.6 98.4h2.6v2.4h-2.6zM453.0 100.8h2.6v2.4h-2.6zM455.6 100.8h2.6v2.4h-2.6zM447.8 103.2h2.6v2.4h-2.6zM455.6 103.2h2.6v2.4h-2.6zM458.2 103.2h2.6v2.4h-2.6zM460.8 103.2h2.6v2.4h-2.6zM463.4 103.2h2.6v2.4h-2.6zM471.2 103.2h2.6v2.4h-2.6zM455.6 105.6h2.6v2.4h-2.6zM460.8 105.6h2.6v2.4h-2.6zM450.4 108.0h2.6v2.4h-2.6zM460.8 108.0h2.6v2.4h-2.6zM463.4 108.0h2.6v2.4h-2.6zM458.2 110.4h2.6v2.4h-2.6zM463.4 110.4h2.6v2.4h-2.6zM450.4 112.8h2.6v2.4h-2.6zM458.2 112.8h2.6v2.4h-2.6zM460.8 112.8h2.6v2.4h-2.6zM468.6 112.8h2.6v2.4h-2.6zM473.8 112.8h2.6v2.4h-2.6zM453.0 115.2h2.6v2.4h-2.6zM463.4 115.2h2.6v2.4h-2.6zM468.6 115.2h2.6v2.4h-2.6zM471.2 115.2h2.6v2.4h-2.6zM473.8 115.2h2.6v2.4h-2.6zM476.4 115.2h2.6v2.4h-2.6zM447.8 117.6h2.6v2.4h-2.6zM453.0 117.6h2.6v2.4h-2.6zM460.8 117.6h2.6v2.4h-2.6zM463.4 117.6h2.6v2.4h-2.6zM476.4 120.0h2.6v2.4h-2.6zM479.0 120.0h2.6v2.4h-2.6zM450.4 122.4h2.6v2.4h-2.6zM463.4 122.4h2.6v2.4h-2.6zM468.6 122.4h2.6v2.4h-2.6zM471.2 122.4h2.6v2.4h-2.6zM479.0 122.4h2.6v2.4h-2.6zM481.6 122.4h2.6v2.4h-2.6zM450.4 124.8h2.6v2.4h-2.6zM453.0 124.8h2.6v2.4h-2.6zM463.4 124.8h2.6v2.4h-2.6zM466.0 124.8h2.6v2.4h-2.6zM473.8 124.8h2.6v2.4h-2.6zM481.6 124.8h2.6v2.4h-2.6zM450.4 127.2h2.6v2.4h-2.6zM453.0 127.2h2.6v2.4h-2.6zM455.6 127.2h2.6v2.4h-2.6zM463.4 127.2h2.6v2.4h-2.6zM468.6 127.2h2.6v2.4h-2.6zM471.2 127.2h2.6v2.4h-2.6zM453.0 129.6h2.6v2.4h-2.6zM458.2 129.6h2.6v2.4h-2.6zM460.8 129.6h2.6v2.4h-2.6zM463.4 129.6h2.6v2.4h-2.6zM476.4 129.6h2.6v2.4h-2.6zM479.0 129.6h2.6v2.4h-2.6zM481.6 129.6h2.6v2.4h-2.6zM484.2 129.6h2.6v2.4h-2.6zM458.2 132.0h2.6v2.4h-2.6zM460.8 132.0h2.6v2.4h-2.6zM473.8 132.0h2.6v2.4h-2.6zM479.0 132.0h2.6v2.4h-2.6zM481.6 132.0h2.6v2.4h-2.6zM486.8 132.0h2.6v2.4h-2.6zM455.6 134.4h2.6v2.4h-2.6zM460.8 134.4h2.6v2.4h-2.6zM463.4 134.4h2.6v2.4h-2.6zM473.8 134.4h2.6v2.4h-2.6zM486.8 134.4h2.6v2.4h-2.6zM458.2 136.8h2.6v2.4h-2.6zM471.2 136.8h2.6v2.4h-2.6zM473.8 136.8h2.6v2.4h-2.6zM486.8 136.8h2.6v2.4h-2.6zM455.6 139.2h2.6v2.4h-2.6zM463.4 139.2h2.6v2.4h-2.6zM476.4 139.2h2.6v2.4h-2.6zM479.0 139.2h2.6v2.4h-2.6zM489.4 139.2h2.6v2.4h-2.6z" fill="#d7defa"/>
<path d="M460.8 84.0h2.6v2.4h-2.6zM455.6 86.4h2.6v2.4h-2.6zM445.2 98.4h2.6v2.4h-2.6zM447.8 98.4h2.6v2.4h-2.6zM450.4 98.4h2.6v2.4h-2.6zM453.0 98.4h2.6v2.4h-2.6zM450.4 103.2h2.6v2.4h-2.6zM468.6 103.2h2.6v2.4h-2.6zM471.2 105.6h2.6v2.4h-2.6zM473.8 105.6h2.6v2.4h-2.6zM458.2 108.0h2.6v2.4h-2.6zM468.6 108.0h2.6v2.4h-2.6zM471.2 108.0h2.6v2.4h-2.6zM473.8 108.0h2.6v2.4h-2.6zM453.0 112.8h2.6v2.4h-2.6zM447.8 115.2h2.6v2.4h-2.6zM466.0 115.2h2.6v2.4h-2.6zM450.4 117.6h2.6v2.4h-2.6zM468.6 117.6h2.6v2.4h-2.6zM476.4 117.6h2.6v2.4h-2.6zM479.0 117.6h2.6v2.4h-2.6zM468.6 120.0h2.6v2.4h-2.6zM458.2 122.4h2.6v2.4h-2.6zM460.8 122.4h2.6v2.4h-2.6zM473.8 122.4h2.6v2.4h-2.6zM455.6 124.8h2.6v2.4h-2.6zM476.4 124.8h2.6v2.4h-2.6zM458.2 127.2h2.6v2.4h-2.6zM466.0 127.2h2.6v2.4h-2.6zM476.4 127.2h2.6v2.4h-2.6zM479.0 127.2h2.6v2.4h-2.6zM484.2 127.2h2.6v2.4h-2.6zM455.6 129.6h2.6v2.4h-2.6zM484.2 132.0h2.6v2.4h-2.6zM453.0 134.4h2.6v2.4h-2.6zM471.2 134.4h2.6v2.4h-2.6zM479.0 134.4h2.6v2.4h-2.6z" fill="#d7eefa"/>
<path d="M306.6 17.0h2.2v2.0h-2.2zM309.0 16.8h2.2v2.0h-2.2zM304.4 19.2h2.2v2.0h-2.2zM306.9 21.2h2.2v2.0h-2.2zM309.3 21.0h2.2v2.0h-2.2z" fill="#8287f5"/>
<path d="M300.3 19.1h2.2v2.0h-2.2zM302.6 20.9h2.2v2.0h-2.2zM322.5 21.1h2.2v2.0h-2.2zM313.3 22.9h2.2v2.0h-2.2z" fill="#5a78e6"/>
<path d="M311.2 18.8h2.2v2.0h-2.2zM315.6 18.9h2.2v2.0h-2.2zM302.1 23.1h2.2v2.0h-2.2zM309.3 23.1h2.2v2.0h-2.2z" fill="#87a5fa"/>
<path d="M303.3 22.7h2.2v2.0h-2.2zM305.8 22.7h2.2v2.0h-2.2z" fill="#5ad714"/>
<path d="M336.9 36.3h2.2v2.0h-2.2zM332.3 40.3h2.2v2.0h-2.2zM336.6 40.2h2.2v2.0h-2.2zM340.9 40.0h2.2v2.0h-2.2zM339.1 41.8h2.2v2.0h-2.2zM340.9 42.2h2.2v2.0h-2.2zM343.1 41.8h2.2v2.0h-2.2zM334.7 44.1h2.2v2.0h-2.2zM339.2 44.2h2.2v2.0h-2.2zM347.6 44.1h2.2v2.0h-2.2zM349.8 44.3h2.2v2.0h-2.2zM343.5 46.2h2.2v2.0h-2.2zM347.6 46.1h2.2v2.0h-2.2zM345.3 47.9h2.2v2.0h-2.2zM339.0 49.7h2.2v2.0h-2.2zM343.7 50.2h2.2v2.0h-2.2zM352.5 49.9h2.2v2.0h-2.2zM328.3 52.0h2.2v2.0h-2.2zM332.5 52.2h2.2v2.0h-2.2zM336.8 52.0h2.2v2.0h-2.2zM348.1 52.0h2.2v2.0h-2.2zM332.2 54.0h2.2v2.0h-2.2zM343.4 53.8h2.2v2.0h-2.2zM345.4 54.1h2.2v2.0h-2.2zM336.9 56.2h2.2v2.0h-2.2zM338.8 55.8h2.2v2.0h-2.2zM336.7 57.8h2.2v2.0h-2.2zM345.7 58.0h2.2v2.0h-2.2zM347.8 59.7h2.2v2.0h-2.2zM349.9 59.7h2.2v2.0h-2.2zM338.7 62.3h2.2v2.0h-2.2zM348.0 62.0h2.2v2.0h-2.2zM332.3 63.9h2.2v2.0h-2.2zM336.6 64.3h2.2v2.0h-2.2zM339.1 63.9h2.2v2.0h-2.2zM343.5 64.1h2.2v2.0h-2.2zM345.4 64.1h2.2v2.0h-2.2zM330.2 65.9h2.2v2.0h-2.2zM339.0 66.1h2.2v2.0h-2.2zM341.2 66.0h2.2v2.0h-2.2zM345.9 65.8h2.2v2.0h-2.2zM341.1 68.2h2.2v2.0h-2.2zM345.5 68.0h2.2v2.0h-2.2zM332.1 70.3h2.2v2.0h-2.2zM334.4 70.1h2.2v2.0h-2.2zM338.8 70.1h2.2v2.0h-2.2zM348.0 70.2h2.2v2.0h-2.2z" fill="#c8f5fa"/>
<path d="M334.9 38.0h2.2v2.0h-2.2zM336.9 38.1h2.2v2.0h-2.2zM343.5 38.3h2.2v2.0h-2.2zM339.3 39.8h2.2v2.0h-2.2zM332.2 43.9h2.2v2.0h-2.2zM341.0 43.9h2.2v2.0h-2.2zM332.3 45.9h2.2v2.0h-2.2zM334.8 45.9h2.2v2.0h-2.2zM349.9 46.2h2.2v2.0h-2.2zM330.0 48.2h2.2v2.0h-2.2zM337.1 47.8h2.2v2.0h-2.2zM338.9 48.1h2.2v2.0h-2.2zM341.0 47.9h2.2v2.0h-2.2zM347.7 48.2h2.2v2.0h-2.2zM327.8 50.1h2.2v2.0h-2.2zM334.9 50.1h2.2v2.0h-2.2zM350.3 51.8h2.2v2.0h-2.2zM336.7 54.1h2.2v2.0h-2.2zM347.6 54.1h2.2v2.0h-2.2zM350.2 54.0h2.2v2.0h-2.2zM330.1 56.0h2.2v2.0h-2.2zM334.3 55.9h2.2v2.0h-2.2zM347.8 56.0h2.2v2.0h-2.2zM350.2 56.3h2.2v2.0h-2.2zM328.1 57.9h2.2v2.0h-2.2zM338.9 58.1h2.2v2.0h-2.2zM343.4 58.3h2.2v2.0h-2.2zM352.3 58.1h2.2v2.0h-2.2zM327.8 60.2h2.2v2.0h-2.2zM352.2 59.9h2.2v2.0h-2.2zM327.8 61.8h2.2v2.0h-2.2zM330.2 61.8h2.2v2.0h-2.2zM334.5 62.0h2.2v2.0h-2.2zM343.5 62.3h2.2v2.0h-2.2zM347.7 63.9h2.2v2.0h-2.2zM336.8 65.8h2.2v2.0h-2.2zM349.9 66.1h2.2v2.0h-2.2zM339.3 67.9h2.2v2.0h-2.2zM347.6 67.9h2.2v2.0h-2.2z" fill="#87a5fa"/>
<path d="M333.0 37.4h2.2v2.0h-2.2zM335.6 37.3h2.2v2.0h-2.2zM337.6 37.2h2.2v2.0h-2.2zM342.2 37.3h2.2v2.0h-2.2zM335.3 39.4h2.2v2.0h-2.2zM337.7 39.4h2.2v2.0h-2.2z" fill="#5a78e6"/>
<path d="M339.8 37.7h2.2v2.0h-2.2zM332.9 39.7h2.2v2.0h-2.2zM339.7 39.8h2.2v2.0h-2.2zM342.1 39.4h2.2v2.0h-2.2z" fill="#4650b4"/>
<path d="M341.7 41.8h2.2v2.0h-2.2zM343.4 41.8h2.2v2.0h-2.2zM337.1 45.7h2.2v2.0h-2.2zM339.3 45.8h2.2v2.0h-2.2zM337.1 50.2h2.2v2.0h-2.2zM343.8 50.1h2.2v2.0h-2.2z" fill="#5ad714"/>
<path d="M346.0 42.0h2.2v2.0h-2.2zM347.9 43.7h2.2v2.0h-2.2z" fill="#8c8c28"/>
<path d="M336.8 43.8h2.2v2.0h-2.2zM348.0 50.1h2.2v2.0h-2.2zM345.7 51.9h2.2v2.0h-2.2z" fill="#c8f5fa"/>
<path d="M341.2 44.0h2.2v2.0h-2.2zM348.0 47.9h2.2v2.0h-2.2zM345.9 50.0h2.2v2.0h-2.2zM341.5 51.9h2.2v2.0h-2.2z" fill="#5a78e6"/>
<path d="M343.7 43.7h2.2v2.0h-2.2zM341.4 46.0h2.2v2.0h-2.2z" fill="#19878c"/>
<path d="M346.0 46.1h2.2v2.0h-2.2zM343.5 52.2h2.2v2.0h-2.2z" fill="#28e10a"/>
<path d="M336.6 51.8h2.2v2.0h-2.2zM338.6 53.9h2.2v2.0h-2.2zM334.3 56.1h2.2v2.0h-2.2zM338.8 55.9h2.2v2.0h-2.2zM334.4 57.9h2.2v2.0h-2.2zM334.3 60.0h2.2v2.0h-2.2zM336.3 60.0h2.2v2.0h-2.2zM334.4 61.8h2.2v2.0h-2.2zM343.1 62.1h2.2v2.0h-2.2zM338.6 65.9h2.2v2.0h-2.2zM336.7 68.1h2.2v2.0h-2.2z" fill="#5a78e6"/>
<path d="M332.2 54.1h2.2v2.0h-2.2zM342.9 56.3h2.2v2.0h-2.2zM345.4 55.9h2.2v2.0h-2.2zM347.5 64.0h2.2v2.0h-2.2zM343.0 68.2h2.2v2.0h-2.2z" fill="#4650b4"/>
<path d="M336.5 57.9h2.2v2.0h-2.2zM339.0 58.0h2.2v2.0h-2.2zM341.2 60.0h2.2v2.0h-2.2zM345.2 62.2h2.2v2.0h-2.2zM338.5 64.2h2.2v2.0h-2.2zM342.9 66.2h2.2v2.0h-2.2zM340.8 67.8h2.2v2.0h-2.2z" fill="#8287f5"/>
<path d="M347.8 58.2h2.2v2.0h-2.2zM329.9 62.1h2.2v2.0h-2.2zM341.0 62.1h2.2v2.0h-2.2zM347.7 61.9h2.2v2.0h-2.2zM336.7 66.2h2.2v2.0h-2.2zM332.1 68.3h2.2v2.0h-2.2z" fill="#5ad714"/>
<path d="M343.3 68.9h2.2v2.0h-2.2zM343.6 70.8h2.2v2.0h-2.2z" fill="#8287f5"/>
<path d="M339.0 71.0h2.2v2.0h-2.2zM336.7 73.0h2.2v2.0h-2.2zM345.9 73.0h2.2v2.0h-2.2zM350.4 73.0h2.2v2.0h-2.2zM339.0 75.2h2.2v2.0h-2.2zM341.7 75.3h2.2v2.0h-2.2z" fill="#5a78e6"/>
<path d="M364.3 97.9h2.2v2.0h-2.2zM366.9 98.1h2.2v2.0h-2.2zM360.3 100.0h2.2v2.0h-2.2zM362.2 100.1h2.2v2.0h-2.2z" fill="#8287f5"/>
<path d="M368.9 100.2h2.2v2.0h-2.2zM364.4 102.1h2.2v2.0h-2.2z" fill="#5a78e6"/>
<path d="M359.1 123.3h2.2v2.0h-2.2zM363.5 122.8h2.2v2.0h-2.2zM361.4 124.9h2.2v2.0h-2.2z" fill="#5ad714"/>
<path d="M361.2 122.9h2.2v2.0h-2.2zM359.2 124.9h2.2v2.0h-2.2zM363.5 125.3h2.2v2.0h-2.2z" fill="#8c8c28"/>
<path d="M364.7 129.1h2.2v2.0h-2.2z" fill="#8c8c28"/>
<path d="M367.3 128.8h2.2v2.0h-2.2zM365.2 130.9h2.2v2.0h-2.2zM367.4 130.8h2.2v2.0h-2.2z" fill="#28e10a"/>
<path d="M371.8 106.2h2.2v2.0h-2.2zM367.3 108.1h2.2v2.0h-2.2zM374.0 108.1h2.2v2.0h-2.2zM371.3 112.0h2.2v2.0h-2.2zM371.7 114.0h2.2v2.0h-2.2zM374.0 114.2h2.2v2.0h-2.2zM369.7 115.8h2.2v2.0h-2.2zM373.5 115.8h2.2v2.0h-2.2zM367.0 120.0h2.2v2.0h-2.2zM369.3 119.8h2.2v2.0h-2.2zM367.3 121.9h2.2v2.0h-2.2zM366.9 124.2h2.2v2.0h-2.2zM369.2 124.0h2.2v2.0h-2.2zM369.1 128.3h2.2v2.0h-2.2z" fill="#5a78e6"/>
<path d="M371.9 107.9h2.2v2.0h-2.2zM367.2 109.8h2.2v2.0h-2.2zM369.4 111.7h2.2v2.0h-2.2zM365.0 115.8h2.2v2.0h-2.2zM371.6 116.0h2.2v2.0h-2.2zM365.0 117.8h2.2v2.0h-2.2zM369.7 121.9h2.2v2.0h-2.2zM371.5 122.3h2.2v2.0h-2.2zM373.9 121.8h2.2v2.0h-2.2zM374.0 124.3h2.2v2.0h-2.2zM369.3 125.9h2.2v2.0h-2.2zM371.6 127.8h2.2v2.0h-2.2z" fill="#8287f5"/>
<path d="M373.8 118.0h2.2v2.0h-2.2z" fill="#4650b4"/>
<path d="M389.2 122.3h2.2v2.0h-2.2zM389.4 124.2h2.2v2.0h-2.2zM393.5 125.7h2.2v2.0h-2.2zM389.0 132.0h2.2v2.0h-2.2zM393.3 132.0h2.2v2.0h-2.2z" fill="#5a78e6"/>
<path d="M391.7 121.7h2.2v2.0h-2.2zM391.4 127.8h2.2v2.0h-2.2zM386.9 130.2h2.2v2.0h-2.2zM393.3 130.0h2.2v2.0h-2.2zM389.0 134.0h2.2v2.0h-2.2zM391.6 133.8h2.2v2.0h-2.2z" fill="#8287f5"/>
<path d="M413.5 25.2h2.2v2.0h-2.2zM415.6 25.2h2.2v2.0h-2.2zM411.2 27.2h2.2v2.0h-2.2zM426.8 26.8h2.2v2.0h-2.2zM413.6 29.1h2.2v2.0h-2.2zM415.7 30.8h2.2v2.0h-2.2zM422.1 30.8h2.2v2.0h-2.2z" fill="#8287f5"/>
<path d="M418.1 24.9h2.2v2.0h-2.2zM424.3 27.1h2.2v2.0h-2.2zM410.9 29.1h2.2v2.0h-2.2zM411.0 30.8h2.2v2.0h-2.2zM420.3 31.1h2.2v2.0h-2.2zM417.7 32.7h2.2v2.0h-2.2z" fill="#5a78e6"/>
<path d="M420.0 26.9h2.2v2.0h-2.2zM419.8 32.9h2.2v2.0h-2.2z" fill="#4650b4"/>
<path d="M408.9 29.2h2.2v2.0h-2.2zM421.9 29.0h2.2v2.0h-2.2zM417.8 31.1h2.2v2.0h-2.2zM424.6 31.0h2.2v2.0h-2.2zM422.0 32.8h2.2v2.0h-2.2z" fill="#28e10a"/>
<path d="M412.6 29.8h2.2v2.0h-2.2zM414.6 31.8h2.2v2.0h-2.2z" fill="#5ad714"/>
<path d="M415.0 30.1h2.2v2.0h-2.2zM412.3 31.8h2.2v2.0h-2.2z" fill="#fff500"/>
<path d="M436.4 39.9h2.2v2.0h-2.2zM434.5 42.1h2.2v2.0h-2.2zM436.4 42.2h2.2v2.0h-2.2zM438.7 42.2h2.2v2.0h-2.2zM434.5 44.0h2.2v2.0h-2.2zM436.6 43.8h2.2v2.0h-2.2zM434.4 45.9h2.2v2.0h-2.2z" fill="#5a78e6"/>
<path d="M429.8 42.1h2.2v2.0h-2.2zM432.2 43.9h2.2v2.0h-2.2zM436.4 46.0h2.2v2.0h-2.2z" fill="#4650b4"/>
<path d="M439.7 43.3h2.2v2.0h-2.2z" fill="#8c8c28"/>
<path d="M418.6 47.0h2.2v2.0h-2.2zM416.5 50.8h2.2v2.0h-2.2zM425.4 51.0h2.2v2.0h-2.2zM427.5 51.2h2.2v2.0h-2.2zM414.4 57.1h2.2v2.0h-2.2zM425.4 57.0h2.2v2.0h-2.2z" fill="#5a78e6"/>
<path d="M416.6 49.1h2.2v2.0h-2.2zM418.4 48.7h2.2v2.0h-2.2zM432.0 49.1h2.2v2.0h-2.2zM411.9 52.9h2.2v2.0h-2.2zM416.3 52.8h2.2v2.0h-2.2zM423.2 53.0h2.2v2.0h-2.2zM422.8 54.8h2.2v2.0h-2.2zM431.9 55.0h2.2v2.0h-2.2zM420.8 57.0h2.2v2.0h-2.2zM427.2 57.2h2.2v2.0h-2.2zM424.9 59.0h2.2v2.0h-2.2z" fill="#8287f5"/>
<path d="M429.4 48.9h2.2v2.0h-2.2zM431.9 50.8h2.2v2.0h-2.2zM414.2 54.7h2.2v2.0h-2.2zM420.5 55.0h2.2v2.0h-2.2zM425.3 55.2h2.2v2.0h-2.2z" fill="#4650b4"/>
<path d="M465.0 109.9h2.2v2.0h-2.2zM467.3 111.8h2.2v2.0h-2.2zM469.4 114.1h2.2v2.0h-2.2zM458.9 118.2h2.2v2.0h-2.2zM452.2 119.8h2.2v2.0h-2.2zM456.2 126.2h2.2v2.0h-2.2zM469.3 131.9h2.2v2.0h-2.2zM462.8 134.2h2.2v2.0h-2.2zM467.2 137.8h2.2v2.0h-2.2z" fill="#4650b4"/>
<path d="M467.7 109.9h2.2v2.0h-2.2zM456.5 114.1h2.2v2.0h-2.2zM460.9 114.0h2.2v2.0h-2.2zM462.7 114.1h2.2v2.0h-2.2zM456.2 115.9h2.2v2.0h-2.2zM464.9 115.9h2.2v2.0h-2.2zM467.5 116.1h2.2v2.0h-2.2zM471.7 115.9h2.2v2.0h-2.2zM465.0 118.1h2.2v2.0h-2.2zM469.5 118.2h2.2v2.0h-2.2zM471.7 119.8h2.2v2.0h-2.2zM452.3 121.9h2.2v2.0h-2.2zM463.0 122.2h2.2v2.0h-2.2zM465.5 123.8h2.2v2.0h-2.2zM472.0 124.0h2.2v2.0h-2.2zM465.0 127.8h2.2v2.0h-2.2zM473.9 127.7h2.2v2.0h-2.2zM458.5 130.1h2.2v2.0h-2.2zM460.9 130.0h2.2v2.0h-2.2zM467.1 130.0h2.2v2.0h-2.2zM465.5 131.9h2.2v2.0h-2.2zM456.4 135.8h2.2v2.0h-2.2zM467.6 136.3h2.2v2.0h-2.2zM462.7 138.1h2.2v2.0h-2.2z" fill="#8287f5"/>
<path d="M460.7 111.9h2.2v2.0h-2.2zM465.4 111.8h2.2v2.0h-2.2zM458.6 114.2h2.2v2.0h-2.2zM461.0 116.0h2.2v2.0h-2.2zM454.4 118.0h2.2v2.0h-2.2zM454.2 120.0h2.2v2.0h-2.2zM461.0 120.3h2.2v2.0h-2.2zM460.9 121.8h2.2v2.0h-2.2zM476.1 123.9h2.2v2.0h-2.2zM465.0 126.2h2.2v2.0h-2.2zM467.5 126.1h2.2v2.0h-2.2zM469.5 128.0h2.2v2.0h-2.2zM476.1 128.1h2.2v2.0h-2.2zM456.7 129.8h2.2v2.0h-2.2zM467.3 132.2h2.2v2.0h-2.2zM465.2 136.1h2.2v2.0h-2.2zM469.3 136.0h2.2v2.0h-2.2zM465.4 138.0h2.2v2.0h-2.2zM460.9 140.1h2.2v2.0h-2.2zM462.8 140.2h2.2v2.0h-2.2z" fill="#5a78e6"/>
<path d="M471.8 113.9h2.2v2.0h-2.2zM462.8 118.0h2.2v2.0h-2.2zM467.7 118.0h2.2v2.0h-2.2zM469.8 120.0h2.2v2.0h-2.2zM454.4 123.8h2.2v2.0h-2.2zM458.3 123.9h2.2v2.0h-2.2zM467.3 123.7h2.2v2.0h-2.2zM469.8 123.8h2.2v2.0h-2.2zM458.3 134.1h2.2v2.0h-2.2zM461.0 134.1h2.2v2.0h-2.2zM458.6 135.8h2.2v2.0h-2.2zM458.9 137.8h2.2v2.0h-2.2zM460.6 137.7h2.2v2.0h-2.2z" fill="#19878c"/>
<path d="M474.2 115.9h2.2v2.0h-2.2zM473.8 119.8h2.2v2.0h-2.2zM463.1 128.1h2.2v2.0h-2.2zM462.8 130.1h2.2v2.0h-2.2zM471.8 134.3h2.2v2.0h-2.2z" fill="#c8f5fa"/>
<path d="M461.6 111.2h2.2v2.0h-2.2zM457.0 113.0h2.2v2.0h-2.2zM459.2 114.8h2.2v2.0h-2.2zM463.7 115.0h2.2v2.0h-2.2z" fill="#28e10a"/>
<path d="M463.5 110.8h2.2v2.0h-2.2zM459.0 112.9h2.2v2.0h-2.2zM461.4 112.8h2.2v2.0h-2.2zM463.5 113.0h2.2v2.0h-2.2zM456.9 115.1h2.2v2.0h-2.2zM461.6 114.9h2.2v2.0h-2.2zM459.0 116.7h2.2v2.0h-2.2zM461.4 117.0h2.2v2.0h-2.2zM463.7 116.9h2.2v2.0h-2.2z" fill="#5ad714"/>
<path d="M452.0 123.9h2.2v2.0h-2.2zM456.4 124.1h2.2v2.0h-2.2zM454.1 125.9h2.2v2.0h-2.2zM456.2 125.8h2.2v2.0h-2.2zM454.4 130.2h2.2v2.0h-2.2z" fill="#fff500"/>
<path d="M454.1 124.1h2.2v2.0h-2.2zM451.8 127.8h2.2v2.0h-2.2z" fill="#5ad714"/>
<path d="M452.3 126.1h2.2v2.0h-2.2zM454.5 128.0h2.2v2.0h-2.2z" fill="#8c8c28"/>
<path d="M465.9 132.1h2.2v2.0h-2.2zM470.7 131.8h2.2v2.0h-2.2zM463.8 134.1h2.2v2.0h-2.2zM466.2 133.9h2.2v2.0h-2.2zM470.8 133.7h2.2v2.0h-2.2z" fill="#5a78e6"/>
<path d="M468.1 133.8h2.2v2.0h-2.2zM466.4 138.3h2.2v2.0h-2.2zM470.5 138.3h2.2v2.0h-2.2z" fill="#19878c"/>
<path d="M468.6 136.1h2.2v2.0h-2.2z" fill="#28e10a"/>
<path d="M491.8 17.7h2.2v2.0h-2.2zM491.3 19.9h2.2v2.0h-2.2zM494.0 19.9h2.2v2.0h-2.2zM484.8 22.0h2.2v2.0h-2.2zM487.5 21.7h2.2v2.0h-2.2zM491.7 24.0h2.2v2.0h-2.2zM491.6 26.0h2.2v2.0h-2.2z" fill="#87a5fa"/>
<path d="M484.8 20.1h2.2v2.0h-2.2zM493.8 22.0h2.2v2.0h-2.2zM484.8 23.9h2.2v2.0h-2.2zM493.8 23.8h2.2v2.0h-2.2z" fill="#5a78e6"/>
<path d="M489.5 22.0h2.2v2.0h-2.2zM487.2 24.2h2.2v2.0h-2.2zM489.6 27.8h2.2v2.0h-2.2z" fill="#8287f5"/>
</g>
<path d="M285.71 144.05 L285.51 142.6 L284.13 138.98 L282.56 136.09 L280.6 133.2 L279.81 131.75 M299.65 144.05 L299.65 141.51 L299.84 138.98 L299.45 136.09 L300.63 133.2 L301.41 130.3 L300.63 127.41 L300.63 124.51 L301.41 121.98 L303.77 121.62 L304.95 120.17 L306.91 119.45 L309.27 118.37 L309.66 116.56 L313.2 114.75 L316.34 112.58 L319.48 109.32 L321.84 107.51 L324.59 106.79 L325.76 105.34 L327.33 103.53 L328.12 101 L330.87 100.28 L332.44 100.64 L334.4 100.64 L335.97 99.92 L338.72 99.19 L340.69 99.92 L342.26 98.11 L344.22 97.02 L346.58 98.11 L346.97 101 L348.54 103.9 L350.9 106.07 L353.65 108.6 L354.83 110.77 L357.18 113.66 L357.18 116.56 L356 120.54 L357.97 121.26 L360.72 121.62 L363.07 119.81 L365.04 118.73 L367 117.28 L368.57 118.37 L369.36 120.17 L369.75 123.07 L371.32 126.32 L371.71 129.94 L373.28 133.56 L373.28 136.81 L373.68 139.71 L373.28 142.6 L372.89 144.05 M374.85 144.05 L375.25 142.6 L375.64 140.79 L376.43 138.98 L377.21 137.17 L378 134.64 L378.78 132.83 L378.59 130.66 L379.57 129.94 L381.14 129.94 L382.32 130.3 L382.32 132.83 L384.28 133.2 L386.64 134.64 L388.99 136.45 L390.56 137.9 L391.35 139.71 L392.92 140.79 L395.28 140.79 L396.45 141.15 L397.63 142.24 L397.83 144.05 M403.92 144.05 L404.7 142.6 L406.27 141.15 L408.24 140.43 L410.2 139.34 L412.56 138.26 L414.13 137.17 L414.91 134.64 L415.31 132.47 L415.31 129.58 L414.13 126.32 L413.34 123.43 L411.38 121.26 L409.41 119.81 L407.06 117.64 L404.7 115.47 L403.13 113.66 L401.56 111.49 L401.17 109.32 L401.95 107.51 L403.52 105.71 L405.09 103.9 L407.06 102.81 L409.41 101 L412.16 100.64 L414.13 101 L416.88 101.36 L417.27 102.81 L416.88 104.62 L417.66 105.34 L419.23 105.34 L420.02 104.26 L419.63 102.09 L421.59 101.36 L424.34 100.64 L427.09 99.92 L429.44 99.19 L431.8 98.47 L432.98 97.39 L434.55 98.11 L436.91 97.02 L439.65 96.3 L442.8 95.94 L444.76 94.49 L447.51 92.68 L449.47 90.87 L451.83 89.79 L453.01 87.98 L454.97 86.9 L455.76 85.09 L456.15 82.92 L458.11 81.83 L458.9 80.02 L460.47 77.85 L462.04 76.04 L463.61 74.6 L464.79 72.43 L464.79 70.62 L462.83 69.9 L461.25 68.81 L463.61 67.36 L464.79 66.28 L464.4 64.47 L462.43 63.02 L460.86 60.85 L459.68 58.32 L458.51 55.07 L456.54 53.98 L454.58 52.89 L455.36 50.36 L457.33 48.92 L459.29 47.83 L461.25 46.38 L464 45.3 L467.15 44.94 L467.15 43.49 L465.18 43.13 L462.83 42.77 L460.47 42.04 L458.51 42.77 L456.15 44.21 L453.79 44.21 L453.01 42.77 L453.01 41.32 L450.65 40.23 L448.29 39.15 L447.9 37.7 L449.47 36.98 L451.83 37.34 L454.19 36.26 L455.36 34.45 L457.33 33.36 L459.68 32.28 L461.25 30.83 L463.61 30.83 L465.97 32.28 L464.79 34.09 L463.61 35.53 L462.43 36.26 L462.04 38.06 L463.61 38.43 L464.4 37.34 L466.36 36.26 L469.11 35.17 L471.47 34.81 L474.21 34.45 L476.57 35.17 L478.14 35.89 L478.53 37.7 L476.96 39.15 L478.14 41.32 L480.89 42.41 L482.85 42.77 L483.64 44.21 L482.85 45.66 L482.85 47.11 L483.25 48.92 L482.46 51.09 L482.07 53.26 L482.85 54.34 L484.82 53.62 L487.17 53.26 L489.92 52.53 L492.28 51.81 L493.85 51.09 L494.64 49.28 L494.64 46.75 L494.24 44.58 L492.67 42.41 L491.1 40.23 L489.53 38.43 L487.96 37.34 L486.78 35.89 L487.57 34.81 L489.92 34.09 L492.67 32.28 L495.42 31.19 L495.81 29.38 L496.21 27.57 L496.6 25.77 L498.17 24.68 M412.56 109.68 L412.95 111.85 L414.91 112.58 L416.48 112.94 L418.45 112.22 L420.02 110.77 L421.59 107.88 L421.98 107.15 L420.41 106.07 L418.84 106.07 L416.88 106.43 L415.31 106.79 L413.73 107.88 L412.56 109.68 M457.72 95.58 L458.51 97.39 L460.08 99.19 L460.86 99.19 L460.86 97.75 L462.04 96.3 L463.22 94.13 L463.61 91.96 L464.79 89.79 L464.79 88.34 L463.22 87.26 L461.25 88.34 L460.08 89.79 L458.51 91.96 L457.72 93.77 L457.72 95.58 M459.68 111.85 L461.25 111.49 L463.22 112.22 L465.97 111.85 L466.36 114.02 L465.97 116.56 L467.15 118.73 L465.18 120.17 L463.61 121.26 L463.61 123.43 L463.22 125.96 L464.4 127.41 L466.36 127.77 L467.93 127.05 L469.5 128.13 L471.07 129.22 L472.64 129.22 L473.43 131.75 L472.64 133.2 L471.07 131.75 L469.89 131.03 L467.54 130.66 L466.75 129.58 L464.79 128.85 L463.22 129.22 L461.25 129.22 L460.08 127.41 L459.68 126.32 L460.86 125.96 L459.29 125.24 L458.51 125.96 L457.72 124.51 L456.93 122.71 L456.54 120.17 L458.11 120.17 L458.9 118.73 L458.9 115.47 L459.68 111.85 M458.9 129.94 L462.04 130.3 L463.22 132.11 L462.43 134.28 L461.25 134.64 L460.47 132.83 L458.9 129.94 M464.79 135.73 L467.54 136.81 L469.5 138.62 L467.93 140.79 L465.57 140.43 L465.18 137.9 L464.79 135.73 M468.72 139.34 L470.68 140.79 L470.29 144.05 L467.15 144.05 L466.75 141.15 L468.72 139.34 M474.21 133.56 L476.96 133.56 L479.71 138.62 L477.75 138.98 L476.57 137.54 L474.61 135.37 L474.21 133.56 M474.21 137.17 L476.57 137.9 L477.36 141.15 L476.18 144.05 L475 142.6 L474.21 137.17 M472.64 138.26 L473.43 139.71 L471.47 144.05 L470.29 144.05 L472.64 138.26 M469.89 133.92 L472.25 134.64 L473.43 133.56 L471.47 133.2 L469.89 133.92 M451.83 144.05 L454.58 140.79 L455.76 138.26 L456.93 137.9 L455.36 140.43 L453.4 144.05 M481.68 57.96 L483.25 57.42 L484.62 57.78 L483.25 58.68 L481.68 58.32 L481.68 57.96 M498.17 56.87 L496.6 57.24 L495.42 58.32 L496.21 59.77 L495.81 60.85 L497.39 61.58 L496.99 63.02 L497.78 65.55 L498.56 66.64 M493.85 53.62 L494.44 53.62 L494.05 55.07 L493.46 54.7 L493.85 53.62" fill="none" stroke="#7a7a7a" stroke-width="0.7" stroke-linejoin="round"/>
</g>
<path d="M300.24 142.6 V146.9 M300.24 16 V11.7 M378.78 142.6 V146.9 M378.78 16 V11.7 M457.33 142.6 V146.9 M457.33 16 V11.7 M280.6 142.6 H276.3 M496.6 142.6 H500.9 M280.6 106.43 H276.3 M496.6 106.43 H500.9 M280.6 70.26 H276.3 M496.6 70.26 H500.9 M280.6 34.09 H276.3 M496.6 34.09 H500.9" stroke="#444" stroke-width="1" fill="none"/>
<path d="M280.6 142.6 V144.6 M280.6 16 V14 M319.87 142.6 V144.6 M319.87 16 V14 M339.51 142.6 V144.6 M339.51 16 V14 M359.15 142.6 V144.6 M359.15 16 V14 M398.42 142.6 V144.6 M398.42 16 V14 M418.05 142.6 V144.6 M418.05 16 V14 M437.69 142.6 V144.6 M437.69 16 V14 M476.96 142.6 V144.6 M476.96 16 V14 M496.6 142.6 V144.6 M496.6 16 V14 M280.6 135.37 H278.6 M496.6 135.37 H498.6 M280.6 128.13 H278.6 M496.6 128.13 H498.6 M280.6 120.9 H278.6 M496.6 120.9 H498.6 M280.6 113.66 H278.6 M496.6 113.66 H498.6 M280.6 99.19 H278.6 M496.6 99.19 H498.6 M280.6 91.96 H278.6 M496.6 91.96 H498.6 M280.6 84.73 H278.6 M496.6 84.73 H498.6 M280.6 77.49 H278.6 M496.6 77.49 H498.6 M280.6 63.02 H278.6 M496.6 63.02 H498.6 M280.6 55.79 H278.6 M496.6 55.79 H498.6 M280.6 48.55 H278.6 M496.6 48.55 H498.6 M280.6 41.32 H278.6 M496.6 41.32 H498.6 M280.6 26.85 H278.6 M496.6 26.85 H498.6 M280.6 19.62 H278.6 M496.6 19.62 H498.6" stroke="#8a8a8a" stroke-width="0.8" fill="none"/>
<rect x="280.6" y="16" width="216" height="126.6" fill="none" stroke="#4a4a4a" stroke-width="1"/>
<rect x="356.88" y="156.9" width="63.31" height="16.9" fill="#ecfcfc"/>
<rect x="451.85" y="156.9" width="34.65" height="16.9" fill="#fdeefa"/>
<rect x="309.4" y="159.9" width="16.13" height="10.9" fill="#cdd7fa"/>
<rect x="325.23" y="159.9" width="16.13" height="10.9" fill="#87a5fa"/>
<rect x="341.05" y="159.9" width="16.13" height="10.9" fill="#8287f5"/>
<rect x="356.88" y="159.9" width="16.13" height="10.9" fill="#1e41f5"/>
<rect x="372.71" y="159.9" width="16.13" height="10.9" fill="#19878c"/>
<rect x="388.54" y="159.9" width="16.13" height="10.9" fill="#28e10a"/>
<rect x="404.36" y="159.9" width="16.13" height="10.9" fill="#5ad714"/>
<rect x="420.19" y="159.9" width="16.13" height="10.9" fill="#fff500"/>
<rect x="436.02" y="159.9" width="16.13" height="10.9" fill="#eebb0c"/>
<rect x="451.85" y="159.9" width="16.13" height="10.9" fill="#ee7614"/>
<rect x="467.67" y="159.9" width="16.13" height="10.9" fill="#c42c14"/>
<clipPath id="clipe"><rect x="280.9" y="199.5" width="218.9" height="128.1"/></clipPath>
<g clip-path="url(#clipe)">
<g filter="url(#bl)">
<path d="M302.3 199.5h2.6v2.4h-2.6zM304.9 199.5h2.6v2.4h-2.6zM310.1 199.5h2.6v2.4h-2.6zM312.7 199.5h2.6v2.4h-2.6zM315.3 199.5h2.6v2.4h-2.6zM317.9 199.5h2.6v2.4h-2.6zM325.7 199.5h2.6v2.4h-2.6zM297.1 201.9h2.6v2.4h-2.6zM299.7 201.9h2.6v2.4h-2.6zM302.3 201.9h2.6v2.4h-2.6zM304.9 201.9h2.6v2.4h-2.6zM307.5 201.9h2.6v2.4h-2.6zM310.1 201.9h2.6v2.4h-2.6zM325.7 201.9h2.6v2.4h-2.6zM330.9 201.9h2.6v2.4h-2.6zM299.7 204.3h2.6v2.4h-2.6zM304.9 204.3h2.6v2.4h-2.6zM307.5 204.3h2.6v2.4h-2.6zM310.1 204.3h2.6v2.4h-2.6zM312.7 204.3h2.6v2.4h-2.6zM315.3 204.3h2.6v2.4h-2.6zM323.1 204.3h2.6v2.4h-2.6zM333.5 204.3h2.6v2.4h-2.6zM336.1 204.3h2.6v2.4h-2.6zM338.7 204.3h2.6v2.4h-2.6zM304.9 206.7h2.6v2.4h-2.6zM307.5 206.7h2.6v2.4h-2.6zM310.1 206.7h2.6v2.4h-2.6zM312.7 206.7h2.6v2.4h-2.6zM320.5 206.7h2.6v2.4h-2.6zM325.7 206.7h2.6v2.4h-2.6zM336.1 206.7h2.6v2.4h-2.6zM338.7 206.7h2.6v2.4h-2.6zM304.9 209.1h2.6v2.4h-2.6zM307.5 209.1h2.6v2.4h-2.6zM310.1 209.1h2.6v2.4h-2.6zM312.7 209.1h2.6v2.4h-2.6zM325.7 209.1h2.6v2.4h-2.6zM328.3 209.1h2.6v2.4h-2.6zM333.5 209.1h2.6v2.4h-2.6zM341.3 209.1h2.6v2.4h-2.6zM310.1 211.5h2.6v2.4h-2.6zM323.1 211.5h2.6v2.4h-2.6zM328.3 211.5h2.6v2.4h-2.6zM341.3 211.5h2.6v2.4h-2.6zM323.1 213.9h2.6v2.4h-2.6zM330.9 213.9h2.6v2.4h-2.6zM333.5 213.9h2.6v2.4h-2.6zM336.1 213.9h2.6v2.4h-2.6zM341.3 213.9h2.6v2.4h-2.6zM328.3 216.3h2.6v2.4h-2.6zM330.9 216.3h2.6v2.4h-2.6zM333.5 216.3h2.6v2.4h-2.6zM341.3 216.3h2.6v2.4h-2.6zM328.3 218.7h2.6v2.4h-2.6zM330.9 218.7h2.6v2.4h-2.6zM333.5 218.7h2.6v2.4h-2.6zM341.3 218.7h2.6v2.4h-2.6zM343.9 218.7h2.6v2.4h-2.6zM346.5 218.7h2.6v2.4h-2.6zM330.9 221.1h2.6v2.4h-2.6zM336.1 221.1h2.6v2.4h-2.6zM338.7 221.1h2.6v2.4h-2.6zM343.9 221.1h2.6v2.4h-2.6zM349.1 221.1h2.6v2.4h-2.6zM328.3 223.5h2.6v2.4h-2.6zM336.1 223.5h2.6v2.4h-2.6zM330.9 225.9h2.6v2.4h-2.6zM338.7 225.9h2.6v2.4h-2.6zM341.3 225.9h2.6v2.4h-2.6zM346.5 225.9h2.6v2.4h-2.6zM328.3 228.3h2.6v2.4h-2.6zM330.9 228.3h2.6v2.4h-2.6zM333.5 228.3h2.6v2.4h-2.6zM336.1 228.3h2.6v2.4h-2.6zM346.5 228.3h2.6v2.4h-2.6zM349.1 228.3h2.6v2.4h-2.6zM351.7 228.3h2.6v2.4h-2.6zM328.3 230.7h2.6v2.4h-2.6zM330.9 230.7h2.6v2.4h-2.6zM333.5 230.7h2.6v2.4h-2.6zM336.1 230.7h2.6v2.4h-2.6zM343.9 230.7h2.6v2.4h-2.6zM349.1 230.7h2.6v2.4h-2.6zM351.7 230.7h2.6v2.4h-2.6zM333.5 233.1h2.6v2.4h-2.6zM349.1 233.1h2.6v2.4h-2.6zM333.5 235.5h2.6v2.4h-2.6zM349.1 235.5h2.6v2.4h-2.6zM356.9 235.5h2.6v2.4h-2.6zM336.1 237.9h2.6v2.4h-2.6zM349.1 237.9h2.6v2.4h-2.6zM351.7 237.9h2.6v2.4h-2.6zM354.3 237.9h2.6v2.4h-2.6zM356.9 237.9h2.6v2.4h-2.6zM330.9 240.3h2.6v2.4h-2.6zM336.1 240.3h2.6v2.4h-2.6zM343.9 240.3h2.6v2.4h-2.6zM346.5 240.3h2.6v2.4h-2.6zM356.9 240.3h2.6v2.4h-2.6zM359.5 240.3h2.6v2.4h-2.6zM333.5 242.7h2.6v2.4h-2.6zM338.7 242.7h2.6v2.4h-2.6zM341.3 242.7h2.6v2.4h-2.6zM343.9 242.7h2.6v2.4h-2.6zM346.5 242.7h2.6v2.4h-2.6zM349.1 242.7h2.6v2.4h-2.6zM354.3 242.7h2.6v2.4h-2.6zM356.9 242.7h2.6v2.4h-2.6zM336.1 245.1h2.6v2.4h-2.6zM338.7 245.1h2.6v2.4h-2.6zM356.9 245.1h2.6v2.4h-2.6zM336.1 247.5h2.6v2.4h-2.6zM343.9 247.5h2.6v2.4h-2.6zM359.5 247.5h2.6v2.4h-2.6zM346.5 249.9h2.6v2.4h-2.6zM349.1 249.9h2.6v2.4h-2.6zM354.3 249.9h2.6v2.4h-2.6zM341.3 252.3h2.6v2.4h-2.6zM351.7 252.3h2.6v2.4h-2.6zM354.3 252.3h2.6v2.4h-2.6zM364.7 252.3h2.6v2.4h-2.6zM333.5 254.7h2.6v2.4h-2.6zM336.1 254.7h2.6v2.4h-2.6zM338.7 254.7h2.6v2.4h-2.6zM341.3 254.7h2.6v2.4h-2.6zM343.9 254.7h2.6v2.4h-2.6zM354.3 254.7h2.6v2.4h-2.6zM356.9 254.7h2.6v2.4h-2.6zM359.5 254.7h2.6v2.4h-2.6zM364.7 254.7h2.6v2.4h-2.6zM336.1 257.1h2.6v2.4h-2.6zM341.3 257.1h2.6v2.4h-2.6zM349.1 257.1h2.6v2.4h-2.6zM351.7 257.1h2.6v2.4h-2.6zM354.3 257.1h2.6v2.4h-2.6zM359.5 257.1h2.6v2.4h-2.6zM364.7 257.1h2.6v2.4h-2.6zM367.3 257.1h2.6v2.4h-2.6zM336.1 259.5h2.6v2.4h-2.6zM341.3 259.5h2.6v2.4h-2.6zM351.7 259.5h2.6v2.4h-2.6zM356.9 259.5h2.6v2.4h-2.6zM359.5 259.5h2.6v2.4h-2.6zM367.3 259.5h2.6v2.4h-2.6zM338.7 261.9h2.6v2.4h-2.6zM343.9 261.9h2.6v2.4h-2.6zM351.7 261.9h2.6v2.4h-2.6zM356.9 261.9h2.6v2.4h-2.6zM359.5 261.9h2.6v2.4h-2.6zM362.1 261.9h2.6v2.4h-2.6zM343.9 264.3h2.6v2.4h-2.6zM346.5 264.3h2.6v2.4h-2.6zM349.1 264.3h2.6v2.4h-2.6zM354.3 264.3h2.6v2.4h-2.6zM362.1 264.3h2.6v2.4h-2.6zM338.7 266.7h2.6v2.4h-2.6zM341.3 266.7h2.6v2.4h-2.6zM343.9 266.7h2.6v2.4h-2.6zM346.5 266.7h2.6v2.4h-2.6zM349.1 266.7h2.6v2.4h-2.6zM351.7 266.7h2.6v2.4h-2.6zM359.5 266.7h2.6v2.4h-2.6zM362.1 266.7h2.6v2.4h-2.6zM364.7 266.7h2.6v2.4h-2.6zM367.3 266.7h2.6v2.4h-2.6zM343.9 269.1h2.6v2.4h-2.6zM349.1 269.1h2.6v2.4h-2.6zM351.7 269.1h2.6v2.4h-2.6zM354.3 269.1h2.6v2.4h-2.6zM356.9 269.1h2.6v2.4h-2.6zM359.5 269.1h2.6v2.4h-2.6zM362.1 269.1h2.6v2.4h-2.6zM367.3 269.1h2.6v2.4h-2.6zM369.9 269.1h2.6v2.4h-2.6zM372.5 269.1h2.6v2.4h-2.6zM346.5 271.5h2.6v2.4h-2.6zM349.1 271.5h2.6v2.4h-2.6zM354.3 271.5h2.6v2.4h-2.6zM356.9 271.5h2.6v2.4h-2.6zM359.5 271.5h2.6v2.4h-2.6zM362.1 271.5h2.6v2.4h-2.6zM364.7 271.5h2.6v2.4h-2.6zM367.3 271.5h2.6v2.4h-2.6zM341.3 273.9h2.6v2.4h-2.6zM343.9 273.9h2.6v2.4h-2.6zM346.5 273.9h2.6v2.4h-2.6zM354.3 273.9h2.6v2.4h-2.6zM359.5 273.9h2.6v2.4h-2.6zM367.3 273.9h2.6v2.4h-2.6zM369.9 273.9h2.6v2.4h-2.6zM372.5 273.9h2.6v2.4h-2.6zM343.9 276.3h2.6v2.4h-2.6zM349.1 276.3h2.6v2.4h-2.6zM351.7 276.3h2.6v2.4h-2.6zM362.1 276.3h2.6v2.4h-2.6zM364.7 276.3h2.6v2.4h-2.6zM372.5 276.3h2.6v2.4h-2.6zM346.5 278.7h2.6v2.4h-2.6zM349.1 278.7h2.6v2.4h-2.6zM351.7 278.7h2.6v2.4h-2.6zM362.1 278.7h2.6v2.4h-2.6zM364.7 278.7h2.6v2.4h-2.6zM367.3 278.7h2.6v2.4h-2.6zM369.9 278.7h2.6v2.4h-2.6zM372.5 278.7h2.6v2.4h-2.6zM343.9 281.1h2.6v2.4h-2.6zM349.1 281.1h2.6v2.4h-2.6zM351.7 281.1h2.6v2.4h-2.6zM359.5 281.1h2.6v2.4h-2.6zM362.1 281.1h2.6v2.4h-2.6zM367.3 281.1h2.6v2.4h-2.6zM369.9 281.1h2.6v2.4h-2.6zM372.5 281.1h2.6v2.4h-2.6zM375.1 281.1h2.6v2.4h-2.6zM351.7 283.5h2.6v2.4h-2.6zM354.3 283.5h2.6v2.4h-2.6zM359.5 283.5h2.6v2.4h-2.6zM362.1 283.5h2.6v2.4h-2.6zM364.7 283.5h2.6v2.4h-2.6zM369.9 283.5h2.6v2.4h-2.6zM372.5 283.5h2.6v2.4h-2.6zM375.1 283.5h2.6v2.4h-2.6zM377.7 283.5h2.6v2.4h-2.6zM349.1 285.9h2.6v2.4h-2.6zM351.7 285.9h2.6v2.4h-2.6zM354.3 285.9h2.6v2.4h-2.6zM356.9 285.9h2.6v2.4h-2.6zM362.1 285.9h2.6v2.4h-2.6zM364.7 285.9h2.6v2.4h-2.6zM367.3 285.9h2.6v2.4h-2.6zM369.9 285.9h2.6v2.4h-2.6zM372.5 285.9h2.6v2.4h-2.6zM375.1 285.9h2.6v2.4h-2.6zM380.3 285.9h2.6v2.4h-2.6zM351.7 288.3h2.6v2.4h-2.6zM356.9 288.3h2.6v2.4h-2.6zM359.5 288.3h2.6v2.4h-2.6zM362.1 288.3h2.6v2.4h-2.6zM364.7 288.3h2.6v2.4h-2.6zM367.3 288.3h2.6v2.4h-2.6zM369.9 288.3h2.6v2.4h-2.6zM375.1 288.3h2.6v2.4h-2.6zM377.7 288.3h2.6v2.4h-2.6zM380.3 288.3h2.6v2.4h-2.6zM349.1 290.7h2.6v2.4h-2.6zM351.7 290.7h2.6v2.4h-2.6zM354.3 290.7h2.6v2.4h-2.6zM356.9 290.7h2.6v2.4h-2.6zM359.5 290.7h2.6v2.4h-2.6zM362.1 290.7h2.6v2.4h-2.6zM364.7 290.7h2.6v2.4h-2.6zM377.7 290.7h2.6v2.4h-2.6zM380.3 290.7h2.6v2.4h-2.6zM349.1 293.1h2.6v2.4h-2.6zM354.3 293.1h2.6v2.4h-2.6zM359.5 293.1h2.6v2.4h-2.6zM367.3 293.1h2.6v2.4h-2.6zM377.7 293.1h2.6v2.4h-2.6zM351.7 295.5h2.6v2.4h-2.6zM354.3 295.5h2.6v2.4h-2.6zM359.5 295.5h2.6v2.4h-2.6zM364.7 295.5h2.6v2.4h-2.6zM369.9 295.5h2.6v2.4h-2.6zM372.5 295.5h2.6v2.4h-2.6zM351.7 297.9h2.6v2.4h-2.6zM354.3 297.9h2.6v2.4h-2.6zM356.9 297.9h2.6v2.4h-2.6zM372.5 297.9h2.6v2.4h-2.6zM375.1 297.9h2.6v2.4h-2.6zM377.7 297.9h2.6v2.4h-2.6zM382.9 297.9h2.6v2.4h-2.6zM351.7 300.3h2.6v2.4h-2.6zM354.3 300.3h2.6v2.4h-2.6zM356.9 300.3h2.6v2.4h-2.6zM359.5 300.3h2.6v2.4h-2.6zM362.1 300.3h2.6v2.4h-2.6zM367.3 300.3h2.6v2.4h-2.6zM369.9 300.3h2.6v2.4h-2.6zM375.1 300.3h2.6v2.4h-2.6zM380.3 300.3h2.6v2.4h-2.6zM382.9 300.3h2.6v2.4h-2.6zM354.3 302.7h2.6v2.4h-2.6zM356.9 302.7h2.6v2.4h-2.6zM359.5 302.7h2.6v2.4h-2.6zM362.1 302.7h2.6v2.4h-2.6zM367.3 302.7h2.6v2.4h-2.6zM369.9 302.7h2.6v2.4h-2.6zM372.5 302.7h2.6v2.4h-2.6zM375.1 302.7h2.6v2.4h-2.6zM377.7 302.7h2.6v2.4h-2.6zM380.3 302.7h2.6v2.4h-2.6zM385.5 302.7h2.6v2.4h-2.6zM359.5 305.1h2.6v2.4h-2.6zM369.9 305.1h2.6v2.4h-2.6zM372.5 305.1h2.6v2.4h-2.6zM375.1 305.1h2.6v2.4h-2.6zM377.7 305.1h2.6v2.4h-2.6zM385.5 305.1h2.6v2.4h-2.6zM388.1 305.1h2.6v2.4h-2.6zM356.9 307.5h2.6v2.4h-2.6zM359.5 307.5h2.6v2.4h-2.6zM364.7 307.5h2.6v2.4h-2.6zM369.9 307.5h2.6v2.4h-2.6zM372.5 307.5h2.6v2.4h-2.6zM375.1 307.5h2.6v2.4h-2.6zM377.7 307.5h2.6v2.4h-2.6zM380.3 307.5h2.6v2.4h-2.6zM382.9 307.5h2.6v2.4h-2.6zM385.5 307.5h2.6v2.4h-2.6zM388.1 307.5h2.6v2.4h-2.6zM359.5 309.9h2.6v2.4h-2.6zM364.7 309.9h2.6v2.4h-2.6zM367.3 309.9h2.6v2.4h-2.6zM369.9 309.9h2.6v2.4h-2.6zM372.5 309.9h2.6v2.4h-2.6zM382.9 309.9h2.6v2.4h-2.6zM388.1 309.9h2.6v2.4h-2.6zM356.9 312.3h2.6v2.4h-2.6zM359.5 312.3h2.6v2.4h-2.6zM367.3 312.3h2.6v2.4h-2.6zM369.9 312.3h2.6v2.4h-2.6zM372.5 312.3h2.6v2.4h-2.6zM380.3 312.3h2.6v2.4h-2.6zM385.5 312.3h2.6v2.4h-2.6zM388.1 312.3h2.6v2.4h-2.6zM390.7 312.3h2.6v2.4h-2.6zM356.9 314.7h2.6v2.4h-2.6zM359.5 314.7h2.6v2.4h-2.6zM362.1 314.7h2.6v2.4h-2.6zM364.7 314.7h2.6v2.4h-2.6zM367.3 314.7h2.6v2.4h-2.6zM369.9 314.7h2.6v2.4h-2.6zM375.1 314.7h2.6v2.4h-2.6zM377.7 314.7h2.6v2.4h-2.6zM380.3 314.7h2.6v2.4h-2.6zM388.1 314.7h2.6v2.4h-2.6zM390.7 314.7h2.6v2.4h-2.6zM359.5 317.1h2.6v2.4h-2.6zM364.7 317.1h2.6v2.4h-2.6zM369.9 317.1h2.6v2.4h-2.6zM375.1 317.1h2.6v2.4h-2.6zM377.7 317.1h2.6v2.4h-2.6zM380.3 317.1h2.6v2.4h-2.6zM382.9 317.1h2.6v2.4h-2.6zM385.5 317.1h2.6v2.4h-2.6zM388.1 317.1h2.6v2.4h-2.6zM390.7 317.1h2.6v2.4h-2.6zM393.3 317.1h2.6v2.4h-2.6zM364.7 319.5h2.6v2.4h-2.6zM367.3 319.5h2.6v2.4h-2.6zM369.9 319.5h2.6v2.4h-2.6zM372.5 319.5h2.6v2.4h-2.6zM375.1 319.5h2.6v2.4h-2.6zM380.3 319.5h2.6v2.4h-2.6zM382.9 319.5h2.6v2.4h-2.6zM388.1 319.5h2.6v2.4h-2.6zM390.7 319.5h2.6v2.4h-2.6zM393.3 319.5h2.6v2.4h-2.6zM359.5 321.9h2.6v2.4h-2.6zM362.1 321.9h2.6v2.4h-2.6zM364.7 321.9h2.6v2.4h-2.6zM367.3 321.9h2.6v2.4h-2.6zM369.9 321.9h2.6v2.4h-2.6zM372.5 321.9h2.6v2.4h-2.6zM375.1 321.9h2.6v2.4h-2.6zM377.7 321.9h2.6v2.4h-2.6zM380.3 321.9h2.6v2.4h-2.6zM382.9 321.9h2.6v2.4h-2.6zM388.1 321.9h2.6v2.4h-2.6zM390.7 321.9h2.6v2.4h-2.6zM359.5 324.3h2.6v2.4h-2.6zM362.1 324.3h2.6v2.4h-2.6zM364.7 324.3h2.6v2.4h-2.6zM367.3 324.3h2.6v2.4h-2.6zM369.9 324.3h2.6v2.4h-2.6zM372.5 324.3h2.6v2.4h-2.6zM382.9 324.3h2.6v2.4h-2.6zM385.5 324.3h2.6v2.4h-2.6zM393.3 324.3h2.6v2.4h-2.6zM395.9 324.3h2.6v2.4h-2.6z" fill="#d7defa"/>
<path d="M330.9 199.5h2.6v2.4h-2.6zM328.3 201.9h2.6v2.4h-2.6zM317.9 204.3h2.6v2.4h-2.6zM320.5 204.3h2.6v2.4h-2.6zM325.7 204.3h2.6v2.4h-2.6zM323.1 206.7h2.6v2.4h-2.6zM317.9 209.1h2.6v2.4h-2.6zM338.7 209.1h2.6v2.4h-2.6zM330.9 211.5h2.6v2.4h-2.6zM336.1 211.5h2.6v2.4h-2.6zM338.7 211.5h2.6v2.4h-2.6zM343.9 211.5h2.6v2.4h-2.6zM343.9 213.9h2.6v2.4h-2.6zM328.3 221.1h2.6v2.4h-2.6zM330.9 223.5h2.6v2.4h-2.6zM354.3 230.7h2.6v2.4h-2.6zM338.7 233.1h2.6v2.4h-2.6zM330.9 235.5h2.6v2.4h-2.6zM343.9 235.5h2.6v2.4h-2.6zM336.1 242.7h2.6v2.4h-2.6zM359.5 242.7h2.6v2.4h-2.6zM359.5 245.1h2.6v2.4h-2.6zM333.5 247.5h2.6v2.4h-2.6zM341.3 247.5h2.6v2.4h-2.6zM346.5 247.5h2.6v2.4h-2.6zM349.1 247.5h2.6v2.4h-2.6zM346.5 254.7h2.6v2.4h-2.6zM351.7 254.7h2.6v2.4h-2.6zM338.7 257.1h2.6v2.4h-2.6zM343.9 259.5h2.6v2.4h-2.6zM354.3 259.5h2.6v2.4h-2.6zM362.1 259.5h2.6v2.4h-2.6zM356.9 266.7h2.6v2.4h-2.6zM341.3 269.1h2.6v2.4h-2.6zM346.5 269.1h2.6v2.4h-2.6zM343.9 271.5h2.6v2.4h-2.6zM351.7 271.5h2.6v2.4h-2.6zM369.9 271.5h2.6v2.4h-2.6zM372.5 271.5h2.6v2.4h-2.6zM349.1 273.9h2.6v2.4h-2.6zM351.7 273.9h2.6v2.4h-2.6zM362.1 273.9h2.6v2.4h-2.6zM375.1 273.9h2.6v2.4h-2.6zM354.3 276.3h2.6v2.4h-2.6zM356.9 276.3h2.6v2.4h-2.6zM359.5 276.3h2.6v2.4h-2.6zM367.3 276.3h2.6v2.4h-2.6zM369.9 276.3h2.6v2.4h-2.6zM375.1 276.3h2.6v2.4h-2.6zM343.9 278.7h2.6v2.4h-2.6zM354.3 278.7h2.6v2.4h-2.6zM356.9 278.7h2.6v2.4h-2.6zM359.5 278.7h2.6v2.4h-2.6zM375.1 278.7h2.6v2.4h-2.6zM346.5 281.1h2.6v2.4h-2.6zM354.3 281.1h2.6v2.4h-2.6zM377.7 281.1h2.6v2.4h-2.6zM346.5 283.5h2.6v2.4h-2.6zM356.9 283.5h2.6v2.4h-2.6zM367.3 283.5h2.6v2.4h-2.6zM359.5 285.9h2.6v2.4h-2.6zM377.7 285.9h2.6v2.4h-2.6zM349.1 288.3h2.6v2.4h-2.6zM372.5 288.3h2.6v2.4h-2.6zM369.9 290.7h2.6v2.4h-2.6zM372.5 290.7h2.6v2.4h-2.6zM375.1 290.7h2.6v2.4h-2.6zM351.7 293.1h2.6v2.4h-2.6zM356.9 293.1h2.6v2.4h-2.6zM364.7 293.1h2.6v2.4h-2.6zM369.9 293.1h2.6v2.4h-2.6zM372.5 293.1h2.6v2.4h-2.6zM382.9 293.1h2.6v2.4h-2.6zM362.1 295.5h2.6v2.4h-2.6zM367.3 295.5h2.6v2.4h-2.6zM375.1 295.5h2.6v2.4h-2.6zM377.7 295.5h2.6v2.4h-2.6zM380.3 295.5h2.6v2.4h-2.6zM382.9 295.5h2.6v2.4h-2.6zM362.1 297.9h2.6v2.4h-2.6zM364.7 297.9h2.6v2.4h-2.6zM367.3 297.9h2.6v2.4h-2.6zM369.9 297.9h2.6v2.4h-2.6zM380.3 297.9h2.6v2.4h-2.6zM364.7 300.3h2.6v2.4h-2.6zM377.7 300.3h2.6v2.4h-2.6zM385.5 300.3h2.6v2.4h-2.6zM382.9 302.7h2.6v2.4h-2.6zM354.3 305.1h2.6v2.4h-2.6zM356.9 305.1h2.6v2.4h-2.6zM362.1 305.1h2.6v2.4h-2.6zM364.7 305.1h2.6v2.4h-2.6zM382.9 305.1h2.6v2.4h-2.6zM354.3 307.5h2.6v2.4h-2.6zM362.1 307.5h2.6v2.4h-2.6zM367.3 307.5h2.6v2.4h-2.6zM356.9 309.9h2.6v2.4h-2.6zM377.7 309.9h2.6v2.4h-2.6zM380.3 309.9h2.6v2.4h-2.6zM362.1 312.3h2.6v2.4h-2.6zM364.7 312.3h2.6v2.4h-2.6zM375.1 312.3h2.6v2.4h-2.6zM382.9 312.3h2.6v2.4h-2.6zM372.5 314.7h2.6v2.4h-2.6zM382.9 314.7h2.6v2.4h-2.6zM385.5 314.7h2.6v2.4h-2.6zM367.3 317.1h2.6v2.4h-2.6zM372.5 317.1h2.6v2.4h-2.6zM359.5 319.5h2.6v2.4h-2.6zM377.7 319.5h2.6v2.4h-2.6zM385.5 319.5h2.6v2.4h-2.6zM393.3 321.9h2.6v2.4h-2.6zM377.7 324.3h2.6v2.4h-2.6zM380.3 324.3h2.6v2.4h-2.6zM388.1 324.3h2.6v2.4h-2.6zM390.7 324.3h2.6v2.4h-2.6z" fill="#d7eefa"/>
<path d="M407.9 207.8h2.6v2.4h-2.6zM410.5 207.8h2.6v2.4h-2.6zM413.1 207.8h2.6v2.4h-2.6zM431.3 207.8h2.6v2.4h-2.6zM418.3 210.2h2.6v2.4h-2.6zM420.9 210.2h2.6v2.4h-2.6zM423.5 210.2h2.6v2.4h-2.6zM426.1 210.2h2.6v2.4h-2.6zM428.7 210.2h2.6v2.4h-2.6zM420.9 212.6h2.6v2.4h-2.6zM428.7 212.6h2.6v2.4h-2.6zM410.5 215.0h2.6v2.4h-2.6zM415.7 215.0h2.6v2.4h-2.6zM418.3 215.0h2.6v2.4h-2.6zM420.9 215.0h2.6v2.4h-2.6zM433.9 215.0h2.6v2.4h-2.6zM407.9 217.4h2.6v2.4h-2.6zM413.1 217.4h2.6v2.4h-2.6zM423.5 217.4h2.6v2.4h-2.6zM431.3 217.4h2.6v2.4h-2.6zM436.5 217.4h2.6v2.4h-2.6zM407.9 219.8h2.6v2.4h-2.6zM413.1 219.8h2.6v2.4h-2.6zM418.3 219.8h2.6v2.4h-2.6zM420.9 219.8h2.6v2.4h-2.6zM428.7 219.8h2.6v2.4h-2.6zM433.9 219.8h2.6v2.4h-2.6zM436.5 219.8h2.6v2.4h-2.6zM407.9 222.2h2.6v2.4h-2.6zM413.1 222.2h2.6v2.4h-2.6zM420.9 222.2h2.6v2.4h-2.6zM426.1 222.2h2.6v2.4h-2.6zM428.7 222.2h2.6v2.4h-2.6zM436.5 222.2h2.6v2.4h-2.6zM407.9 224.6h2.6v2.4h-2.6zM415.7 224.6h2.6v2.4h-2.6zM436.5 224.6h2.6v2.4h-2.6zM439.1 224.6h2.6v2.4h-2.6zM441.7 224.6h2.6v2.4h-2.6zM410.5 227.0h2.6v2.4h-2.6zM413.1 227.0h2.6v2.4h-2.6zM426.1 227.0h2.6v2.4h-2.6zM431.3 227.0h2.6v2.4h-2.6zM433.9 227.0h2.6v2.4h-2.6zM413.1 229.4h2.6v2.4h-2.6zM415.7 229.4h2.6v2.4h-2.6zM418.3 229.4h2.6v2.4h-2.6zM420.9 229.4h2.6v2.4h-2.6zM423.5 229.4h2.6v2.4h-2.6zM431.3 229.4h2.6v2.4h-2.6zM439.1 229.4h2.6v2.4h-2.6zM441.7 229.4h2.6v2.4h-2.6zM413.1 231.8h2.6v2.4h-2.6zM418.3 231.8h2.6v2.4h-2.6zM420.9 231.8h2.6v2.4h-2.6zM426.1 231.8h2.6v2.4h-2.6zM436.5 231.8h2.6v2.4h-2.6zM439.1 231.8h2.6v2.4h-2.6zM444.3 231.8h2.6v2.4h-2.6zM413.1 234.2h2.6v2.4h-2.6zM418.3 234.2h2.6v2.4h-2.6zM426.1 234.2h2.6v2.4h-2.6zM428.7 234.2h2.6v2.4h-2.6zM431.3 234.2h2.6v2.4h-2.6zM436.5 234.2h2.6v2.4h-2.6zM418.3 236.6h2.6v2.4h-2.6zM428.7 236.6h2.6v2.4h-2.6zM439.1 236.6h2.6v2.4h-2.6zM444.3 236.6h2.6v2.4h-2.6zM446.9 236.6h2.6v2.4h-2.6zM428.7 239.0h2.6v2.4h-2.6zM431.3 239.0h2.6v2.4h-2.6zM433.9 239.0h2.6v2.4h-2.6zM439.1 239.0h2.6v2.4h-2.6zM441.7 239.0h2.6v2.4h-2.6zM446.9 239.0h2.6v2.4h-2.6zM418.3 241.4h2.6v2.4h-2.6zM433.9 241.4h2.6v2.4h-2.6zM423.5 243.8h2.6v2.4h-2.6zM426.1 243.8h2.6v2.4h-2.6zM428.7 243.8h2.6v2.4h-2.6zM436.5 243.8h2.6v2.4h-2.6zM439.1 243.8h2.6v2.4h-2.6zM441.7 243.8h2.6v2.4h-2.6zM449.5 243.8h2.6v2.4h-2.6zM420.9 246.2h2.6v2.4h-2.6zM423.5 246.2h2.6v2.4h-2.6zM426.1 246.2h2.6v2.4h-2.6zM428.7 246.2h2.6v2.4h-2.6zM441.7 246.2h2.6v2.4h-2.6zM446.9 246.2h2.6v2.4h-2.6zM426.1 248.6h2.6v2.4h-2.6zM431.3 248.6h2.6v2.4h-2.6zM439.1 248.6h2.6v2.4h-2.6zM444.3 248.6h2.6v2.4h-2.6zM446.9 248.6h2.6v2.4h-2.6zM449.5 248.6h2.6v2.4h-2.6zM452.1 248.6h2.6v2.4h-2.6zM423.5 251.0h2.6v2.4h-2.6zM426.1 251.0h2.6v2.4h-2.6zM433.9 251.0h2.6v2.4h-2.6zM436.5 251.0h2.6v2.4h-2.6zM444.3 251.0h2.6v2.4h-2.6zM454.7 251.0h2.6v2.4h-2.6zM426.1 253.4h2.6v2.4h-2.6zM428.7 253.4h2.6v2.4h-2.6zM433.9 253.4h2.6v2.4h-2.6zM436.5 253.4h2.6v2.4h-2.6zM449.5 253.4h2.6v2.4h-2.6zM452.1 253.4h2.6v2.4h-2.6zM454.7 253.4h2.6v2.4h-2.6zM426.1 255.8h2.6v2.4h-2.6zM428.7 255.8h2.6v2.4h-2.6zM436.5 255.8h2.6v2.4h-2.6zM441.7 255.8h2.6v2.4h-2.6zM444.3 255.8h2.6v2.4h-2.6zM454.7 255.8h2.6v2.4h-2.6zM426.1 258.2h2.6v2.4h-2.6zM433.9 258.2h2.6v2.4h-2.6zM436.5 258.2h2.6v2.4h-2.6zM452.1 258.2h2.6v2.4h-2.6zM454.7 258.2h2.6v2.4h-2.6zM441.7 260.6h2.6v2.4h-2.6zM444.3 260.6h2.6v2.4h-2.6zM446.9 260.6h2.6v2.4h-2.6zM428.7 263.0h2.6v2.4h-2.6zM433.9 263.0h2.6v2.4h-2.6zM436.5 263.0h2.6v2.4h-2.6zM441.7 263.0h2.6v2.4h-2.6zM444.3 263.0h2.6v2.4h-2.6zM449.5 263.0h2.6v2.4h-2.6zM452.1 263.0h2.6v2.4h-2.6zM457.3 263.0h2.6v2.4h-2.6zM431.3 265.4h2.6v2.4h-2.6zM433.9 265.4h2.6v2.4h-2.6zM436.5 265.4h2.6v2.4h-2.6zM446.9 265.4h2.6v2.4h-2.6zM449.5 265.4h2.6v2.4h-2.6zM457.3 265.4h2.6v2.4h-2.6zM462.5 265.4h2.6v2.4h-2.6zM431.3 267.8h2.6v2.4h-2.6zM441.7 267.8h2.6v2.4h-2.6zM449.5 267.8h2.6v2.4h-2.6zM452.1 267.8h2.6v2.4h-2.6zM454.7 267.8h2.6v2.4h-2.6zM449.5 270.2h2.6v2.4h-2.6zM457.3 270.2h2.6v2.4h-2.6zM459.9 270.2h2.6v2.4h-2.6zM462.5 270.2h2.6v2.4h-2.6zM465.1 270.2h2.6v2.4h-2.6zM436.5 272.6h2.6v2.4h-2.6zM439.1 272.6h2.6v2.4h-2.6zM441.7 272.6h2.6v2.4h-2.6zM444.3 272.6h2.6v2.4h-2.6zM449.5 272.6h2.6v2.4h-2.6zM454.7 272.6h2.6v2.4h-2.6zM457.3 272.6h2.6v2.4h-2.6zM459.9 272.6h2.6v2.4h-2.6zM462.5 272.6h2.6v2.4h-2.6zM467.7 272.6h2.6v2.4h-2.6zM436.5 275.0h2.6v2.4h-2.6zM439.1 275.0h2.6v2.4h-2.6zM446.9 275.0h2.6v2.4h-2.6zM449.5 275.0h2.6v2.4h-2.6zM452.1 275.0h2.6v2.4h-2.6zM454.7 275.0h2.6v2.4h-2.6zM459.9 275.0h2.6v2.4h-2.6zM462.5 275.0h2.6v2.4h-2.6zM465.1 275.0h2.6v2.4h-2.6zM467.7 275.0h2.6v2.4h-2.6zM441.7 277.4h2.6v2.4h-2.6zM444.3 277.4h2.6v2.4h-2.6zM446.9 277.4h2.6v2.4h-2.6zM449.5 277.4h2.6v2.4h-2.6zM454.7 277.4h2.6v2.4h-2.6zM457.3 277.4h2.6v2.4h-2.6zM459.9 277.4h2.6v2.4h-2.6zM462.5 277.4h2.6v2.4h-2.6zM470.3 277.4h2.6v2.4h-2.6zM441.7 279.8h2.6v2.4h-2.6zM452.1 279.8h2.6v2.4h-2.6zM454.7 279.8h2.6v2.4h-2.6zM457.3 279.8h2.6v2.4h-2.6zM459.9 279.8h2.6v2.4h-2.6zM467.7 279.8h2.6v2.4h-2.6zM452.1 282.2h2.6v2.4h-2.6zM454.7 282.2h2.6v2.4h-2.6zM457.3 282.2h2.6v2.4h-2.6zM465.1 282.2h2.6v2.4h-2.6zM467.7 282.2h2.6v2.4h-2.6zM470.3 282.2h2.6v2.4h-2.6zM472.9 282.2h2.6v2.4h-2.6zM441.7 284.6h2.6v2.4h-2.6zM446.9 284.6h2.6v2.4h-2.6zM449.5 284.6h2.6v2.4h-2.6zM452.1 284.6h2.6v2.4h-2.6zM454.7 284.6h2.6v2.4h-2.6zM457.3 284.6h2.6v2.4h-2.6zM459.9 284.6h2.6v2.4h-2.6zM462.5 284.6h2.6v2.4h-2.6zM467.7 284.6h2.6v2.4h-2.6zM470.3 284.6h2.6v2.4h-2.6zM444.3 287.0h2.6v2.4h-2.6zM452.1 287.0h2.6v2.4h-2.6zM454.7 287.0h2.6v2.4h-2.6zM457.3 287.0h2.6v2.4h-2.6zM459.9 287.0h2.6v2.4h-2.6zM462.5 287.0h2.6v2.4h-2.6zM465.1 287.0h2.6v2.4h-2.6zM470.3 287.0h2.6v2.4h-2.6zM475.5 287.0h2.6v2.4h-2.6zM441.7 289.4h2.6v2.4h-2.6zM444.3 289.4h2.6v2.4h-2.6zM457.3 289.4h2.6v2.4h-2.6zM459.9 289.4h2.6v2.4h-2.6zM462.5 289.4h2.6v2.4h-2.6zM470.3 289.4h2.6v2.4h-2.6zM472.9 289.4h2.6v2.4h-2.6zM475.5 289.4h2.6v2.4h-2.6zM446.9 291.8h2.6v2.4h-2.6zM449.5 291.8h2.6v2.4h-2.6zM457.3 291.8h2.6v2.4h-2.6zM459.9 291.8h2.6v2.4h-2.6zM462.5 291.8h2.6v2.4h-2.6zM465.1 291.8h2.6v2.4h-2.6zM478.1 291.8h2.6v2.4h-2.6zM444.3 294.2h2.6v2.4h-2.6zM449.5 294.2h2.6v2.4h-2.6zM454.7 294.2h2.6v2.4h-2.6zM457.3 294.2h2.6v2.4h-2.6zM459.9 294.2h2.6v2.4h-2.6zM462.5 294.2h2.6v2.4h-2.6zM467.7 294.2h2.6v2.4h-2.6zM470.3 294.2h2.6v2.4h-2.6zM472.9 294.2h2.6v2.4h-2.6zM480.7 294.2h2.6v2.4h-2.6zM444.3 296.6h2.6v2.4h-2.6zM446.9 296.6h2.6v2.4h-2.6zM454.7 296.6h2.6v2.4h-2.6zM457.3 296.6h2.6v2.4h-2.6zM459.9 296.6h2.6v2.4h-2.6zM462.5 296.6h2.6v2.4h-2.6zM465.1 296.6h2.6v2.4h-2.6zM467.7 296.6h2.6v2.4h-2.6zM470.3 296.6h2.6v2.4h-2.6zM446.9 299.0h2.6v2.4h-2.6zM449.5 299.0h2.6v2.4h-2.6zM452.1 299.0h2.6v2.4h-2.6zM457.3 299.0h2.6v2.4h-2.6zM459.9 299.0h2.6v2.4h-2.6zM462.5 299.0h2.6v2.4h-2.6zM465.1 299.0h2.6v2.4h-2.6zM467.7 299.0h2.6v2.4h-2.6zM470.3 299.0h2.6v2.4h-2.6zM472.9 299.0h2.6v2.4h-2.6zM475.5 299.0h2.6v2.4h-2.6zM483.3 299.0h2.6v2.4h-2.6zM446.9 301.4h2.6v2.4h-2.6zM452.1 301.4h2.6v2.4h-2.6zM467.7 301.4h2.6v2.4h-2.6zM472.9 301.4h2.6v2.4h-2.6zM475.5 301.4h2.6v2.4h-2.6zM483.3 301.4h2.6v2.4h-2.6zM449.5 303.8h2.6v2.4h-2.6zM452.1 303.8h2.6v2.4h-2.6zM454.7 303.8h2.6v2.4h-2.6zM459.9 303.8h2.6v2.4h-2.6zM462.5 303.8h2.6v2.4h-2.6zM467.7 303.8h2.6v2.4h-2.6zM472.9 303.8h2.6v2.4h-2.6zM475.5 303.8h2.6v2.4h-2.6zM478.1 303.8h2.6v2.4h-2.6zM485.9 303.8h2.6v2.4h-2.6zM454.7 306.2h2.6v2.4h-2.6zM457.3 306.2h2.6v2.4h-2.6zM459.9 306.2h2.6v2.4h-2.6zM462.5 306.2h2.6v2.4h-2.6zM467.7 306.2h2.6v2.4h-2.6zM470.3 306.2h2.6v2.4h-2.6zM472.9 306.2h2.6v2.4h-2.6zM475.5 306.2h2.6v2.4h-2.6zM478.1 306.2h2.6v2.4h-2.6zM480.7 306.2h2.6v2.4h-2.6zM483.3 306.2h2.6v2.4h-2.6zM449.5 308.6h2.6v2.4h-2.6zM454.7 308.6h2.6v2.4h-2.6zM457.3 308.6h2.6v2.4h-2.6zM459.9 308.6h2.6v2.4h-2.6zM462.5 308.6h2.6v2.4h-2.6zM465.1 308.6h2.6v2.4h-2.6zM467.7 308.6h2.6v2.4h-2.6zM470.3 308.6h2.6v2.4h-2.6zM478.1 308.6h2.6v2.4h-2.6zM480.7 308.6h2.6v2.4h-2.6zM452.1 311.0h2.6v2.4h-2.6zM454.7 311.0h2.6v2.4h-2.6zM457.3 311.0h2.6v2.4h-2.6zM459.9 311.0h2.6v2.4h-2.6zM462.5 311.0h2.6v2.4h-2.6zM465.1 311.0h2.6v2.4h-2.6zM470.3 311.0h2.6v2.4h-2.6zM475.5 311.0h2.6v2.4h-2.6zM478.1 311.0h2.6v2.4h-2.6zM483.3 311.0h2.6v2.4h-2.6zM485.9 311.0h2.6v2.4h-2.6zM488.5 311.0h2.6v2.4h-2.6zM454.7 313.4h2.6v2.4h-2.6zM457.3 313.4h2.6v2.4h-2.6zM462.5 313.4h2.6v2.4h-2.6zM465.1 313.4h2.6v2.4h-2.6zM467.7 313.4h2.6v2.4h-2.6zM470.3 313.4h2.6v2.4h-2.6zM480.7 313.4h2.6v2.4h-2.6zM483.3 313.4h2.6v2.4h-2.6zM488.5 313.4h2.6v2.4h-2.6zM454.7 315.8h2.6v2.4h-2.6zM459.9 315.8h2.6v2.4h-2.6zM465.1 315.8h2.6v2.4h-2.6zM467.7 315.8h2.6v2.4h-2.6zM472.9 315.8h2.6v2.4h-2.6zM475.5 315.8h2.6v2.4h-2.6zM478.1 315.8h2.6v2.4h-2.6zM485.9 315.8h2.6v2.4h-2.6zM454.7 318.2h2.6v2.4h-2.6zM457.3 318.2h2.6v2.4h-2.6zM465.1 318.2h2.6v2.4h-2.6zM475.5 318.2h2.6v2.4h-2.6zM478.1 318.2h2.6v2.4h-2.6zM480.7 318.2h2.6v2.4h-2.6zM491.1 318.2h2.6v2.4h-2.6zM454.7 320.6h2.6v2.4h-2.6zM457.3 320.6h2.6v2.4h-2.6zM467.7 320.6h2.6v2.4h-2.6zM470.3 320.6h2.6v2.4h-2.6zM472.9 320.6h2.6v2.4h-2.6zM475.5 320.6h2.6v2.4h-2.6zM480.7 320.6h2.6v2.4h-2.6zM483.3 320.6h2.6v2.4h-2.6zM488.5 320.6h2.6v2.4h-2.6zM457.3 323.0h2.6v2.4h-2.6zM459.9 323.0h2.6v2.4h-2.6zM462.5 323.0h2.6v2.4h-2.6zM465.1 323.0h2.6v2.4h-2.6zM467.7 323.0h2.6v2.4h-2.6zM472.9 323.0h2.6v2.4h-2.6zM475.5 323.0h2.6v2.4h-2.6zM478.1 323.0h2.6v2.4h-2.6zM483.3 323.0h2.6v2.4h-2.6zM488.5 323.0h2.6v2.4h-2.6zM457.3 325.4h2.6v2.4h-2.6zM459.9 325.4h2.6v2.4h-2.6zM462.5 325.4h2.6v2.4h-2.6zM467.7 325.4h2.6v2.4h-2.6zM470.3 325.4h2.6v2.4h-2.6zM472.9 325.4h2.6v2.4h-2.6zM475.5 325.4h2.6v2.4h-2.6zM483.3 325.4h2.6v2.4h-2.6zM488.5 325.4h2.6v2.4h-2.6z" fill="#d7defa"/>
<path d="M415.7 207.8h2.6v2.4h-2.6zM418.3 207.8h2.6v2.4h-2.6zM423.5 207.8h2.6v2.4h-2.6zM428.7 207.8h2.6v2.4h-2.6zM413.1 212.6h2.6v2.4h-2.6zM415.7 212.6h2.6v2.4h-2.6zM431.3 212.6h2.6v2.4h-2.6zM413.1 215.0h2.6v2.4h-2.6zM426.1 215.0h2.6v2.4h-2.6zM415.7 217.4h2.6v2.4h-2.6zM418.3 217.4h2.6v2.4h-2.6zM426.1 217.4h2.6v2.4h-2.6zM415.7 219.8h2.6v2.4h-2.6zM423.5 219.8h2.6v2.4h-2.6zM431.3 219.8h2.6v2.4h-2.6zM415.7 227.0h2.6v2.4h-2.6zM436.5 227.0h2.6v2.4h-2.6zM439.1 227.0h2.6v2.4h-2.6zM441.7 227.0h2.6v2.4h-2.6zM433.9 229.4h2.6v2.4h-2.6zM415.7 231.8h2.6v2.4h-2.6zM428.7 231.8h2.6v2.4h-2.6zM433.9 236.6h2.6v2.4h-2.6zM441.7 236.6h2.6v2.4h-2.6zM420.9 239.0h2.6v2.4h-2.6zM423.5 239.0h2.6v2.4h-2.6zM426.1 239.0h2.6v2.4h-2.6zM436.5 239.0h2.6v2.4h-2.6zM444.3 239.0h2.6v2.4h-2.6zM428.7 241.4h2.6v2.4h-2.6zM439.1 241.4h2.6v2.4h-2.6zM441.7 241.4h2.6v2.4h-2.6zM449.5 241.4h2.6v2.4h-2.6zM420.9 243.8h2.6v2.4h-2.6zM431.3 246.2h2.6v2.4h-2.6zM444.3 246.2h2.6v2.4h-2.6zM449.5 246.2h2.6v2.4h-2.6zM423.5 248.6h2.6v2.4h-2.6zM439.1 251.0h2.6v2.4h-2.6zM441.7 253.4h2.6v2.4h-2.6zM457.3 255.8h2.6v2.4h-2.6zM444.3 258.2h2.6v2.4h-2.6zM436.5 260.6h2.6v2.4h-2.6zM446.9 263.0h2.6v2.4h-2.6zM459.9 263.0h2.6v2.4h-2.6zM452.1 265.4h2.6v2.4h-2.6zM446.9 267.8h2.6v2.4h-2.6zM459.9 267.8h2.6v2.4h-2.6zM462.5 267.8h2.6v2.4h-2.6zM433.9 272.6h2.6v2.4h-2.6zM446.9 272.6h2.6v2.4h-2.6zM452.1 272.6h2.6v2.4h-2.6zM465.1 272.6h2.6v2.4h-2.6zM441.7 275.0h2.6v2.4h-2.6zM457.3 275.0h2.6v2.4h-2.6zM436.5 277.4h2.6v2.4h-2.6zM439.1 277.4h2.6v2.4h-2.6zM452.1 277.4h2.6v2.4h-2.6zM467.7 277.4h2.6v2.4h-2.6zM439.1 279.8h2.6v2.4h-2.6zM446.9 279.8h2.6v2.4h-2.6zM449.5 279.8h2.6v2.4h-2.6zM465.1 279.8h2.6v2.4h-2.6zM470.3 279.8h2.6v2.4h-2.6zM439.1 282.2h2.6v2.4h-2.6zM444.3 282.2h2.6v2.4h-2.6zM446.9 282.2h2.6v2.4h-2.6zM449.5 282.2h2.6v2.4h-2.6zM459.9 282.2h2.6v2.4h-2.6zM462.5 282.2h2.6v2.4h-2.6zM444.3 284.6h2.6v2.4h-2.6zM441.7 287.0h2.6v2.4h-2.6zM446.9 287.0h2.6v2.4h-2.6zM449.5 287.0h2.6v2.4h-2.6zM467.7 287.0h2.6v2.4h-2.6zM472.9 287.0h2.6v2.4h-2.6zM446.9 289.4h2.6v2.4h-2.6zM465.1 289.4h2.6v2.4h-2.6zM467.7 289.4h2.6v2.4h-2.6zM444.3 291.8h2.6v2.4h-2.6zM452.1 291.8h2.6v2.4h-2.6zM467.7 291.8h2.6v2.4h-2.6zM470.3 291.8h2.6v2.4h-2.6zM472.9 291.8h2.6v2.4h-2.6zM446.9 294.2h2.6v2.4h-2.6zM452.1 294.2h2.6v2.4h-2.6zM465.1 294.2h2.6v2.4h-2.6zM475.5 294.2h2.6v2.4h-2.6zM478.1 294.2h2.6v2.4h-2.6zM449.5 296.6h2.6v2.4h-2.6zM452.1 296.6h2.6v2.4h-2.6zM472.9 296.6h2.6v2.4h-2.6zM475.5 296.6h2.6v2.4h-2.6zM478.1 296.6h2.6v2.4h-2.6zM480.7 296.6h2.6v2.4h-2.6zM454.7 299.0h2.6v2.4h-2.6zM478.1 299.0h2.6v2.4h-2.6zM454.7 301.4h2.6v2.4h-2.6zM457.3 301.4h2.6v2.4h-2.6zM459.9 301.4h2.6v2.4h-2.6zM462.5 301.4h2.6v2.4h-2.6zM465.1 301.4h2.6v2.4h-2.6zM470.3 301.4h2.6v2.4h-2.6zM457.3 303.8h2.6v2.4h-2.6zM465.1 303.8h2.6v2.4h-2.6zM470.3 303.8h2.6v2.4h-2.6zM480.7 303.8h2.6v2.4h-2.6zM483.3 303.8h2.6v2.4h-2.6zM449.5 306.2h2.6v2.4h-2.6zM452.1 306.2h2.6v2.4h-2.6zM465.1 306.2h2.6v2.4h-2.6zM485.9 306.2h2.6v2.4h-2.6zM467.7 311.0h2.6v2.4h-2.6zM472.9 311.0h2.6v2.4h-2.6zM480.7 311.0h2.6v2.4h-2.6zM452.1 313.4h2.6v2.4h-2.6zM459.9 313.4h2.6v2.4h-2.6zM472.9 313.4h2.6v2.4h-2.6zM475.5 313.4h2.6v2.4h-2.6zM485.9 313.4h2.6v2.4h-2.6zM457.3 315.8h2.6v2.4h-2.6zM462.5 315.8h2.6v2.4h-2.6zM470.3 315.8h2.6v2.4h-2.6zM483.3 315.8h2.6v2.4h-2.6zM459.9 318.2h2.6v2.4h-2.6zM462.5 318.2h2.6v2.4h-2.6zM467.7 318.2h2.6v2.4h-2.6zM470.3 318.2h2.6v2.4h-2.6zM472.9 318.2h2.6v2.4h-2.6zM483.3 318.2h2.6v2.4h-2.6zM485.9 318.2h2.6v2.4h-2.6zM488.5 318.2h2.6v2.4h-2.6zM459.9 320.6h2.6v2.4h-2.6zM465.1 320.6h2.6v2.4h-2.6zM478.1 320.6h2.6v2.4h-2.6zM485.9 320.6h2.6v2.4h-2.6zM491.1 320.6h2.6v2.4h-2.6zM470.3 323.0h2.6v2.4h-2.6zM491.1 323.0h2.6v2.4h-2.6zM465.1 325.4h2.6v2.4h-2.6zM491.1 325.4h2.6v2.4h-2.6zM493.7 325.4h2.6v2.4h-2.6z" fill="#d7eefa"/>
<path d="M278.7 268.7h2.6v2.4h-2.6zM278.7 273.5h2.6v2.4h-2.6zM278.7 278.3h2.6v2.4h-2.6zM281.3 283.1h2.6v2.4h-2.6zM283.9 283.1h2.6v2.4h-2.6zM286.5 283.1h2.6v2.4h-2.6zM286.5 285.5h2.6v2.4h-2.6zM281.3 287.9h2.6v2.4h-2.6zM286.5 290.3h2.6v2.4h-2.6zM278.7 295.1h2.6v2.4h-2.6zM281.3 299.9h2.6v2.4h-2.6zM289.1 299.9h2.6v2.4h-2.6zM278.7 302.3h2.6v2.4h-2.6zM281.3 302.3h2.6v2.4h-2.6zM278.7 304.7h2.6v2.4h-2.6zM283.9 304.7h2.6v2.4h-2.6zM291.7 304.7h2.6v2.4h-2.6zM289.1 307.1h2.6v2.4h-2.6zM294.3 307.1h2.6v2.4h-2.6zM289.1 309.5h2.6v2.4h-2.6zM289.1 314.3h2.6v2.4h-2.6zM291.7 314.3h2.6v2.4h-2.6zM278.7 316.7h2.6v2.4h-2.6zM289.1 316.7h2.6v2.4h-2.6zM291.7 319.1h2.6v2.4h-2.6zM289.1 321.5h2.6v2.4h-2.6zM281.3 323.9h2.6v2.4h-2.6zM283.9 323.9h2.6v2.4h-2.6zM291.7 323.9h2.6v2.4h-2.6zM281.3 326.3h2.6v2.4h-2.6zM291.7 326.3h2.6v2.4h-2.6z" fill="#d7eefa"/>
<path d="M278.7 271.1h2.6v2.4h-2.6zM281.3 271.1h2.6v2.4h-2.6zM278.7 275.9h2.6v2.4h-2.6zM281.3 275.9h2.6v2.4h-2.6zM283.9 275.9h2.6v2.4h-2.6zM281.3 278.3h2.6v2.4h-2.6zM283.9 278.3h2.6v2.4h-2.6zM281.3 280.7h2.6v2.4h-2.6zM283.9 280.7h2.6v2.4h-2.6zM278.7 283.1h2.6v2.4h-2.6zM278.7 285.5h2.6v2.4h-2.6zM281.3 285.5h2.6v2.4h-2.6zM283.9 285.5h2.6v2.4h-2.6zM278.7 287.9h2.6v2.4h-2.6zM283.9 287.9h2.6v2.4h-2.6zM286.5 287.9h2.6v2.4h-2.6zM278.7 290.3h2.6v2.4h-2.6zM281.3 290.3h2.6v2.4h-2.6zM283.9 290.3h2.6v2.4h-2.6zM289.1 290.3h2.6v2.4h-2.6zM278.7 292.7h2.6v2.4h-2.6zM281.3 292.7h2.6v2.4h-2.6zM283.9 292.7h2.6v2.4h-2.6zM286.5 292.7h2.6v2.4h-2.6zM289.1 292.7h2.6v2.4h-2.6zM281.3 295.1h2.6v2.4h-2.6zM283.9 295.1h2.6v2.4h-2.6zM286.5 295.1h2.6v2.4h-2.6zM289.1 295.1h2.6v2.4h-2.6zM278.7 297.5h2.6v2.4h-2.6zM283.9 297.5h2.6v2.4h-2.6zM286.5 297.5h2.6v2.4h-2.6zM289.1 297.5h2.6v2.4h-2.6zM291.7 297.5h2.6v2.4h-2.6zM278.7 299.9h2.6v2.4h-2.6zM283.9 299.9h2.6v2.4h-2.6zM286.5 299.9h2.6v2.4h-2.6zM291.7 299.9h2.6v2.4h-2.6zM283.9 302.3h2.6v2.4h-2.6zM286.5 302.3h2.6v2.4h-2.6zM289.1 302.3h2.6v2.4h-2.6zM291.7 302.3h2.6v2.4h-2.6zM281.3 304.7h2.6v2.4h-2.6zM286.5 304.7h2.6v2.4h-2.6zM289.1 304.7h2.6v2.4h-2.6zM278.7 307.1h2.6v2.4h-2.6zM283.9 307.1h2.6v2.4h-2.6zM286.5 307.1h2.6v2.4h-2.6zM278.7 309.5h2.6v2.4h-2.6zM281.3 309.5h2.6v2.4h-2.6zM283.9 309.5h2.6v2.4h-2.6zM286.5 309.5h2.6v2.4h-2.6zM291.7 309.5h2.6v2.4h-2.6zM294.3 309.5h2.6v2.4h-2.6zM278.7 311.9h2.6v2.4h-2.6zM283.9 311.9h2.6v2.4h-2.6zM286.5 311.9h2.6v2.4h-2.6zM289.1 311.9h2.6v2.4h-2.6zM291.7 311.9h2.6v2.4h-2.6zM294.3 311.9h2.6v2.4h-2.6zM278.7 314.3h2.6v2.4h-2.6zM281.3 314.3h2.6v2.4h-2.6zM283.9 314.3h2.6v2.4h-2.6zM286.5 314.3h2.6v2.4h-2.6zM294.3 314.3h2.6v2.4h-2.6zM296.9 314.3h2.6v2.4h-2.6zM281.3 316.7h2.6v2.4h-2.6zM283.9 316.7h2.6v2.4h-2.6zM286.5 316.7h2.6v2.4h-2.6zM291.7 316.7h2.6v2.4h-2.6zM294.3 316.7h2.6v2.4h-2.6zM296.9 316.7h2.6v2.4h-2.6zM278.7 319.1h2.6v2.4h-2.6zM283.9 319.1h2.6v2.4h-2.6zM294.3 319.1h2.6v2.4h-2.6zM278.7 321.5h2.6v2.4h-2.6zM281.3 321.5h2.6v2.4h-2.6zM283.9 321.5h2.6v2.4h-2.6zM286.5 321.5h2.6v2.4h-2.6zM291.7 321.5h2.6v2.4h-2.6zM294.3 321.5h2.6v2.4h-2.6zM296.9 321.5h2.6v2.4h-2.6zM299.5 321.5h2.6v2.4h-2.6zM278.7 323.9h2.6v2.4h-2.6zM286.5 323.9h2.6v2.4h-2.6zM289.1 323.9h2.6v2.4h-2.6zM294.3 323.9h2.6v2.4h-2.6zM296.9 323.9h2.6v2.4h-2.6zM278.7 326.3h2.6v2.4h-2.6zM283.9 326.3h2.6v2.4h-2.6zM286.5 326.3h2.6v2.4h-2.6zM289.1 326.3h2.6v2.4h-2.6zM294.3 326.3h2.6v2.4h-2.6zM299.5 326.3h2.6v2.4h-2.6z" fill="#d7defa"/>
<path d="M493.4 198.2h2.6v2.4h-2.6zM496.0 203.0h2.6v2.4h-2.6zM485.6 205.4h2.6v2.4h-2.6zM498.6 219.8h2.6v2.4h-2.6z" fill="#d7eefa"/>
<path d="M490.8 200.6h2.6v2.4h-2.6zM493.4 200.6h2.6v2.4h-2.6zM498.6 200.6h2.6v2.4h-2.6zM490.8 203.0h2.6v2.4h-2.6zM493.4 203.0h2.6v2.4h-2.6zM493.4 205.4h2.6v2.4h-2.6zM496.0 205.4h2.6v2.4h-2.6zM498.6 205.4h2.6v2.4h-2.6zM488.2 207.8h2.6v2.4h-2.6zM490.8 207.8h2.6v2.4h-2.6zM496.0 207.8h2.6v2.4h-2.6zM498.6 207.8h2.6v2.4h-2.6zM490.8 210.2h2.6v2.4h-2.6zM493.4 210.2h2.6v2.4h-2.6zM496.0 210.2h2.6v2.4h-2.6zM490.8 212.6h2.6v2.4h-2.6zM493.4 215.0h2.6v2.4h-2.6zM496.0 215.0h2.6v2.4h-2.6zM496.0 217.4h2.6v2.4h-2.6z" fill="#d7defa"/>
<path d="M294.3 199.7h1.4v1.2h-1.4zM316.5 199.7h2.8v1.2h-2.8zM326.6 203.4h1.4v1.2h-1.4zM308.5 204.0h2.1v1.2h-2.1zM326.4 204.4h1.4v1.2h-1.4zM301.7 206.9h1.4v1.2h-1.4zM302.6 209.4h1.4v1.2h-1.4zM314.3 212.4h1.4v1.2h-1.4zM334.9 215.2h1.4v1.2h-1.4zM329.4 217.7h1.4v1.2h-1.4zM335.1 218.9h1.4v1.2h-1.4zM330.8 221.3h2.8v1.2h-2.8zM332.4 222.5h1.4v1.2h-1.4zM343.7 223.6h2.8v1.2h-2.8zM338.2 240.5h1.4v1.2h-1.4zM346.2 242.5h2.1v1.2h-2.1zM360.5 248.5h2.1v1.2h-2.1zM338.3 251.0h1.4v1.2h-1.4zM361.6 253.5h2.1v1.2h-2.1zM342.4 255.7h1.4v1.2h-1.4zM339.2 257.3h1.4v1.2h-1.4zM344.9 271.7h2.1v1.2h-2.1zM357.2 271.8h1.4v1.2h-1.4zM361.7 272.5h2.8v1.2h-2.8zM366.1 277.8h1.4v1.2h-1.4zM368.9 285.9h1.4v1.2h-1.4zM368.9 295.9h1.4v1.2h-1.4zM373.2 295.7h1.4v1.2h-1.4zM353.3 298.2h2.1v1.2h-2.1zM374.5 300.6h1.4v1.2h-1.4zM375.3 300.5h2.1v1.2h-2.1zM379.9 305.2h2.1v1.2h-2.1zM382.5 307.4h1.4v1.2h-1.4zM388.5 307.6h1.4v1.2h-1.4zM371.2 316.9h1.4v1.2h-1.4zM370.0 324.0h2.1v1.2h-2.1z" fill="#87a5fa"/>
<path d="M301.7 199.8h1.4v1.2h-1.4zM333.7 200.9h2.8v1.2h-2.8zM332.6 204.1h1.4v1.2h-1.4zM333.7 204.4h2.8v1.2h-2.8zM305.8 210.3h1.4v1.2h-1.4zM321.4 212.8h1.4v1.2h-1.4zM328.1 218.4h1.4v1.2h-1.4zM340.8 222.5h2.1v1.2h-2.1zM346.5 229.4h1.4v1.2h-1.4zM336.5 251.9h1.4v1.2h-1.4zM341.7 252.0h2.1v1.2h-2.1zM360.7 254.9h2.8v1.2h-2.8zM366.2 257.1h2.1v1.2h-2.1zM366.3 266.5h2.8v1.2h-2.8zM357.2 274.3h1.4v1.2h-1.4zM365.7 274.1h2.1v1.2h-2.1zM361.4 278.4h2.1v1.2h-2.1zM387.2 303.6h2.8v1.2h-2.8zM356.1 305.2h2.1v1.2h-2.1zM377.4 305.2h2.8v1.2h-2.8zM365.6 307.5h1.4v1.2h-1.4z" fill="#c8f5fa"/>
<path d="M329.4 199.6h1.4v1.2h-1.4zM336.3 203.9h1.4v1.2h-1.4zM315.1 206.4h1.4v1.2h-1.4zM318.0 207.0h1.4v1.2h-1.4zM336.5 208.9h1.4v1.2h-1.4zM312.6 211.7h2.8v1.2h-2.8zM316.9 212.9h1.4v1.2h-1.4zM341.0 216.4h2.8v1.2h-2.8zM339.2 220.9h2.1v1.2h-2.1zM342.4 223.5h2.8v1.2h-2.8zM347.8 223.6h1.4v1.2h-1.4zM340.4 227.3h1.4v1.2h-1.4zM339.2 229.1h1.4v1.2h-1.4zM338.2 238.2h2.8v1.2h-2.8zM339.2 247.2h1.4v1.2h-1.4zM351.8 252.0h2.8v1.2h-2.8zM357.6 257.1h1.4v1.2h-1.4zM355.0 262.8h1.4v1.2h-1.4zM363.4 268.7h2.1v1.2h-2.1zM360.1 270.4h2.1v1.2h-2.1zM364.6 274.1h1.4v1.2h-1.4zM357.9 278.5h2.1v1.2h-2.1zM344.9 281.2h2.1v1.2h-2.1zM369.9 283.4h2.1v1.2h-2.1zM350.7 292.2h1.4v1.2h-1.4zM353.4 295.5h1.4v1.2h-1.4zM378.3 297.8h1.4v1.2h-1.4zM389.3 314.8h2.8v1.2h-2.8zM392.5 314.5h1.4v1.2h-1.4zM389.6 318.0h1.4v1.2h-1.4zM360.2 323.2h1.4v1.2h-1.4zM388.3 323.3h2.8v1.2h-2.8zM395.6 323.3h2.1v1.2h-2.1z" fill="#9aa6f0"/>
<path d="M330.6 199.9h1.4v1.2h-1.4zM310.2 203.2h1.4v1.2h-1.4zM332.2 212.5h1.4v1.2h-1.4zM353.3 226.1h1.4v1.2h-1.4zM355.0 235.5h2.8v1.2h-2.8zM360.1 263.5h2.8v1.2h-2.8zM355.0 283.7h1.4v1.2h-1.4zM374.0 308.5h2.8v1.2h-2.8zM371.4 312.2h1.4v1.2h-1.4zM375.6 312.3h2.8v1.2h-2.8zM390.9 318.2h2.1v1.2h-2.1zM378.4 320.6h1.4v1.2h-1.4zM361.6 323.0h1.4v1.2h-1.4z" fill="#5a78e6"/>
<path d="M302.5 203.2h1.4v1.2h-1.4zM313.7 207.8h1.4v1.2h-1.4zM343.1 213.7h1.4v1.2h-1.4zM341.9 218.4h2.1v1.2h-2.1zM346.6 235.6h2.1v1.2h-2.1zM349.1 235.8h2.8v1.2h-2.8zM339.2 238.9h2.1v1.2h-2.1zM330.6 240.3h1.4v1.2h-1.4zM334.0 241.5h1.4v1.2h-1.4zM351.6 242.5h1.4v1.2h-1.4zM355.9 248.9h1.4v1.2h-1.4zM361.6 251.4h1.4v1.2h-1.4zM358.6 252.4h2.1v1.2h-2.1zM339.0 253.7h1.4v1.2h-1.4zM355.8 261.7h1.4v1.2h-1.4zM342.3 264.2h2.1v1.2h-2.1zM350.1 264.5h2.1v1.2h-2.1zM368.9 282.5h2.1v1.2h-2.1zM355.0 298.0h2.1v1.2h-2.1zM385.1 307.8h2.1v1.2h-2.1zM390.8 313.7h2.1v1.2h-2.1zM362.8 319.5h1.4v1.2h-1.4zM386.6 321.9h2.8v1.2h-2.8zM368.5 323.0h2.8v1.2h-2.8zM369.9 325.9h1.4v1.2h-1.4z" fill="#aab4f5"/>
<path d="M418.0 207.5h1.4v1.2h-1.4zM429.1 222.1h1.4v1.2h-1.4zM420.2 223.4h1.4v1.2h-1.4zM439.9 224.6h1.4v1.2h-1.4zM436.1 225.8h1.4v1.2h-1.4zM434.7 239.2h2.1v1.2h-2.1zM423.5 244.1h2.1v1.2h-2.1zM438.7 244.0h2.1v1.2h-2.1zM421.9 246.4h2.8v1.2h-2.8zM436.9 245.9h2.8v1.2h-2.8zM431.7 247.3h1.4v1.2h-1.4zM445.4 247.4h2.1v1.2h-2.1zM446.9 252.1h1.4v1.2h-1.4zM433.3 258.3h2.8v1.2h-2.8zM431.6 259.3h2.1v1.2h-2.1zM451.6 263.4h2.8v1.2h-2.8zM433.0 265.2h2.8v1.2h-2.8zM444.4 278.4h1.4v1.2h-1.4zM456.6 287.2h1.4v1.2h-1.4zM482.4 295.4h1.4v1.2h-1.4zM452.8 311.4h2.1v1.2h-2.1zM456.8 312.4h1.4v1.2h-1.4zM469.4 315.8h2.1v1.2h-2.1zM482.3 322.0h2.1v1.2h-2.1zM458.3 325.3h1.4v1.2h-1.4z" fill="#aab4f5"/>
<path d="M407.7 208.8h2.1v1.2h-2.1zM408.2 214.9h1.4v1.2h-1.4zM434.2 216.3h1.4v1.2h-1.4zM423.6 217.3h2.8v1.2h-2.8zM430.5 220.0h2.8v1.2h-2.8zM412.4 221.8h1.4v1.2h-1.4zM417.4 223.6h2.8v1.2h-2.8zM417.5 226.8h2.8v1.2h-2.8zM430.5 227.9h2.1v1.2h-2.1zM446.0 233.4h1.4v1.2h-1.4zM425.9 243.6h1.4v1.2h-1.4zM440.4 243.9h2.8v1.2h-2.8zM425.8 247.2h2.8v1.2h-2.8zM437.0 253.2h2.8v1.2h-2.8zM451.5 262.2h1.4v1.2h-1.4zM452.9 262.1h2.1v1.2h-2.1zM451.3 269.9h2.1v1.2h-2.1zM459.6 271.2h1.4v1.2h-1.4zM466.7 273.9h1.4v1.2h-1.4zM452.3 275.0h2.8v1.2h-2.8zM465.4 277.5h2.1v1.2h-2.1zM478.1 289.1h1.4v1.2h-1.4zM479.6 293.1h2.1v1.2h-2.1zM481.7 296.6h1.4v1.2h-1.4zM476.1 299.0h2.1v1.2h-2.1zM465.2 303.0h2.1v1.2h-2.1zM465.2 305.1h2.8v1.2h-2.8zM476.7 305.0h2.8v1.2h-2.8zM477.5 305.3h2.8v1.2h-2.8zM453.9 307.6h2.8v1.2h-2.8zM480.9 309.9h2.1v1.2h-2.1zM467.8 315.9h2.8v1.2h-2.8zM475.4 323.4h1.4v1.2h-1.4zM482.4 326.8h1.4v1.2h-1.4z" fill="#9aa6f0"/>
<path d="M409.3 208.9h1.4v1.2h-1.4zM413.4 215.0h2.1v1.2h-2.1zM426.0 214.7h1.4v1.2h-1.4zM427.6 215.2h1.4v1.2h-1.4zM419.1 222.3h2.1v1.2h-2.1zM423.6 222.1h1.4v1.2h-1.4zM423.2 227.9h2.1v1.2h-2.1zM442.8 228.2h1.4v1.2h-1.4zM434.4 233.0h1.4v1.2h-1.4zM441.6 233.3h1.4v1.2h-1.4zM423.0 234.5h1.4v1.2h-1.4zM437.4 234.4h1.4v1.2h-1.4zM430.6 240.2h2.1v1.2h-2.1zM445.5 240.1h1.4v1.2h-1.4zM429.0 247.2h1.4v1.2h-1.4zM441.7 247.5h2.1v1.2h-2.1zM431.7 250.2h2.1v1.2h-2.1zM427.1 255.0h1.4v1.2h-1.4zM441.8 260.7h1.4v1.2h-1.4zM441.5 263.2h2.1v1.2h-2.1zM453.9 269.3h1.4v1.2h-1.4zM442.6 275.1h2.1v1.2h-2.1zM458.0 283.2h1.4v1.2h-1.4zM449.9 286.7h2.8v1.2h-2.8zM478.9 291.8h1.4v1.2h-1.4zM472.2 294.2h1.4v1.2h-1.4zM460.9 301.1h2.8v1.2h-2.8zM450.9 303.9h1.4v1.2h-1.4zM467.0 308.7h1.4v1.2h-1.4zM493.3 324.0h2.8v1.2h-2.8z" fill="#87a5fa"/>
<path d="M429.2 209.4h1.4v1.2h-1.4zM424.8 210.3h1.4v1.2h-1.4zM412.2 216.1h2.1v1.2h-2.1zM419.3 217.1h2.1v1.2h-2.1zM415.0 226.0h1.4v1.2h-1.4zM425.7 231.4h1.4v1.2h-1.4zM439.9 235.7h2.8v1.2h-2.8zM426.3 241.8h2.1v1.2h-2.1zM434.6 255.8h1.4v1.2h-1.4zM441.6 256.1h1.4v1.2h-1.4zM458.3 259.2h1.4v1.2h-1.4zM456.8 263.2h1.4v1.2h-1.4zM465.0 287.0h1.4v1.2h-1.4zM483.2 299.4h1.4v1.2h-1.4zM483.7 301.6h2.1v1.2h-2.1z" fill="#5a78e6"/>
<path d="M426.3 212.7h1.4v1.2h-1.4zM433.4 215.1h1.4v1.2h-1.4zM408.9 223.8h2.1v1.2h-2.1zM433.1 223.7h2.8v1.2h-2.8zM431.5 225.0h2.1v1.2h-2.1zM443.2 225.5h1.4v1.2h-1.4zM435.9 258.5h2.1v1.2h-2.1zM452.9 259.7h1.4v1.2h-1.4zM442.8 268.8h1.4v1.2h-1.4zM459.4 283.5h2.1v1.2h-2.1zM448.3 287.3h1.4v1.2h-1.4zM452.6 286.9h2.1v1.2h-2.1zM459.5 289.8h2.1v1.2h-2.1zM470.8 322.8h2.1v1.2h-2.1z" fill="#c8f5fa"/>
<path d="M418.9 221.3h1.4v1.2h-1.4zM436.2 221.4h2.8v1.2h-2.8zM451.2 254.4h2.1v1.2h-2.1z" fill="#4650b4"/>
<path d="M281.6 282.1h2.1v1.2h-2.1zM288.7 287.9h2.8v1.2h-2.8zM288.6 310.4h2.8v1.2h-2.8zM280.3 314.2h1.4v1.2h-1.4zM280.0 322.8h1.4v1.2h-1.4z" fill="#9aa6f0"/>
<path d="M285.5 291.3h2.8v1.2h-2.8zM283.3 301.0h2.1v1.2h-2.1zM283.3 314.0h1.4v1.2h-1.4zM292.4 322.7h1.4v1.2h-1.4z" fill="#87a5fa"/>
<path d="M287.3 312.1h2.8v1.2h-2.8z" fill="#5a78e6"/>
<path d="M288.5 323.9h2.8v1.2h-2.8z" fill="#aab4f5"/>
<path d="M489.8 201.0h1.4v1.2h-1.4zM487.2 201.7h1.4v1.2h-1.4z" fill="#9aa6f0"/>
<path d="M501.2 201.8h2.8v1.2h-2.8z" fill="#5a78e6"/>
<path d="M489.6 204.5h1.4v1.2h-1.4z" fill="#aab4f5"/>
<path d="M304.4 205.1h2.2v2.0h-2.2zM306.6 205.1h2.2v2.0h-2.2z" fill="#28e10a"/>
<path d="M313.5 201.2h2.2v2.0h-2.2zM318.0 201.0h2.2v2.0h-2.2zM304.3 203.0h2.2v2.0h-2.2zM311.3 202.9h2.2v2.0h-2.2zM315.3 203.3h2.2v2.0h-2.2zM320.1 203.2h2.2v2.0h-2.2zM302.2 205.0h2.2v2.0h-2.2zM309.2 204.8h2.2v2.0h-2.2zM317.7 204.8h2.2v2.0h-2.2zM306.8 206.9h2.2v2.0h-2.2z" fill="#8287f5"/>
<path d="M300.2 204.9h2.2v2.0h-2.2zM315.7 205.0h2.2v2.0h-2.2zM302.4 207.1h2.2v2.0h-2.2zM313.2 207.1h2.2v2.0h-2.2zM315.7 207.3h2.2v2.0h-2.2z" fill="#5a78e6"/>
<path d="M343.9 216.1h2.2v2.0h-2.2zM343.5 222.2h2.2v2.0h-2.2zM339.3 224.0h2.2v2.0h-2.2zM343.7 226.0h2.2v2.0h-2.2zM343.5 229.8h2.2v2.0h-2.2zM347.9 230.3h2.2v2.0h-2.2zM337.1 234.3h2.2v2.0h-2.2zM341.8 234.1h2.2v2.0h-2.2zM346.2 233.9h2.2v2.0h-2.2zM334.8 241.7h2.2v2.0h-2.2zM337.4 247.9h2.2v2.0h-2.2zM343.9 248.1h2.2v2.0h-2.2zM339.3 250.2h2.2v2.0h-2.2zM347.9 249.8h2.2v2.0h-2.2zM341.4 252.0h2.2v2.0h-2.2zM341.7 254.0h2.2v2.0h-2.2zM343.7 254.1h2.2v2.0h-2.2z" fill="#4650b4"/>
<path d="M341.5 218.1h2.2v2.0h-2.2zM337.4 219.9h2.2v2.0h-2.2zM350.6 229.9h2.2v2.0h-2.2zM348.0 234.0h2.2v2.0h-2.2zM337.0 236.2h2.2v2.0h-2.2zM350.4 235.9h2.2v2.0h-2.2zM346.0 238.1h2.2v2.0h-2.2zM343.8 239.8h2.2v2.0h-2.2zM339.5 242.1h2.2v2.0h-2.2zM337.4 244.2h2.2v2.0h-2.2zM343.8 246.2h2.2v2.0h-2.2zM346.1 245.8h2.2v2.0h-2.2zM348.1 245.9h2.2v2.0h-2.2zM339.1 248.2h2.2v2.0h-2.2zM344.0 251.8h2.2v2.0h-2.2z" fill="#8287f5"/>
<path d="M339.6 220.1h2.2v2.0h-2.2zM348.2 220.0h2.2v2.0h-2.2zM339.2 221.8h2.2v2.0h-2.2zM346.2 222.1h2.2v2.0h-2.2zM348.0 222.0h2.2v2.0h-2.2zM348.2 223.9h2.2v2.0h-2.2zM346.2 226.0h2.2v2.0h-2.2zM335.2 227.9h2.2v2.0h-2.2zM337.4 230.2h2.2v2.0h-2.2zM341.8 230.2h2.2v2.0h-2.2zM337.2 231.9h2.2v2.0h-2.2zM341.3 232.0h2.2v2.0h-2.2zM345.8 232.1h2.2v2.0h-2.2zM339.3 233.9h2.2v2.0h-2.2zM334.7 236.0h2.2v2.0h-2.2zM339.6 236.3h2.2v2.0h-2.2zM335.0 238.2h2.2v2.0h-2.2zM348.5 238.0h2.2v2.0h-2.2zM337.1 240.1h2.2v2.0h-2.2zM348.3 242.0h2.2v2.0h-2.2zM348.1 244.0h2.2v2.0h-2.2zM337.4 249.8h2.2v2.0h-2.2zM346.2 249.8h2.2v2.0h-2.2z" fill="#5a78e6"/>
<path d="M350.2 230.8h2.2v2.0h-2.2zM352.3 230.2h2.2v2.0h-2.2zM349.8 232.3h2.2v2.0h-2.2zM352.2 232.6h2.2v2.0h-2.2z" fill="#4650b4"/>
<path d="M336.8 248.8h2.2v2.0h-2.2zM339.3 248.8h2.2v2.0h-2.2z" fill="#28e10a"/>
<path d="M360.2 262.8h2.2v2.0h-2.2zM362.2 263.0h2.2v2.0h-2.2zM362.4 264.8h2.2v2.0h-2.2z" fill="#28e10a"/>
<path d="M367.4 262.5h2.2v2.0h-2.2zM369.9 262.9h2.2v2.0h-2.2zM369.4 264.5h2.2v2.0h-2.2z" fill="#5a78e6"/>
<path d="M358.8 306.7h2.2v2.0h-2.2zM361.1 306.9h2.2v2.0h-2.2zM361.2 309.2h2.2v2.0h-2.2zM363.3 309.0h2.2v2.0h-2.2z" fill="#28e10a"/>
<path d="M363.6 307.1h2.2v2.0h-2.2zM359.2 308.9h2.2v2.0h-2.2z" fill="#8c8c28"/>
<path d="M369.5 315.0h2.2v2.0h-2.2zM373.5 315.2h2.2v2.0h-2.2zM369.3 317.2h2.2v2.0h-2.2zM371.2 316.7h2.2v2.0h-2.2zM375.8 316.9h2.2v2.0h-2.2zM369.3 319.0h2.2v2.0h-2.2zM373.4 319.0h2.2v2.0h-2.2z" fill="#5ad714"/>
<path d="M371.3 314.8h2.2v2.0h-2.2zM367.1 317.0h2.2v2.0h-2.2zM371.5 318.9h2.2v2.0h-2.2z" fill="#28e10a"/>
<path d="M373.4 317.3h2.2v2.0h-2.2z" fill="#fff500"/>
<path d="M364.8 322.9h2.2v2.0h-2.2zM367.2 322.7h2.2v2.0h-2.2zM367.4 325.2h2.2v2.0h-2.2z" fill="#19878c"/>
<path d="M366.3 286.2h2.2v2.0h-2.2zM370.6 286.2h2.2v2.0h-2.2zM366.3 293.9h2.2v2.0h-2.2zM373.2 294.1h2.2v2.0h-2.2zM375.5 294.1h2.2v2.0h-2.2zM363.9 295.8h2.2v2.0h-2.2zM370.8 295.8h2.2v2.0h-2.2zM373.0 300.0h2.2v2.0h-2.2zM361.7 302.0h2.2v2.0h-2.2z" fill="#5a78e6"/>
<path d="M366.4 291.9h2.2v2.0h-2.2zM366.1 295.9h2.2v2.0h-2.2zM368.4 295.7h2.2v2.0h-2.2zM370.7 298.2h2.2v2.0h-2.2zM373.0 298.1h2.2v2.0h-2.2zM375.3 297.9h2.2v2.0h-2.2zM370.6 299.8h2.2v2.0h-2.2zM374.9 306.3h2.2v2.0h-2.2zM368.5 308.1h2.2v2.0h-2.2zM373.2 310.0h2.2v2.0h-2.2zM371.0 311.8h2.2v2.0h-2.2z" fill="#8287f5"/>
<path d="M289.0 292.8h2.2v2.0h-2.2zM291.1 297.2h2.2v2.0h-2.2zM289.0 299.3h2.2v2.0h-2.2zM289.0 301.1h2.2v2.0h-2.2z" fill="#28e10a"/>
<path d="M288.8 294.7h2.2v2.0h-2.2zM291.3 298.9h2.2v2.0h-2.2z" fill="#5ad714"/>
<path d="M288.5 281.8h2.2v2.0h-2.2zM286.0 284.0h2.2v2.0h-2.2zM286.3 286.2h2.2v2.0h-2.2zM290.7 288.2h2.2v2.0h-2.2zM292.7 288.1h2.2v2.0h-2.2zM286.0 292.3h2.2v2.0h-2.2zM288.4 291.8h2.2v2.0h-2.2zM292.7 291.8h2.2v2.0h-2.2zM292.9 294.2h2.2v2.0h-2.2zM286.4 299.8h2.2v2.0h-2.2zM290.3 300.0h2.2v2.0h-2.2zM290.5 309.7h2.2v2.0h-2.2zM286.5 313.7h2.2v2.0h-2.2z" fill="#5a78e6"/>
<path d="M288.2 297.9h2.2v2.0h-2.2zM288.2 301.9h2.2v2.0h-2.2zM292.8 301.7h2.2v2.0h-2.2zM286.2 311.9h2.2v2.0h-2.2z" fill="#8287f5"/>
<path d="M419.3 209.3h2.2v2.0h-2.2zM419.4 210.8h2.2v2.0h-2.2zM425.6 211.3h2.2v2.0h-2.2zM423.8 212.9h2.2v2.0h-2.2z" fill="#5a78e6"/>
<path d="M421.2 209.0h2.2v2.0h-2.2zM423.9 208.8h2.2v2.0h-2.2zM416.8 210.7h2.2v2.0h-2.2z" fill="#28e10a"/>
<path d="M425.7 209.0h2.2v2.0h-2.2zM421.6 211.1h2.2v2.0h-2.2zM423.7 211.1h2.2v2.0h-2.2zM421.5 212.9h2.2v2.0h-2.2z" fill="#8c8c28"/>
<path d="M417.1 214.7h2.2v2.0h-2.2z" fill="#a0501e"/>
<path d="M441.6 226.7h2.2v2.0h-2.2zM444.0 226.6h2.2v2.0h-2.2z" fill="#28e10a"/>
<path d="M434.8 228.5h2.2v2.0h-2.2zM437.5 228.8h2.2v2.0h-2.2zM444.0 228.6h2.2v2.0h-2.2z" fill="#a0501e"/>
<path d="M439.4 228.5h2.2v2.0h-2.2zM441.8 228.3h2.2v2.0h-2.2z" fill="#8c8c28"/>
<path d="M427.1 233.3h2.2v2.0h-2.2zM420.0 237.3h2.2v2.0h-2.2zM431.0 237.0h2.2v2.0h-2.2zM429.2 239.2h2.2v2.0h-2.2z" fill="#8287f5"/>
<path d="M420.1 239.0h2.2v2.0h-2.2zM422.3 238.7h2.2v2.0h-2.2zM440.3 238.7h2.2v2.0h-2.2zM433.5 241.2h2.2v2.0h-2.2z" fill="#5a78e6"/>
<path d="M428.8 243.1h2.2v2.0h-2.2z" fill="#8c8c28"/>
<path d="M445.1 266.8h2.2v2.0h-2.2zM451.9 266.8h2.2v2.0h-2.2z" fill="#8c8c28"/>
<path d="M445.3 268.7h2.2v2.0h-2.2zM447.1 269.2h2.2v2.0h-2.2zM449.3 269.3h2.2v2.0h-2.2z" fill="#4650b4"/>
<path d="M451.7 269.1h2.2v2.0h-2.2zM447.6 271.0h2.2v2.0h-2.2zM449.6 270.7h2.2v2.0h-2.2zM451.8 271.0h2.2v2.0h-2.2z" fill="#5a78e6"/>
<path d="M457.1 286.8h2.0v1.8h-2.0zM460.9 286.8h2.0v1.8h-2.0zM462.8 286.8h2.0v1.8h-2.0zM470.9 286.8h2.0v1.8h-2.0zM472.9 287.1h2.0v1.8h-2.0zM474.8 287.0h2.0v1.8h-2.0zM479.0 287.0h2.0v1.8h-2.0zM471.0 288.6h2.0v1.8h-2.0zM477.2 289.0h2.0v1.8h-2.0zM478.8 288.9h2.0v1.8h-2.0zM455.1 290.7h2.0v1.8h-2.0zM457.1 290.7h2.0v1.8h-2.0zM458.9 290.7h2.0v1.8h-2.0zM463.2 290.8h2.0v1.8h-2.0zM457.0 292.2h2.0v1.8h-2.0zM458.8 292.5h2.0v1.8h-2.0zM461.2 292.2h2.0v1.8h-2.0zM465.0 292.5h2.0v1.8h-2.0zM467.1 292.3h2.0v1.8h-2.0zM468.8 292.2h2.0v1.8h-2.0zM470.9 292.4h2.0v1.8h-2.0zM473.0 292.5h2.0v1.8h-2.0zM477.2 292.3h2.0v1.8h-2.0zM479.2 292.2h2.0v1.8h-2.0zM455.0 294.1h2.0v1.8h-2.0zM459.2 294.3h2.0v1.8h-2.0zM463.0 294.1h2.0v1.8h-2.0zM464.8 294.1h2.0v1.8h-2.0zM467.2 294.4h2.0v1.8h-2.0zM475.0 294.1h2.0v1.8h-2.0zM476.8 294.3h2.0v1.8h-2.0zM461.0 296.2h2.0v1.8h-2.0zM463.2 295.9h2.0v1.8h-2.0zM470.8 295.9h2.0v1.8h-2.0zM475.0 295.8h2.0v1.8h-2.0zM479.2 296.0h2.0v1.8h-2.0zM459.0 297.7h2.0v1.8h-2.0zM460.8 297.7h2.0v1.8h-2.0zM470.9 297.6h2.0v1.8h-2.0zM473.1 298.0h2.0v1.8h-2.0zM475.2 297.6h2.0v1.8h-2.0zM476.8 298.0h2.0v1.8h-2.0zM478.8 297.6h2.0v1.8h-2.0z" fill="#c8f5fa"/>
<path d="M459.0 287.1h2.0v1.8h-2.0zM469.2 287.2h2.0v1.8h-2.0zM476.9 286.8h2.0v1.8h-2.0zM455.1 288.6h2.0v1.8h-2.0zM457.0 288.9h2.0v1.8h-2.0zM459.0 288.8h2.0v1.8h-2.0zM460.8 289.0h2.0v1.8h-2.0zM463.1 288.7h2.0v1.8h-2.0zM465.1 288.6h2.0v1.8h-2.0zM467.2 289.0h2.0v1.8h-2.0zM474.8 288.6h2.0v1.8h-2.0zM464.8 290.8h2.0v1.8h-2.0zM471.2 290.4h2.0v1.8h-2.0zM473.2 290.8h2.0v1.8h-2.0zM463.2 292.4h2.0v1.8h-2.0zM472.8 294.2h2.0v1.8h-2.0zM454.8 296.0h2.0v1.8h-2.0zM469.2 296.1h2.0v1.8h-2.0zM473.2 295.8h2.0v1.8h-2.0z" fill="#a0dcf5"/>
<path d="M466.9 286.8h2.0v1.8h-2.0zM469.2 290.6h2.0v1.8h-2.0zM455.2 292.4h2.0v1.8h-2.0zM456.8 294.1h2.0v1.8h-2.0zM467.0 295.9h2.0v1.8h-2.0zM466.8 298.0h2.0v1.8h-2.0z" fill="#87a5fa"/>
<path d="M449.2 296.0h2.0v1.8h-2.0zM451.0 296.1h2.0v1.8h-2.0zM453.0 295.9h2.0v1.8h-2.0zM454.8 296.1h2.0v1.8h-2.0zM449.1 298.0h2.0v1.8h-2.0zM455.0 297.7h2.0v1.8h-2.0zM451.0 299.5h2.0v1.8h-2.0zM451.2 301.6h2.0v1.8h-2.0zM455.1 301.6h2.0v1.8h-2.0zM454.9 303.0h2.0v1.8h-2.0zM457.2 304.9h2.0v1.8h-2.0zM448.8 306.7h2.0v1.8h-2.0zM448.9 308.8h2.0v1.8h-2.0zM450.8 310.5h2.0v1.8h-2.0zM455.1 310.5h2.0v1.8h-2.0zM456.9 310.3h2.0v1.8h-2.0zM451.1 312.2h2.0v1.8h-2.0zM454.8 314.0h2.0v1.8h-2.0zM456.8 314.1h2.0v1.8h-2.0zM453.2 317.8h2.0v1.8h-2.0zM453.1 319.2h2.0v1.8h-2.0zM456.9 319.3h2.0v1.8h-2.0zM454.9 323.0h2.0v1.8h-2.0zM451.0 324.9h2.0v1.8h-2.0zM454.8 324.8h2.0v1.8h-2.0zM457.0 325.0h2.0v1.8h-2.0z" fill="#f08cd2"/>
<path d="M457.0 295.8h2.0v1.8h-2.0zM452.8 297.6h2.0v1.8h-2.0zM457.2 297.9h2.0v1.8h-2.0zM449.0 299.6h2.0v1.8h-2.0zM454.8 299.4h2.0v1.8h-2.0zM456.9 299.7h2.0v1.8h-2.0zM448.8 303.4h2.0v1.8h-2.0zM450.8 303.4h2.0v1.8h-2.0zM452.9 303.3h2.0v1.8h-2.0zM449.1 305.0h2.0v1.8h-2.0zM451.1 304.8h2.0v1.8h-2.0zM455.2 304.8h2.0v1.8h-2.0zM455.2 306.6h2.0v1.8h-2.0zM457.0 307.0h2.0v1.8h-2.0zM450.9 308.8h2.0v1.8h-2.0zM453.2 308.8h2.0v1.8h-2.0zM455.1 308.8h2.0v1.8h-2.0zM452.8 310.4h2.0v1.8h-2.0zM452.9 312.0h2.0v1.8h-2.0zM454.9 312.1h2.0v1.8h-2.0zM451.1 314.0h2.0v1.8h-2.0zM451.0 316.0h2.0v1.8h-2.0zM453.1 315.7h2.0v1.8h-2.0zM457.0 315.9h2.0v1.8h-2.0zM450.8 317.8h2.0v1.8h-2.0zM455.0 317.4h2.0v1.8h-2.0zM450.8 319.6h2.0v1.8h-2.0zM450.8 321.3h2.0v1.8h-2.0zM453.2 321.0h2.0v1.8h-2.0zM455.0 321.4h2.0v1.8h-2.0zM457.0 321.0h2.0v1.8h-2.0zM451.2 322.8h2.0v1.8h-2.0zM453.1 323.1h2.0v1.8h-2.0zM457.2 322.9h2.0v1.8h-2.0zM452.8 325.0h2.0v1.8h-2.0z" fill="#fad2f0"/>
<path d="M451.0 297.9h2.0v1.8h-2.0zM453.1 299.4h2.0v1.8h-2.0zM452.8 301.4h2.0v1.8h-2.0zM453.2 304.9h2.0v1.8h-2.0zM451.2 306.6h2.0v1.8h-2.0zM452.8 306.6h2.0v1.8h-2.0zM456.9 308.5h2.0v1.8h-2.0zM453.0 314.1h2.0v1.8h-2.0zM455.0 319.3h2.0v1.8h-2.0z" fill="#e6a0dc"/>
<path d="M453.8 297.9h1.8v1.7h-1.8zM457.3 303.0h1.8v1.7h-1.8zM454.0 305.0h1.8v1.7h-1.8zM457.3 304.7h1.8v1.7h-1.8zM455.6 306.7h1.8v1.7h-1.8zM457.2 306.7h1.8v1.7h-1.8zM453.7 309.9h1.8v1.7h-1.8zM457.3 309.9h1.8v1.7h-1.8zM459.1 309.9h1.8v1.7h-1.8zM461.0 311.8h1.8v1.7h-1.8zM459.3 313.5h1.8v1.7h-1.8zM453.8 315.1h1.8v1.7h-1.8zM455.8 314.8h1.8v1.7h-1.8zM455.6 318.5h1.8v1.7h-1.8zM454.0 320.0h1.8v1.7h-1.8zM459.2 320.0h1.8v1.7h-1.8zM455.6 323.7h1.8v1.7h-1.8z" fill="#8c8c28"/>
<path d="M455.4 297.8h1.8v1.7h-1.8zM457.5 297.8h1.8v1.7h-1.8zM460.9 298.1h1.8v1.7h-1.8zM452.1 299.9h1.8v1.7h-1.8zM455.4 299.6h1.8v1.7h-1.8zM453.7 301.2h1.8v1.7h-1.8zM461.2 301.3h1.8v1.7h-1.8zM451.9 303.1h1.8v1.7h-1.8zM451.8 308.1h1.8v1.7h-1.8zM459.0 308.0h1.8v1.7h-1.8zM453.9 313.5h1.8v1.7h-1.8zM453.8 318.6h1.8v1.7h-1.8zM461.1 318.4h1.8v1.7h-1.8zM461.2 319.9h1.8v1.7h-1.8zM461.1 323.4h1.8v1.7h-1.8z" fill="#967828"/>
<path d="M457.6 299.7h1.8v1.7h-1.8zM451.8 301.3h1.8v1.7h-1.8zM455.4 301.4h1.8v1.7h-1.8zM459.3 301.6h1.8v1.7h-1.8zM461.1 303.1h1.8v1.7h-1.8zM452.1 304.7h1.8v1.7h-1.8zM460.8 304.8h1.8v1.7h-1.8zM453.7 306.6h1.8v1.7h-1.8zM454.0 308.3h1.8v1.7h-1.8zM455.4 308.4h1.8v1.7h-1.8zM457.6 311.6h1.8v1.7h-1.8zM459.3 311.7h1.8v1.7h-1.8zM455.6 313.3h1.8v1.7h-1.8zM461.0 313.4h1.8v1.7h-1.8zM461.2 315.1h1.8v1.7h-1.8zM455.4 316.7h1.8v1.7h-1.8zM459.4 316.7h1.8v1.7h-1.8zM460.8 316.9h1.8v1.7h-1.8zM459.1 318.3h1.8v1.7h-1.8zM457.4 320.3h1.8v1.7h-1.8zM455.8 321.9h1.8v1.7h-1.8zM461.1 321.9h1.8v1.7h-1.8zM459.1 323.3h1.8v1.7h-1.8z" fill="#a0501e"/>
<path d="M459.3 299.6h1.8v1.7h-1.8zM457.4 301.6h1.8v1.7h-1.8zM453.6 302.9h1.8v1.7h-1.8zM460.8 308.2h1.8v1.7h-1.8zM453.6 311.7h1.8v1.7h-1.8zM457.3 322.0h1.8v1.7h-1.8zM454.0 323.7h1.8v1.7h-1.8zM457.5 323.6h1.8v1.7h-1.8z" fill="#28e10a"/>
<path d="M466.7 294.1h1.8v1.7h-1.8zM470.2 294.1h1.8v1.7h-1.8zM464.8 295.5h1.8v1.7h-1.8zM465.0 297.2h1.8v1.7h-1.8zM472.0 297.2h1.8v1.7h-1.8zM472.2 300.7h1.8v1.7h-1.8zM475.7 300.8h1.8v1.7h-1.8zM477.5 301.0h1.8v1.7h-1.8z" fill="#5ad714"/>
<path d="M472.2 293.8h1.8v1.7h-1.8zM477.8 294.1h1.8v1.7h-1.8zM468.8 297.4h1.8v1.7h-1.8zM475.6 297.2h1.8v1.7h-1.8zM464.9 300.8h1.8v1.7h-1.8zM470.4 301.0h1.8v1.7h-1.8zM473.9 300.7h1.8v1.7h-1.8z" fill="#19878c"/>
<path d="M475.7 293.8h1.8v1.7h-1.8zM468.6 295.7h1.8v1.7h-1.8zM470.6 295.8h1.8v1.7h-1.8zM477.8 299.2h1.8v1.7h-1.8z" fill="#5a78e6"/>
<path d="M472.2 295.6h1.8v1.7h-1.8zM474.0 295.6h1.8v1.7h-1.8zM476.0 295.7h1.8v1.7h-1.8zM477.5 297.3h1.8v1.7h-1.8zM465.1 299.2h1.8v1.7h-1.8zM467.0 299.2h1.8v1.7h-1.8zM472.1 299.0h1.8v1.7h-1.8zM475.6 299.1h1.8v1.7h-1.8z" fill="#28e10a"/>
<path d="M471.0 306.0h1.8v1.7h-1.8zM471.0 309.2h1.8v1.7h-1.8zM469.1 311.1h1.8v1.7h-1.8zM467.4 312.9h1.8v1.7h-1.8zM474.8 312.6h1.8v1.7h-1.8zM471.0 314.4h1.8v1.7h-1.8zM480.2 316.3h1.8v1.7h-1.8zM472.8 317.8h1.8v1.7h-1.8zM478.2 317.7h1.8v1.7h-1.8zM485.2 324.8h1.8v1.7h-1.8z" fill="#5a78e6"/>
<path d="M472.8 305.8h1.8v1.7h-1.8zM464.0 307.8h1.8v1.7h-1.8zM469.3 307.6h1.8v1.7h-1.8zM472.8 314.5h1.8v1.7h-1.8zM469.2 316.1h1.8v1.7h-1.8zM485.3 321.2h1.8v1.7h-1.8z" fill="#8287f5"/>
<path d="M478.0 306.1h1.8v1.7h-1.8zM478.3 316.2h1.8v1.7h-1.8zM481.7 324.9h1.8v1.7h-1.8z" fill="#8c8c28"/>
<path d="M463.6 309.2h1.8v1.7h-1.8zM479.8 311.3h1.8v1.7h-1.8zM481.9 312.7h1.8v1.7h-1.8zM467.2 324.9h1.8v1.7h-1.8zM474.5 324.9h1.8v1.7h-1.8z" fill="#28e10a"/>
<path d="M429.1 224.0h1.8v1.6h-1.8zM429.1 225.6h1.8v1.6h-1.8zM438.3 225.5h1.8v1.6h-1.8zM432.6 227.4h1.8v1.6h-1.8zM443.7 230.5h1.8v1.6h-1.8zM425.7 233.8h1.8v1.6h-1.8zM439.9 233.5h1.8v1.6h-1.8zM432.6 235.3h1.8v1.6h-1.8zM425.6 236.8h1.8v1.6h-1.8zM436.4 241.4h1.8v1.6h-1.8z" fill="#5a78e6"/>
<path d="M434.6 224.2h1.8v1.6h-1.8zM414.9 227.2h1.8v1.6h-1.8zM422.1 227.1h1.8v1.6h-1.8zM431.0 230.5h1.8v1.6h-1.8zM430.9 231.9h1.8v1.6h-1.8zM424.0 235.3h1.8v1.6h-1.8zM429.3 235.4h1.8v1.6h-1.8zM436.4 236.6h1.8v1.6h-1.8zM439.9 236.7h1.8v1.6h-1.8zM425.5 238.5h1.8v1.6h-1.8z" fill="#28e10a"/>
<path d="M412.9 225.5h1.8v1.6h-1.8zM424.0 227.3h1.8v1.6h-1.8zM427.2 227.3h1.8v1.6h-1.8zM414.8 230.3h1.8v1.6h-1.8zM434.7 230.5h1.8v1.6h-1.8zM416.8 232.1h1.8v1.6h-1.8zM418.3 232.0h1.8v1.6h-1.8zM420.3 232.1h1.8v1.6h-1.8zM436.4 231.8h1.8v1.6h-1.8zM438.1 231.9h1.8v1.6h-1.8zM440.1 231.9h1.8v1.6h-1.8zM434.4 233.4h1.8v1.6h-1.8zM430.9 235.0h1.8v1.6h-1.8zM422.0 240.0h1.8v1.6h-1.8zM441.7 239.8h1.8v1.6h-1.8z" fill="#8c8c28"/>
<path d="M414.7 225.7h1.8v1.6h-1.8zM418.3 227.3h1.8v1.6h-1.8zM427.5 228.7h1.8v1.6h-1.8zM416.6 230.5h1.8v1.6h-1.8zM432.7 230.3h1.8v1.6h-1.8zM434.6 232.2h1.8v1.6h-1.8zM421.9 238.6h1.8v1.6h-1.8zM434.6 241.4h1.8v1.6h-1.8z" fill="#8287f5"/>
<path d="M434.5 227.4h1.8v1.6h-1.8zM430.9 228.6h1.8v1.6h-1.8zM432.6 239.9h1.8v1.6h-1.8zM438.0 241.7h1.8v1.6h-1.8z" fill="#a0501e"/>
<path d="M418.8 208.1h1.8v1.6h-1.8zM420.9 208.1h1.8v1.6h-1.8zM424.2 208.1h1.8v1.6h-1.8zM413.8 209.6h1.8v1.6h-1.8zM422.8 209.5h1.8v1.6h-1.8zM428.1 209.8h1.8v1.6h-1.8zM424.4 211.1h1.8v1.6h-1.8zM421.0 212.8h1.8v1.6h-1.8zM424.3 214.2h1.8v1.6h-1.8z" fill="#c8f5fa"/>
<path d="M431.5 209.8h1.8v1.6h-1.8zM420.6 211.2h1.8v1.6h-1.8zM413.5 214.5h1.8v1.6h-1.8zM430.0 214.3h1.8v1.6h-1.8z" fill="#8c8c28"/>
<path d="M417.2 211.3h1.8v1.6h-1.8zM431.4 211.2h1.8v1.6h-1.8zM415.2 212.8h1.8v1.6h-1.8zM426.1 214.5h1.8v1.6h-1.8z" fill="#28e10a"/>
<path d="M418.9 211.4h1.8v1.6h-1.8zM426.2 211.3h1.8v1.6h-1.8zM430.0 211.1h1.8v1.6h-1.8zM411.8 213.0h1.8v1.6h-1.8zM422.8 214.3h1.8v1.6h-1.8z" fill="#5a78e6"/>
<path d="M490.7 200.8h2.2v2.0h-2.2zM492.6 201.2h2.2v2.0h-2.2zM492.5 209.0h2.2v2.0h-2.2zM488.0 210.9h2.2v2.0h-2.2zM488.2 212.7h2.2v2.0h-2.2z" fill="#8287f5"/>
<path d="M488.5 202.8h2.2v2.0h-2.2zM492.8 202.8h2.2v2.0h-2.2zM494.5 203.2h2.2v2.0h-2.2zM485.7 204.9h2.2v2.0h-2.2zM490.3 204.7h2.2v2.0h-2.2zM492.6 204.9h2.2v2.0h-2.2zM488.2 206.9h2.2v2.0h-2.2zM490.6 207.0h2.2v2.0h-2.2zM494.6 207.3h2.2v2.0h-2.2zM490.3 209.0h2.2v2.0h-2.2zM494.9 209.1h2.2v2.0h-2.2zM494.7 211.0h2.2v2.0h-2.2zM492.7 213.1h2.2v2.0h-2.2z" fill="#87a5fa"/>
</g>
<path d="M286.07 329.06 L285.88 327.6 L284.48 323.94 L282.89 321.01 L280.9 318.08 L280.1 316.62 M300.2 329.06 L300.2 326.5 L300.4 323.94 L300 321.01 L301.2 318.08 L301.99 315.16 L301.2 312.23 L301.2 309.3 L301.99 306.74 L304.38 306.37 L305.58 304.91 L307.57 304.18 L309.95 303.08 L310.35 301.25 L313.93 299.42 L317.12 297.22 L320.3 293.93 L322.69 292.1 L325.48 291.37 L326.67 289.9 L328.26 288.07 L329.06 285.51 L331.84 284.78 L333.44 285.14 L335.43 285.14 L337.02 284.41 L339.8 283.68 L341.79 284.41 L343.39 282.58 L345.38 281.48 L347.76 282.58 L348.16 285.51 L349.75 288.44 L352.14 290.63 L354.93 293.2 L356.12 295.39 L358.51 298.32 L358.51 301.25 L357.32 305.27 L359.31 306.01 L362.09 306.37 L364.48 304.54 L366.47 303.44 L368.46 301.98 L370.05 303.08 L370.85 304.91 L371.25 307.84 L372.84 311.13 L373.24 314.79 L374.83 318.45 L374.83 321.74 L375.23 324.67 L374.83 327.6 L374.43 329.06 M376.42 329.06 L376.82 327.6 L377.22 325.77 L378.01 323.94 L378.81 322.11 L379.6 319.55 L380.4 317.72 L380.2 315.52 L381.2 314.79 L382.79 314.79 L383.98 315.16 L383.98 317.72 L385.97 318.08 L388.36 319.55 L390.75 321.38 L392.34 322.84 L393.14 324.67 L394.73 325.77 L397.12 325.77 L398.31 326.14 L399.5 327.23 L399.7 329.06 M405.87 329.06 L406.67 327.6 L408.26 326.14 L410.25 325.4 L412.24 324.31 L414.63 323.21 L416.22 322.11 L417.02 319.55 L417.41 317.35 L417.41 314.42 L416.22 311.13 L415.42 308.2 L413.43 306.01 L411.44 304.54 L409.06 302.35 L406.67 300.15 L405.08 298.32 L403.48 296.12 L403.09 293.93 L403.88 292.1 L405.47 290.27 L407.07 288.44 L409.06 287.34 L411.44 285.51 L414.23 285.14 L416.22 285.51 L419.01 285.88 L419.4 287.34 L419.01 289.17 L419.8 289.9 L421.39 289.9 L422.19 288.8 L421.79 286.61 L423.78 285.88 L426.57 285.14 L429.35 284.41 L431.74 283.68 L434.13 282.95 L435.32 281.85 L436.92 282.58 L439.3 281.48 L442.09 280.75 L445.27 280.39 L447.26 278.92 L450.05 277.09 L452.04 275.26 L454.43 274.16 L455.62 272.33 L457.61 271.24 L458.41 269.41 L458.81 267.21 L460.8 266.11 L461.59 264.28 L463.18 262.09 L464.78 260.26 L466.37 258.79 L467.56 256.6 L467.56 254.77 L465.57 254.03 L463.98 252.94 L466.37 251.47 L467.56 250.37 L467.16 248.54 L465.17 247.08 L463.58 244.88 L462.39 242.32 L461.19 239.03 L459.2 237.93 L457.21 236.83 L458.01 234.27 L460 232.81 L461.99 231.71 L463.98 230.24 L466.77 229.15 L469.95 228.78 L469.95 227.32 L467.96 226.95 L465.57 226.58 L463.18 225.85 L461.19 226.58 L458.81 228.05 L456.42 228.05 L455.62 226.58 L455.62 225.12 L453.23 224.02 L450.85 222.92 L450.45 221.46 L452.04 220.73 L454.43 221.09 L456.82 220 L458.01 218.17 L460 217.07 L462.39 215.97 L463.98 214.51 L466.37 214.51 L468.76 215.97 L467.56 217.8 L466.37 219.26 L465.17 220 L464.78 221.83 L466.37 222.19 L467.16 221.09 L469.15 220 L471.94 218.9 L474.33 218.53 L477.11 218.17 L479.5 218.9 L481.09 219.63 L481.49 221.46 L479.9 222.92 L481.09 225.12 L483.88 226.22 L485.87 226.58 L486.67 228.05 L485.87 229.51 L485.87 230.98 L486.27 232.81 L485.47 235 L485.07 237.2 L485.87 238.3 L487.86 237.56 L490.25 237.2 L493.03 236.47 L495.42 235.73 L497.01 235 L497.81 233.17 L497.81 230.61 L497.41 228.41 L495.82 226.22 L494.23 224.02 L492.64 222.19 L491.04 221.09 L489.85 219.63 L490.65 218.53 L493.03 217.8 L495.82 215.97 L498.61 214.87 L499 213.04 L499.4 211.21 L499.8 209.38 L501.39 208.28 M414.63 294.29 L415.03 296.49 L417.02 297.22 L418.61 297.59 L420.6 296.86 L422.19 295.39 L423.78 292.46 L424.18 291.73 L422.59 290.63 L421 290.63 L419.01 291 L417.41 291.37 L415.82 292.46 L414.63 294.29 M460.4 280.02 L461.19 281.85 L462.79 283.68 L463.58 283.68 L463.58 282.22 L464.78 280.75 L465.97 278.56 L466.37 276.36 L467.56 274.16 L467.56 272.7 L465.97 271.6 L463.98 272.7 L462.79 274.16 L461.19 276.36 L460.4 278.19 L460.4 280.02 M462.39 296.49 L463.98 296.12 L465.97 296.86 L468.76 296.49 L469.15 298.69 L468.76 301.25 L469.95 303.44 L467.96 304.91 L466.37 306.01 L466.37 308.2 L465.97 310.76 L467.16 312.23 L469.15 312.59 L470.75 311.86 L472.34 312.96 L473.93 314.06 L475.52 314.06 L476.32 316.62 L475.52 318.08 L473.93 316.62 L472.74 315.89 L470.35 315.52 L469.55 314.42 L467.56 313.69 L465.97 314.06 L463.98 314.06 L462.79 312.23 L462.39 311.13 L463.58 310.76 L461.99 310.03 L461.19 310.76 L460.4 309.3 L459.6 307.47 L459.2 304.91 L460.8 304.91 L461.59 303.44 L461.59 300.15 L462.39 296.49 M461.59 314.79 L464.78 315.16 L465.97 316.99 L465.17 319.18 L463.98 319.55 L463.18 317.72 L461.59 314.79 M467.56 320.65 L470.35 321.74 L472.34 323.57 L470.75 325.77 L468.36 325.4 L467.96 322.84 L467.56 320.65 M471.54 324.31 L473.53 325.77 L473.13 329.06 L469.95 329.06 L469.55 326.14 L471.54 324.31 M477.11 318.45 L479.9 318.45 L482.69 323.57 L480.7 323.94 L479.5 322.48 L477.51 320.28 L477.11 318.45 M477.11 322.11 L479.5 322.84 L480.3 326.14 L479.1 329.06 L477.91 327.6 L477.11 322.11 M475.52 323.21 L476.32 324.67 L474.33 329.06 L473.13 329.06 L475.52 323.21 M472.74 318.82 L475.12 319.55 L476.32 318.45 L474.33 318.08 L472.74 318.82 M454.43 329.06 L457.21 325.77 L458.41 323.21 L459.6 322.84 L458.01 325.4 L456.02 329.06 M484.68 241.96 L486.27 241.41 L487.66 241.77 L486.27 242.69 L484.68 242.32 L484.68 241.96 M501.39 240.86 L499.8 241.22 L498.61 242.32 L499.4 243.79 L499 244.88 L500.6 245.62 L500.2 247.08 L500.99 249.64 L501.79 250.74 M497.01 237.56 L497.61 237.56 L497.21 239.03 L496.62 238.66 L497.01 237.56" fill="none" stroke="#7a7a7a" stroke-width="0.7" stroke-linejoin="round"/>
</g>
<path d="M300.8 327.6 V331.9 M300.8 199.5 V195.2 M380.4 327.6 V331.9 M380.4 199.5 V195.2 M460 327.6 V331.9 M460 199.5 V195.2 M280.9 327.6 H276.6 M499.8 327.6 H504.1 M280.9 291 H276.6 M499.8 291 H504.1 M280.9 254.4 H276.6 M499.8 254.4 H504.1 M280.9 217.8 H276.6 M499.8 217.8 H504.1" stroke="#444" stroke-width="1" fill="none"/>
<path d="M280.9 327.6 V329.6 M280.9 199.5 V197.5 M320.7 327.6 V329.6 M320.7 199.5 V197.5 M340.6 327.6 V329.6 M340.6 199.5 V197.5 M360.5 327.6 V329.6 M360.5 199.5 V197.5 M400.3 327.6 V329.6 M400.3 199.5 V197.5 M420.2 327.6 V329.6 M420.2 199.5 V197.5 M440.1 327.6 V329.6 M440.1 199.5 V197.5 M479.9 327.6 V329.6 M479.9 199.5 V197.5 M499.8 327.6 V329.6 M499.8 199.5 V197.5 M280.9 320.28 H278.9 M499.8 320.28 H501.8 M280.9 312.96 H278.9 M499.8 312.96 H501.8 M280.9 305.64 H278.9 M499.8 305.64 H501.8 M280.9 298.32 H278.9 M499.8 298.32 H501.8 M280.9 283.68 H278.9 M499.8 283.68 H501.8 M280.9 276.36 H278.9 M499.8 276.36 H501.8 M280.9 269.04 H278.9 M499.8 269.04 H501.8 M280.9 261.72 H278.9 M499.8 261.72 H501.8 M280.9 247.08 H278.9 M499.8 247.08 H501.8 M280.9 239.76 H278.9 M499.8 239.76 H501.8 M280.9 232.44 H278.9 M499.8 232.44 H501.8 M280.9 225.12 H278.9 M499.8 225.12 H501.8 M280.9 210.48 H278.9 M499.8 210.48 H501.8 M280.9 203.16 H278.9 M499.8 203.16 H501.8" stroke="#8a8a8a" stroke-width="0.8" fill="none"/>
<rect x="280.9" y="199.5" width="218.9" height="128.1" fill="none" stroke="#4a4a4a" stroke-width="1"/>
<rect x="358.35" y="342.7" width="64.47" height="16.6" fill="#ecfcfc"/>
<rect x="455.06" y="342.7" width="35.24" height="16.6" fill="#fdeefa"/>
<rect x="310" y="345.7" width="16.42" height="10.6" fill="#cdd7fa"/>
<rect x="326.12" y="345.7" width="16.42" height="10.6" fill="#87a5fa"/>
<rect x="342.24" y="345.7" width="16.42" height="10.6" fill="#8287f5"/>
<rect x="358.35" y="345.7" width="16.42" height="10.6" fill="#1e41f5"/>
<rect x="374.47" y="345.7" width="16.42" height="10.6" fill="#19878c"/>
<rect x="390.59" y="345.7" width="16.42" height="10.6" fill="#28e10a"/>
<rect x="406.71" y="345.7" width="16.42" height="10.6" fill="#5ad714"/>
<rect x="422.83" y="345.7" width="16.42" height="10.6" fill="#fff500"/>
<rect x="438.95" y="345.7" width="16.42" height="10.6" fill="#eebb0c"/>
<rect x="455.06" y="345.7" width="16.42" height="10.6" fill="#ee7614"/>
<rect x="471.18" y="345.7" width="16.42" height="10.6" fill="#c42c14"/>
<clipPath id="clipf"><rect x="281" y="382.8" width="219.3" height="129.3"/></clipPath>
<g clip-path="url(#clipf)">
<g filter="url(#bl)">
<path d="M296.3 382.8h2.6v2.4h-2.6zM311.9 382.8h2.6v2.4h-2.6zM319.7 382.8h2.6v2.4h-2.6zM322.3 382.8h2.6v2.4h-2.6zM306.7 387.6h2.6v2.4h-2.6zM309.3 387.6h2.6v2.4h-2.6zM311.9 387.6h2.6v2.4h-2.6zM319.7 387.6h2.6v2.4h-2.6zM306.7 390.0h2.6v2.4h-2.6zM322.3 390.0h2.6v2.4h-2.6zM330.1 394.8h2.6v2.4h-2.6zM317.1 397.2h2.6v2.4h-2.6zM332.7 397.2h2.6v2.4h-2.6zM335.3 397.2h2.6v2.4h-2.6zM330.1 399.6h2.6v2.4h-2.6zM337.9 402.0h2.6v2.4h-2.6zM343.1 402.0h2.6v2.4h-2.6zM340.5 404.4h2.6v2.4h-2.6zM319.7 406.8h2.6v2.4h-2.6zM345.7 406.8h2.6v2.4h-2.6zM327.5 409.2h2.6v2.4h-2.6zM319.7 411.6h2.6v2.4h-2.6zM327.5 411.6h2.6v2.4h-2.6zM340.5 414.0h2.6v2.4h-2.6zM345.7 414.0h2.6v2.4h-2.6zM348.3 414.0h2.6v2.4h-2.6zM327.5 416.4h2.6v2.4h-2.6zM337.9 416.4h2.6v2.4h-2.6zM353.5 418.8h2.6v2.4h-2.6zM353.5 421.2h2.6v2.4h-2.6zM340.5 423.6h2.6v2.4h-2.6zM356.1 423.6h2.6v2.4h-2.6zM330.1 426.0h2.6v2.4h-2.6zM345.7 426.0h2.6v2.4h-2.6zM335.3 430.8h2.6v2.4h-2.6zM356.1 430.8h2.6v2.4h-2.6zM330.1 435.6h2.6v2.4h-2.6zM343.1 438.0h2.6v2.4h-2.6zM345.7 438.0h2.6v2.4h-2.6zM353.5 438.0h2.6v2.4h-2.6zM356.1 438.0h2.6v2.4h-2.6zM332.7 442.8h2.6v2.4h-2.6zM337.9 445.2h2.6v2.4h-2.6zM353.5 445.2h2.6v2.4h-2.6zM358.7 445.2h2.6v2.4h-2.6zM350.9 450.0h2.6v2.4h-2.6zM337.9 452.4h2.6v2.4h-2.6zM343.1 452.4h2.6v2.4h-2.6zM353.5 452.4h2.6v2.4h-2.6zM358.7 452.4h2.6v2.4h-2.6zM369.1 452.4h2.6v2.4h-2.6zM345.7 454.8h2.6v2.4h-2.6zM348.3 454.8h2.6v2.4h-2.6zM350.9 454.8h2.6v2.4h-2.6zM356.1 454.8h2.6v2.4h-2.6zM366.5 454.8h2.6v2.4h-2.6zM340.5 457.2h2.6v2.4h-2.6zM345.7 457.2h2.6v2.4h-2.6zM348.3 457.2h2.6v2.4h-2.6zM350.9 457.2h2.6v2.4h-2.6zM353.5 457.2h2.6v2.4h-2.6zM366.5 457.2h2.6v2.4h-2.6zM371.7 459.6h2.6v2.4h-2.6zM345.7 462.0h2.6v2.4h-2.6zM350.9 462.0h2.6v2.4h-2.6zM358.7 462.0h2.6v2.4h-2.6zM363.9 462.0h2.6v2.4h-2.6zM371.7 462.0h2.6v2.4h-2.6zM376.9 462.0h2.6v2.4h-2.6zM345.7 464.4h2.6v2.4h-2.6zM366.5 464.4h2.6v2.4h-2.6zM374.3 464.4h2.6v2.4h-2.6zM366.5 466.8h2.6v2.4h-2.6zM345.7 469.2h2.6v2.4h-2.6zM350.9 469.2h2.6v2.4h-2.6zM356.1 469.2h2.6v2.4h-2.6zM353.5 471.6h2.6v2.4h-2.6zM358.7 474.0h2.6v2.4h-2.6zM361.3 474.0h2.6v2.4h-2.6zM371.7 474.0h2.6v2.4h-2.6zM348.3 476.4h2.6v2.4h-2.6zM358.7 476.4h2.6v2.4h-2.6zM369.1 476.4h2.6v2.4h-2.6zM371.7 476.4h2.6v2.4h-2.6zM371.7 478.8h2.6v2.4h-2.6zM384.7 478.8h2.6v2.4h-2.6zM353.5 481.2h2.6v2.4h-2.6zM358.7 481.2h2.6v2.4h-2.6zM361.3 481.2h2.6v2.4h-2.6zM366.5 481.2h2.6v2.4h-2.6zM369.1 481.2h2.6v2.4h-2.6zM374.3 481.2h2.6v2.4h-2.6zM376.9 481.2h2.6v2.4h-2.6zM363.9 483.6h2.6v2.4h-2.6zM371.7 483.6h2.6v2.4h-2.6zM379.5 483.6h2.6v2.4h-2.6zM384.7 483.6h2.6v2.4h-2.6zM387.3 483.6h2.6v2.4h-2.6zM363.9 486.0h2.6v2.4h-2.6zM384.7 486.0h2.6v2.4h-2.6zM379.5 488.4h2.6v2.4h-2.6zM384.7 488.4h2.6v2.4h-2.6zM361.3 490.8h2.6v2.4h-2.6zM363.9 490.8h2.6v2.4h-2.6zM369.1 490.8h2.6v2.4h-2.6zM371.7 490.8h2.6v2.4h-2.6zM376.9 490.8h2.6v2.4h-2.6zM379.5 490.8h2.6v2.4h-2.6zM382.1 490.8h2.6v2.4h-2.6zM384.7 490.8h2.6v2.4h-2.6zM353.5 493.2h2.6v2.4h-2.6zM356.1 493.2h2.6v2.4h-2.6zM363.9 493.2h2.6v2.4h-2.6zM369.1 493.2h2.6v2.4h-2.6zM371.7 493.2h2.6v2.4h-2.6zM363.9 495.6h2.6v2.4h-2.6zM369.1 495.6h2.6v2.4h-2.6zM387.3 495.6h2.6v2.4h-2.6zM356.1 498.0h2.6v2.4h-2.6zM379.5 498.0h2.6v2.4h-2.6zM389.9 498.0h2.6v2.4h-2.6zM361.3 500.4h2.6v2.4h-2.6zM371.7 500.4h2.6v2.4h-2.6zM374.3 500.4h2.6v2.4h-2.6zM387.3 500.4h2.6v2.4h-2.6zM363.9 502.8h2.6v2.4h-2.6zM358.7 505.2h2.6v2.4h-2.6zM366.5 505.2h2.6v2.4h-2.6zM369.1 505.2h2.6v2.4h-2.6zM374.3 505.2h2.6v2.4h-2.6zM384.7 505.2h2.6v2.4h-2.6zM392.5 505.2h2.6v2.4h-2.6zM358.7 507.6h2.6v2.4h-2.6zM361.3 507.6h2.6v2.4h-2.6zM366.5 507.6h2.6v2.4h-2.6zM379.5 507.6h2.6v2.4h-2.6zM395.1 507.6h2.6v2.4h-2.6zM361.3 510.0h2.6v2.4h-2.6zM363.9 510.0h2.6v2.4h-2.6zM371.7 510.0h2.6v2.4h-2.6zM395.1 510.0h2.6v2.4h-2.6z" fill="#d7eefa"/>
<path d="M301.5 382.8h2.6v2.4h-2.6zM304.1 382.8h2.6v2.4h-2.6zM306.7 382.8h2.6v2.4h-2.6zM332.7 382.8h2.6v2.4h-2.6zM317.1 385.2h2.6v2.4h-2.6zM319.7 385.2h2.6v2.4h-2.6zM330.1 385.2h2.6v2.4h-2.6zM332.7 385.2h2.6v2.4h-2.6zM301.5 387.6h2.6v2.4h-2.6zM304.1 387.6h2.6v2.4h-2.6zM314.5 387.6h2.6v2.4h-2.6zM327.5 387.6h2.6v2.4h-2.6zM335.3 387.6h2.6v2.4h-2.6zM304.1 390.0h2.6v2.4h-2.6zM309.3 390.0h2.6v2.4h-2.6zM314.5 390.0h2.6v2.4h-2.6zM324.9 390.0h2.6v2.4h-2.6zM327.5 390.0h2.6v2.4h-2.6zM330.1 390.0h2.6v2.4h-2.6zM337.9 390.0h2.6v2.4h-2.6zM304.1 392.4h2.6v2.4h-2.6zM311.9 392.4h2.6v2.4h-2.6zM319.7 392.4h2.6v2.4h-2.6zM332.7 392.4h2.6v2.4h-2.6zM335.3 392.4h2.6v2.4h-2.6zM306.7 394.8h2.6v2.4h-2.6zM311.9 394.8h2.6v2.4h-2.6zM314.5 394.8h2.6v2.4h-2.6zM319.7 394.8h2.6v2.4h-2.6zM322.3 394.8h2.6v2.4h-2.6zM324.9 394.8h2.6v2.4h-2.6zM332.7 394.8h2.6v2.4h-2.6zM335.3 394.8h2.6v2.4h-2.6zM309.3 397.2h2.6v2.4h-2.6zM311.9 397.2h2.6v2.4h-2.6zM314.5 397.2h2.6v2.4h-2.6zM322.3 397.2h2.6v2.4h-2.6zM340.5 397.2h2.6v2.4h-2.6zM343.1 397.2h2.6v2.4h-2.6zM311.9 399.6h2.6v2.4h-2.6zM317.1 399.6h2.6v2.4h-2.6zM335.3 399.6h2.6v2.4h-2.6zM337.9 399.6h2.6v2.4h-2.6zM343.1 399.6h2.6v2.4h-2.6zM330.1 402.0h2.6v2.4h-2.6zM335.3 402.0h2.6v2.4h-2.6zM345.7 402.0h2.6v2.4h-2.6zM322.3 404.4h2.6v2.4h-2.6zM327.5 404.4h2.6v2.4h-2.6zM327.5 406.8h2.6v2.4h-2.6zM330.1 406.8h2.6v2.4h-2.6zM332.7 406.8h2.6v2.4h-2.6zM343.1 406.8h2.6v2.4h-2.6zM319.7 409.2h2.6v2.4h-2.6zM330.1 409.2h2.6v2.4h-2.6zM343.1 409.2h2.6v2.4h-2.6zM348.3 409.2h2.6v2.4h-2.6zM324.9 411.6h2.6v2.4h-2.6zM330.1 411.6h2.6v2.4h-2.6zM337.9 411.6h2.6v2.4h-2.6zM343.1 411.6h2.6v2.4h-2.6zM327.5 414.0h2.6v2.4h-2.6zM330.1 414.0h2.6v2.4h-2.6zM332.7 414.0h2.6v2.4h-2.6zM335.3 414.0h2.6v2.4h-2.6zM350.9 414.0h2.6v2.4h-2.6zM330.1 416.4h2.6v2.4h-2.6zM335.3 416.4h2.6v2.4h-2.6zM340.5 416.4h2.6v2.4h-2.6zM345.7 416.4h2.6v2.4h-2.6zM348.3 416.4h2.6v2.4h-2.6zM327.5 418.8h2.6v2.4h-2.6zM330.1 418.8h2.6v2.4h-2.6zM335.3 418.8h2.6v2.4h-2.6zM345.7 418.8h2.6v2.4h-2.6zM327.5 421.2h2.6v2.4h-2.6zM330.1 421.2h2.6v2.4h-2.6zM340.5 421.2h2.6v2.4h-2.6zM343.1 421.2h2.6v2.4h-2.6zM345.7 421.2h2.6v2.4h-2.6zM348.3 421.2h2.6v2.4h-2.6zM350.9 421.2h2.6v2.4h-2.6zM327.5 423.6h2.6v2.4h-2.6zM335.3 423.6h2.6v2.4h-2.6zM337.9 423.6h2.6v2.4h-2.6zM348.3 423.6h2.6v2.4h-2.6zM332.7 426.0h2.6v2.4h-2.6zM337.9 426.0h2.6v2.4h-2.6zM343.1 426.0h2.6v2.4h-2.6zM348.3 426.0h2.6v2.4h-2.6zM350.9 426.0h2.6v2.4h-2.6zM332.7 428.4h2.6v2.4h-2.6zM335.3 428.4h2.6v2.4h-2.6zM337.9 428.4h2.6v2.4h-2.6zM340.5 428.4h2.6v2.4h-2.6zM345.7 428.4h2.6v2.4h-2.6zM353.5 428.4h2.6v2.4h-2.6zM356.1 428.4h2.6v2.4h-2.6zM358.7 428.4h2.6v2.4h-2.6zM332.7 430.8h2.6v2.4h-2.6zM345.7 430.8h2.6v2.4h-2.6zM348.3 430.8h2.6v2.4h-2.6zM353.5 430.8h2.6v2.4h-2.6zM358.7 430.8h2.6v2.4h-2.6zM330.1 433.2h2.6v2.4h-2.6zM332.7 433.2h2.6v2.4h-2.6zM335.3 433.2h2.6v2.4h-2.6zM345.7 433.2h2.6v2.4h-2.6zM350.9 433.2h2.6v2.4h-2.6zM353.5 433.2h2.6v2.4h-2.6zM356.1 433.2h2.6v2.4h-2.6zM358.7 433.2h2.6v2.4h-2.6zM332.7 435.6h2.6v2.4h-2.6zM337.9 435.6h2.6v2.4h-2.6zM340.5 435.6h2.6v2.4h-2.6zM348.3 435.6h2.6v2.4h-2.6zM350.9 435.6h2.6v2.4h-2.6zM356.1 435.6h2.6v2.4h-2.6zM332.7 438.0h2.6v2.4h-2.6zM335.3 438.0h2.6v2.4h-2.6zM337.9 438.0h2.6v2.4h-2.6zM340.5 438.0h2.6v2.4h-2.6zM348.3 438.0h2.6v2.4h-2.6zM350.9 438.0h2.6v2.4h-2.6zM361.3 438.0h2.6v2.4h-2.6zM363.9 438.0h2.6v2.4h-2.6zM343.1 440.4h2.6v2.4h-2.6zM356.1 440.4h2.6v2.4h-2.6zM361.3 440.4h2.6v2.4h-2.6zM363.9 440.4h2.6v2.4h-2.6zM340.5 442.8h2.6v2.4h-2.6zM345.7 442.8h2.6v2.4h-2.6zM356.1 442.8h2.6v2.4h-2.6zM358.7 442.8h2.6v2.4h-2.6zM366.5 442.8h2.6v2.4h-2.6zM340.5 445.2h2.6v2.4h-2.6zM343.1 445.2h2.6v2.4h-2.6zM345.7 445.2h2.6v2.4h-2.6zM348.3 445.2h2.6v2.4h-2.6zM335.3 447.6h2.6v2.4h-2.6zM337.9 447.6h2.6v2.4h-2.6zM350.9 447.6h2.6v2.4h-2.6zM356.1 447.6h2.6v2.4h-2.6zM361.3 447.6h2.6v2.4h-2.6zM363.9 447.6h2.6v2.4h-2.6zM369.1 447.6h2.6v2.4h-2.6zM353.5 450.0h2.6v2.4h-2.6zM358.7 450.0h2.6v2.4h-2.6zM366.5 450.0h2.6v2.4h-2.6zM340.5 452.4h2.6v2.4h-2.6zM345.7 452.4h2.6v2.4h-2.6zM348.3 452.4h2.6v2.4h-2.6zM350.9 452.4h2.6v2.4h-2.6zM356.1 452.4h2.6v2.4h-2.6zM361.3 452.4h2.6v2.4h-2.6zM363.9 452.4h2.6v2.4h-2.6zM366.5 452.4h2.6v2.4h-2.6zM371.7 452.4h2.6v2.4h-2.6zM343.1 454.8h2.6v2.4h-2.6zM353.5 454.8h2.6v2.4h-2.6zM358.7 454.8h2.6v2.4h-2.6zM361.3 454.8h2.6v2.4h-2.6zM363.9 454.8h2.6v2.4h-2.6zM371.7 454.8h2.6v2.4h-2.6zM343.1 457.2h2.6v2.4h-2.6zM356.1 457.2h2.6v2.4h-2.6zM358.7 457.2h2.6v2.4h-2.6zM361.3 457.2h2.6v2.4h-2.6zM363.9 457.2h2.6v2.4h-2.6zM369.1 457.2h2.6v2.4h-2.6zM371.7 457.2h2.6v2.4h-2.6zM374.3 457.2h2.6v2.4h-2.6zM343.1 459.6h2.6v2.4h-2.6zM348.3 459.6h2.6v2.4h-2.6zM350.9 459.6h2.6v2.4h-2.6zM353.5 459.6h2.6v2.4h-2.6zM356.1 459.6h2.6v2.4h-2.6zM358.7 459.6h2.6v2.4h-2.6zM363.9 459.6h2.6v2.4h-2.6zM366.5 459.6h2.6v2.4h-2.6zM369.1 459.6h2.6v2.4h-2.6zM374.3 459.6h2.6v2.4h-2.6zM343.1 462.0h2.6v2.4h-2.6zM348.3 462.0h2.6v2.4h-2.6zM353.5 462.0h2.6v2.4h-2.6zM356.1 462.0h2.6v2.4h-2.6zM361.3 462.0h2.6v2.4h-2.6zM366.5 462.0h2.6v2.4h-2.6zM369.1 462.0h2.6v2.4h-2.6zM374.3 462.0h2.6v2.4h-2.6zM343.1 464.4h2.6v2.4h-2.6zM348.3 464.4h2.6v2.4h-2.6zM350.9 464.4h2.6v2.4h-2.6zM353.5 464.4h2.6v2.4h-2.6zM356.1 464.4h2.6v2.4h-2.6zM358.7 464.4h2.6v2.4h-2.6zM361.3 464.4h2.6v2.4h-2.6zM363.9 464.4h2.6v2.4h-2.6zM369.1 464.4h2.6v2.4h-2.6zM376.9 464.4h2.6v2.4h-2.6zM345.7 466.8h2.6v2.4h-2.6zM348.3 466.8h2.6v2.4h-2.6zM350.9 466.8h2.6v2.4h-2.6zM353.5 466.8h2.6v2.4h-2.6zM358.7 466.8h2.6v2.4h-2.6zM361.3 466.8h2.6v2.4h-2.6zM363.9 466.8h2.6v2.4h-2.6zM369.1 466.8h2.6v2.4h-2.6zM371.7 466.8h2.6v2.4h-2.6zM374.3 466.8h2.6v2.4h-2.6zM379.5 466.8h2.6v2.4h-2.6zM348.3 469.2h2.6v2.4h-2.6zM358.7 469.2h2.6v2.4h-2.6zM361.3 469.2h2.6v2.4h-2.6zM363.9 469.2h2.6v2.4h-2.6zM366.5 469.2h2.6v2.4h-2.6zM371.7 469.2h2.6v2.4h-2.6zM374.3 469.2h2.6v2.4h-2.6zM376.9 469.2h2.6v2.4h-2.6zM379.5 469.2h2.6v2.4h-2.6zM348.3 471.6h2.6v2.4h-2.6zM350.9 471.6h2.6v2.4h-2.6zM356.1 471.6h2.6v2.4h-2.6zM358.7 471.6h2.6v2.4h-2.6zM361.3 471.6h2.6v2.4h-2.6zM363.9 471.6h2.6v2.4h-2.6zM366.5 471.6h2.6v2.4h-2.6zM369.1 471.6h2.6v2.4h-2.6zM371.7 471.6h2.6v2.4h-2.6zM374.3 471.6h2.6v2.4h-2.6zM376.9 471.6h2.6v2.4h-2.6zM379.5 471.6h2.6v2.4h-2.6zM348.3 474.0h2.6v2.4h-2.6zM350.9 474.0h2.6v2.4h-2.6zM353.5 474.0h2.6v2.4h-2.6zM356.1 474.0h2.6v2.4h-2.6zM363.9 474.0h2.6v2.4h-2.6zM366.5 474.0h2.6v2.4h-2.6zM369.1 474.0h2.6v2.4h-2.6zM376.9 474.0h2.6v2.4h-2.6zM379.5 474.0h2.6v2.4h-2.6zM382.1 474.0h2.6v2.4h-2.6zM350.9 476.4h2.6v2.4h-2.6zM356.1 476.4h2.6v2.4h-2.6zM361.3 476.4h2.6v2.4h-2.6zM363.9 476.4h2.6v2.4h-2.6zM366.5 476.4h2.6v2.4h-2.6zM374.3 476.4h2.6v2.4h-2.6zM379.5 476.4h2.6v2.4h-2.6zM382.1 476.4h2.6v2.4h-2.6zM350.9 478.8h2.6v2.4h-2.6zM353.5 478.8h2.6v2.4h-2.6zM356.1 478.8h2.6v2.4h-2.6zM361.3 478.8h2.6v2.4h-2.6zM363.9 478.8h2.6v2.4h-2.6zM366.5 478.8h2.6v2.4h-2.6zM369.1 478.8h2.6v2.4h-2.6zM374.3 478.8h2.6v2.4h-2.6zM376.9 478.8h2.6v2.4h-2.6zM379.5 478.8h2.6v2.4h-2.6zM350.9 481.2h2.6v2.4h-2.6zM356.1 481.2h2.6v2.4h-2.6zM363.9 481.2h2.6v2.4h-2.6zM371.7 481.2h2.6v2.4h-2.6zM379.5 481.2h2.6v2.4h-2.6zM382.1 481.2h2.6v2.4h-2.6zM384.7 481.2h2.6v2.4h-2.6zM350.9 483.6h2.6v2.4h-2.6zM353.5 483.6h2.6v2.4h-2.6zM356.1 483.6h2.6v2.4h-2.6zM358.7 483.6h2.6v2.4h-2.6zM366.5 483.6h2.6v2.4h-2.6zM369.1 483.6h2.6v2.4h-2.6zM374.3 483.6h2.6v2.4h-2.6zM376.9 483.6h2.6v2.4h-2.6zM382.1 483.6h2.6v2.4h-2.6zM353.5 486.0h2.6v2.4h-2.6zM356.1 486.0h2.6v2.4h-2.6zM358.7 486.0h2.6v2.4h-2.6zM361.3 486.0h2.6v2.4h-2.6zM366.5 486.0h2.6v2.4h-2.6zM371.7 486.0h2.6v2.4h-2.6zM382.1 486.0h2.6v2.4h-2.6zM387.3 486.0h2.6v2.4h-2.6zM353.5 488.4h2.6v2.4h-2.6zM356.1 488.4h2.6v2.4h-2.6zM358.7 488.4h2.6v2.4h-2.6zM361.3 488.4h2.6v2.4h-2.6zM366.5 488.4h2.6v2.4h-2.6zM369.1 488.4h2.6v2.4h-2.6zM371.7 488.4h2.6v2.4h-2.6zM374.3 488.4h2.6v2.4h-2.6zM376.9 488.4h2.6v2.4h-2.6zM387.3 488.4h2.6v2.4h-2.6zM389.9 488.4h2.6v2.4h-2.6zM353.5 490.8h2.6v2.4h-2.6zM356.1 490.8h2.6v2.4h-2.6zM358.7 490.8h2.6v2.4h-2.6zM366.5 490.8h2.6v2.4h-2.6zM374.3 490.8h2.6v2.4h-2.6zM387.3 490.8h2.6v2.4h-2.6zM358.7 493.2h2.6v2.4h-2.6zM361.3 493.2h2.6v2.4h-2.6zM374.3 493.2h2.6v2.4h-2.6zM376.9 493.2h2.6v2.4h-2.6zM379.5 493.2h2.6v2.4h-2.6zM382.1 493.2h2.6v2.4h-2.6zM384.7 493.2h2.6v2.4h-2.6zM387.3 493.2h2.6v2.4h-2.6zM389.9 493.2h2.6v2.4h-2.6zM358.7 495.6h2.6v2.4h-2.6zM361.3 495.6h2.6v2.4h-2.6zM371.7 495.6h2.6v2.4h-2.6zM374.3 495.6h2.6v2.4h-2.6zM376.9 495.6h2.6v2.4h-2.6zM379.5 495.6h2.6v2.4h-2.6zM382.1 495.6h2.6v2.4h-2.6zM384.7 495.6h2.6v2.4h-2.6zM389.9 495.6h2.6v2.4h-2.6zM392.5 495.6h2.6v2.4h-2.6zM358.7 498.0h2.6v2.4h-2.6zM361.3 498.0h2.6v2.4h-2.6zM363.9 498.0h2.6v2.4h-2.6zM366.5 498.0h2.6v2.4h-2.6zM369.1 498.0h2.6v2.4h-2.6zM371.7 498.0h2.6v2.4h-2.6zM374.3 498.0h2.6v2.4h-2.6zM376.9 498.0h2.6v2.4h-2.6zM382.1 498.0h2.6v2.4h-2.6zM384.7 498.0h2.6v2.4h-2.6zM392.5 498.0h2.6v2.4h-2.6zM356.1 500.4h2.6v2.4h-2.6zM358.7 500.4h2.6v2.4h-2.6zM363.9 500.4h2.6v2.4h-2.6zM366.5 500.4h2.6v2.4h-2.6zM369.1 500.4h2.6v2.4h-2.6zM376.9 500.4h2.6v2.4h-2.6zM379.5 500.4h2.6v2.4h-2.6zM382.1 500.4h2.6v2.4h-2.6zM384.7 500.4h2.6v2.4h-2.6zM389.9 500.4h2.6v2.4h-2.6zM392.5 500.4h2.6v2.4h-2.6zM358.7 502.8h2.6v2.4h-2.6zM361.3 502.8h2.6v2.4h-2.6zM369.1 502.8h2.6v2.4h-2.6zM376.9 502.8h2.6v2.4h-2.6zM382.1 502.8h2.6v2.4h-2.6zM384.7 502.8h2.6v2.4h-2.6zM387.3 502.8h2.6v2.4h-2.6zM389.9 502.8h2.6v2.4h-2.6zM395.1 502.8h2.6v2.4h-2.6zM361.3 505.2h2.6v2.4h-2.6zM363.9 505.2h2.6v2.4h-2.6zM376.9 505.2h2.6v2.4h-2.6zM379.5 505.2h2.6v2.4h-2.6zM382.1 505.2h2.6v2.4h-2.6zM387.3 505.2h2.6v2.4h-2.6zM363.9 507.6h2.6v2.4h-2.6zM369.1 507.6h2.6v2.4h-2.6zM371.7 507.6h2.6v2.4h-2.6zM374.3 507.6h2.6v2.4h-2.6zM376.9 507.6h2.6v2.4h-2.6zM382.1 507.6h2.6v2.4h-2.6zM384.7 507.6h2.6v2.4h-2.6zM387.3 507.6h2.6v2.4h-2.6zM389.9 507.6h2.6v2.4h-2.6zM392.5 507.6h2.6v2.4h-2.6zM369.1 510.0h2.6v2.4h-2.6zM374.3 510.0h2.6v2.4h-2.6zM376.9 510.0h2.6v2.4h-2.6zM379.5 510.0h2.6v2.4h-2.6zM382.1 510.0h2.6v2.4h-2.6zM387.3 510.0h2.6v2.4h-2.6zM389.9 510.0h2.6v2.4h-2.6zM392.5 510.0h2.6v2.4h-2.6zM397.7 510.0h2.6v2.4h-2.6z" fill="#d7defa"/>
<path d="M408.2 391.2h2.6v2.4h-2.6zM423.8 391.2h2.6v2.4h-2.6zM413.4 393.6h2.6v2.4h-2.6zM416.0 393.6h2.6v2.4h-2.6zM418.6 393.6h2.6v2.4h-2.6zM421.2 393.6h2.6v2.4h-2.6zM426.4 393.6h2.6v2.4h-2.6zM408.2 396.0h2.6v2.4h-2.6zM413.4 396.0h2.6v2.4h-2.6zM416.0 396.0h2.6v2.4h-2.6zM429.0 396.0h2.6v2.4h-2.6zM434.2 396.0h2.6v2.4h-2.6zM410.8 398.4h2.6v2.4h-2.6zM418.6 398.4h2.6v2.4h-2.6zM429.0 398.4h2.6v2.4h-2.6zM408.2 400.8h2.6v2.4h-2.6zM410.8 400.8h2.6v2.4h-2.6zM413.4 400.8h2.6v2.4h-2.6zM416.0 400.8h2.6v2.4h-2.6zM421.2 400.8h2.6v2.4h-2.6zM429.0 400.8h2.6v2.4h-2.6zM431.6 400.8h2.6v2.4h-2.6zM436.8 400.8h2.6v2.4h-2.6zM410.8 403.2h2.6v2.4h-2.6zM416.0 403.2h2.6v2.4h-2.6zM418.6 403.2h2.6v2.4h-2.6zM421.2 403.2h2.6v2.4h-2.6zM426.4 403.2h2.6v2.4h-2.6zM429.0 403.2h2.6v2.4h-2.6zM436.8 403.2h2.6v2.4h-2.6zM410.8 405.6h2.6v2.4h-2.6zM418.6 405.6h2.6v2.4h-2.6zM421.2 405.6h2.6v2.4h-2.6zM426.4 405.6h2.6v2.4h-2.6zM434.2 405.6h2.6v2.4h-2.6zM436.8 405.6h2.6v2.4h-2.6zM439.4 405.6h2.6v2.4h-2.6zM408.2 408.0h2.6v2.4h-2.6zM410.8 408.0h2.6v2.4h-2.6zM416.0 408.0h2.6v2.4h-2.6zM418.6 408.0h2.6v2.4h-2.6zM431.6 408.0h2.6v2.4h-2.6zM434.2 408.0h2.6v2.4h-2.6zM436.8 408.0h2.6v2.4h-2.6zM439.4 408.0h2.6v2.4h-2.6zM413.4 410.4h2.6v2.4h-2.6zM416.0 410.4h2.6v2.4h-2.6zM418.6 410.4h2.6v2.4h-2.6zM423.8 410.4h2.6v2.4h-2.6zM434.2 410.4h2.6v2.4h-2.6zM410.8 412.8h2.6v2.4h-2.6zM421.2 412.8h2.6v2.4h-2.6zM431.6 412.8h2.6v2.4h-2.6zM439.4 412.8h2.6v2.4h-2.6zM444.6 412.8h2.6v2.4h-2.6zM413.4 415.2h2.6v2.4h-2.6zM416.0 415.2h2.6v2.4h-2.6zM418.6 415.2h2.6v2.4h-2.6zM421.2 415.2h2.6v2.4h-2.6zM423.8 415.2h2.6v2.4h-2.6zM426.4 415.2h2.6v2.4h-2.6zM436.8 415.2h2.6v2.4h-2.6zM413.4 417.6h2.6v2.4h-2.6zM431.6 417.6h2.6v2.4h-2.6zM434.2 417.6h2.6v2.4h-2.6zM439.4 417.6h2.6v2.4h-2.6zM418.6 420.0h2.6v2.4h-2.6zM423.8 420.0h2.6v2.4h-2.6zM426.4 420.0h2.6v2.4h-2.6zM431.6 420.0h2.6v2.4h-2.6zM439.4 420.0h2.6v2.4h-2.6zM444.6 420.0h2.6v2.4h-2.6zM426.4 422.4h2.6v2.4h-2.6zM429.0 422.4h2.6v2.4h-2.6zM436.8 422.4h2.6v2.4h-2.6zM442.0 422.4h2.6v2.4h-2.6zM444.6 422.4h2.6v2.4h-2.6zM421.2 424.8h2.6v2.4h-2.6zM434.2 424.8h2.6v2.4h-2.6zM436.8 424.8h2.6v2.4h-2.6zM444.6 424.8h2.6v2.4h-2.6zM447.2 424.8h2.6v2.4h-2.6zM421.2 427.2h2.6v2.4h-2.6zM426.4 427.2h2.6v2.4h-2.6zM429.0 427.2h2.6v2.4h-2.6zM444.6 427.2h2.6v2.4h-2.6zM447.2 427.2h2.6v2.4h-2.6zM423.8 429.6h2.6v2.4h-2.6zM431.6 429.6h2.6v2.4h-2.6zM436.8 429.6h2.6v2.4h-2.6zM447.2 429.6h2.6v2.4h-2.6zM452.4 429.6h2.6v2.4h-2.6zM439.4 432.0h2.6v2.4h-2.6zM442.0 432.0h2.6v2.4h-2.6zM444.6 432.0h2.6v2.4h-2.6zM452.4 432.0h2.6v2.4h-2.6zM434.2 434.4h2.6v2.4h-2.6zM439.4 434.4h2.6v2.4h-2.6zM447.2 434.4h2.6v2.4h-2.6zM423.8 436.8h2.6v2.4h-2.6zM431.6 436.8h2.6v2.4h-2.6zM449.8 436.8h2.6v2.4h-2.6zM455.0 436.8h2.6v2.4h-2.6zM449.8 439.2h2.6v2.4h-2.6zM431.6 441.6h2.6v2.4h-2.6zM442.0 441.6h2.6v2.4h-2.6zM452.4 441.6h2.6v2.4h-2.6zM457.6 441.6h2.6v2.4h-2.6zM429.0 444.0h2.6v2.4h-2.6zM436.8 444.0h2.6v2.4h-2.6zM439.4 444.0h2.6v2.4h-2.6zM449.8 444.0h2.6v2.4h-2.6zM455.0 444.0h2.6v2.4h-2.6zM436.8 446.4h2.6v2.4h-2.6zM439.4 446.4h2.6v2.4h-2.6zM447.2 446.4h2.6v2.4h-2.6zM455.0 446.4h2.6v2.4h-2.6zM439.4 448.8h2.6v2.4h-2.6zM449.8 448.8h2.6v2.4h-2.6zM457.6 448.8h2.6v2.4h-2.6zM436.8 451.2h2.6v2.4h-2.6zM439.4 451.2h2.6v2.4h-2.6zM442.0 451.2h2.6v2.4h-2.6zM449.8 451.2h2.6v2.4h-2.6zM442.0 453.6h2.6v2.4h-2.6zM444.6 453.6h2.6v2.4h-2.6zM447.2 453.6h2.6v2.4h-2.6zM452.4 453.6h2.6v2.4h-2.6zM462.8 453.6h2.6v2.4h-2.6zM465.4 453.6h2.6v2.4h-2.6zM439.4 456.0h2.6v2.4h-2.6zM444.6 456.0h2.6v2.4h-2.6zM447.2 456.0h2.6v2.4h-2.6zM449.8 456.0h2.6v2.4h-2.6zM455.0 456.0h2.6v2.4h-2.6zM457.6 456.0h2.6v2.4h-2.6zM460.2 456.0h2.6v2.4h-2.6zM462.8 456.0h2.6v2.4h-2.6zM468.0 456.0h2.6v2.4h-2.6zM439.4 458.4h2.6v2.4h-2.6zM442.0 458.4h2.6v2.4h-2.6zM447.2 458.4h2.6v2.4h-2.6zM449.8 458.4h2.6v2.4h-2.6zM452.4 458.4h2.6v2.4h-2.6zM462.8 458.4h2.6v2.4h-2.6zM465.4 458.4h2.6v2.4h-2.6zM442.0 460.8h2.6v2.4h-2.6zM444.6 460.8h2.6v2.4h-2.6zM447.2 460.8h2.6v2.4h-2.6zM452.4 460.8h2.6v2.4h-2.6zM457.6 460.8h2.6v2.4h-2.6zM460.2 460.8h2.6v2.4h-2.6zM462.8 460.8h2.6v2.4h-2.6zM465.4 460.8h2.6v2.4h-2.6zM439.4 463.2h2.6v2.4h-2.6zM444.6 463.2h2.6v2.4h-2.6zM447.2 463.2h2.6v2.4h-2.6zM452.4 463.2h2.6v2.4h-2.6zM457.6 463.2h2.6v2.4h-2.6zM460.2 463.2h2.6v2.4h-2.6zM462.8 463.2h2.6v2.4h-2.6zM465.4 463.2h2.6v2.4h-2.6zM470.6 463.2h2.6v2.4h-2.6zM442.0 465.6h2.6v2.4h-2.6zM444.6 465.6h2.6v2.4h-2.6zM449.8 465.6h2.6v2.4h-2.6zM452.4 465.6h2.6v2.4h-2.6zM455.0 465.6h2.6v2.4h-2.6zM460.2 465.6h2.6v2.4h-2.6zM462.8 465.6h2.6v2.4h-2.6zM465.4 465.6h2.6v2.4h-2.6zM473.2 465.6h2.6v2.4h-2.6zM442.0 468.0h2.6v2.4h-2.6zM444.6 468.0h2.6v2.4h-2.6zM447.2 468.0h2.6v2.4h-2.6zM449.8 468.0h2.6v2.4h-2.6zM455.0 468.0h2.6v2.4h-2.6zM457.6 468.0h2.6v2.4h-2.6zM460.2 468.0h2.6v2.4h-2.6zM462.8 468.0h2.6v2.4h-2.6zM465.4 468.0h2.6v2.4h-2.6zM470.6 468.0h2.6v2.4h-2.6zM473.2 468.0h2.6v2.4h-2.6zM442.0 470.4h2.6v2.4h-2.6zM444.6 470.4h2.6v2.4h-2.6zM447.2 470.4h2.6v2.4h-2.6zM449.8 470.4h2.6v2.4h-2.6zM455.0 470.4h2.6v2.4h-2.6zM457.6 470.4h2.6v2.4h-2.6zM460.2 470.4h2.6v2.4h-2.6zM462.8 470.4h2.6v2.4h-2.6zM465.4 470.4h2.6v2.4h-2.6zM468.0 470.4h2.6v2.4h-2.6zM444.6 472.8h2.6v2.4h-2.6zM447.2 472.8h2.6v2.4h-2.6zM449.8 472.8h2.6v2.4h-2.6zM452.4 472.8h2.6v2.4h-2.6zM455.0 472.8h2.6v2.4h-2.6zM457.6 472.8h2.6v2.4h-2.6zM460.2 472.8h2.6v2.4h-2.6zM462.8 472.8h2.6v2.4h-2.6zM470.6 472.8h2.6v2.4h-2.6zM475.8 472.8h2.6v2.4h-2.6zM444.6 475.2h2.6v2.4h-2.6zM447.2 475.2h2.6v2.4h-2.6zM455.0 475.2h2.6v2.4h-2.6zM457.6 475.2h2.6v2.4h-2.6zM460.2 475.2h2.6v2.4h-2.6zM465.4 475.2h2.6v2.4h-2.6zM470.6 475.2h2.6v2.4h-2.6zM473.2 475.2h2.6v2.4h-2.6zM478.4 475.2h2.6v2.4h-2.6zM449.8 477.6h2.6v2.4h-2.6zM457.6 477.6h2.6v2.4h-2.6zM465.4 477.6h2.6v2.4h-2.6zM468.0 477.6h2.6v2.4h-2.6zM470.6 477.6h2.6v2.4h-2.6zM473.2 477.6h2.6v2.4h-2.6zM478.4 477.6h2.6v2.4h-2.6zM481.0 477.6h2.6v2.4h-2.6zM447.2 480.0h2.6v2.4h-2.6zM449.8 480.0h2.6v2.4h-2.6zM452.4 480.0h2.6v2.4h-2.6zM455.0 480.0h2.6v2.4h-2.6zM460.2 480.0h2.6v2.4h-2.6zM462.8 480.0h2.6v2.4h-2.6zM465.4 480.0h2.6v2.4h-2.6zM473.2 480.0h2.6v2.4h-2.6zM475.8 480.0h2.6v2.4h-2.6zM478.4 480.0h2.6v2.4h-2.6zM447.2 482.4h2.6v2.4h-2.6zM449.8 482.4h2.6v2.4h-2.6zM455.0 482.4h2.6v2.4h-2.6zM457.6 482.4h2.6v2.4h-2.6zM460.2 482.4h2.6v2.4h-2.6zM462.8 482.4h2.6v2.4h-2.6zM465.4 482.4h2.6v2.4h-2.6zM470.6 482.4h2.6v2.4h-2.6zM473.2 482.4h2.6v2.4h-2.6zM478.4 482.4h2.6v2.4h-2.6zM481.0 482.4h2.6v2.4h-2.6zM483.6 482.4h2.6v2.4h-2.6zM447.2 484.8h2.6v2.4h-2.6zM449.8 484.8h2.6v2.4h-2.6zM452.4 484.8h2.6v2.4h-2.6zM460.2 484.8h2.6v2.4h-2.6zM462.8 484.8h2.6v2.4h-2.6zM468.0 484.8h2.6v2.4h-2.6zM470.6 484.8h2.6v2.4h-2.6zM473.2 484.8h2.6v2.4h-2.6zM478.4 484.8h2.6v2.4h-2.6zM481.0 484.8h2.6v2.4h-2.6zM447.2 487.2h2.6v2.4h-2.6zM449.8 487.2h2.6v2.4h-2.6zM452.4 487.2h2.6v2.4h-2.6zM457.6 487.2h2.6v2.4h-2.6zM465.4 487.2h2.6v2.4h-2.6zM468.0 487.2h2.6v2.4h-2.6zM470.6 487.2h2.6v2.4h-2.6zM473.2 487.2h2.6v2.4h-2.6zM475.8 487.2h2.6v2.4h-2.6zM478.4 487.2h2.6v2.4h-2.6zM481.0 487.2h2.6v2.4h-2.6zM483.6 487.2h2.6v2.4h-2.6zM486.2 487.2h2.6v2.4h-2.6zM449.8 489.6h2.6v2.4h-2.6zM452.4 489.6h2.6v2.4h-2.6zM457.6 489.6h2.6v2.4h-2.6zM460.2 489.6h2.6v2.4h-2.6zM468.0 489.6h2.6v2.4h-2.6zM470.6 489.6h2.6v2.4h-2.6zM473.2 489.6h2.6v2.4h-2.6zM478.4 489.6h2.6v2.4h-2.6zM481.0 489.6h2.6v2.4h-2.6zM483.6 489.6h2.6v2.4h-2.6zM455.0 492.0h2.6v2.4h-2.6zM457.6 492.0h2.6v2.4h-2.6zM462.8 492.0h2.6v2.4h-2.6zM470.6 492.0h2.6v2.4h-2.6zM473.2 492.0h2.6v2.4h-2.6zM475.8 492.0h2.6v2.4h-2.6zM478.4 492.0h2.6v2.4h-2.6zM481.0 492.0h2.6v2.4h-2.6zM483.6 492.0h2.6v2.4h-2.6zM452.4 494.4h2.6v2.4h-2.6zM455.0 494.4h2.6v2.4h-2.6zM457.6 494.4h2.6v2.4h-2.6zM460.2 494.4h2.6v2.4h-2.6zM462.8 494.4h2.6v2.4h-2.6zM465.4 494.4h2.6v2.4h-2.6zM468.0 494.4h2.6v2.4h-2.6zM473.2 494.4h2.6v2.4h-2.6zM483.6 494.4h2.6v2.4h-2.6zM486.2 494.4h2.6v2.4h-2.6zM488.8 494.4h2.6v2.4h-2.6zM452.4 496.8h2.6v2.4h-2.6zM457.6 496.8h2.6v2.4h-2.6zM462.8 496.8h2.6v2.4h-2.6zM470.6 496.8h2.6v2.4h-2.6zM473.2 496.8h2.6v2.4h-2.6zM481.0 496.8h2.6v2.4h-2.6zM483.6 496.8h2.6v2.4h-2.6zM488.8 496.8h2.6v2.4h-2.6zM452.4 499.2h2.6v2.4h-2.6zM457.6 499.2h2.6v2.4h-2.6zM460.2 499.2h2.6v2.4h-2.6zM462.8 499.2h2.6v2.4h-2.6zM465.4 499.2h2.6v2.4h-2.6zM468.0 499.2h2.6v2.4h-2.6zM470.6 499.2h2.6v2.4h-2.6zM473.2 499.2h2.6v2.4h-2.6zM475.8 499.2h2.6v2.4h-2.6zM478.4 499.2h2.6v2.4h-2.6zM481.0 499.2h2.6v2.4h-2.6zM483.6 499.2h2.6v2.4h-2.6zM486.2 499.2h2.6v2.4h-2.6zM457.6 501.6h2.6v2.4h-2.6zM460.2 501.6h2.6v2.4h-2.6zM462.8 501.6h2.6v2.4h-2.6zM465.4 501.6h2.6v2.4h-2.6zM468.0 501.6h2.6v2.4h-2.6zM470.6 501.6h2.6v2.4h-2.6zM473.2 501.6h2.6v2.4h-2.6zM475.8 501.6h2.6v2.4h-2.6zM483.6 501.6h2.6v2.4h-2.6zM486.2 501.6h2.6v2.4h-2.6zM491.4 501.6h2.6v2.4h-2.6zM457.6 504.0h2.6v2.4h-2.6zM462.8 504.0h2.6v2.4h-2.6zM465.4 504.0h2.6v2.4h-2.6zM468.0 504.0h2.6v2.4h-2.6zM470.6 504.0h2.6v2.4h-2.6zM473.2 504.0h2.6v2.4h-2.6zM478.4 504.0h2.6v2.4h-2.6zM481.0 504.0h2.6v2.4h-2.6zM483.6 504.0h2.6v2.4h-2.6zM488.8 504.0h2.6v2.4h-2.6zM455.0 506.4h2.6v2.4h-2.6zM460.2 506.4h2.6v2.4h-2.6zM462.8 506.4h2.6v2.4h-2.6zM465.4 506.4h2.6v2.4h-2.6zM468.0 506.4h2.6v2.4h-2.6zM470.6 506.4h2.6v2.4h-2.6zM473.2 506.4h2.6v2.4h-2.6zM475.8 506.4h2.6v2.4h-2.6zM478.4 506.4h2.6v2.4h-2.6zM481.0 506.4h2.6v2.4h-2.6zM488.8 506.4h2.6v2.4h-2.6zM491.4 506.4h2.6v2.4h-2.6zM457.6 508.8h2.6v2.4h-2.6zM465.4 508.8h2.6v2.4h-2.6zM470.6 508.8h2.6v2.4h-2.6zM473.2 508.8h2.6v2.4h-2.6zM475.8 508.8h2.6v2.4h-2.6zM481.0 508.8h2.6v2.4h-2.6zM486.2 508.8h2.6v2.4h-2.6zM488.8 508.8h2.6v2.4h-2.6zM491.4 508.8h2.6v2.4h-2.6z" fill="#d7defa"/>
<path d="M429.0 391.2h2.6v2.4h-2.6zM429.0 393.6h2.6v2.4h-2.6zM431.6 393.6h2.6v2.4h-2.6zM423.8 396.0h2.6v2.4h-2.6zM426.4 396.0h2.6v2.4h-2.6zM431.6 396.0h2.6v2.4h-2.6zM421.2 398.4h2.6v2.4h-2.6zM426.4 400.8h2.6v2.4h-2.6zM408.2 403.2h2.6v2.4h-2.6zM408.2 405.6h2.6v2.4h-2.6zM431.6 405.6h2.6v2.4h-2.6zM421.2 408.0h2.6v2.4h-2.6zM436.8 410.4h2.6v2.4h-2.6zM442.0 412.8h2.6v2.4h-2.6zM434.2 415.2h2.6v2.4h-2.6zM418.6 417.6h2.6v2.4h-2.6zM426.4 417.6h2.6v2.4h-2.6zM421.2 422.4h2.6v2.4h-2.6zM431.6 427.2h2.6v2.4h-2.6zM426.4 429.6h2.6v2.4h-2.6zM444.6 429.6h2.6v2.4h-2.6zM429.0 436.8h2.6v2.4h-2.6zM436.8 436.8h2.6v2.4h-2.6zM442.0 436.8h2.6v2.4h-2.6zM447.2 436.8h2.6v2.4h-2.6zM442.0 439.2h2.6v2.4h-2.6zM444.6 439.2h2.6v2.4h-2.6zM426.4 441.6h2.6v2.4h-2.6zM434.2 441.6h2.6v2.4h-2.6zM460.2 444.0h2.6v2.4h-2.6zM455.0 448.8h2.6v2.4h-2.6zM460.2 448.8h2.6v2.4h-2.6zM444.6 451.2h2.6v2.4h-2.6zM447.2 451.2h2.6v2.4h-2.6zM455.0 451.2h2.6v2.4h-2.6zM460.2 451.2h2.6v2.4h-2.6zM439.4 453.6h2.6v2.4h-2.6zM460.2 453.6h2.6v2.4h-2.6zM434.2 456.0h2.6v2.4h-2.6zM436.8 456.0h2.6v2.4h-2.6zM452.4 456.0h2.6v2.4h-2.6zM465.4 456.0h2.6v2.4h-2.6zM436.8 458.4h2.6v2.4h-2.6zM444.6 458.4h2.6v2.4h-2.6zM455.0 458.4h2.6v2.4h-2.6zM460.2 458.4h2.6v2.4h-2.6zM468.0 458.4h2.6v2.4h-2.6zM436.8 460.8h2.6v2.4h-2.6zM439.4 460.8h2.6v2.4h-2.6zM470.6 460.8h2.6v2.4h-2.6zM449.8 463.2h2.6v2.4h-2.6zM455.0 463.2h2.6v2.4h-2.6zM468.0 465.6h2.6v2.4h-2.6zM470.6 465.6h2.6v2.4h-2.6zM452.4 468.0h2.6v2.4h-2.6zM468.0 468.0h2.6v2.4h-2.6zM475.8 470.4h2.6v2.4h-2.6zM465.4 472.8h2.6v2.4h-2.6zM468.0 472.8h2.6v2.4h-2.6zM473.2 472.8h2.6v2.4h-2.6zM452.4 475.2h2.6v2.4h-2.6zM468.0 475.2h2.6v2.4h-2.6zM475.8 475.2h2.6v2.4h-2.6zM444.6 477.6h2.6v2.4h-2.6zM447.2 477.6h2.6v2.4h-2.6zM452.4 477.6h2.6v2.4h-2.6zM460.2 477.6h2.6v2.4h-2.6zM462.8 477.6h2.6v2.4h-2.6zM444.6 480.0h2.6v2.4h-2.6zM468.0 480.0h2.6v2.4h-2.6zM470.6 480.0h2.6v2.4h-2.6zM452.4 482.4h2.6v2.4h-2.6zM468.0 482.4h2.6v2.4h-2.6zM475.8 484.8h2.6v2.4h-2.6zM455.0 487.2h2.6v2.4h-2.6zM455.0 489.6h2.6v2.4h-2.6zM462.8 489.6h2.6v2.4h-2.6zM475.8 489.6h2.6v2.4h-2.6zM449.8 492.0h2.6v2.4h-2.6zM460.2 492.0h2.6v2.4h-2.6zM465.4 492.0h2.6v2.4h-2.6zM468.0 492.0h2.6v2.4h-2.6zM470.6 494.4h2.6v2.4h-2.6zM475.8 494.4h2.6v2.4h-2.6zM478.4 494.4h2.6v2.4h-2.6zM481.0 494.4h2.6v2.4h-2.6zM460.2 496.8h2.6v2.4h-2.6zM465.4 496.8h2.6v2.4h-2.6zM486.2 496.8h2.6v2.4h-2.6zM455.0 499.2h2.6v2.4h-2.6zM455.0 501.6h2.6v2.4h-2.6zM478.4 501.6h2.6v2.4h-2.6zM488.8 501.6h2.6v2.4h-2.6zM460.2 504.0h2.6v2.4h-2.6zM486.2 504.0h2.6v2.4h-2.6zM457.6 506.4h2.6v2.4h-2.6zM483.6 506.4h2.6v2.4h-2.6zM462.8 508.8h2.6v2.4h-2.6zM468.0 508.8h2.6v2.4h-2.6zM478.4 508.8h2.6v2.4h-2.6z" fill="#d7eefa"/>
<path d="M278.8 452.6h2.6v2.4h-2.6zM281.4 455.0h2.6v2.4h-2.6zM278.8 457.4h2.6v2.4h-2.6zM281.4 457.4h2.6v2.4h-2.6zM278.8 459.8h2.6v2.4h-2.6zM281.4 459.8h2.6v2.4h-2.6zM284.0 459.8h2.6v2.4h-2.6zM281.4 462.2h2.6v2.4h-2.6zM284.0 462.2h2.6v2.4h-2.6zM278.8 464.6h2.6v2.4h-2.6zM281.4 464.6h2.6v2.4h-2.6zM284.0 464.6h2.6v2.4h-2.6zM278.8 467.0h2.6v2.4h-2.6zM286.6 469.4h2.6v2.4h-2.6zM278.8 471.8h2.6v2.4h-2.6zM281.4 471.8h2.6v2.4h-2.6zM284.0 471.8h2.6v2.4h-2.6zM286.6 471.8h2.6v2.4h-2.6zM278.8 474.2h2.6v2.4h-2.6zM281.4 474.2h2.6v2.4h-2.6zM278.8 476.6h2.6v2.4h-2.6zM289.2 476.6h2.6v2.4h-2.6zM278.8 479.0h2.6v2.4h-2.6zM284.0 479.0h2.6v2.4h-2.6zM286.6 479.0h2.6v2.4h-2.6zM278.8 481.4h2.6v2.4h-2.6zM284.0 481.4h2.6v2.4h-2.6zM286.6 481.4h2.6v2.4h-2.6zM291.8 481.4h2.6v2.4h-2.6zM278.8 483.8h2.6v2.4h-2.6zM281.4 483.8h2.6v2.4h-2.6zM289.2 483.8h2.6v2.4h-2.6zM281.4 486.2h2.6v2.4h-2.6zM291.8 486.2h2.6v2.4h-2.6zM278.8 488.6h2.6v2.4h-2.6zM281.4 488.6h2.6v2.4h-2.6zM284.0 488.6h2.6v2.4h-2.6zM286.6 488.6h2.6v2.4h-2.6zM291.8 488.6h2.6v2.4h-2.6zM281.4 491.0h2.6v2.4h-2.6zM284.0 491.0h2.6v2.4h-2.6zM286.6 491.0h2.6v2.4h-2.6zM289.2 491.0h2.6v2.4h-2.6zM278.8 493.4h2.6v2.4h-2.6zM281.4 493.4h2.6v2.4h-2.6zM284.0 493.4h2.6v2.4h-2.6zM286.6 493.4h2.6v2.4h-2.6zM289.2 493.4h2.6v2.4h-2.6zM291.8 493.4h2.6v2.4h-2.6zM278.8 495.8h2.6v2.4h-2.6zM284.0 495.8h2.6v2.4h-2.6zM286.6 495.8h2.6v2.4h-2.6zM289.2 495.8h2.6v2.4h-2.6zM291.8 495.8h2.6v2.4h-2.6zM294.4 495.8h2.6v2.4h-2.6zM281.4 498.2h2.6v2.4h-2.6zM284.0 498.2h2.6v2.4h-2.6zM286.6 498.2h2.6v2.4h-2.6zM289.2 498.2h2.6v2.4h-2.6zM294.4 498.2h2.6v2.4h-2.6zM297.0 498.2h2.6v2.4h-2.6zM278.8 500.6h2.6v2.4h-2.6zM281.4 500.6h2.6v2.4h-2.6zM284.0 500.6h2.6v2.4h-2.6zM291.8 500.6h2.6v2.4h-2.6zM294.4 500.6h2.6v2.4h-2.6zM297.0 500.6h2.6v2.4h-2.6zM281.4 503.0h2.6v2.4h-2.6zM284.0 503.0h2.6v2.4h-2.6zM289.2 503.0h2.6v2.4h-2.6zM294.4 503.0h2.6v2.4h-2.6zM297.0 503.0h2.6v2.4h-2.6zM281.4 505.4h2.6v2.4h-2.6zM284.0 505.4h2.6v2.4h-2.6zM286.6 505.4h2.6v2.4h-2.6zM289.2 505.4h2.6v2.4h-2.6zM291.8 505.4h2.6v2.4h-2.6zM297.0 505.4h2.6v2.4h-2.6zM278.8 507.8h2.6v2.4h-2.6zM284.0 507.8h2.6v2.4h-2.6zM286.6 507.8h2.6v2.4h-2.6zM289.2 507.8h2.6v2.4h-2.6zM291.8 507.8h2.6v2.4h-2.6zM294.4 507.8h2.6v2.4h-2.6zM281.4 510.2h2.6v2.4h-2.6zM284.0 510.2h2.6v2.4h-2.6zM289.2 510.2h2.6v2.4h-2.6zM291.8 510.2h2.6v2.4h-2.6zM294.4 510.2h2.6v2.4h-2.6z" fill="#d7defa"/>
<path d="M278.8 455.0h2.6v2.4h-2.6zM278.8 462.2h2.6v2.4h-2.6zM281.4 467.0h2.6v2.4h-2.6zM284.0 467.0h2.6v2.4h-2.6zM286.6 467.0h2.6v2.4h-2.6zM278.8 469.4h2.6v2.4h-2.6zM284.0 469.4h2.6v2.4h-2.6zM284.0 474.2h2.6v2.4h-2.6zM284.0 476.6h2.6v2.4h-2.6zM286.6 476.6h2.6v2.4h-2.6zM289.2 479.0h2.6v2.4h-2.6zM289.2 481.4h2.6v2.4h-2.6zM286.6 483.8h2.6v2.4h-2.6zM291.8 483.8h2.6v2.4h-2.6zM278.8 486.2h2.6v2.4h-2.6zM286.6 486.2h2.6v2.4h-2.6zM289.2 486.2h2.6v2.4h-2.6zM289.2 488.6h2.6v2.4h-2.6zM278.8 491.0h2.6v2.4h-2.6zM291.8 491.0h2.6v2.4h-2.6zM294.4 493.4h2.6v2.4h-2.6zM278.8 498.2h2.6v2.4h-2.6zM291.8 498.2h2.6v2.4h-2.6zM286.6 500.6h2.6v2.4h-2.6zM289.2 500.6h2.6v2.4h-2.6zM278.8 503.0h2.6v2.4h-2.6zM286.6 503.0h2.6v2.4h-2.6zM278.8 505.4h2.6v2.4h-2.6zM294.4 505.4h2.6v2.4h-2.6zM299.6 505.4h2.6v2.4h-2.6zM281.4 507.8h2.6v2.4h-2.6zM299.6 507.8h2.6v2.4h-2.6zM286.6 510.2h2.6v2.4h-2.6zM297.0 510.2h2.6v2.4h-2.6zM299.6 510.2h2.6v2.4h-2.6z" fill="#d7eefa"/>
<path d="M486.0 381.5h2.6v2.4h-2.6zM491.2 381.5h2.6v2.4h-2.6zM488.6 383.9h2.6v2.4h-2.6zM491.2 383.9h2.6v2.4h-2.6zM493.8 383.9h2.6v2.4h-2.6zM496.4 383.9h2.6v2.4h-2.6zM486.0 386.3h2.6v2.4h-2.6zM488.6 386.3h2.6v2.4h-2.6zM491.2 386.3h2.6v2.4h-2.6zM486.0 388.7h2.6v2.4h-2.6zM488.6 388.7h2.6v2.4h-2.6zM488.6 391.1h2.6v2.4h-2.6zM488.6 393.5h2.6v2.4h-2.6zM499.0 393.5h2.6v2.4h-2.6zM491.2 395.9h2.6v2.4h-2.6zM493.8 395.9h2.6v2.4h-2.6zM499.0 395.9h2.6v2.4h-2.6zM496.4 398.3h2.6v2.4h-2.6zM493.8 400.7h2.6v2.4h-2.6zM499.0 400.7h2.6v2.4h-2.6zM496.4 403.1h2.6v2.4h-2.6zM499.0 403.1h2.6v2.4h-2.6z" fill="#d7defa"/>
<path d="M493.8 386.3h2.6v2.4h-2.6zM499.0 388.7h2.6v2.4h-2.6zM499.0 405.5h2.6v2.4h-2.6z" fill="#d7eefa"/>
<path d="M327.1 383.1h1.4v1.2h-1.4zM317.1 392.2h2.1v1.2h-2.1zM355.7 422.7h2.8v1.2h-2.8zM358.3 472.5h2.1v1.2h-2.1zM361.3 475.1h1.4v1.2h-1.4z" fill="#5a78e6"/>
<path d="M320.7 384.3h1.4v1.2h-1.4zM307.7 384.9h1.4v1.2h-1.4zM299.5 387.7h1.4v1.2h-1.4zM326.9 390.0h1.4v1.2h-1.4zM319.3 395.1h2.8v1.2h-2.8zM338.8 404.0h1.4v1.2h-1.4zM323.2 412.9h2.8v1.2h-2.8zM338.1 436.8h1.4v1.2h-1.4zM344.5 439.3h1.4v1.2h-1.4zM362.1 449.9h1.4v1.2h-1.4zM368.1 458.7h1.4v1.2h-1.4zM352.6 459.2h2.8v1.2h-2.8zM370.4 463.3h2.8v1.2h-2.8zM359.7 470.1h2.1v1.2h-2.1zM355.5 489.9h2.1v1.2h-2.1zM355.6 493.0h2.1v1.2h-2.1zM365.3 501.7h2.8v1.2h-2.8zM362.0 506.3h2.8v1.2h-2.8z" fill="#aab4f5"/>
<path d="M308.9 384.8h1.4v1.2h-1.4zM342.4 396.2h1.4v1.2h-1.4zM337.2 398.5h2.1v1.2h-2.1zM328.4 404.6h1.4v1.2h-1.4zM326.9 407.9h2.8v1.2h-2.8zM330.1 409.4h2.8v1.2h-2.8zM334.4 409.3h1.4v1.2h-1.4zM331.9 411.7h2.8v1.2h-2.8zM328.7 419.7h2.1v1.2h-2.1zM355.3 421.3h2.1v1.2h-2.1zM356.7 425.6h2.8v1.2h-2.8zM338.8 441.3h1.4v1.2h-1.4zM362.1 444.0h2.8v1.2h-2.8zM344.2 445.1h1.4v1.2h-1.4zM369.4 473.8h2.8v1.2h-2.8zM383.5 489.9h2.8v1.2h-2.8zM365.4 492.8h2.1v1.2h-2.1z" fill="#9aa6f0"/>
<path d="M305.1 386.0h2.8v1.2h-2.8zM315.9 387.4h2.1v1.2h-2.1zM314.4 388.4h1.4v1.2h-1.4zM322.0 388.6h2.8v1.2h-2.8zM338.2 391.1h2.8v1.2h-2.8zM314.8 397.1h2.1v1.2h-2.1zM331.5 403.4h1.4v1.2h-1.4zM318.6 410.8h1.4v1.2h-1.4zM351.1 422.4h1.4v1.2h-1.4zM338.8 425.9h2.1v1.2h-2.1zM347.0 430.6h2.1v1.2h-2.1zM342.5 433.0h2.8v1.2h-2.8zM360.7 434.2h2.1v1.2h-2.1zM347.2 435.6h2.8v1.2h-2.8zM334.5 441.7h2.1v1.2h-2.1zM363.5 443.6h2.1v1.2h-2.1zM343.0 450.3h1.4v1.2h-1.4zM366.2 457.5h2.1v1.2h-2.1zM375.1 461.2h2.8v1.2h-2.8zM365.3 465.7h2.1v1.2h-2.1zM363.9 474.9h1.4v1.2h-1.4zM369.6 478.6h1.4v1.2h-1.4zM359.7 482.7h1.4v1.2h-1.4zM352.7 488.2h2.1v1.2h-2.1zM393.4 510.2h1.4v1.2h-1.4z" fill="#87a5fa"/>
<path d="M332.8 391.6h2.1v1.2h-2.1z" fill="#4650b4"/>
<path d="M325.9 411.5h2.1v1.2h-2.1zM355.6 433.0h1.4v1.2h-1.4zM361.9 452.1h1.4v1.2h-1.4zM362.6 486.3h2.1v1.2h-2.1zM370.7 498.2h1.4v1.2h-1.4z" fill="#c8f5fa"/>
<path d="M412.1 392.4h2.1v1.2h-2.1zM417.0 397.0h1.4v1.2h-1.4zM427.7 409.6h2.8v1.2h-2.8zM436.4 414.2h1.4v1.2h-1.4zM455.5 434.6h2.8v1.2h-2.8zM448.6 439.4h2.8v1.2h-2.8zM433.1 445.0h2.8v1.2h-2.8zM457.2 444.9h2.1v1.2h-2.1zM442.9 446.3h1.4v1.2h-1.4zM446.1 447.4h2.1v1.2h-2.1zM462.8 452.2h2.1v1.2h-2.1zM448.7 453.6h1.4v1.2h-1.4zM439.1 454.8h2.1v1.2h-2.1zM448.5 464.4h2.8v1.2h-2.8zM451.5 470.4h2.1v1.2h-2.1zM454.6 488.1h1.4v1.2h-1.4zM482.2 498.9h2.8v1.2h-2.8zM465.4 502.9h2.1v1.2h-2.1z" fill="#aab4f5"/>
<path d="M427.7 405.5h2.1v1.2h-2.1zM433.4 407.0h1.4v1.2h-1.4zM436.4 416.2h1.4v1.2h-1.4zM434.8 417.7h1.4v1.2h-1.4zM426.2 426.9h1.4v1.2h-1.4zM428.0 431.8h1.4v1.2h-1.4zM439.2 441.6h1.4v1.2h-1.4zM458.6 441.4h2.8v1.2h-2.8zM462.5 446.4h2.1v1.2h-2.1zM434.8 454.6h2.8v1.2h-2.8zM462.8 470.1h2.1v1.2h-2.1zM479.7 488.4h2.8v1.2h-2.8zM476.6 496.7h1.4v1.2h-1.4zM486.7 499.0h1.4v1.2h-1.4zM470.9 502.7h1.4v1.2h-1.4z" fill="#9aa6f0"/>
<path d="M423.6 410.6h1.4v1.2h-1.4zM431.6 436.5h1.4v1.2h-1.4zM456.0 470.0h1.4v1.2h-1.4zM455.7 472.9h1.4v1.2h-1.4zM447.3 477.8h2.8v1.2h-2.8z" fill="#c8f5fa"/>
<path d="M414.2 411.4h2.8v1.2h-2.8zM439.3 421.1h1.4v1.2h-1.4zM449.2 425.8h1.4v1.2h-1.4zM443.3 451.5h1.4v1.2h-1.4zM450.3 452.6h1.4v1.2h-1.4zM462.9 458.6h2.1v1.2h-2.1zM476.5 475.3h1.4v1.2h-1.4zM461.2 476.7h1.4v1.2h-1.4zM448.7 477.5h1.4v1.2h-1.4zM468.4 490.6h1.4v1.2h-1.4zM469.7 492.1h2.1v1.2h-2.1zM451.6 495.9h2.1v1.2h-2.1zM460.3 499.6h1.4v1.2h-1.4zM462.5 506.8h2.8v1.2h-2.8zM461.3 510.3h1.4v1.2h-1.4z" fill="#87a5fa"/>
<path d="M425.0 412.8h2.8v1.2h-2.8zM445.9 421.5h1.4v1.2h-1.4zM435.8 451.2h1.4v1.2h-1.4zM479.5 484.6h2.1v1.2h-2.1z" fill="#5a78e6"/>
<path d="M280.1 460.2h2.8v1.2h-2.8zM297.0 501.5h1.4v1.2h-1.4zM293.0 511.7h2.8v1.2h-2.8z" fill="#87a5fa"/>
<path d="M282.0 463.5h2.8v1.2h-2.8zM285.6 474.1h2.8v1.2h-2.8zM288.7 478.2h1.4v1.2h-1.4zM281.7 482.6h1.4v1.2h-1.4zM286.8 487.8h1.4v1.2h-1.4z" fill="#aab4f5"/>
<path d="M279.9 491.3h2.1v1.2h-2.1z" fill="#c8f5fa"/>
<path d="M280.5 493.2h1.4v1.2h-1.4zM286.9 503.2h2.8v1.2h-2.8zM285.6 511.7h1.4v1.2h-1.4z" fill="#9aa6f0"/>
<path d="M283.3 493.4h2.8v1.2h-2.8z" fill="#5a78e6"/>
<path d="M281.7 499.4h1.4v1.2h-1.4z" fill="#4650b4"/>
<path d="M498.7 387.3h1.4v1.2h-1.4z" fill="#aab4f5"/>
<path d="M468.2 476.0h1.8v1.6h-1.8zM468.4 479.4h1.8v1.6h-1.8zM479.1 479.3h1.8v1.6h-1.8zM470.2 481.0h1.8v1.6h-1.8zM470.0 482.6h1.8v1.6h-1.8zM459.2 484.2h1.8v1.6h-1.8zM455.8 485.4h1.8v1.6h-1.8zM463.0 485.7h1.8v1.6h-1.8zM473.5 485.4h1.8v1.6h-1.8zM459.0 488.7h1.8v1.6h-1.8zM459.0 492.2h1.8v1.6h-1.8zM453.9 493.4h1.8v1.6h-1.8zM455.4 493.8h1.8v1.6h-1.8zM477.1 493.6h1.8v1.6h-1.8zM460.9 495.3h1.8v1.6h-1.8zM484.2 496.6h1.8v1.6h-1.8zM477.0 498.6h1.8v1.6h-1.8zM468.4 499.9h1.8v1.6h-1.8zM471.9 501.8h1.8v1.6h-1.8zM482.5 503.2h1.8v1.6h-1.8zM486.1 503.4h1.8v1.6h-1.8zM460.8 505.0h1.8v1.6h-1.8zM480.7 504.6h1.8v1.6h-1.8zM468.3 509.8h1.8v1.6h-1.8z" fill="#8c8c28"/>
<path d="M475.6 476.2h1.8v1.6h-1.8zM466.2 477.5h1.8v1.6h-1.8zM466.2 483.8h1.8v1.6h-1.8zM473.5 484.0h1.8v1.6h-1.8zM457.5 485.7h1.8v1.6h-1.8zM459.3 485.4h1.8v1.6h-1.8zM475.2 485.5h1.8v1.6h-1.8zM472.0 487.0h1.8v1.6h-1.8zM482.4 487.4h1.8v1.6h-1.8zM473.5 489.0h1.8v1.6h-1.8zM464.6 492.2h1.8v1.6h-1.8zM471.6 493.5h1.8v1.6h-1.8zM484.4 495.3h1.8v1.6h-1.8zM479.1 497.0h1.8v1.6h-1.8zM482.5 498.2h1.8v1.6h-1.8zM486.2 500.2h1.8v1.6h-1.8zM484.2 503.0h1.8v1.6h-1.8zM477.4 504.7h1.8v1.6h-1.8zM479.2 504.7h1.8v1.6h-1.8zM486.2 504.7h1.8v1.6h-1.8zM469.8 506.4h1.8v1.6h-1.8zM484.4 506.5h1.8v1.6h-1.8zM473.6 508.1h1.8v1.6h-1.8zM459.2 509.8h1.8v1.6h-1.8zM473.7 509.5h1.8v1.6h-1.8z" fill="#5a78e6"/>
<path d="M457.5 477.8h1.8v1.6h-1.8zM452.0 479.3h1.8v1.6h-1.8zM464.5 479.0h1.8v1.6h-1.8zM472.0 479.2h1.8v1.6h-1.8zM461.1 481.0h1.8v1.6h-1.8zM468.2 480.8h1.8v1.6h-1.8zM452.1 482.6h1.8v1.6h-1.8zM455.4 482.2h1.8v1.6h-1.8zM468.0 482.2h1.8v1.6h-1.8zM468.4 484.0h1.8v1.6h-1.8zM482.5 485.5h1.8v1.6h-1.8zM470.1 490.3h1.8v1.6h-1.8zM484.5 490.5h1.8v1.6h-1.8zM462.6 491.8h1.8v1.6h-1.8zM477.2 492.2h1.8v1.6h-1.8zM475.4 495.1h1.8v1.6h-1.8zM486.2 495.0h1.8v1.6h-1.8zM463.0 496.8h1.8v1.6h-1.8zM482.8 501.6h1.8v1.6h-1.8zM477.2 503.2h1.8v1.6h-1.8zM479.1 503.4h1.8v1.6h-1.8zM475.2 504.8h1.8v1.6h-1.8zM460.8 507.9h1.8v1.6h-1.8zM466.6 507.8h1.8v1.6h-1.8zM475.3 508.0h1.8v1.6h-1.8zM490.0 508.0h1.8v1.6h-1.8zM457.3 509.5h1.8v1.6h-1.8z" fill="#5ad714"/>
<path d="M470.2 477.5h1.8v1.6h-1.8zM468.4 485.6h1.8v1.6h-1.8zM484.5 485.8h1.8v1.6h-1.8zM477.2 487.4h1.8v1.6h-1.8zM455.4 488.9h1.8v1.6h-1.8zM457.2 488.7h1.8v1.6h-1.8zM477.4 489.0h1.8v1.6h-1.8zM462.9 490.3h1.8v1.6h-1.8zM464.7 490.5h1.8v1.6h-1.8zM470.2 496.6h1.8v1.6h-1.8zM471.9 498.6h1.8v1.6h-1.8zM486.1 498.4h1.8v1.6h-1.8zM464.4 501.8h1.8v1.6h-1.8zM468.1 501.6h1.8v1.6h-1.8zM461.2 503.0h1.8v1.6h-1.8zM480.8 503.4h1.8v1.6h-1.8zM457.3 504.9h1.8v1.6h-1.8zM484.3 509.6h1.8v1.6h-1.8z" fill="#8287f5"/>
<path d="M475.5 477.4h1.8v1.6h-1.8zM477.3 477.7h1.8v1.6h-1.8zM455.4 480.6h1.8v1.6h-1.8zM480.8 480.9h1.8v1.6h-1.8zM475.6 482.3h1.8v1.6h-1.8zM477.1 482.6h1.8v1.6h-1.8zM477.2 484.0h1.8v1.6h-1.8zM453.6 487.4h1.8v1.6h-1.8zM484.5 487.3h1.8v1.6h-1.8zM475.5 488.6h1.8v1.6h-1.8zM455.4 492.0h1.8v1.6h-1.8zM481.0 492.1h1.8v1.6h-1.8zM462.8 493.7h1.8v1.6h-1.8zM487.9 495.0h1.8v1.6h-1.8zM455.6 496.6h1.8v1.6h-1.8zM468.1 496.7h1.8v1.6h-1.8zM482.8 496.8h1.8v1.6h-1.8zM462.9 498.4h1.8v1.6h-1.8zM471.8 500.1h1.8v1.6h-1.8zM481.0 500.0h1.8v1.6h-1.8zM484.3 500.1h1.8v1.6h-1.8zM457.3 503.1h1.8v1.6h-1.8zM459.0 503.3h1.8v1.6h-1.8zM471.7 503.2h1.8v1.6h-1.8zM464.4 504.7h1.8v1.6h-1.8zM471.9 504.8h1.8v1.6h-1.8zM482.8 504.8h1.8v1.6h-1.8zM459.2 506.5h1.8v1.6h-1.8zM471.7 508.0h1.8v1.6h-1.8z" fill="#28e10a"/>
<path d="M459.0 482.4h1.8v1.6h-1.8zM457.6 484.2h1.8v1.6h-1.8zM461.0 488.7h1.8v1.6h-1.8zM468.1 490.5h1.8v1.6h-1.8zM473.7 490.2h1.8v1.6h-1.8zM469.9 493.7h1.8v1.6h-1.8zM464.4 495.0h1.8v1.6h-1.8zM454.0 500.2h1.8v1.6h-1.8zM466.3 499.8h1.8v1.6h-1.8zM466.2 503.3h1.8v1.6h-1.8zM457.3 508.1h1.8v1.6h-1.8zM480.8 509.4h1.8v1.6h-1.8z" fill="#19878c"/>
<path d="M358.6 468.8h2.2v2.0h-2.2z" fill="#28e10a"/>
<path d="M371.0 478.8h2.2v2.0h-2.2z" fill="#28e10a"/>
<path d="M353.7 459.1h2.2v2.0h-2.2z" fill="#28e10a"/>
<path d="M376.6 493.8h2.2v2.0h-2.2z" fill="#8c8c28"/>
<path d="M298.7 493.9h2.2v2.0h-2.2z" fill="#8c8c28"/>
<path d="M286.5 469.0h2.2v2.0h-2.2z" fill="#28e10a"/>
<path d="M302.3 389.4h2.2v2.0h-2.2zM304.3 389.6h2.2v2.0h-2.2z" fill="#5a78e6"/>
<path d="M343.7 413.7h2.2v2.0h-2.2zM339.0 420.3h2.2v2.0h-2.2z" fill="#4650b4"/>
<path d="M345.5 414.0h2.2v2.0h-2.2zM337.2 416.1h2.2v2.0h-2.2zM341.4 417.7h2.2v2.0h-2.2zM343.9 417.7h2.2v2.0h-2.2zM345.9 417.8h2.2v2.0h-2.2z" fill="#5a78e6"/>
<path d="M348.3 414.3h2.2v2.0h-2.2zM339.1 416.0h2.2v2.0h-2.2zM341.5 416.1h2.2v2.0h-2.2zM350.4 416.2h2.2v2.0h-2.2zM339.4 417.8h2.2v2.0h-2.2zM343.8 420.2h2.2v2.0h-2.2z" fill="#8287f5"/>
<path d="M361.2 447.4h2.2v2.0h-2.2z" fill="#28e10a"/>
<path d="M363.2 447.5h2.2v2.0h-2.2z" fill="#8c8c28"/>
<path d="M363.2 445.7h2.2v2.0h-2.2zM365.1 445.7h2.2v2.0h-2.2zM367.2 445.6h2.2v2.0h-2.2z" fill="#28e10a"/>
<path d="M359.6 492.1h2.2v2.0h-2.2zM361.4 492.2h2.2v2.0h-2.2zM361.4 494.1h2.2v2.0h-2.2z" fill="#8c8c28"/>
<path d="M359.5 494.1h2.2v2.0h-2.2z" fill="#28e10a"/>
<path d="M367.4 499.1h2.2v2.0h-2.2z" fill="#28e10a"/>
<path d="M288.4 485.4h2.2v2.0h-2.2z" fill="#28e10a"/>
<path d="M289.6 478.6h2.2v2.0h-2.2z" fill="#5a78e6"/>
<path d="M299.7 499.1h2.2v2.0h-2.2z" fill="#5a78e6"/>
<path d="M416.3 397.5h2.2v2.0h-2.2zM418.1 397.6h2.2v2.0h-2.2zM420.6 399.9h2.2v2.0h-2.2zM422.9 399.7h2.2v2.0h-2.2zM418.2 401.6h2.2v2.0h-2.2z" fill="#5a78e6"/>
<path d="M420.7 397.8h2.2v2.0h-2.2zM414.1 399.5h2.2v2.0h-2.2zM420.3 401.8h2.2v2.0h-2.2z" fill="#4650b4"/>
<path d="M427.2 397.8h2.2v2.0h-2.2zM429.5 397.5h2.2v2.0h-2.2zM427.0 399.5h2.2v2.0h-2.2zM429.0 399.6h2.2v2.0h-2.2z" fill="#28e10a"/>
<path d="M440.2 409.7h2.2v2.0h-2.2zM442.3 410.0h2.2v2.0h-2.2z" fill="#28e10a"/>
<path d="M444.3 409.4h2.2v2.0h-2.2zM440.0 411.9h2.2v2.0h-2.2zM442.2 411.9h2.2v2.0h-2.2zM444.6 411.7h2.2v2.0h-2.2z" fill="#4650b4"/>
<path d="M424.4 411.8h2.2v2.0h-2.2zM429.1 413.9h2.2v2.0h-2.2zM435.1 415.9h2.2v2.0h-2.2z" fill="#5a78e6"/>
<path d="M424.7 416.0h2.2v2.0h-2.2zM433.3 415.9h2.2v2.0h-2.2zM437.8 415.9h2.2v2.0h-2.2zM424.4 420.1h2.2v2.0h-2.2z" fill="#8c8c28"/>
<path d="M435.4 417.8h2.2v2.0h-2.2zM424.7 421.7h2.2v2.0h-2.2z" fill="#8287f5"/>
<path d="M444.7 449.7h2.2v2.0h-2.2zM445.2 452.0h2.2v2.0h-2.2zM449.2 452.3h2.2v2.0h-2.2z" fill="#28e10a"/>
<path d="M447.2 450.0h2.2v2.0h-2.2zM449.2 449.8h2.2v2.0h-2.2zM447.3 452.3h2.2v2.0h-2.2z" fill="#5a78e6"/>
<path d="M454.9 485.9h2.2v2.0h-2.2zM455.0 488.2h2.2v2.0h-2.2zM457.2 490.0h2.2v2.0h-2.2zM452.9 491.9h2.2v2.0h-2.2zM457.4 491.8h2.2v2.0h-2.2zM455.1 493.8h2.2v2.0h-2.2zM457.4 494.2h2.2v2.0h-2.2zM453.2 496.1h2.2v2.0h-2.2zM455.5 500.2h2.2v2.0h-2.2z" fill="#5ad714"/>
<path d="M457.4 485.8h2.2v2.0h-2.2zM457.2 487.8h2.2v2.0h-2.2zM453.1 489.9h2.2v2.0h-2.2zM459.6 489.8h2.2v2.0h-2.2zM459.7 491.8h2.2v2.0h-2.2zM459.7 494.1h2.2v2.0h-2.2zM457.3 495.8h2.2v2.0h-2.2zM453.0 497.9h2.2v2.0h-2.2zM457.1 500.0h2.2v2.0h-2.2z" fill="#b4dc3c"/>
<path d="M453.3 488.1h2.2v2.0h-2.2zM455.2 490.2h2.2v2.0h-2.2zM453.2 494.1h2.2v2.0h-2.2zM455.3 495.8h2.2v2.0h-2.2zM455.1 498.3h2.2v2.0h-2.2zM457.4 498.0h2.2v2.0h-2.2z" fill="#28e10a"/>
<path d="M466.3 480.9h2.2v2.0h-2.2z" fill="#c8f5fa"/>
<path d="M468.1 481.2h2.2v2.0h-2.2zM470.6 481.2h2.2v2.0h-2.2zM474.8 481.1h2.2v2.0h-2.2zM468.4 482.9h2.2v2.0h-2.2zM470.6 483.1h2.2v2.0h-2.2zM475.1 483.0h2.2v2.0h-2.2zM468.5 485.3h2.2v2.0h-2.2zM470.5 485.0h2.2v2.0h-2.2zM472.6 484.7h2.2v2.0h-2.2zM474.8 484.7h2.2v2.0h-2.2z" fill="#87a5fa"/>
<path d="M472.9 481.1h2.2v2.0h-2.2zM466.3 483.1h2.2v2.0h-2.2zM472.8 483.1h2.2v2.0h-2.2z" fill="#5a78e6"/>
<path d="M488.2 384.2h2.2v2.0h-2.2zM490.3 387.7h2.2v2.0h-2.2zM494.9 387.8h2.2v2.0h-2.2zM490.1 390.2h2.2v2.0h-2.2zM492.6 389.9h2.2v2.0h-2.2zM494.7 389.9h2.2v2.0h-2.2zM488.4 393.8h2.2v2.0h-2.2zM492.5 394.2h2.2v2.0h-2.2zM490.5 396.1h2.2v2.0h-2.2z" fill="#87a5fa"/>
<path d="M490.2 385.7h2.2v2.0h-2.2zM486.0 387.7h2.2v2.0h-2.2zM492.6 392.2h2.2v2.0h-2.2zM490.5 393.8h2.2v2.0h-2.2z" fill="#8287f5"/>
</g>
<path d="M286.18 513.58 L285.98 512.1 L284.59 508.41 L282.99 505.45 L281 502.49 L280.2 501.02 M300.34 513.58 L300.34 510.99 L300.54 508.41 L300.14 505.45 L301.34 502.49 L302.13 499.54 L301.34 496.58 L301.34 493.63 L302.13 491.04 L304.52 490.67 L305.72 489.2 L307.71 488.46 L310.11 487.35 L310.51 485.5 L314.09 483.65 L317.28 481.44 L320.47 478.11 L322.87 476.27 L325.66 475.53 L326.85 474.05 L328.45 472.2 L329.25 469.62 L332.04 468.88 L333.63 469.25 L335.63 469.25 L337.22 468.51 L340.01 467.77 L342.01 468.51 L343.6 466.66 L345.59 465.55 L347.99 466.66 L348.38 469.62 L349.98 472.57 L352.37 474.79 L355.16 477.37 L356.36 479.59 L358.75 482.55 L358.75 485.5 L357.56 489.56 L359.55 490.3 L362.34 490.67 L364.73 488.83 L366.73 487.72 L368.72 486.24 L370.31 487.35 L371.11 489.2 L371.51 492.15 L373.11 495.48 L373.5 499.17 L375.1 502.86 L375.1 506.19 L375.5 509.14 L375.1 512.1 L374.7 513.58 M376.69 513.58 L377.09 512.1 L377.49 510.25 L378.29 508.41 L379.09 506.56 L379.88 503.97 L380.68 502.13 L380.48 499.91 L381.48 499.17 L383.07 499.17 L384.27 499.54 L384.27 502.13 L386.26 502.49 L388.66 503.97 L391.05 505.82 L392.64 507.3 L393.44 509.14 L395.04 510.25 L397.43 510.25 L398.62 510.62 L399.82 511.73 L400.02 513.58 M406.2 513.58 L407 512.1 L408.59 510.62 L410.59 509.88 L412.58 508.78 L414.97 507.67 L416.57 506.56 L417.36 503.97 L417.76 501.76 L417.76 498.8 L416.57 495.48 L415.77 492.52 L413.78 490.3 L411.78 488.83 L409.39 486.61 L407 484.39 L405.4 482.55 L403.81 480.33 L403.41 478.11 L404.21 476.27 L405.8 474.42 L407.4 472.57 L409.39 471.46 L411.78 469.62 L414.57 469.25 L416.57 469.62 L419.36 469.99 L419.76 471.46 L419.36 473.31 L420.16 474.05 L421.75 474.05 L422.55 472.94 L422.15 470.72 L424.14 469.99 L426.93 469.25 L429.73 468.51 L432.12 467.77 L434.51 467.03 L435.71 465.92 L437.3 466.66 L439.69 465.55 L442.48 464.81 L445.67 464.44 L447.67 462.97 L450.46 461.12 L452.45 459.27 L454.85 458.16 L456.04 456.32 L458.03 455.21 L458.83 453.36 L459.23 451.14 L461.22 450.04 L462.02 448.19 L463.62 445.97 L465.21 444.13 L466.81 442.65 L468 440.43 L468 438.58 L466.01 437.84 L464.41 436.74 L466.81 435.26 L468 434.15 L467.6 432.3 L465.61 430.83 L464.02 428.61 L462.82 426.02 L461.62 422.7 L459.63 421.59 L457.64 420.48 L458.43 417.9 L460.43 416.42 L462.42 415.31 L464.41 413.83 L467.21 412.72 L470.4 412.35 L470.4 410.88 L468.4 410.51 L466.01 410.14 L463.62 409.4 L461.62 410.14 L459.23 411.62 L456.84 411.62 L456.04 410.14 L456.04 408.66 L453.65 407.55 L451.26 406.44 L450.86 404.97 L452.45 404.23 L454.85 404.6 L457.24 403.49 L458.43 401.64 L460.43 400.53 L462.82 399.42 L464.41 397.95 L466.81 397.95 L469.2 399.42 L468 401.27 L466.81 402.75 L465.61 403.49 L465.21 405.34 L466.81 405.7 L467.6 404.6 L469.6 403.49 L472.39 402.38 L474.78 402.01 L477.57 401.64 L479.96 402.38 L481.56 403.12 L481.96 404.97 L480.36 406.44 L481.56 408.66 L484.35 409.77 L486.34 410.14 L487.14 411.62 L486.34 413.09 L486.34 414.57 L486.74 416.42 L485.95 418.63 L485.55 420.85 L486.34 421.96 L488.34 421.22 L490.73 420.85 L493.52 420.11 L495.91 419.37 L497.51 418.63 L498.31 416.79 L498.31 414.2 L497.91 411.98 L496.31 409.77 L494.72 407.55 L493.12 405.7 L491.53 404.6 L490.33 403.12 L491.13 402.01 L493.52 401.27 L496.31 399.42 L499.1 398.32 L499.5 396.47 L499.9 394.62 L500.3 392.77 L501.89 391.67 M414.97 478.48 L415.37 480.7 L417.36 481.44 L418.96 481.81 L420.95 481.07 L422.55 479.59 L424.14 476.63 L424.54 475.9 L422.95 474.79 L421.35 474.79 L419.36 475.16 L417.76 475.53 L416.17 476.63 L414.97 478.48 M460.83 464.07 L461.62 465.92 L463.22 467.77 L464.02 467.77 L464.02 466.29 L465.21 464.81 L466.41 462.6 L466.81 460.38 L468 458.16 L468 456.69 L466.41 455.58 L464.41 456.69 L463.22 458.16 L461.62 460.38 L460.83 462.23 L460.83 464.07 M462.82 480.7 L464.41 480.33 L466.41 481.07 L469.2 480.7 L469.6 482.92 L469.2 485.5 L470.4 487.72 L468.4 489.2 L466.81 490.3 L466.81 492.52 L466.41 495.11 L467.6 496.58 L469.6 496.95 L471.19 496.21 L472.79 497.32 L474.38 498.43 L475.98 498.43 L476.78 501.02 L475.98 502.49 L474.38 501.02 L473.19 500.28 L470.79 499.91 L470 498.8 L468 498.06 L466.41 498.43 L464.41 498.43 L463.22 496.58 L462.82 495.48 L464.02 495.11 L462.42 494.37 L461.62 495.11 L460.83 493.63 L460.03 491.78 L459.63 489.2 L461.22 489.2 L462.02 487.72 L462.02 484.39 L462.82 480.7 M462.02 499.17 L465.21 499.54 L466.41 501.39 L465.61 503.6 L464.41 503.97 L463.62 502.13 L462.02 499.17 M468 505.08 L470.79 506.19 L472.79 508.04 L471.19 510.25 L468.8 509.88 L468.4 507.3 L468 505.08 M471.99 508.78 L473.98 510.25 L473.59 513.58 L470.4 513.58 L470 510.62 L471.99 508.78 M477.57 502.86 L480.36 502.86 L483.15 508.04 L481.16 508.41 L479.96 506.93 L477.97 504.71 L477.57 502.86 M477.57 506.56 L479.96 507.3 L480.76 510.62 L479.57 513.58 L478.37 512.1 L477.57 506.56 M475.98 507.67 L476.78 509.14 L474.78 513.58 L473.59 513.58 L475.98 507.67 M473.19 503.23 L475.58 503.97 L476.78 502.86 L474.78 502.49 L473.19 503.23 M454.85 513.58 L457.64 510.25 L458.83 507.67 L460.03 507.3 L458.43 509.88 L456.44 513.58 M485.15 425.65 L486.74 425.1 L488.14 425.47 L486.74 426.39 L485.15 426.02 L485.15 425.65 M501.89 424.55 L500.3 424.91 L499.1 426.02 L499.9 427.5 L499.5 428.61 L501.1 429.35 L500.7 430.83 L501.5 433.41 L502.29 434.52 M497.51 421.22 L498.11 421.22 L497.71 422.7 L497.11 422.33 L497.51 421.22" fill="none" stroke="#7a7a7a" stroke-width="0.7" stroke-linejoin="round"/>
</g>
<path d="M300.94 512.1 V516.4 M300.94 382.8 V378.5 M380.68 512.1 V516.4 M380.68 382.8 V378.5 M460.43 512.1 V516.4 M460.43 382.8 V378.5 M281 512.1 H276.7 M500.3 512.1 H504.6 M281 475.16 H276.7 M500.3 475.16 H504.6 M281 438.21 H276.7 M500.3 438.21 H504.6 M281 401.27 H276.7 M500.3 401.27 H504.6" stroke="#444" stroke-width="1" fill="none"/>
<path d="M281 512.1 V514.1 M281 382.8 V380.8 M320.87 512.1 V514.1 M320.87 382.8 V380.8 M340.81 512.1 V514.1 M340.81 382.8 V380.8 M360.75 512.1 V514.1 M360.75 382.8 V380.8 M400.62 512.1 V514.1 M400.62 382.8 V380.8 M420.55 512.1 V514.1 M420.55 382.8 V380.8 M440.49 512.1 V514.1 M440.49 382.8 V380.8 M480.36 512.1 V514.1 M480.36 382.8 V380.8 M500.3 512.1 V514.1 M500.3 382.8 V380.8 M281 504.71 H279 M500.3 504.71 H502.3 M281 497.32 H279 M500.3 497.32 H502.3 M281 489.93 H279 M500.3 489.93 H502.3 M281 482.55 H279 M500.3 482.55 H502.3 M281 467.77 H279 M500.3 467.77 H502.3 M281 460.38 H279 M500.3 460.38 H502.3 M281 452.99 H279 M500.3 452.99 H502.3 M281 445.6 H279 M500.3 445.6 H502.3 M281 430.83 H279 M500.3 430.83 H502.3 M281 423.44 H279 M500.3 423.44 H502.3 M281 416.05 H279 M500.3 416.05 H502.3 M281 408.66 H279 M500.3 408.66 H502.3 M281 393.88 H279 M500.3 393.88 H502.3 M281 386.49 H279 M500.3 386.49 H502.3" stroke="#8a8a8a" stroke-width="0.8" fill="none"/>
<rect x="281" y="382.8" width="219.3" height="129.3" fill="none" stroke="#4a4a4a" stroke-width="1"/>
<rect x="358.49" y="526.7" width="64.65" height="16.7" fill="#ecfcfc"/>
<rect x="455.47" y="526.7" width="35.33" height="16.7" fill="#fdeefa"/>
<rect x="310" y="529.7" width="16.46" height="10.7" fill="#cdd7fa"/>
<rect x="326.16" y="529.7" width="16.46" height="10.7" fill="#87a5fa"/>
<rect x="342.33" y="529.7" width="16.46" height="10.7" fill="#8287f5"/>
<rect x="358.49" y="529.7" width="16.46" height="10.7" fill="#1e41f5"/>
<rect x="374.65" y="529.7" width="16.46" height="10.7" fill="#19878c"/>
<rect x="390.82" y="529.7" width="16.46" height="10.7" fill="#28e10a"/>
<rect x="406.98" y="529.7" width="16.46" height="10.7" fill="#5ad714"/>
<rect x="423.15" y="529.7" width="16.46" height="10.7" fill="#fff500"/>
<rect x="439.31" y="529.7" width="16.46" height="10.7" fill="#eebb0c"/>
<rect x="455.47" y="529.7" width="16.46" height="10.7" fill="#ee7614"/>
<rect x="471.64" y="529.7" width="16.46" height="10.7" fill="#c42c14"/>
<g filter="url(#tb)"><text x="15" y="36.04" class="lb" text-anchor="end">40N</text>
<text x="15" y="71.41" class="lb" text-anchor="end">30N</text>
<text x="15" y="106.78" class="lb" text-anchor="end">20N</text>
<text x="15" y="142.15" class="lb" text-anchor="end">10N</text>
<text x="42.47" y="152.15" class="lb" text-anchor="middle">80E</text>
<text x="119.16" y="152.15" class="lb" text-anchor="middle">100E</text>
<text x="195.85" y="152.15" class="lb" text-anchor="middle">120E</text>
<text x="13.7" y="9.9" class="tt" stroke="#111" stroke-width="0.22" textLength="115.5" lengthAdjust="spacingAndGlyphs">a. CESI (MWHS07 &amp; MWTS03)</text>
<text x="51.45" y="174.95" class="lb" text-anchor="middle">-20</text>
<text x="66.91" y="174.95" class="lb" text-anchor="middle">-18</text>
<text x="82.36" y="174.95" class="lb" text-anchor="middle">-16</text>
<text x="97.82" y="174.95" class="lb" text-anchor="middle">-14</text>
<text x="113.27" y="174.95" class="lb" text-anchor="middle">-12</text>
<text x="128.73" y="174.95" class="lb" text-anchor="middle">-10</text>
<text x="144.18" y="174.95" class="lb" text-anchor="middle">-8</text>
<text x="159.64" y="174.95" class="lb" text-anchor="middle">-6</text>
<text x="175.09" y="174.95" class="lb" text-anchor="middle">-4</text>
<text x="190.55" y="174.95" class="lb" text-anchor="middle">-2</text>
<text x="206" y="174.95" class="lb" text-anchor="middle">0</text>
<text x="15.3" y="219.12" class="lb" text-anchor="end">40N</text>
<text x="15.3" y="254.46" class="lb" text-anchor="end">30N</text>
<text x="15.3" y="289.81" class="lb" text-anchor="end">20N</text>
<text x="15.3" y="325.15" class="lb" text-anchor="end">10N</text>
<text x="42.72" y="335.75" class="lb" text-anchor="middle">80E</text>
<text x="119.19" y="335.75" class="lb" text-anchor="middle">100E</text>
<text x="195.66" y="335.75" class="lb" text-anchor="middle">120E</text>
<text x="12.9" y="193.5" class="tt" stroke="#111" stroke-width="0.22" textLength="116" lengthAdjust="spacingAndGlyphs">b. CESI (MWHS06 &amp; MWTS05)</text>
<text x="51.44" y="358.55" class="lb" text-anchor="middle">-10</text>
<text x="66.87" y="358.55" class="lb" text-anchor="middle">-9</text>
<text x="82.31" y="358.55" class="lb" text-anchor="middle">-8</text>
<text x="97.75" y="358.55" class="lb" text-anchor="middle">-7</text>
<text x="113.18" y="358.55" class="lb" text-anchor="middle">-6</text>
<text x="128.62" y="358.55" class="lb" text-anchor="middle">-5</text>
<text x="144.05" y="358.55" class="lb" text-anchor="middle">-4</text>
<text x="159.49" y="358.55" class="lb" text-anchor="middle">-3</text>
<text x="174.93" y="358.55" class="lb" text-anchor="middle">-2</text>
<text x="190.36" y="358.55" class="lb" text-anchor="middle">-1</text>
<text x="205.8" y="358.55" class="lb" text-anchor="middle">0</text>
<text x="15.2" y="402.55" class="lb" text-anchor="end">40N</text>
<text x="15.2" y="437.95" class="lb" text-anchor="end">30N</text>
<text x="15.2" y="473.35" class="lb" text-anchor="end">20N</text>
<text x="15.2" y="508.75" class="lb" text-anchor="end">10N</text>
<text x="42.65" y="519.35" class="lb" text-anchor="middle">80E</text>
<text x="119.23" y="519.35" class="lb" text-anchor="middle">100E</text>
<text x="195.81" y="519.35" class="lb" text-anchor="middle">120E</text>
<text x="13.4" y="377.3" class="tt" stroke="#111" stroke-width="0.22" textLength="116" lengthAdjust="spacingAndGlyphs">c. CESI (MWHS05 &amp; MWTS06)</text>
<text x="51.44" y="541.85" class="lb" text-anchor="middle">-5</text>
<text x="66.87" y="541.85" class="lb" text-anchor="middle">-4.5</text>
<text x="82.31" y="541.85" class="lb" text-anchor="middle">-4</text>
<text x="97.75" y="541.85" class="lb" text-anchor="middle">-3.5</text>
<text x="113.18" y="541.85" class="lb" text-anchor="middle">-3</text>
<text x="128.62" y="541.85" class="lb" text-anchor="middle">-2.5</text>
<text x="144.05" y="541.85" class="lb" text-anchor="middle">-2</text>
<text x="159.49" y="541.85" class="lb" text-anchor="middle">-1.5</text>
<text x="174.93" y="541.85" class="lb" text-anchor="middle">-1</text>
<text x="190.36" y="541.85" class="lb" text-anchor="middle">-0.5</text>
<text x="205.8" y="541.85" class="lb" text-anchor="middle">0</text>
<text x="272.3" y="36.24" class="lb" text-anchor="end">40N</text>
<text x="272.3" y="72.41" class="lb" text-anchor="end">30N</text>
<text x="272.3" y="108.58" class="lb" text-anchor="end">20N</text>
<text x="272.3" y="144.75" class="lb" text-anchor="end">10N</text>
<text x="300.24" y="155.65" class="lb" text-anchor="middle">80E</text>
<text x="378.78" y="155.65" class="lb" text-anchor="middle">100E</text>
<text x="457.33" y="155.65" class="lb" text-anchor="middle">120E</text>
<text x="269.6" y="10" class="tt" stroke="#111" stroke-width="0.22" textLength="94.4" lengthAdjust="spacingAndGlyphs">d. Total Water @ 0.5 km</text>
<text x="309.4" y="178.55" class="lb" text-anchor="middle">0</text>
<text x="325.23" y="178.55" class="lb" text-anchor="middle">0.05</text>
<text x="341.05" y="178.55" class="lb" text-anchor="middle">0.1</text>
<text x="356.88" y="178.55" class="lb" text-anchor="middle">0.15</text>
<text x="372.71" y="178.55" class="lb" text-anchor="middle">0.2</text>
<text x="388.54" y="178.55" class="lb" text-anchor="middle">0.25</text>
<text x="404.36" y="178.55" class="lb" text-anchor="middle">0.3</text>
<text x="420.19" y="178.55" class="lb" text-anchor="middle">0.35</text>
<text x="436.02" y="178.55" class="lb" text-anchor="middle">0.4</text>
<text x="451.85" y="178.55" class="lb" text-anchor="middle">0.45</text>
<text x="467.67" y="178.55" class="lb" text-anchor="middle">0.5</text>
<text x="272.6" y="219.95" class="lb" text-anchor="end">40N</text>
<text x="272.6" y="256.55" class="lb" text-anchor="end">30N</text>
<text x="272.6" y="293.15" class="lb" text-anchor="end">20N</text>
<text x="272.6" y="329.75" class="lb" text-anchor="end">10N</text>
<text x="300.8" y="341.45" class="lb" text-anchor="middle">80E</text>
<text x="380.4" y="341.45" class="lb" text-anchor="middle">100E</text>
<text x="460" y="341.45" class="lb" text-anchor="middle">120E</text>
<text x="272.4" y="193.6" class="tt" stroke="#111" stroke-width="0.22" textLength="88.8" lengthAdjust="spacingAndGlyphs">e. Total Water @ 6 km</text>
<text x="310" y="364.55" class="lb" text-anchor="middle">0</text>
<text x="326.12" y="364.55" class="lb" text-anchor="middle">0.05</text>
<text x="342.24" y="364.55" class="lb" text-anchor="middle">0.1</text>
<text x="358.35" y="364.55" class="lb" text-anchor="middle">0.15</text>
<text x="374.47" y="364.55" class="lb" text-anchor="middle">0.2</text>
<text x="390.59" y="364.55" class="lb" text-anchor="middle">0.25</text>
<text x="406.71" y="364.55" class="lb" text-anchor="middle">0.3</text>
<text x="422.83" y="364.55" class="lb" text-anchor="middle">0.35</text>
<text x="438.95" y="364.55" class="lb" text-anchor="middle">0.4</text>
<text x="455.06" y="364.55" class="lb" text-anchor="middle">0.45</text>
<text x="471.18" y="364.55" class="lb" text-anchor="middle">0.5</text>
<text x="272.7" y="403.42" class="lb" text-anchor="end">40N</text>
<text x="272.7" y="440.36" class="lb" text-anchor="end">30N</text>
<text x="272.7" y="477.31" class="lb" text-anchor="end">20N</text>
<text x="272.7" y="514.25" class="lb" text-anchor="end">10N</text>
<text x="300.94" y="525.25" class="lb" text-anchor="middle">80E</text>
<text x="380.68" y="525.25" class="lb" text-anchor="middle">100E</text>
<text x="460.43" y="525.25" class="lb" text-anchor="middle">120E</text>
<text x="273.5" y="377" class="tt" stroke="#111" stroke-width="0.22" textLength="89" lengthAdjust="spacingAndGlyphs">f. Total Water @ 9 km</text>
<text x="310" y="548.85" class="lb" text-anchor="middle">0</text>
<text x="326.16" y="548.85" class="lb" text-anchor="middle">0.03</text>
<text x="342.33" y="548.85" class="lb" text-anchor="middle">0.06</text>
<text x="358.49" y="548.85" class="lb" text-anchor="middle">0.09</text>
<text x="374.65" y="548.85" class="lb" text-anchor="middle">0.12</text>
<text x="390.82" y="548.85" class="lb" text-anchor="middle">0.15</text>
<text x="406.98" y="548.85" class="lb" text-anchor="middle">0.18</text>
<text x="423.15" y="548.85" class="lb" text-anchor="middle">0.21</text>
<text x="439.31" y="548.85" class="lb" text-anchor="middle">0.24</text>
<text x="455.47" y="548.85" class="lb" text-anchor="middle">0.27</text>
<text x="471.64" y="548.85" class="lb" text-anchor="middle">0.3</text></g>
</svg>
</body></html>
